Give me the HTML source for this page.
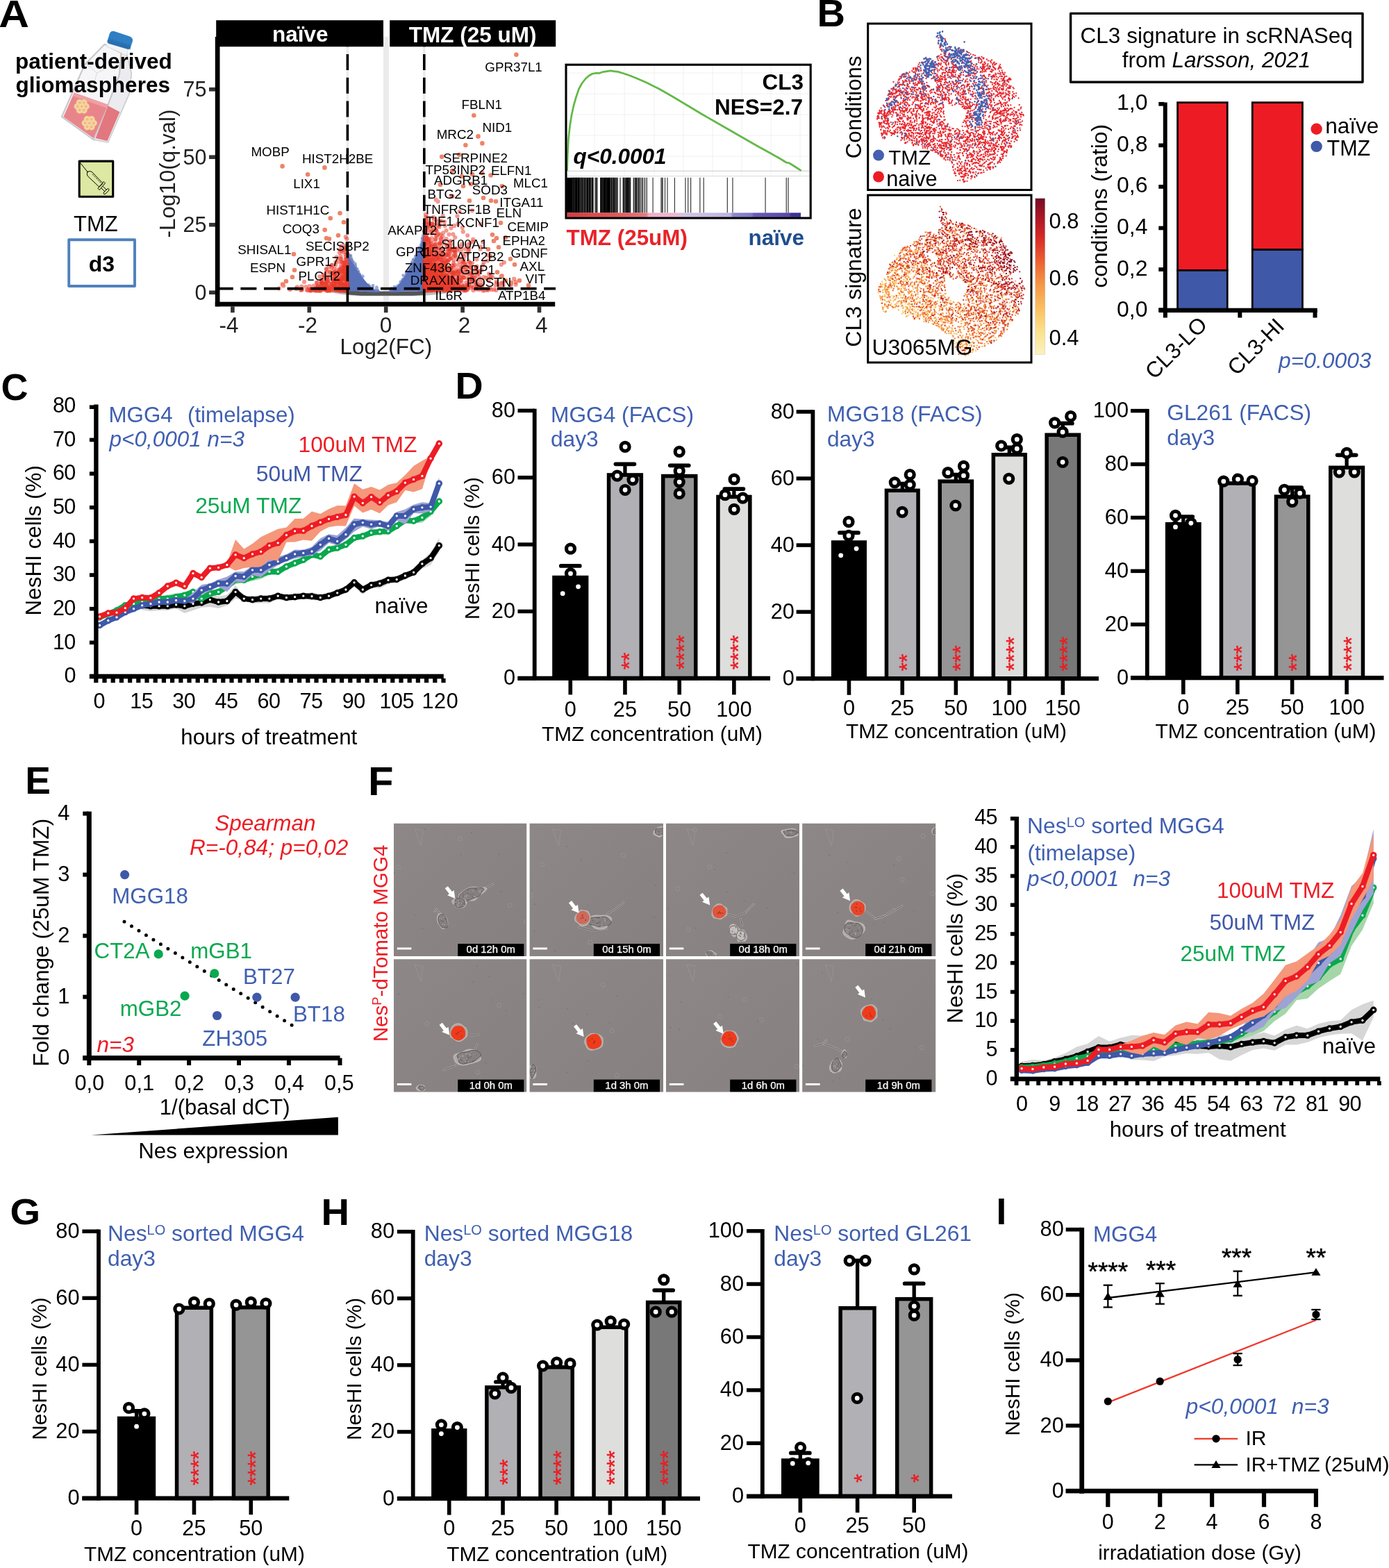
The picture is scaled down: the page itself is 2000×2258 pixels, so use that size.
<!DOCTYPE html>
<html lang="en"><head><meta charset="utf-8"><title>Figure</title>
<style>html,body{margin:0;padding:0;background:#fff;overflow:hidden}svg{display:block}text{font-family:"Liberation Sans", sans-serif;}</style>
</head><body>
<svg width="2000" height="2258" viewBox="0 0 2000 2258">
<rect width="2000" height="2258" fill="#fff"/>
<g id="pA">
<text x="-1.7" y="39" font-size="55" font-weight="bold" transform="scale(1.1 1)">A</text>
<polygon points="174.4,76.2 181.4,73.8 189.3,105.6 186.4,134.4 155.5,205.0 134.6,201.1 171.9,107.6" fill="#ececf0" stroke="#cdcdd1" stroke-width="1.7" stroke-linejoin="round"/>
<polygon points="150.6,63.8 174.4,76.2 171.9,107.6 155.5,150.8 134.6,201.1 88.9,168.2 121.7,93.6" fill="#f6f6f8" stroke="#c9c9cd" stroke-width="2.2" stroke-linejoin="round"/>
<polygon points="156.0,62.0 185.0,71.0 182.0,80.0 174.4,76.2 152.0,66.0" fill="#f3f3f5" stroke="#d0d0d4" stroke-width="0.6"/>
<polyline points="125.0,93.0 139.5,105.0 151.0,99.5" fill="none" stroke="#d2d2d6" stroke-width="0.8"/>
<polyline points="139.5,105.0 136.0,118.0" fill="none" stroke="#d2d2d6" stroke-width="0.8"/>
<polygon points="155.5,152.3 172.4,161.3 154.5,203.0 137.6,199.1" fill="#e2777f"/>
<polygon points="106.8,133.4 155.5,150.8 134.6,199.1 91.4,168.2" fill="#e8858b"/>
<polygon points="106.8,133.4 155.5,150.8 153.5,155.5 104.6,138.2" fill="#f0a0a4"/>
<circle cx="124.0" cy="153.3" r="4.6" fill="#f6d7a0" stroke="#f0be8c" stroke-width="0.6"/>
<circle cx="120.9" cy="158.8" r="4.6" fill="#f6d7a0" stroke="#f0be8c" stroke-width="0.6"/>
<circle cx="114.6" cy="158.8" r="4.6" fill="#f6d7a0" stroke="#f0be8c" stroke-width="0.6"/>
<circle cx="111.4" cy="153.3" r="4.6" fill="#f6d7a0" stroke="#f0be8c" stroke-width="0.6"/>
<circle cx="114.5" cy="147.8" r="4.6" fill="#f6d7a0" stroke="#f0be8c" stroke-width="0.6"/>
<circle cx="120.9" cy="147.8" r="4.6" fill="#f6d7a0" stroke="#f0be8c" stroke-width="0.6"/>
<circle cx="117.7" cy="153.3" r="4.6" fill="#f6d7a0" stroke="#f0be8c" stroke-width="0.6"/>
<circle cx="124.0" cy="153.3" r="1.7" fill="#f0b587"/>
<circle cx="120.9" cy="158.8" r="1.7" fill="#f0b587"/>
<circle cx="114.6" cy="158.8" r="1.7" fill="#f0b587"/>
<circle cx="111.4" cy="153.3" r="1.7" fill="#f0b587"/>
<circle cx="114.5" cy="147.8" r="1.7" fill="#f0b587"/>
<circle cx="120.9" cy="147.8" r="1.7" fill="#f0b587"/>
<circle cx="117.7" cy="153.3" r="1.7" fill="#f0b587"/>
<circle cx="135.0" cy="177.2" r="4.6" fill="#f6d7a0" stroke="#f0be8c" stroke-width="0.6"/>
<circle cx="131.8" cy="182.7" r="4.6" fill="#f6d7a0" stroke="#f0be8c" stroke-width="0.6"/>
<circle cx="125.5" cy="182.7" r="4.6" fill="#f6d7a0" stroke="#f0be8c" stroke-width="0.6"/>
<circle cx="122.4" cy="177.2" r="4.6" fill="#f6d7a0" stroke="#f0be8c" stroke-width="0.6"/>
<circle cx="125.5" cy="171.7" r="4.6" fill="#f6d7a0" stroke="#f0be8c" stroke-width="0.6"/>
<circle cx="131.8" cy="171.7" r="4.6" fill="#f6d7a0" stroke="#f0be8c" stroke-width="0.6"/>
<circle cx="128.7" cy="177.2" r="4.6" fill="#f6d7a0" stroke="#f0be8c" stroke-width="0.6"/>
<circle cx="135.0" cy="177.2" r="1.7" fill="#f0b587"/>
<circle cx="131.8" cy="182.7" r="1.7" fill="#f0b587"/>
<circle cx="125.5" cy="182.7" r="1.7" fill="#f0b587"/>
<circle cx="122.4" cy="177.2" r="1.7" fill="#f0b587"/>
<circle cx="125.5" cy="171.7" r="1.7" fill="#f0b587"/>
<circle cx="131.8" cy="171.7" r="1.7" fill="#f0b587"/>
<circle cx="128.7" cy="177.2" r="1.7" fill="#f0b587"/>
<path d="M157.2,50.5 Q158.5,44 164.5,45 L187,52.4 Q192.5,55 190.6,60.5 L187.6,69.3 Q186.3,71.6 183,70.6 L156.6,62.7 Q153.8,61.3 154.7,58.6 Z" fill="#2f7fc4"/>
<path d="M156.2,56.5 L188.6,66.5 L187.6,69.3 Q186.3,71.6 183,70.6 L156.6,62.7 Q153.8,61.3 154.7,58.6 Z" fill="#2668a8" opacity="0.55"/>
<line x1="158.50" y1="55.00" x2="161.10" y2="63.20" stroke="#2668a8" stroke-width="0.9"/>
<line x1="161.80" y1="56.02" x2="164.40" y2="64.22" stroke="#2668a8" stroke-width="0.9"/>
<line x1="165.10" y1="57.04" x2="167.70" y2="65.24" stroke="#2668a8" stroke-width="0.9"/>
<line x1="168.40" y1="58.06" x2="171.00" y2="66.26" stroke="#2668a8" stroke-width="0.9"/>
<line x1="171.70" y1="59.08" x2="174.30" y2="67.28" stroke="#2668a8" stroke-width="0.9"/>
<line x1="175.00" y1="60.10" x2="177.60" y2="68.30" stroke="#2668a8" stroke-width="0.9"/>
<line x1="178.30" y1="61.12" x2="180.90" y2="69.32" stroke="#2668a8" stroke-width="0.9"/>
<line x1="181.60" y1="62.14" x2="184.20" y2="70.34" stroke="#2668a8" stroke-width="0.9"/>
<line x1="184.90" y1="63.16" x2="187.50" y2="71.36" stroke="#2668a8" stroke-width="0.9"/>
<text x="22" y="98.6" font-size="31.5" font-weight="bold">patient-derived</text>
<text x="22.6" y="132.6" font-size="31.5" font-weight="bold">gliomaspheres</text>
<rect x="114.20" y="232.10" width="48.50" height="51.10" fill="#dde8a3" stroke="#000" stroke-width="3.1" stroke-linejoin="round"/>
<g fill="none" stroke="#000" stroke-width="1" stroke-linecap="round" stroke-linejoin="round">
<line x1="115.60" y1="234.60" x2="126.00" y2="247.40" stroke="#000" stroke-width="1"/>
<path d="M126,247.4 Q129.5,245.5 132.5,247.6 L148.2,264.2 L143,269.4 L126.3,253.6 Q124.2,250.6 126,247.4 Z" fill="none"/>
<path d="M149.5,261.8 L151.5,263.8 L143.2,273.6 L141.2,271.6 Z" fill="none"/>
<path d="M148.7,268.8 L153.5,273.6 M146.2,271.2 L151,276" fill="none"/>
<path d="M155.8,271.5 Q157.8,272.3 156.8,274.2 L151.8,279.3 Q150,280.3 149,278.6 Q149,277.2 150.4,275.8 Z" fill="none"/>
<line x1="133.00" y1="251.00" x2="134.50" y2="252.30" stroke="#000" stroke-width="0.7"/>
<line x1="135.60" y1="253.70" x2="137.10" y2="255.00" stroke="#000" stroke-width="0.7"/>
<line x1="138.20" y1="256.40" x2="139.70" y2="257.70" stroke="#000" stroke-width="0.7"/>
<line x1="140.80" y1="259.10" x2="142.30" y2="260.40" stroke="#000" stroke-width="0.7"/>
<line x1="143.40" y1="261.80" x2="144.90" y2="263.10" stroke="#000" stroke-width="0.7"/>
</g>
<text x="106.1" y="332.8" font-size="31">TMZ</text>
<rect x="99.20" y="345.20" width="94.80" height="66.80" fill="#fff" stroke="#4f81bd" stroke-width="3.9" stroke-linejoin="round"/>
<text x="146.3" y="390.7" font-size="32" text-anchor="middle" font-weight="bold">d3</text>
<rect x="552.00" y="53.00" width="8.00" height="383.00" fill="#ebebeb"/>
<rect x="498.60" y="67.00" width="3.60" height="369.00" fill="#ebebeb"/>
<rect x="609.00" y="67.00" width="3.60" height="369.00" fill="#ebebeb"/>
<path d="M470,417 Q500,419.5 520,421 L600,421 Q630,419 665,417 L650,421.5 Q620,425.5 600,426.2 L520,426.2 Q495,425.5 470,420 Z" fill="#bdbdbd"/>
<path d="M501,418 L520,419.4 L600,419.4 L611,418.2 L611,424.4 L595,425.8 L520,425.8 L501,424.2 Z" fill="#555"/>
<polygon points="501.5,419.5 500.5,367.0 502.2,369.8 503.8,372.6 505.5,375.3 507.1,378.0 508.8,380.6 510.4,383.2 512.1,385.8 513.7,388.2 515.4,390.6 517.1,393.0 518.7,395.3 520.4,397.5 522.0,399.7 523.7,401.8 525.3,403.8 527.0,405.8 528.7,407.7 530.3,409.5 532.0,411.2 533.6,412.8 535.3,414.3 536.9,415.8 538.6,417.1 540.2,418.3 541.9,419.3 543.6,420.1 545.2,420.7 548.0,419.5" fill="#5872b9"/>
<polygon points="610.5,419.5 610.9,321.4 609.2,338.5 607.6,347.8 605.9,353.7 604.3,358.2 602.6,362.1 601.0,365.6 599.3,369.0 597.7,372.3 596.0,375.4 594.3,378.6 592.7,381.6 591.0,384.5 589.4,387.4 587.7,390.2 586.1,393.0 584.4,395.6 582.7,398.2 581.1,400.7 579.4,403.0 577.8,405.3 576.1,407.5 574.5,409.6 572.8,411.6 571.2,413.4 569.5,415.1 567.8,416.7 566.2,418.1 564.5,419.3 562.9,420.3 561.2,420.8 560.0,419.5" fill="#5872b9"/>
<path d="M501.7 368.8h0m.3-2.1h0m.3 3.9h0m.4 1.1h0m.5 2.3h0m0-4.2h0m.1 5.4h0m.4-7.3h0m1.3 .2h0m.1 1.5h0m.4 11.1h0m.3-8.5h0m.3 0h0m.1 11h0m.6-7.7h0m.1 5.8h0m.1-1.9h0m.6 4.2h0m.3-4.6h0m.1 2.7h0m1.2 7.1h0m.5-3.7h0m1.7-1.8h0m.2 5.9h0m.2-6.7h0m.2 .9h0m0 2.4h0m.3 6.1h0m.7-.4h0m1.1 6.2h0m.1-8.6h0m.3-1.9h0m.1 5.8h0m.2 1.4h0m.3-4.1h0m.4-.2h0m.1 4.7h0m2 7.2h0m.2-7.3h0m.6 3.1h0m1.9 2.7h0m1.8 3h0m.5 2.8h0m.3-1.8h0m.2 8.2h0m.5-3.3h0m.9 8.7h0m1-8.1h0m.5-.7h0m1 3.6h0m1.7 1.9h0m.3-2.7h0m.6 2.7h0m.8-4.4h0m.1 5.9h0m0 1h0m.1-3.4h0m1.2 2.4h0m.6 2.6h0m.3-.9h0m0-2.3h0m.8 3.2h0m.1 0h0m3.1 0h0m.3 0h0m.1-7.8h0m1.5 7.8h0m.1 0h0m.5 0h0m.9 0h0m1.3 0h0m.8 0h0m.9 0h0m.2-.4h0m.1 .4h0m.2 0h0m.4 0h0m18.4 0h0m.9 0h0m.1-3.1h0m.3 3.1h0m.9 0h0m.8-2.5h0m.5 .9h0m1 1.6h0m.5 0h0m.2 0h0m.2-.3h0m.2 .3h0m0 0h0m2.1 0h0m.7-3.9h0m.3 1.7h0m.8-2.8h0m.4 2.2h0m1.1 2.8h0m1-3.4h0m.1-4.2h0m.1 3.5h0m.7-3.3h0m0-1.4h0m0 2.8h0m2.2 1h0m.2-4.1h0m.8-1h0m.1-2.1h0m.6-3.2h0m.3 2.8h0m.8-4h0m.3-5.7h0m.5 13.9h0m.8-7.3h0m.7 6.6h0m.6-8.9h0m.5-.9h0m.2-2.8h0m.3 .1h0m1.3-4.5h0m.3 6.5h0m.6-5h0m1.2-.5h0m.1 2.7h0m.1-6.7h0m.5 2h0m.4-5.3h0m1.6 1.2h0m.1 .4h0m2.6-9h0m.5 2.2h0m2-8.1h0m1.1 5.9h0m1.5-9.9h0m.4 4.9h0m1.1-1.4h0m.6-.6h0m.9-8h0m1.4 .2h0m.4 .7h0m.5-2.5h0m.1 1.6h0m0-8h0m.5 2h0m1.8 1.4h0m.2-3.2h0m1.4-2.8h0m.3-2.3h0m.4-8.7h0m.4 6.8h0m1.3-16.1h0m.9-7.5h0" fill="none" stroke="#5872b9" stroke-width="4.6" stroke-linecap="round" stroke-opacity="0.6"/>
<path d="M500.5 364.9h0m.2 2.8h0m.3 1.1h0m.3 0h0m1 7.4h0m.8-4.4h0m.1-3.2h0m.4 2.9h0m.2 3.9h0m.3-6.6h0m.4 5.3h0m.8 2.2h0m0 0h0m.6 2.3h0m.4-4.4h0m.1 2.9h0m.3 .7h0m0-2.4h0m.8 1h0m.8 5.9h0m.7 .2h0m0-5h0m.1 6.2h0m1.1 2.7h0m.2-.8h0m1 4.4h0m.1-5h0m0-5.2h0m.1 7.6h0m.8 .6h0m.3-1h0m.1 9.5h0m.3-.7h0m2.3-2h0m.2 .4h0m.6-2.4h0m.7 7.1h0m.1 1.4h0m.1-4.9h0m.5 3.7h0m.1 6.4h0m.5-8.9h0m.8 4h0m1.5-2h0m1.5-1h0m.3 17.5h0m.2-16.8h0m.3 13.4h0m1-5.3h0m.4 2.8h0m.9 2.6h0m.5 1.1h0m1.7 4.5h0m.3-6.2h0m1.1-.3h0m.2 7.7h0m1.4 .3h0m.6-3.7h0m1.4 3.5h0m.2-6.4h0m1.5 3.3h0m.4-.4h0m2.4-.7h0m.8 4.4h0m0 0h0m.8 0h0m1.6 0h0m.8 0h0m.7-1h0m.1 1h0m.2-3h0m.3 3h0m.2-5.3h0m.4 2.8h0m0-2.2h0m1.6 4.7h0m18.5-1.7h0m1.4-.2h0m.1-1.1h0m.1-.2h0m2 3.2h0m.3-1.9h0m.6 1.3h0m.6-5.2h0m.1 5.8h0m.4 0h0m.2-3.2h0m.4 3.2h0m.5 0h0m.2-1.8h0m.4 1.8h0m1-1h0m0-1h0m1.2-2.8h0m.3-2.2h0m.2 1.5h0m1 .1h0m.8 1.6h0m2-9.2h0m2.9 3.7h0m.5-4.7h0m.4-.5h0m.1 3.5h0m.3-5.9h0m1.7-1.3h0m0 8.4h0m.2-2h0m.5-8h0m.8 .5h0m1-5.9h0m.4 0h0m.5 5.3h0m.5-2.2h0m.1 5.2h0m0-9.4h0m1.3 1.4h0m1.1-1.6h0m.9-.7h0m.8-2.6h0m1.1-.8h0m.1-2h0m.1 .1h0m.3 2h0m1.5-11.3h0m1-2h0m.4 9.3h0m0-5.4h0m.9-2.4h0m.4 0h0m1.8-1.9h0m.8-2.4h0m.2-4.1h0m.4 .6h0m.5 2.6h0m.5-6h0m.1-5.7h0m.6 8.1h0m.6-1.4h0m.2-7.9h0m1.5 4.8h0m.2 .7h0m.3 2h0m2.1-13.8h0m.6 4h0m.7-7.8h0m.5-2.5h0m0-1.1h0m.8 2.4h0m.5-8.5h0m1.4-16.4h0" fill="none" stroke="#5872b9" stroke-width="4.6" stroke-linecap="round" stroke-opacity="0.6"/>
<path d="M447.5 418.4h0m2.8-1.1h0m2.4 .9h0m1.3 .3h0m.4-3.6h0m1.2 2.6h0m.8 .8h0m.4-11.1h0m1.1 10.8h0m2.1-.3h0m2.1-10.3h0m1.9 5.6h0m.2 3.8h0m1.4-1.8h0m.8 2h0m.9-8.3h0m2 5.9h0m.9-26.7h0m.2 24.2h0m3-28.2h0m.2 32.7h0m0-31.9h0m1.4 7.3h0m3.2-10.3h0m.6 26.5h0m1.6 9.4h0m.1-8.3h0m.5 3.2h0m.1 5.1h0m.6-13.7h0m.5-21h0m.9 26.9h0m.2-28.3h0m.8 13.4h0m.4-6h0m.3 29.1h0m1-8.6h0m1.1 1.5h0m.2-22.6h0m.6 27.8h0m.4-1.7h0m.1-10.3h0m.7 10.9h0m.2-27.2h0m.4 30.6h0m.2-9.5h0m.2 7.7h0m.8-47.4h0m.8 31.6h0m.1-39.4h0m.4 55.5h0m1.1-17.2h0m.3-9h0m.2 9.6h0m.8 18.3h0m.1-36.1h0m.1 27.7h0m1.7-21.3h0m.1 29.9h0m.1-6.3h0m0 4.1h0m.6-21.8h0m.1-38.1h0m.3 56.2h0m0-18.8h0m0 6.5h0m.1-34.1h0m.4 7h0m.3 39h0m0-.9h0m.1 1.7h0m.1-9.5h0m.2-46.3h0m.6 48.3h0m0 3.9h0m.3-42.7h0m.1 17.7h0m0 4.8h0m.2 13.8h0m0-12h0m.2 27.5h0m.1-.3h0m.1-.1h0m.2-.6h0m110.6-54.7h0m0 15.4h0m0-11.9h0m.1-34.8h0m0 73.5h0m.3-5.4h0m.1 14.3h0m0-16.3h0m0-31.1h0m.1 30.6h0m.3-24.1h0m.2-26.9h0m0 69.5h0m.1-14.7h0m.1-7h0m0 12.2h0m0-48.3h0m0 52.4h0m.2 7.8h0m0-5.1h0m.4-31.7h0m.1-12.2h0m.1-60.1h0m.1 64.4h0m.1-23.6h0m0 57.9h0m.1 7.3h0m.1-21h0m.1-85.4h0m0 96.9h0m.1 12.1h0m0-79.1h0m.1-14.6h0m.6-7.9h0m0 78h0m0-52.4h0m0 58.6h0m.1-15.1h0m0 .6h0m.1 28.7h0m.3-27.6h0m0-67.2h0m.1 47.2h0m0 22.2h0m.2-4.3h0m0-49.5h0m.2 74.1h0m.1-36.4h0m.1 42.2h0m.3-4.1h0m.1 4.7h0m0-33h0m0 28.3h0m.1-10.6h0m0-55.8h0m.1 47.7h0m0 22h0m0-6.9h0m.1-20.9h0m.1-40.2h0m.1 62.9h0m.1 8h0m.2-.9h0m.1-57.2h0m.1 42.2h0m0 10.3h0m.2 5.8h0m0-.2h0m.1-10.9h0m0 5.5h0m.1-.9h0m0-97h0m.2 95.7h0m.1 5.5h0m0-10.2h0m0 10.4h0m.1-54.3h0m.1 50.7h0m0-29.8h0m0-61.1h0m.2 64.3h0m.1-7.6h0m0 5.1h0m.1 .3h0m0-57.2h0m.1 39.3h0m0 46.5h0m0 4.7h0m.2 .9h0m0-2.6h0m.2-6.9h0m.1-7.6h0m.3-7.9h0m.2-15.9h0m0 36.9h0m0-48.8h0m.3 52.4h0m.3-15.3h0m.1-37h0m.1 47.9h0m0 5.2h0m.1-23.8h0m.3 7.7h0m.2-46.4h0m.4 27.6h0m.2 15.4h0m.1 7.1h0m.7 12.6h0m.2-13.7h0m.1-2.7h0m.3 13.2h0m.1-28.9h0m.1 8.6h0m.1-.9h0m.2-70.4h0m0 65.8h0m.1 24.6h0m0-26.5h0m0-16.8h0m.1 46.9h0m.1-20.7h0m0-22.7h0m.1-5.7h0m0 23.3h0m0 6.1h0m.1-14.2h0m.3 14.3h0m0 18.1h0m.2-27h0m.1-21.2h0m0 12.5h0m.1 35.9h0m0-31.3h0m0 5.6h0m.2 15h0m0-39.6h0m.1 31.8h0m.1 17.7h0m.1-49.6h0m.1 27.7h0m.7 .2h0m.2-39.5h0m.2 35.7h0m0-17.9h0m.3 .8h0m.3 36.3h0m.1 3.7h0m.1-7.2h0m.1-9.2h0m.1-10.3h0m.3 25.2h0m.1-123.2h0m.2 51.9h0m.3 73.2h0m.3-27.4h0m.1 13h0m.2-29.4h0m.2 11.8h0m0 23.4h0m.2-84.3h0m.3 91.2h0m.1 4.5h0m.1-17.4h0m0 2.5h0m.1-29.8h0m0 36.5h0m.1-70h0m.2 66.9h0m.3-28.9h0m.2-85.2h0m.2 99.3h0m0 18.1h0m.2-23.3h0m0 29.8h0m.1 1.1h0m.1-12.2h0m0-35.7h0m0 25.7h0m.1 3.8h0m.3 19.2h0m.2-15.2h0m.1-7.5h0m.1 22.7h0m.5-20.3h0m.1 1.3h0m0-78.6h0m.2 5.9h0m.3 87.2h0m.1-38.1h0m0 20.4h0m.2-23.4h0m1.1 8.3h0m0 12.7h0m.4 20.6h0m.1 .7h0m.1-67.9h0m0-1.3h0m.1 23.6h0m.8 28.4h0m.7-15.9h0m0 14.5h0m.3 22.1h0m.2-65.5h0m.2 27.7h0m.2 12h0m.1-41.5h0m.1 33.4h0m.1 12.6h0m.1-27.5h0m.3 36.6h0m.8 13.2h0m.9-7.3h0m0-23.9h0m.2 14.7h0m0-54.2h0m.1 57.4h0m.2-28.5h0m.8 41.4h0m0-35.5h0m.1 37.1h0m.9-36.4h0m.4-38h0m.6 50.3h0m.6-40.7h0m.2 55.4h0m0-14.8h0m.6-35.1h0m.7 7.3h0m.1-.7h0m.3 9.1h0m.4 27.3h0m.2 13.1h0m0 1.5h0m1.3-6.7h0m.5-25.7h0m.2 23.3h0m.2 .8h0m.2-37.3h0m.4 46.3h0m0-17h0m.2 5h0m0-77h0m.6 77.9h0m0 7h0m.2-3.3h0m.3 6.6h0m.2-6.7h0m.5-51.6h0m.5-75.3h0m.1 115h0m0-6.4h0m.6-54.3h0m.1 56.7h0m1 21.7h0m.1-41.1h0m.2 31.7h0m.1-39.2h0m.1 14.5h0m.3 26.6h0m.7-44.8h0m.7 5.1h0m0 1.8h0m2.7 41.2h0m1.1-10.7h0m.2 8.6h0m.2-18.5h0m.4 4.9h0m.6 18.9h0m.9-24.7h0m.5 9.1h0m.7-9h0m0 24h0m.4 1.8h0m1.8-64.4h0m2.6 23.3h0m.4 43.3h0m2.5-29.9h0m1.6 24h0m2.3-55.1h0m.9 53h0m1.6-25.1h0m.7 17.9h0m0-24.1h0m.3 35.5h0m1.6-19.2h0m.3-16.1h0m.3 23.3h0m8.5 9.9h0m.4-20.6h0m2.7 11.8h0m.3 12.3h0m1.5-26.9h0m2.9 10.2h0m5.6 17.7h0m5.3 .5h0m14.3-36.1h0m1 16.1h0m13 10.9h0m6.9 1.6h0" fill="none" stroke="#e93323" stroke-width="6.2" stroke-linecap="round" stroke-opacity="0.5"/>
<path d="M402 415.3h0m30.8 2.5h0m7.5-4.7h0m1.5 4.4h0m3.9-.3h0m6.8 .6h0m5-4.7h0m2.8-14.8h0m.9 16.6h0m1 3.4h0m1.4-1h0m.5-9.5h0m1 8.2h0m.8-6.8h0m.5 4.5h0m.9-15.2h0m.5 16.9h0m1.5 1.5h0m.4-11h0m.1-18.5h0m.2 30.1h0m.2-12.3h0m.7 .2h0m1.7-3h0m.7 11.7h0m.2 4.2h0m.8-20.4h0m.8 16.8h0m.4 4.1h0m1.5-10.1h0m.7-26.7h0m1.4 28.3h0m.5-16.3h0m.3 12.7h0m0 8.6h0m.6-14.4h0m.4-.2h0m.3 11h0m.1-19.7h0m.6 15.7h0m.1-9.8h0m1.5-20.6h0m0 32h0m.6-8.9h0m0 14.1h0m.4-23h0m.9 18.1h0m.2 4.9h0m.2-1.2h0m.1 3.6h0m3.1-27.7h0m.1 0h0m.4-29.6h0m.1 51.4h0m.6-20.2h0m.1 12.9h0m.1-.1h0m0 15h0m.3-.5h0m1-11h0m.1 9.3h0m.1-28.6h0m.2 14.8h0m.8 8.1h0m.5 8h0m.2-40.9h0m.8 24.1h0m.2 8.9h0m.1-25.7h0m1.8 6.3h0m.1 10.8h0m.7-8.8h0m.5-23.2h0m.6 44.2h0m.4-23.3h0m0-9.4h0m.5 19.2h0m.2-5.5h0m.2 11.6h0m0-41h0m.1 9.6h0m.2 36.5h0m.1-30.7h0m.4 30.7h0m110.4-21h0m.2 8.5h0m.1-18.1h0m.1-19h0m.2 4.2h0m0 48.3h0m.1-2.7h0m0-27.2h0m0-4.3h0m.2 33.4h0m0-16.3h0m.1 19.4h0m.1-13.4h0m.1-9.8h0m0-33.7h0m.1 35.5h0m0-10.9h0m.1 5.6h0m.1 7.5h0m0 20h0m0-6.4h0m.2 5.5h0m0-13.1h0m.1-25.2h0m.1 27.9h0m0-55h0m.1 18.2h0m.1 39.4h0m.1-64.9h0m0 69.6h0m0-7.8h0m.1-13.7h0m.1-4.6h0m0 20.5h0m.2-41.9h0m0 51.3h0m.1-8.3h0m.1-38.3h0m0 36.4h0m0-65.1h0m.1 65.9h0m0-44.2h0m.1 45.4h0m0-9.7h0m0 16.4h0m.1-34.6h0m0 31.7h0m0-8.7h0m.1-46.2h0m.1 49.7h0m.1-1.9h0m0-39.5h0m.1 45.3h0m.1 6.2h0m0-3.4h0m.1-3.9h0m0-4.5h0m.1-15.4h0m0 22.9h0m.1-42.6h0m.1 3h0m.2 21.8h0m0 21.3h0m0-1.9h0m.2-8.4h0m.1-23.7h0m.2-8.2h0m.1-6.8h0m.1 20.1h0m0-22.4h0m.1 .2h0m.2 42.9h0m.1-15.7h0m.4 13.2h0m0 1.6h0m.1-36.2h0m0 31.2h0m.1 12.4h0m.2-53.9h0m0-38.6h0m.1 54.5h0m.1 21.6h0m.1 5.3h0m0 5.6h0m.1-52h0m.1 54.5h0m.2 4.2h0m0-48.3h0m.4 36.1h0m0 8.7h0m.1-8.5h0m.2-40.2h0m.1 44.2h0m0-13.5h0m0-31.6h0m0 46.1h0m.4 7.1h0m.2-11.2h0m.2 10.5h0m0-12.2h0m0 12.1h0m.1-10.5h0m.1-29.6h0m.2 12.9h0m.2-8.1h0m.2-7.9h0m.1 18.5h0m0 8.7h0m0-50.3h0m0 49.9h0m.2-36.9h0m.1 1.3h0m0 4.6h0m.2 4.8h0m.1-29.7h0m0 68.2h0m0-8.4h0m.1-70h0m.3 81.4h0m0-32h0m.1-47.1h0m0 66.1h0m.1-31.4h0m0 21.1h0m.1 22.7h0m.1-71.6h0m0 67.9h0m0-65.5h0m.3 55.6h0m.3-19.1h0m.1 .3h0m.1-12.7h0m0 35.6h0m.2 .5h0m0-3.2h0m0 13.3h0m.2-.2h0m.3-3h0m.1 3.9h0m0-2.3h0m.1 1.6h0m0 .4h0m.1-61.9h0m0 29.9h0m0-39.3h0m0 69h0m.5-24.7h0m.1 6.6h0m0 20.8h0m.5-41.7h0m0 37.9h0m.1 2.1h0m0-.9h0m.1-15.3h0m0-11.9h0m.2 7.1h0m.1 21.6h0m.2-1.1h0m.1-11.2h0m.1 3.3h0m.2 5.5h0m.1-31.6h0m.2 35.2h0m0-5.1h0m.9 3.7h0m.3-83.2h0m.1 14.1h0m.1 60.1h0m.4 6.4h0m.2 3.6h0m.1-10.9h0m.5 10.7h0m0-46.8h0m.3 28.6h0m.1 13.2h0m0-43.9h0m.6 44h0m.1-4.4h0m.2-21.5h0m.3-13.9h0m.1 27.2h0m0 19.4h0m.2-3h0m.2-10.2h0m.6-47.2h0m.2 54.2h0m.2-4.8h0m.2-17h0m0-2.7h0m.1 .6h0m0-20h0m.4-1.3h0m.5-15.6h0m0 17.7h0m.6 14.9h0m0 27h0m.4-25.5h0m.1 8.1h0m.2 9.2h0m.1-37.5h0m.1 42.7h0m.1-68.1h0m.5 22.8h0m.1 13.2h0m.1 19.1h0m0 18.2h0m.2-22.7h0m.1 3.3h0m.3 20.3h0m0 2.1h0m.1-2.8h0m.3-14.5h0m.1 7h0m.5 5.2h0m.1-3.4h0m.1-38.9h0m.2 46.6h0m.5-5.7h0m.1-17.2h0m.8 22.2h0m.2-43h0m0 8.2h0m.7 31.7h0m0 6.2h0m.3-1h0m.6-27.3h0m0-17h0m.2 37.2h0m.1 2.2h0m.2-30.7h0m1 26h0m.1-27.8h0m.6 37.2h0m.4-19.2h0m.3-27.8h0m.6 47.7h0m.8-.6h0m.1-1.5h0m0-25.3h0m.4-13.7h0m.6 .8h0m.8-37.9h0m.8 34.7h0m0-13.7h0m.2 41.6h0m.9 5.8h0m.3 4.9h0m.7 6.4h0m.3-31.9h0m0 28h0m.7-6.9h0m1.2-23.8h0m.4 26h0m.3-1.5h0m1.5 1.1h0m.4 2.4h0m.1-16.9h0m.2-31.9h0m1.4-4.3h0m0 10.5h0m1.2 37h0m1-11.7h0m.9 23h0m.4-93.9h0m.3 71.7h0m.1-19.3h0m0 39.7h0m0-23.5h0m1.2 23h0m.8-53.4h0m0 50.9h0m.9-34.4h0m.2 25.3h0m.4-30.3h0m.9-12.9h0m.2 26.9h0m0 19.7h0m1.2 4.8h0m.3-33.6h0m6.5 39.8h0m1-2.4h0m.3-20.1h0m.4-10.4h0m5.6 15.8h0m2 14.1h0m.7-11.1h0m1.6-4.3h0m2.5-14.9h0m.4 26.2h0m7.2 4h0m1.1-31.7h0m.2 36.3h0m8.6-24.2h0m1.2 20.6h0m8.5-3.9h0m1.2-2.7h0m9.1-.4h0m.7 3.3h0m15.5-9.4h0" fill="none" stroke="#e93323" stroke-width="6.2" stroke-linecap="round" stroke-opacity="0.5"/>
<path d="M434.5 416.7h0m8.6 1.5h0m.2-1.3h0m8.4-5.3h0m1.4 3.3h0m3.3-3.2h0m1.5 2.3h0m.4 1.7h0m1.6-1.9h0m.9 .1h0m1 0h0m.7-5.1h0m1-2.4h0m.5 8.1h0m1.5-18.3h0m.9 19.8h0m2-2.3h0m.9-1.4h0m.5-4.2h0m.2 1.6h0m.6 3.7h0m0-2.5h0m.9-11.5h0m.5 19.4h0m1-14.1h0m.6 7.2h0m.4 6.1h0m1.5-5h0m.5-2.2h0m1.6 1.2h0m.5 4.7h0m1.7-4.2h0m.3 1.2h0m0-19.8h0m.7 20.6h0m1.4-1.5h0m.3-12.5h0m.5 2h0m.3 14.1h0m.2-10.7h0m.1 7.6h0m1.9-12.5h0m1 15h0m1.1-14.1h0m.1 2.7h0m1 14h0m.3-.2h0m.3-14h0m0-6.2h0m.4 9.5h0m.5-3.4h0m.2-18.1h0m.1-.9h0m.4 6.5h0m0 24.3h0m.8-2.8h0m.1-36.2h0m.1 18.9h0m.1-4.1h0m.5 8.6h0m.4 17.5h0m.9-1.6h0m.6-53.2h0m.4 53h0m.1-6.1h0m.1-23.7h0m.1 31h0m1-33.9h0m.1 15.2h0m.1-45.2h0m.7 24.7h0m.1-19.2h0m0 52.3h0m.1 7.1h0m.1-2.2h0m0 1.4h0m.1-16.8h0m.4-59.6h0m.2 52.7h0m.2 21.2h0m.6-6.7h0m1.2 7.1h0m.1 2.3h0m.4-8.1h0m110.5 1.1h0m0-34.8h0m0 15.1h0m0 15.2h0m0-13.2h0m.1-16.8h0m.1-16.1h0m.1 31.9h0m0-15h0m.2 15.1h0m.1 23.3h0m.1-8.5h0m.1 2.8h0m.1-42.7h0m0 35.9h0m0-48.8h0m0 50.2h0m.1 8.4h0m.1-2.4h0m0 3.2h0m.2-22.6h0m0-9.1h0m0 30.8h0m.1-7.2h0m.1-2.6h0m.1 13.5h0m.1-24.5h0m.5-11.8h0m.4-.3h0m0 19h0m.2 13.8h0m0-60.8h0m0 58.5h0m.1 .9h0m0-13.4h0m.1-30.5h0m.1-20.7h0m.1 65.6h0m0-90.2h0m.1 71.2h0m0 15.8h0m.2-11.8h0m.4 12.3h0m0-26.8h0m0 25.7h0m.1 2.6h0m.1 1h0m0-15.5h0m.1-.5h0m.1 16.9h0m.2-50.1h0m.1 51.1h0m.2-19.1h0m.1-12.3h0m0-4.5h0m.1 29.4h0m.1 10h0m0-19.1h0m0-6.1h0m0 8.3h0m.1-9.1h0m0 11h0m.1-9.7h0m.1 25.1h0m.1-52.8h0m0 .2h0m0 34.3h0m.1 6.2h0m.1-52.9h0m.1 55.6h0m.2-83.6h0m.2 77.2h0m0-9.1h0m0 5.3h0m.3 5.8h0m0-54.6h0m.1-4.7h0m0 35.1h0m.1-7.8h0m.1 45.8h0m.2-17h0m.2 9.5h0m.2-57.2h0m.1 58.4h0m.5-3h0m.3-14.8h0m0 12.7h0m0-82.8h0m.1 89.4h0m.3-37.9h0m.1 35.9h0m.1-14.8h0m0 17.4h0m.2-10.4h0m.1-39h0m0 45.6h0m0 5.7h0m.2-1h0m.1-15.5h0m.1 14.1h0m0-16.3h0m.5 14.6h0m.1-79.4h0m0 52.1h0m0-3.1h0m.2 31.4h0m.1-.7h0m0-11.8h0m.1 13.2h0m.1-16.8h0m0-33.6h0m.1 50.5h0m0-2.9h0m0-15.3h0m.2-8.6h0m0 13.8h0m0 5.5h0m.2-4.8h0m.1-78.9h0m.2 83.3h0m.2 7.7h0m0-39.9h0m.1 23.5h0m0 7.6h0m.3 4.5h0m.2-6.2h0m0 6h0m0-20.6h0m.2 29.9h0m.3-.9h0m.4-4.2h0m0-27.5h0m.4-25h0m.2-44.1h0m.1 64.2h0m.2 23.9h0m.4-22.1h0m.3 8.1h0m.2-20.7h0m.5 48.4h0m.1-8h0m0-58.5h0m.2 43.4h0m.3-78.5h0m0 75.5h0m.1-47.3h0m.2 65.1h0m0-55.9h0m.4 49.4h0m.1-71.3h0m0 35.7h0m.1 28.1h0m0 .7h0m.1 4.9h0m.1-22h0m0 39.1h0m0-19.2h0m.2 1.7h0m0-7.8h0m.3-23.6h0m.1 39.1h0m.1-67.6h0m0 74.3h0m.9-38.5h0m.2-16.2h0m.1 52.1h0m.2 2.9h0m.1-32.4h0m.2 5.4h0m.3 24.1h0m.7 2.5h0m.1 .9h0m.1 2.1h0m.2-23.3h0m0 17.2h0m.2-51.3h0m0 40h0m.1-73.7h0m.1 46.6h0m.9 14.3h0m.8-4.3h0m0 16.2h0m.4-55.3h0m0 36.2h0m.1-9.8h0m.1 18.1h0m0-19h0m.5 29.8h0m.3-81.4h0m.2 38.4h0m.1 27.2h0m0 11.8h0m.2 14.2h0m.2-35.1h0m0 16.9h0m.1 25.2h0m.1-7.3h0m.2-48.8h0m1 49h0m.2-8.8h0m.1 2.8h0m.1 1.2h0m.2-69.8h0m.9 68.5h0m.8-84.5h0m.1 90.3h0m0-8.1h0m.3-1.1h0m.1-1.2h0m0 12.9h0m.4-2.2h0m.7-3.1h0m.9-1.4h0m.2-73.4h0m.1 34.6h0m.1 31.1h0m.1-44.3h0m.5 8.9h0m.2 26.2h0m.1-.7h0m.1 10.6h0m.3 11.7h0m.6 5.1h0m.3 2h0m.4-7h0m.4-3.1h0m.2 6.3h0m.6-3.1h0m.5-51.5h0m.2-10.3h0m.3 67.1h0m0-13.3h0m0-48.3h0m.2 11.1h0m0 40.5h0m.3-6.3h0m.2 19h0m.7-2.2h0m.4-30.1h0m.4 19.9h0m.2 8.8h0m.5-14.2h0m0-7.6h0m.4 13.3h0m.2-46.4h0m2.2 36.8h0m.9 10.4h0m.2 7.3h0m0-17.7h0m.2 17.7h0m.1-54.3h0m.6-18h0m.1 63.8h0m.5-7.6h0m0 3.8h0m.7-10.9h0m.1 16h0m.5 7.9h0m2-33.5h0m.8 17.8h0m.4 7h0m1.5-.9h0m1.4-14.5h0m1 9h0m.4 16.8h0m1.5-4.1h0m.3 .6h0m.3-79.5h0m.4 84.4h0m.5-18.4h0m1.1-30.6h0m1.3-10.5h0m.3 23h0m1.7 18.8h0m.1-10.3h0m1-51.1h0m.4 25.4h0m.3 47.5h0m.4-49.9h0m2.3-12.3h0m.4 28.9h0m2.4 22.8h0m.3-11.8h0m1.7 28.5h0m4-32.3h0m.7 19.5h0m.3-31.9h0m3.1 43.5h0m.6-17.9h0m1.7-76.3h0m3.4 25.7h0m2.6 69.8h0m1.8-1.5h0m2.4-49.4h0m.1 8.3h0m1.8 28.3h0m2.8-5.6h0m2.6 .9h0m2 17.6h0" fill="none" stroke="#e93323" stroke-width="6.2" stroke-linecap="round" stroke-opacity="0.5"/>
<path d="M408.2 411.4h0m18.6 4.5h0m7.9 1.5h0m3.4-11.5h0m8.4 12.6h0m.5-1.5h0m.2 .2h0m.8-1h0m7.6 1.6h0m2.3-5.3h0m.5 6.2h0m4.2-14.5h0m.8 3.4h0m5.4 6.5h0m1.2 4.3h0m0-1.2h0m.3-10.5h0m.2 12h0m.7-2.5h0m.7 1.1h0m2.3-5.5h0m.3 4.8h0m.4-8.4h0m.5 1.5h0m1.3 3.4h0m.3-3.6h0m3.1 .4h0m.1-5h0m.1-11.5h0m0-5.2h0m1 20.3h0m.6-6.5h0m.9 9.5h0m.3-7.2h0m.4-8.4h0m1.1 6h0m.6 12.7h0m1.5-4.5h0m.1-5.6h0m.3 1.7h0m0 11.5h0m.2-41.7h0m.2 32.2h0m.6-15.5h0m.1-15.8h0m.6-12.9h0m.5 52.9h0m.1-42.3h0m.2 31.9h0m0-5.6h0m.1 15.5h0m1.1-16.5h0m.4 16.5h0m.2-34.9h0m.2-7.7h0m.2 33.8h0m.8 7.4h0m0-12.8h0m.2-1.7h0m.8 16.9h0m.3-15.9h0m.2-22.9h0m.1 23.4h0m.1 5.5h0m.1-10.8h0m.5-9.4h0m.2-27h0m.4 45.6h0m.2-17.3h0m.1 2.5h0m0 24.3h0m.1 .4h0m.2-30.2h0m.2 27.8h0m.1 4.1h0m.1-3.2h0m.2-5.1h0m.3 9.3h0m.4-6.8h0m1.1-32.1h0m.2-6.7h0m.7 25.8h0m1-14.1h0m110.5 28.2h0m.1-23.4h0m.1 26.8h0m.1-4.8h0m.1-15.3h0m0-61.6h0m.3 50.7h0m0 18.6h0m.1 .7h0m0-12.2h0m.3 22.3h0m.1-4.3h0m0-26.5h0m.1 11.6h0m0-41.6h0m0 30.3h0m.2 24.7h0m.1-20.7h0m0 19.9h0m0-49.5h0m.1 22.3h0m0 21.1h0m0-6.7h0m.1 22.9h0m.1-49.4h0m0 24.2h0m.1 22.9h0m.1-28.9h0m0 29.4h0m.1-12.6h0m0 13.3h0m0 .3h0m.1-8h0m0 4.2h0m0 1.3h0m.1-75.1h0m0 56.6h0m.1 16.7h0m.1-100.4h0m0 105.3h0m.2-6.9h0m.1-44.1h0m.2 20.8h0m0 11.6h0m.1-17.7h0m.1 1.2h0m.2 29.6h0m0-83.4h0m.2 84h0m0-35.7h0m0-31.9h0m.1 48.2h0m0 22h0m.1-29.7h0m.5-7.5h0m0-4.8h0m0 12.7h0m.1-7.8h0m.2 14.6h0m0 25h0m0-74.4h0m.2 14.7h0m0 43.3h0m0 5.9h0m.2-6.5h0m0-21.6h0m.1-3.5h0m.1 37.3h0m.1 3.2h0m.3-8.5h0m0-1.7h0m.3-27.8h0m0 37.1h0m0-5.6h0m.1-16.4h0m0-1.8h0m.1-36.9h0m.1 47.1h0m.1 3.9h0m0-7.3h0m.1 14.3h0m.1 2.9h0m.1-1.7h0m.1-17.1h0m.3 3.3h0m0 17.3h0m.1-35.9h0m0-9.1h0m.1 9.5h0m.2-6.9h0m.2 34.5h0m0 8.5h0m.1-41.8h0m.1 10.4h0m.1 17.6h0m0 5.3h0m.1-34h0m0 8.8h0m.2 16.8h0m.2 15.1h0m0-9.6h0m.1-2.4h0m0-44.9h0m.4-8.1h0m.1 43h0m.1 8.3h0m0-20.6h0m0 4.6h0m.3 29.6h0m.1-15.3h0m0 16.9h0m.3-4.2h0m.1-27.6h0m.3 24.1h0m0-59.9h0m0 10.3h0m0 44.1h0m.1-53.3h0m.3 54.5h0m0 2.9h0m0-27.9h0m.2-14.5h0m.1 25.6h0m.2-66.5h0m.1 89.5h0m.1 .2h0m.4-1.6h0m.2-78.1h0m.1 71.8h0m.1-5.4h0m.1-16.7h0m.2 8.9h0m.1 17.8h0m.2-55.6h0m.3 35.2h0m.4 20.8h0m0-27.6h0m.3 5.1h0m.1-6.7h0m0 29.4h0m.6-31.6h0m.2 19.4h0m.4 13.7h0m.2-.6h0m.1 .9h0m.5-21.5h0m0 25.2h0m.1-10.7h0m.1-22h0m0 32.7h0m.1-19.8h0m.1-23.9h0m.3-11.7h0m0-11.1h0m.1 61h0m.1-7.4h0m.1-12.9h0m.1 5.7h0m.1 17.1h0m0-5.7h0m0-4.7h0m.4 5.9h0m0-5.2h0m.5-72.2h0m.1 83.2h0m.2 1.5h0m.1-11.3h0m.4-15.8h0m.2-8.9h0m0-8.7h0m.1 36.3h0m0 4.5h0m.2-8.6h0m.3-23.2h0m.4 14.4h0m0 17h0m.8-77.1h0m.1 67.1h0m0-5.2h0m.2 18.9h0m.9-29.5h0m.1-36.4h0m.4 34.1h0m.4 29.8h0m.6-14.4h0m0 0h0m0 11.8h0m.1-2.9h0m.3-25.7h0m0 26.4h0m0-4.6h0m.3-6.3h0m0-15.4h0m1.2 7.4h0m.1 1.1h0m.2-3.4h0m.1-13.3h0m.4 35.2h0m.1-32.1h0m.2-7.6h0m.2 41.9h0m.1-16.6h0m0-9.2h0m.2 26.2h0m.3 3.5h0m.1-3.4h0m.2-4.7h0m.4 .7h0m0-5.6h0m.2 3.7h0m.3 4.2h0m.3-41.6h0m.6 13.6h0m0 32.5h0m.4-10.9h0m.2-27.6h0m0 27.8h0m.1 3.2h0m0 2h0m.2-33.1h0m0 18.9h0m.1 20.3h0m0-27.8h0m.4 18.9h0m.4 7.9h0m.7-2.6h0m.2-1.6h0m.2-35.2h0m.1-10.6h0m.3 .6h0m.9 33.1h0m.8 2.3h0m.6-35.1h0m.2 28.7h0m.7-35.6h0m.9 47.5h0m.4-15.3h0m.1-2.1h0m.3 9.2h0m0 13h0m.7 5.2h0m.4-45.1h0m0-90.8h0m.6 114.1h0m.2 4.4h0m0 5.5h0m1.7-16.7h0m.2 18.4h0m.1-4.3h0m.9-34.5h0m.3 16.1h0m.5-59.6h0m1 65h0m.1 20.7h0m.4 6h0m.3-53.6h0m2.4 24.6h0m.2-76.6h0m.8 105.6h0m1.4-3.6h0m.2-.6h0m.7-108.2h0m.5 50.8h0m.5 61.4h0m.7-21.5h0m.2 18.1h0m.6-9.5h0m1.4-11.2h0m0-12.8h0m1.1 19.9h0m.4-15.1h0m.8-2.4h0m.7 31.5h0m1.3 4.7h0m0-38.5h0m3 30h0m.4 1.3h0m.8 4.4h0m.3-4.4h0m1.4-10h0m.4 4.6h0m.3-11h0m.5 8.4h0m.7 1.9h0m1.6-8.4h0m1.5-48.6h0m2.7 51.2h0m1.9-13.2h0m.2 23.2h0m.8 5.8h0m1-20.9h0m2.2 15.2h0m2.3-50.7h0m.4-3h0m3.2 52.7h0m1.2-30.2h0m4.2 22.6h0m5.9-2.6h0m10.6 10.9h0" fill="none" stroke="#e93323" stroke-width="6.2" stroke-linecap="round" stroke-opacity="0.5"/>
<path d="M417.7 417.1h0m9.5-3h0m.8-.7h0m6.3-.8h0m11 1.7h0m.4-2.3h0m3.2 6.1h0m6.4 .4h0m.6-11.3h0m1.8 9.6h0m3.3 2h0m.1-.8h0m.2-4.9h0m1.3-2.8h0m.7-7.4h0m.4 6h0m1.4 .4h0m1.6-7.4h0m.1 10.7h0m.1-15.5h0m1.9 19.6h0m.8-23.8h0m.2 17h0m.4 3.3h0m.5-12.8h0m0 13.7h0m.2-9.3h0m.2 11.1h0m3.1-.6h0m.8-23.9h0m2.6-6.1h0m1.2 28.2h0m1.1-9.3h0m.3-11.7h0m.1 10.2h0m.1 1h0m.2-8.2h0m0 14h0m.1-8.5h0m.5 9.8h0m.7-9.8h0m1.9 17.2h0m.6-14.2h0m.2-2.7h0m0-31h0m.3 45.5h0m1.9 .9h0m.5-13.6h0m1-12.3h0m.2 23h0m.4-9.1h0m.2 3.2h0m.5 5.7h0m.9-41.2h0m.6-18h0m0 39.7h0m.5-6.8h0m1.4 8.9h0m.2 17.2h0m0-7.1h0m.2 11.4h0m1-18.2h0m0 13.2h0m0-.3h0m.1 0h0m.2-7h0m.4 8.2h0m.1-30.3h0m.2 9.2h0m.5 16.6h0m.1-15.1h0m0 24.7h0m.2-25.8h0m.3-5.3h0m.4-9.5h0m.1 30.3h0m.4-8.2h0m.1 17.9h0m.4-3.1h0m1.5-71h0m.3 68.3h0m.1-48.3h0m0 18h0m111.2 15h0m.1 2.6h0m.1-15.2h0m0-41.8h0m.1 49.1h0m.2 13.1h0m0 8.4h0m.1-38.3h0m0-.5h0m.1 36.2h0m0-22.2h0m.2 19.2h0m.2-48.9h0m.1 41.2h0m0-16.5h0m.3 33h0m0-24.6h0m.2 19.3h0m0-28h0m.4 4.4h0m.3 17.2h0m0 .4h0m0 10.7h0m.2-21.5h0m.1-24.8h0m0 3.1h0m0-12.1h0m0 36.9h0m.1-13.4h0m0-36.9h0m0-29.7h0m.2 25.9h0m0 70.3h0m.1-2.5h0m.2 4.1h0m.1 3h0m0-7.8h0m0-37.3h0m0 36h0m.2-33.3h0m0-5h0m.1 41.9h0m.2-65.3h0m0 69.4h0m.1-8.8h0m.1-88.2h0m.2 90.7h0m0-1.1h0m0-4h0m.4-45.3h0m.1 52.5h0m.1-63h0m0 59.1h0m.2-29h0m0 3.4h0m0 20.2h0m.1 1.9h0m.1-56.8h0m0 53.8h0m.1 13.2h0m0-13.3h0m0-71.8h0m.3 35.6h0m.3-17.7h0m.1 67.4h0m.1-2.5h0m.1-8h0m0 4.7h0m.1-15.1h0m0 22.5h0m0-4.2h0m.2-21.3h0m0-12.9h0m.1 36.6h0m.3-13h0m0 6.6h0m.1-13.7h0m0 6.5h0m0 5.7h0m.1-1.9h0m.4 7.7h0m0-16.5h0m.1 18.9h0m.1-12.3h0m.3 .3h0m0-8.2h0m0 20.3h0m0-11.8h0m.2-9.2h0m0-39.5h0m.1 54.5h0m.1 4.1h0m.2-33.4h0m0-22.9h0m0 56.6h0m.1-56.3h0m.2 41.6h0m.1-10h0m.1 9.9h0m0-9.6h0m0 19.3h0m0 1.3h0m0-22.3h0m.2-9.2h0m.1 25.2h0m.2 1.6h0m0 11h0m0-2.1h0m.1-46.8h0m0 8.5h0m0 36.1h0m0-46.2h0m.1 47.8h0m.2 4.4h0m.6-47.2h0m.1 39h0m.1-87.8h0m0 83.9h0m0 10.8h0m0-24.1h0m.2 3.9h0m.2 17h0m0-36.1h0m.1 9.3h0m.1 6.1h0m.3 7.9h0m.3 16.1h0m0-57.1h0m0 25.1h0m.3 5.1h0m.3 2.5h0m.1-79.9h0m0 83.5h0m.5-14.9h0m.1-51.2h0m.2 82h0m.1 4.3h0m.5-9.3h0m.1-22.4h0m0 3.9h0m.2 27.2h0m.1-12.6h0m.2-7.3h0m.1 11.5h0m.3-34.1h0m.1 37.6h0m.1-1.4h0m0 3.2h0m0-11.4h0m.2-41.4h0m.2 12.6h0m.3 25.4h0m.2-70.9h0m.1 30.9h0m.2 59.7h0m.3-25.3h0m.1 21.2h0m.1-11.2h0m0-.9h0m.1-75.8h0m0 71.4h0m0 11.2h0m.2-40.6h0m.5 29.1h0m.3-39.4h0m.3 60.7h0m.2-53.3h0m.2 38.3h0m.3-2.1h0m.1-15.1h0m.1-14.7h0m.1 43.6h0m.1-9h0m1-81.3h0m.2 79.9h0m.3 10h0m.3-14.1h0m.2 0h0m.3 15h0m.3-17h0m.1 6.2h0m.2-54h0m.8 54.5h0m.2 1.2h0m.4-.2h0m.3 5h0m.4-14.8h0m0 11.8h0m.4-14.3h0m0 3.5h0m.7 15.9h0m.1-7.4h0m0-40.3h0m.1 46.1h0m.2-18.4h0m.3-52.7h0m.3-29.7h0m0 95.5h0m.5-14.5h0m.6 26.5h0m0-6.7h0m.3-10.6h0m.7-10.3h0m.3 11.5h0m.2 10.2h0m.2-30.2h0m.3-57h0m0 71.2h0m.1 14.4h0m.7-1.6h0m.2-31.9h0m.1 28.9h0m.2 2.9h0m.1 3.3h0m0-9.3h0m.3 12.4h0m.2-17.4h0m0 14.9h0m.3 4.3h0m.5-4.1h0m.4-37.8h0m.3 9.9h0m0 12.9h0m.2 6.3h0m0 11.2h0m.1-.8h0m.8-3.9h0m.4 1.7h0m.2 4.5h0m.4-13.4h0m0 10.4h0m.2-7.8h0m2.1-48.3h0m.1-11h0m0 38.2h0m.5-33.8h0m.1 59.7h0m0-49.6h0m.1 30.8h0m.2 8.3h0m1.1 5.7h0m.4 1.5h0m.6-1.8h0m.2-5.7h0m0 14h0m.1-1.9h0m1-33.7h0m.7 35.7h0m.4-21.5h0m.2 9.8h0m.9 1h0m1-9.1h0m1.9-35.8h0m.2 34.7h0m1.2 15.8h0m1.3 7.3h0m.2-1.9h0m2.6-.9h0m.7-29.7h0m1.4-56.4h0m.2 88.2h0m.4-1.1h0m.4-49.5h0m.9 12.3h0m0 6.9h0m.2 7.1h0m.3 3.3h0m0 4.5h0m.5 11.8h0m.5-27.1h0m2 33.9h0m0-11.3h0m1.2 10.7h0m1.3-64.6h0m1.2 23.5h0m.6-16.9h0m2 25.9h0m1.1 17.7h0m.1-9.8h0m.2 8.1h0m.4 10.6h0m.5-11.3h0m.2-97.5h0m1.3 41.4h0m1.8 62.3h0m2.3-15.5h0m.3 25.1h0m.5-4.8h0m2.3-21.5h0m.6 3.4h0m3.2 17.5h0m10 6.9h0m12.2-.1h0m.4-12.4h0m4.7 7.3h0m2.6-5.5h0m3.8-29.4h0m9.6 32.7h0m7.2-4.4h0" fill="none" stroke="#e93323" stroke-width="6.2" stroke-linecap="round" stroke-opacity="0.5"/>
<path d="M406.6 239.4h0m.4 170.1h0m5-4.5h0m9-6h0m2-33h0m1 23h0m19.1-137.8h0m24.3-9.8h0m.3 89.6h0m2.3 12h0m4 1h0m1.8-29.8h0m11.2 24.8h0m2.5-32h0m5.5 13h0m139-54h0m2.2-40.2h0m14.8 20.2h0m10-23.3h0m4 31.3h0m2 14h0m3.4-59h0m5.6 80h0m2-24h0m2-14h0m2.3-84.8h0m6.2 30.2h0m5.5 52.6h0m.4-42.6h0m1.6 78.6h0m4 115h0m3-41h0m3 10h0m.6-116.5h0m.4 36.5h0m2 49h0m2 9h0m3-57h0m1 53h0m1 49h0m2-36h0m3-35h0m1 77h0m1-130h0m5 74h0m0 62h0m7-31h0m1 34h0m5-26h0m2.4-302.2h0m4.6 325.2h0m13 7h0" fill="none" stroke="#ee8468" stroke-width="6.6" stroke-linecap="round"/>
<line x1="500.40" y1="67.00" x2="500.40" y2="436.00" stroke="#000" stroke-width="3.6" stroke-dasharray="23 10.8" stroke-dashoffset="-11"/>
<line x1="610.80" y1="67.00" x2="610.80" y2="436.00" stroke="#000" stroke-width="3.6" stroke-dasharray="23 10.8" stroke-dashoffset="-11"/>
<line x1="316.00" y1="415.60" x2="800.00" y2="415.60" stroke="#000" stroke-width="3.7" stroke-dasharray="23 10.6" stroke-dashoffset="3.2"/>
<rect x="309.80" y="53.00" width="6.70" height="388.30" fill="#000"/>
<rect x="309.80" y="434.70" width="489.40" height="6.70" fill="#000"/>
<rect x="311.20" y="29.20" width="240.80" height="38.00" fill="#000"/>
<rect x="561.20" y="29.20" width="239.00" height="38.00" fill="#000"/>
<text x="432.2" y="60.4" font-size="31.5" text-anchor="middle" font-weight="bold" fill="#fff">naïve</text>
<text x="680.7" y="61.4" font-size="31.5" text-anchor="middle" font-weight="bold" fill="#fff">TMZ (25 uM)</text>
<rect x="301.00" y="418.40" width="9.00" height="5.60" fill="#333"/>
<text x="297.5" y="431.6" font-size="30.5" text-anchor="end" fill="#1f1f1f">0</text>
<rect x="301.00" y="320.90" width="9.00" height="5.60" fill="#333"/>
<text x="297.5" y="334.1" font-size="30.5" text-anchor="end" fill="#1f1f1f">25</text>
<rect x="301.00" y="223.40" width="9.00" height="5.60" fill="#333"/>
<text x="297.5" y="236.60000000000002" font-size="30.5" text-anchor="end" fill="#1f1f1f">50</text>
<rect x="301.00" y="125.90" width="9.00" height="5.60" fill="#333"/>
<text x="297.5" y="139.10000000000002" font-size="30.5" text-anchor="end" fill="#1f1f1f">75</text>
<rect x="332.10" y="441.30" width="5.60" height="8.90" fill="#333"/>
<text x="329.6" y="479.2" font-size="31.5" text-anchor="middle" fill="#1f1f1f">-4</text>
<rect x="442.50" y="441.30" width="5.60" height="8.90" fill="#333"/>
<text x="443.1" y="479.2" font-size="31.5" text-anchor="middle" fill="#1f1f1f">-2</text>
<rect x="552.90" y="441.30" width="5.60" height="8.90" fill="#333"/>
<text x="555.5" y="479.2" font-size="31.5" text-anchor="middle" fill="#1f1f1f">0</text>
<rect x="663.30" y="441.30" width="5.60" height="8.90" fill="#333"/>
<text x="668.4" y="479.2" font-size="31.5" text-anchor="middle" fill="#1f1f1f">2</text>
<rect x="773.70" y="441.30" width="5.60" height="8.90" fill="#333"/>
<text x="779.8" y="479.2" font-size="31.5" text-anchor="middle" fill="#1f1f1f">4</text>
<text x="555.8" y="510.4" font-size="31.4" text-anchor="middle" fill="#1f1f1f">Log2(FC)</text>
<text x="252" y="250" font-size="31.4" text-anchor="middle" fill="#1f1f1f" transform="rotate(-90 252 250)">-Log10(q.val)</text>
<g font-size="18.8">
<text x="361.4" y="225">MOBP</text>
<text x="435" y="234.8">HIST2H2BE</text>
<text x="422.2" y="270.8">LIX1</text>
<text x="383.5" y="308.7">HIST1H1C</text>
<text x="406.7" y="336.3">COQ3</text>
<text x="439.9" y="360.6">SECISBP2</text>
<text x="342.2" y="365.5">SHISAL1</text>
<text x="426.6" y="383.4">GPR17</text>
<text x="359.9" y="391.5">ESPN</text>
<text x="429.5" y="404.4">PLCH2</text>
<text x="698.3" y="102.8">GPR37L1</text>
<text x="664.6" y="157.4">FBLN1</text>
<text x="694.5" y="190.2">NID1</text>
<text x="628.7" y="200.2">MRC2</text>
<text x="638" y="234.3">SERPINE2</text>
<text x="612.5" y="250.5">TP53INP2</text>
<text x="706.9" y="252">ELFN1</text>
<text x="624.9" y="266">ADGRB1</text>
<text x="738.9" y="270.3">MLC1</text>
<text x="679.8" y="280">SOD3</text>
<text x="615.6" y="286.2">BTG2</text>
<text x="719.2" y="297.5">ITGA11</text>
<text x="609.7" y="308.4">TNFRSF1B</text>
<text x="714.6" y="313">ELN</text>
<text x="613.3" y="325.4">TIE1</text>
<text x="657.3" y="327">KCNF1</text>
<text x="730.5" y="332.7">CEMIP</text>
<text x="558.3" y="338.4">AKAP12</text>
<text x="723.4" y="352.8">EPHA2</text>
<text x="635.2" y="358.2">S100A1</text>
<text x="570" y="368.7">GPR153</text>
<text x="735.5" y="370.9">GDNF</text>
<text x="656.9" y="376.4">ATP2B2</text>
<text x="582.8" y="392.2">ZNF436</text>
<text x="748.6" y="389.9">AXL</text>
<text x="662.8" y="395">GBP1</text>
<text x="590.8" y="410">DRAXIN</text>
<text x="756.4" y="407.7">VIT</text>
<text x="671.7" y="413.1">POSTN</text>
<text x="626.4" y="431.7">IL6R</text>
<text x="716.9" y="432.4">ATP1B4</text>
</g>
<polyline points="727.5,418.6 727.5,415.4 736.0,415.4" fill="none" stroke="#000" stroke-width="0.9"/>
<rect x="815.00" y="93.20" width="352.20" height="220.80" fill="#fff"/>
<line x1="856.00" y1="95.00" x2="856.00" y2="254.00" stroke="#ececec" stroke-width="0.8"/>
<line x1="899.00" y1="95.00" x2="899.00" y2="254.00" stroke="#ececec" stroke-width="0.8"/>
<line x1="942.00" y1="95.00" x2="942.00" y2="254.00" stroke="#ececec" stroke-width="0.8"/>
<line x1="984.00" y1="95.00" x2="984.00" y2="254.00" stroke="#ececec" stroke-width="0.8"/>
<line x1="1026.00" y1="95.00" x2="1026.00" y2="254.00" stroke="#ececec" stroke-width="0.8"/>
<line x1="1068.00" y1="95.00" x2="1068.00" y2="254.00" stroke="#ececec" stroke-width="0.8"/>
<line x1="1110.00" y1="95.00" x2="1110.00" y2="254.00" stroke="#ececec" stroke-width="0.8"/>
<line x1="1152.00" y1="95.00" x2="1152.00" y2="254.00" stroke="#ececec" stroke-width="0.8"/>
<line x1="816.00" y1="105.00" x2="1166.00" y2="105.00" stroke="#ececec" stroke-width="0.8"/>
<line x1="816.00" y1="135.00" x2="1166.00" y2="135.00" stroke="#ececec" stroke-width="0.8"/>
<line x1="816.00" y1="165.00" x2="1166.00" y2="165.00" stroke="#ececec" stroke-width="0.8"/>
<line x1="816.00" y1="195.00" x2="1166.00" y2="195.00" stroke="#ececec" stroke-width="0.8"/>
<line x1="816.00" y1="225.00" x2="1166.00" y2="225.00" stroke="#ececec" stroke-width="0.8"/>
<line x1="816.00" y1="246.30" x2="1166.00" y2="246.30" stroke="#c8c8c8" stroke-width="1.1"/>
<line x1="816.00" y1="253.60" x2="1166.00" y2="253.60" stroke="#d8d8d8" stroke-width="1"/>
<rect x="815.00" y="255.80" width="9.50" height="50.60" fill="#000"/>
<line x1="824.09" y1="255.80" x2="824.09" y2="306.40" stroke="#000" stroke-width="1.1"/>
<line x1="825.09" y1="255.80" x2="825.09" y2="306.40" stroke="#000" stroke-width="1.1"/>
<line x1="825.86" y1="255.80" x2="825.86" y2="306.40" stroke="#000" stroke-width="1.1"/>
<line x1="826.48" y1="255.80" x2="826.48" y2="306.40" stroke="#000" stroke-width="1.1"/>
<line x1="827.12" y1="255.80" x2="827.12" y2="306.40" stroke="#000" stroke-width="1.1"/>
<line x1="828.07" y1="255.80" x2="828.07" y2="306.40" stroke="#000" stroke-width="1.1"/>
<line x1="828.61" y1="255.80" x2="828.61" y2="306.40" stroke="#000" stroke-width="1.1"/>
<line x1="829.48" y1="255.80" x2="829.48" y2="306.40" stroke="#000" stroke-width="1.1"/>
<line x1="829.94" y1="255.80" x2="829.94" y2="306.40" stroke="#000" stroke-width="1.1"/>
<line x1="830.51" y1="255.80" x2="830.51" y2="306.40" stroke="#000" stroke-width="1.1"/>
<line x1="830.99" y1="255.80" x2="830.99" y2="306.40" stroke="#000" stroke-width="1.1"/>
<line x1="831.93" y1="255.80" x2="831.93" y2="306.40" stroke="#000" stroke-width="1.1"/>
<line x1="832.46" y1="255.80" x2="832.46" y2="306.40" stroke="#000" stroke-width="1.1"/>
<line x1="833.05" y1="255.80" x2="833.05" y2="306.40" stroke="#000" stroke-width="1.1"/>
<line x1="833.54" y1="255.80" x2="833.54" y2="306.40" stroke="#000" stroke-width="1.1"/>
<line x1="834.14" y1="255.80" x2="834.14" y2="306.40" stroke="#000" stroke-width="1.1"/>
<line x1="835.03" y1="255.80" x2="835.03" y2="306.40" stroke="#000" stroke-width="1.1"/>
<line x1="835.92" y1="255.80" x2="835.92" y2="306.40" stroke="#000" stroke-width="1.1"/>
<line x1="836.91" y1="255.80" x2="836.91" y2="306.40" stroke="#000" stroke-width="1.1"/>
<line x1="837.93" y1="255.80" x2="837.93" y2="306.40" stroke="#000" stroke-width="1.1"/>
<line x1="838.01" y1="255.80" x2="838.01" y2="306.40" stroke="#000" stroke-width="1.1"/>
<line x1="839.35" y1="255.80" x2="839.35" y2="306.40" stroke="#000" stroke-width="1.1"/>
<line x1="840.02" y1="255.80" x2="840.02" y2="306.40" stroke="#000" stroke-width="1.1"/>
<line x1="841.36" y1="255.80" x2="841.36" y2="306.40" stroke="#000" stroke-width="1.1"/>
<line x1="842.31" y1="255.80" x2="842.31" y2="306.40" stroke="#000" stroke-width="1.1"/>
<line x1="843.06" y1="255.80" x2="843.06" y2="306.40" stroke="#000" stroke-width="1.1"/>
<line x1="844.26" y1="255.80" x2="844.26" y2="306.40" stroke="#000" stroke-width="1.1"/>
<line x1="845.55" y1="255.80" x2="845.55" y2="306.40" stroke="#000" stroke-width="1.1"/>
<line x1="846.46" y1="255.80" x2="846.46" y2="306.40" stroke="#000" stroke-width="1.1"/>
<line x1="847.13" y1="255.80" x2="847.13" y2="306.40" stroke="#000" stroke-width="1.1"/>
<line x1="848.43" y1="255.80" x2="848.43" y2="306.40" stroke="#000" stroke-width="1.1"/>
<line x1="849.63" y1="255.80" x2="849.63" y2="306.40" stroke="#000" stroke-width="1.1"/>
<line x1="850.71" y1="255.80" x2="850.71" y2="306.40" stroke="#000" stroke-width="1.1"/>
<line x1="852.09" y1="255.80" x2="852.09" y2="306.40" stroke="#000" stroke-width="1.1"/>
<line x1="852.72" y1="255.80" x2="852.72" y2="306.40" stroke="#000" stroke-width="1.1"/>
<line x1="853.37" y1="255.80" x2="853.37" y2="306.40" stroke="#000" stroke-width="1.1"/>
<line x1="854.07" y1="255.80" x2="854.07" y2="306.40" stroke="#000" stroke-width="1.1"/>
<line x1="857.04" y1="255.80" x2="857.04" y2="306.40" stroke="#000" stroke-width="1.1"/>
<line x1="858.56" y1="255.80" x2="858.56" y2="306.40" stroke="#000" stroke-width="1.1"/>
<line x1="859.99" y1="255.80" x2="859.99" y2="306.40" stroke="#000" stroke-width="1.1"/>
<line x1="864.70" y1="255.80" x2="864.70" y2="306.40" stroke="#000" stroke-width="1.1"/>
<line x1="865.28" y1="255.80" x2="865.28" y2="306.40" stroke="#000" stroke-width="1.1"/>
<line x1="865.88" y1="255.80" x2="865.88" y2="306.40" stroke="#000" stroke-width="1.1"/>
<line x1="866.75" y1="255.80" x2="866.75" y2="306.40" stroke="#000" stroke-width="1.1"/>
<line x1="867.66" y1="255.80" x2="867.66" y2="306.40" stroke="#000" stroke-width="1.1"/>
<line x1="868.76" y1="255.80" x2="868.76" y2="306.40" stroke="#000" stroke-width="1.1"/>
<line x1="869.47" y1="255.80" x2="869.47" y2="306.40" stroke="#000" stroke-width="1.1"/>
<line x1="870.57" y1="255.80" x2="870.57" y2="306.40" stroke="#000" stroke-width="1.1"/>
<line x1="871.33" y1="255.80" x2="871.33" y2="306.40" stroke="#000" stroke-width="1.1"/>
<line x1="872.06" y1="255.80" x2="872.06" y2="306.40" stroke="#000" stroke-width="1.1"/>
<line x1="872.70" y1="255.80" x2="872.70" y2="306.40" stroke="#000" stroke-width="1.1"/>
<line x1="873.33" y1="255.80" x2="873.33" y2="306.40" stroke="#000" stroke-width="1.1"/>
<line x1="874.44" y1="255.80" x2="874.44" y2="306.40" stroke="#000" stroke-width="1.1"/>
<line x1="875.55" y1="255.80" x2="875.55" y2="306.40" stroke="#000" stroke-width="1.1"/>
<line x1="876.49" y1="255.80" x2="876.49" y2="306.40" stroke="#000" stroke-width="1.1"/>
<line x1="877.08" y1="255.80" x2="877.08" y2="306.40" stroke="#000" stroke-width="1.1"/>
<line x1="877.46" y1="255.80" x2="877.46" y2="306.40" stroke="#000" stroke-width="1.1"/>
<line x1="878.18" y1="255.80" x2="878.18" y2="306.40" stroke="#000" stroke-width="1.1"/>
<line x1="879.06" y1="255.80" x2="879.06" y2="306.40" stroke="#000" stroke-width="1.1"/>
<line x1="880.25" y1="255.80" x2="880.25" y2="306.40" stroke="#000" stroke-width="1.1"/>
<line x1="880.90" y1="255.80" x2="880.90" y2="306.40" stroke="#000" stroke-width="1.1"/>
<line x1="881.92" y1="255.80" x2="881.92" y2="306.40" stroke="#000" stroke-width="1.1"/>
<line x1="883.07" y1="255.80" x2="883.07" y2="306.40" stroke="#000" stroke-width="1.1"/>
<line x1="883.69" y1="255.80" x2="883.69" y2="306.40" stroke="#000" stroke-width="1.1"/>
<line x1="884.65" y1="255.80" x2="884.65" y2="306.40" stroke="#000" stroke-width="1.1"/>
<line x1="885.88" y1="255.80" x2="885.88" y2="306.40" stroke="#000" stroke-width="1.1"/>
<line x1="886.94" y1="255.80" x2="886.94" y2="306.40" stroke="#000" stroke-width="1.1"/>
<line x1="887.90" y1="255.80" x2="887.90" y2="306.40" stroke="#000" stroke-width="1.1"/>
<line x1="889.21" y1="255.80" x2="889.21" y2="306.40" stroke="#000" stroke-width="1.1"/>
<line x1="897.18" y1="255.80" x2="897.18" y2="306.40" stroke="#000" stroke-width="1.1"/>
<line x1="898.01" y1="255.80" x2="898.01" y2="306.40" stroke="#000" stroke-width="1.1"/>
<line x1="898.88" y1="255.80" x2="898.88" y2="306.40" stroke="#000" stroke-width="1.1"/>
<line x1="900.17" y1="255.80" x2="900.17" y2="306.40" stroke="#000" stroke-width="1.1"/>
<line x1="901.39" y1="255.80" x2="901.39" y2="306.40" stroke="#000" stroke-width="1.1"/>
<line x1="902.66" y1="255.80" x2="902.66" y2="306.40" stroke="#000" stroke-width="1.1"/>
<line x1="903.65" y1="255.80" x2="903.65" y2="306.40" stroke="#000" stroke-width="1.1"/>
<line x1="904.33" y1="255.80" x2="904.33" y2="306.40" stroke="#000" stroke-width="1.1"/>
<line x1="905.03" y1="255.80" x2="905.03" y2="306.40" stroke="#000" stroke-width="1.1"/>
<line x1="905.89" y1="255.80" x2="905.89" y2="306.40" stroke="#000" stroke-width="1.1"/>
<line x1="906.99" y1="255.80" x2="906.99" y2="306.40" stroke="#000" stroke-width="1.1"/>
<line x1="907.56" y1="255.80" x2="907.56" y2="306.40" stroke="#000" stroke-width="1.1"/>
<line x1="912.27" y1="255.80" x2="912.27" y2="306.40" stroke="#000" stroke-width="1.1"/>
<line x1="914.11" y1="255.80" x2="914.11" y2="306.40" stroke="#000" stroke-width="1.1"/>
<line x1="915.63" y1="255.80" x2="915.63" y2="306.40" stroke="#000" stroke-width="1.1"/>
<line x1="916.53" y1="255.80" x2="916.53" y2="306.40" stroke="#000" stroke-width="1.1"/>
<line x1="918.39" y1="255.80" x2="918.39" y2="306.40" stroke="#000" stroke-width="1.1"/>
<line x1="919.79" y1="255.80" x2="919.79" y2="306.40" stroke="#000" stroke-width="1.1"/>
<line x1="921.49" y1="255.80" x2="921.49" y2="306.40" stroke="#000" stroke-width="1.1"/>
<line x1="921.55" y1="255.80" x2="921.55" y2="306.40" stroke="#000" stroke-width="1.1"/>
<line x1="923.91" y1="255.80" x2="923.91" y2="306.40" stroke="#000" stroke-width="1.1"/>
<line x1="925.77" y1="255.80" x2="925.77" y2="306.40" stroke="#000" stroke-width="1.1"/>
<line x1="928.50" y1="255.80" x2="928.50" y2="306.40" stroke="#000" stroke-width="1.1"/>
<line x1="931.23" y1="255.80" x2="931.23" y2="306.40" stroke="#000" stroke-width="1.1"/>
<line x1="893.01" y1="255.80" x2="893.01" y2="306.40" stroke="#000" stroke-width="1.1"/>
<line x1="940.11" y1="255.80" x2="940.11" y2="306.40" stroke="#333" stroke-width="1.15"/>
<line x1="951.95" y1="255.80" x2="951.95" y2="306.40" stroke="#333" stroke-width="1.15"/>
<line x1="953.11" y1="255.80" x2="953.11" y2="306.40" stroke="#333" stroke-width="1.15"/>
<line x1="954.27" y1="255.80" x2="954.27" y2="306.40" stroke="#333" stroke-width="1.15"/>
<line x1="957.51" y1="255.80" x2="957.51" y2="306.40" stroke="#333" stroke-width="1.15"/>
<line x1="961.00" y1="255.80" x2="961.00" y2="306.40" stroke="#333" stroke-width="1.15"/>
<line x1="971.44" y1="255.80" x2="971.44" y2="306.40" stroke="#333" stroke-width="1.15"/>
<line x1="986.98" y1="255.80" x2="986.98" y2="306.40" stroke="#333" stroke-width="1.15"/>
<line x1="990.70" y1="255.80" x2="990.70" y2="306.40" stroke="#333" stroke-width="1.15"/>
<line x1="994.64" y1="255.80" x2="994.64" y2="306.40" stroke="#333" stroke-width="1.15"/>
<line x1="1007.87" y1="255.80" x2="1007.87" y2="306.40" stroke="#333" stroke-width="1.15"/>
<line x1="1013.21" y1="255.80" x2="1013.21" y2="306.40" stroke="#333" stroke-width="1.15"/>
<line x1="1047.32" y1="255.80" x2="1047.32" y2="306.40" stroke="#333" stroke-width="1.15"/>
<line x1="1054.97" y1="255.80" x2="1054.97" y2="306.40" stroke="#333" stroke-width="1.15"/>
<line x1="1102.08" y1="255.80" x2="1102.08" y2="306.40" stroke="#333" stroke-width="1.15"/>
<line x1="1132.25" y1="255.80" x2="1132.25" y2="306.40" stroke="#333" stroke-width="1.15"/>
<line x1="1135.03" y1="255.80" x2="1135.03" y2="306.40" stroke="#333" stroke-width="1.15"/>
<defs><linearGradient id="gs" x1="0" x2="1" y1="0" y2="0"><stop offset="0" stop-color="#d93a3e"/><stop offset="0.2" stop-color="#e0565a"/><stop offset="0.34" stop-color="#e87a80"/><stop offset="0.35" stop-color="#eeb0c8"/><stop offset="0.48" stop-color="#ecb8d4"/><stop offset="0.49" stop-color="#d4c4e6"/><stop offset="0.7" stop-color="#bdb4e0"/><stop offset="0.71" stop-color="#8f86cc"/><stop offset="0.79" stop-color="#8078c6"/><stop offset="0.8" stop-color="#6a5cb8"/><stop offset="0.95" stop-color="#5a48ac"/><stop offset="0.96" stop-color="#3a3396"/><stop offset="1" stop-color="#3a3396"/></linearGradient></defs>
<rect x="816.40" y="306.40" width="336.60" height="6.40" fill="url(#gs)"/>
<polyline points="816.6,246.0 817.2,225.0 818.5,200.0 820.5,182.0 823.0,166.0 826.0,152.0 829.5,140.0 833.5,128.0 838.0,120.0 843.0,113.5 848.0,109.0 853.0,106.2 858.0,105.2 863.0,105.4 868.0,103.6 874.0,102.6 879.0,101.8 884.0,102.6 890.0,103.4 897.0,105.5 906.0,108.5 916.0,112.5 930.0,118.5 950.0,128.5 970.0,140.0 990.0,152.0 1010.0,164.0 1030.0,175.5 1050.0,187.0 1070.0,198.5 1090.0,210.0 1110.0,221.0 1125.0,229.5 1132.0,234.0 1136.0,234.6 1140.0,237.0 1147.0,241.5 1153.7,245.8" fill="none" stroke="#62b946" stroke-width="2.7" stroke-linejoin="round"/>
<rect x="815.00" y="93.20" width="352.20" height="220.80" fill="none" stroke="#000" stroke-width="3.1"/>
<text x="1157" y="128.9" font-size="31.5" text-anchor="end" font-weight="bold">CL3</text>
<text x="1156" y="165" font-size="31.5" text-anchor="end" font-weight="bold">NES=2.7</text>
<text x="825.5" y="236.4" font-size="31.5" font-weight="bold" font-style="italic">q&lt;0.0001</text>
<text x="815.5" y="352.6" font-size="31.4" font-weight="bold" fill="#e8232a">TMZ (25uM)</text>
<text x="1158" y="352.6" font-size="31.5" text-anchor="end" font-weight="bold" fill="#1f4e8f">naïve</text>
</g>
<g id="pB">
<text x="1176.5" y="38" font-size="56" font-weight="bold">B</text>
<rect x="1249.70" y="34.00" width="235.30" height="239.50" fill="#fff" stroke="#000" stroke-width="3"/>
<rect x="1249.70" y="281.00" width="235.30" height="241.00" fill="#fff" stroke="#000" stroke-width="3"/>
<path d="M1263 171.2h0m.1 .4h0m.4-3.6h0m.2 2.6h0m.2-3.9h0m0 2.6h0m.3-6.3h0m1.1 4.3h0m.2-3.1h0m.1 12.1h0m.2-6.3h0m.2-6.9h0m.1 14.8h0m.2-16.6h0m.1-2.4h0m0 20.5h0m.1 1.5h0m.2 1.9h0m.2-5.4h0m.3-14.4h0m0-2h0m.7 15.9h0m.2 9.9h0m.1-26.6h0m.2 26.5h0m0-7.6h0m.2-23.4h0m0 21.9h0m.1 9.2h0m.3-23.9h0m.1 29.1h0m.1-10.7h0m.1-10.5h0m.3-10.2h0m0 16.1h0m.1 7h0m0 9.7h0m.1 2.1h0m0-27.8h0m.1-8.7h0m.3 23.2h0m.1-17.6h0m0 6.7h0m.7 27.1h0m.3-5h0m.1-1.3h0m.5-40.5h0m.2 15h0m0 7.8h0m.2 7.3h0m0-5h0m.1 11.3h0m.1 2h0m.1-26.1h0m0 2.2h0m.5 25.2h0m0-32.3h0m0 2h0m.1 7.7h0m0 19.9h0m0-5.5h0m.1 16.3h0m.1-37.4h0m.2 13.2h0m.2-9.6h0m.1-2.2h0m.1 14.2h0m0-15.9h0m0 8.4h0m.2-15.6h0m.1 19.6h0m0-7.2h0m0-4.4h0m.2 9.6h0m0-1.9h0m0 28.1h0m.3-9.8h0m0 4.3h0m.2-24.6h0m.2 22.6h0m.2-45.9h0m.1 39.8h0m.2-17.8h0m.3-1.2h0m.1 12.8h0m.5-10.7h0m0 2.6h0m0 3.8h0m.2-10.5h0m0-11.7h0m.1 40.1h0m.1 1.8h0m.1-51h0m.1 6.1h0m0 28.5h0m.2-28h0m0-5h0m.1 18.4h0m.1 15.4h0m.1-4h0m0-8h0m.1 23.2h0m.1-5.8h0m.1-20h0m.1 12.4h0m0-3.1h0m.1 15.2h0m.1-37.5h0m0 33.6h0m0-13.7h0m.1-7.2h0m0-10h0m.2-16.2h0m.1 24.2h0m.1-.8h0m.2 13.4h0m0-30.4h0m.2 41.8h0m0-12.6h0m.2 6.3h0m.1-36.3h0m.1 37.5h0m.1-49.6h0m.1 34.7h0m.1 12.3h0m.1-18.3h0m0-17.2h0m.1 40.4h0m.1-21.8h0m.1-12.1h0m.1-12.8h0m0 53.6h0m.2-50.5h0m.2 19.9h0m0-24.5h0m0-2.5h0m0 50h0m.2-20.8h0m0 21.5h0m.2-19.5h0m.2-27.3h0m.2 23.4h0m.3 28.4h0m0-25.7h0m0-10.3h0m.6 39.4h0m.1-57.2h0m.1 30.6h0m0-24.4h0m0 11.6h0m.1 24.6h0m.1-25.3h0m.2-15.2h0m.1 3.1h0m0 11.7h0m.2-16.7h0m0-5.8h0m0 0h0m.2 27.6h0m0 39.5h0m.1-2.9h0m.1-31.2h0m0-27.8h0m.2 23.5h0m.3 11.6h0m0-22.5h0m0 45.7h0m.2-12.3h0m.4 4.4h0m0 9.5h0m.1-58.9h0m0 2.3h0m.1 21.9h0m.2 7.3h0m0 27.4h0m.1-33.7h0m.1-31h0m.1 2.3h0m.2 4.9h0m.1-8.6h0m.3 13.1h0m.1 20.6h0m.1 31.2h0m0-36.8h0m.1 7.4h0m0-5.1h0m0-39.4h0m.1 24.9h0m0-8.5h0m0 47.6h0m.1-38.8h0m.1 39h0m0-56.6h0m0 28.4h0m.1 3.3h0m.3 35.3h0m0-65.8h0m.1 61.5h0m0-60h0m.1 10.2h0m.2 49.8h0m.1-44.5h0m0-.5h0m.1 15.1h0m.2 34.9h0m0-2.7h0m0-9.7h0m.4-24h0m.3 18.5h0m0-40.2h0m.2-5.7h0m0 25.2h0m.1-3.1h0m0-5.8h0m.1 45.1h0m0-12.4h0m0-37h0m.2 48h0m.1-13.4h0m0-43.1h0m.1-3.9h0m.2 28.9h0m.1 28.5h0m0-65.2h0m0 41.1h0m.1 13.2h0m.1-46.5h0m0-5.2h0m0 21.5h0m.1 7.4h0m.3-24.3h0m.1 3.2h0m0 14.1h0m0-7.3h0m.1 1.4h0m.2 22.8h0m0-17.3h0m.1-14.4h0m0 2.7h0m.3 12h0m.1 21.5h0m.1-2.3h0m.1 2h0m.2 24.5h0m.1-59.6h0m0 52.6h0m.1-33.1h0m.1 27.9h0m0-41.2h0m.2 33.5h0m.1-13.3h0m.1 17.6h0m0 11.3h0m.2-61.7h0m0-7.1h0m0 29.7h0m.1-1.2h0m.1 43.3h0m.1-58.8h0m.1 33.2h0m.1-12.4h0m.2-20.9h0m.1 20.2h0m0-21.7h0m.1 7.7h0m0 45.4h0m0-9.9h0m0 10.4h0m0-35.1h0m.1 4.1h0m0 13.7h0m.1-50.6h0m.2 56.3h0m0-47.3h0m0 5.6h0m.3 0h0m.2 .5h0m.2 24.4h0m.1 19.7h0m.1-59.7h0m0 41.6h0m0-42.9h0m.1 5.1h0m.1 65.9h0m0-28.9h0m.1 2h0m0-44h0m.1 9.5h0m0-1.3h0m0 13.2h0m.1-4.5h0m0 1.7h0m.1 4.2h0m0 32.2h0m0-36.6h0m.1 46.5h0m0-8.6h0m.1-20h0m0 28.5h0m.1-50.8h0m.1 27.2h0m.1 32.6h0m0-12.3h0m0-24.9h0m0-39.8h0m0 58.6h0m.2-10.5h0m.1 32.8h0m0-25.3h0m0-3.5h0m.2 21.5h0m0-34.3h0m.2 10.5h0m0 23.1h0m0-33.3h0m.1 20.7h0m.2-40.5h0m0 55.7h0m0-16.1h0m.1 1.5h0m.1-23.7h0m0 22.9h0m.1-48.9h0m0 15.4h0m0-24.1h0m.1 26.8h0m0-9.7h0m.1 18.4h0m0 53.4h0m.2-41.7h0m.1-38.4h0m.1 68.2h0m.1-55.9h0m.1 45.2h0m0-67.8h0m0 67.3h0m.1 19.2h0m.2-64.4h0m0 22.2h0m.2 38.5h0m.2-85.1h0m.1 53.9h0m0-55.5h0m0 86.2h0m0-25h0m.1 2.2h0m0-38.8h0m.1-9.7h0m.1 60.6h0m0 16.9h0m0-7.8h0m0-35.5h0m.1 2.4h0m.2-.3h0m0 19.6h0m.1 4.2h0m.2 1.9h0m0-49.1h0m.1 47.7h0m0-66.8h0m0 82.1h0m.1-33.1h0m0-45.6h0m.1 55.5h0m0-27.1h0m0 4.7h0m.1 7.5h0m.1-15h0m0-12.3h0m.2-25.6h0m0 52.8h0m.1-14.1h0m.1 27.7h0m.2-56.4h0m0 28.3h0m0-28h0m.1 37.4h0m.1-36.2h0m0 23.2h0m0 40.8h0m.1-72h0m0 27.2h0m0 23h0m.1 6.6h0m.1-23h0m.1 40h0m0-4.8h0m0-42.1h0m.1 5.1h0m.1 18.7h0m0-30.3h0m0 14.4h0m.1-23.6h0m0-15.9h0m.1 38.6h0m0 14.9h0m0 5h0m.1 23.2h0m0-51.2h0m0 28.7h0m.2-3.8h0m0 37.3h0m.1-92.4h0m0 43h0m0 48.6h0m0-61.6h0m0 39.8h0m.1 25.1h0m.1-73h0m0 63.4h0m.1-12.6h0m.2-71.5h0m.1 69.7h0m.1-29.6h0m0 34h0m.1-42h0m0 15.2h0m0 51.1h0m0-83h0m.1 61.1h0m.1 1.4h0m0-67.9h0m.1 41.8h0m0-48.6h0m.1 34.2h0m0-29.6h0m.1 52.2h0m0 16.2h0m.1-68.2h0m0 23.2h0m0 41.7h0m.1 13.9h0m0-14.1h0m0-50.8h0m.1 52.5h0m.3 9.9h0m.1-34.8h0m0 47.9h0m.2-48.4h0m0 49.4h0m0-49h0m.1-23.9h0m.2 18.1h0m0-16.2h0m.1 17.5h0m0 41.7h0m0-67.5h0m.1 20.6h0m0-42.6h0m0 11.2h0m0 80.2h0m.1-15.2h0m0-21.5h0m0-29h0m.1 62.7h0m0-66.9h0m.3 61.9h0m0-52h0m.1 58.5h0m0 5.2h0m.1-41.4h0m.1 20.6h0m.1-46.5h0m0 26.6h0m.1-26.4h0m0-5.4h0m0 14.1h0m0-24.1h0m.2 53.1h0m0-47h0m.1 24.3h0m.2 9.1h0m.1 15.7h0m0-67.2h0m0 50h0m.1 15.1h0m.1 33.8h0m0-6.2h0m0-.7h0m.1-30.6h0m0-4.6h0m0 15.9h0m0-33.9h0m.3-7.9h0m.1 41.4h0m0-27.7h0m.1-17.6h0m0 54.2h0m0-51.9h0m0-10.3h0m.1 11.3h0m0 53.5h0m.1-77.8h0m0 10.6h0m.1 14h0m0 60h0m0-23.6h0m.1-36.1h0m.1 5.7h0m.1 45.5h0m0-6.4h0m0-74.5h0m.2 62.2h0m.2 29.6h0m.1-5.8h0m0-52.1h0m.1 12h0m.2-43.3h0m.1 15.9h0m0 44.8h0m0-9.3h0m.3-44.3h0m0 75.5h0m.1 10.3h0m0-31.7h0m0 23.6h0m0-81.8h0m.1 5.6h0m.1 60.4h0m0-26.9h0m.1-39.5h0m.1 47.7h0m0-7.5h0m0-48.1h0m0 75.7h0m.1 4.2h0m.1 4.2h0m0 11.8h0m0-64.9h0m.1 9h0m0-24h0m.1 37.8h0m0-46.4h0m.4 16.3h0m.1 56.3h0m0 11.8h0m.1-21.1h0m.1 14h0m.1-12.7h0m.3 12.5h0m.1-19.5h0m0-40h0m0 9.8h0m.2 31.6h0m.1 14.1h0m0-10.8h0m.2-56.6h0m.1 63.8h0m.1-49.3h0m0 24.9h0m0 5.1h0m.1 26.6h0m.1 13.3h0m.1 .7h0m0-23.2h0m.1 16.5h0m0-32.9h0m0 28.8h0m.1-12.5h0m0 12h0m0 3.9h0m0 2.3h0m.1-33.8h0m.1-37.7h0m.2 54.9h0m.1-49.2h0m.2 4.8h0m.1-33.9h0m.2 74.1h0m0-35.1h0m.1 9.4h0m0 55.7h0m0-90.7h0m.1 50.7h0m0 17.8h0m.1-55h0m0 75.6h0m.1-79h0m.2 65.6h0m0-26.8h0m.2 18.3h0m0 1.6h0m.1 17.7h0m.1-62.7h0m.2-26.4h0m.1 47.5h0m0-13.1h0m0 34.8h0m.1 26.3h0m.1-9.7h0m.1-14.4h0m0-80.7h0m0-5.5h0m0 50.3h0m.1 43.4h0m0 17.9h0m0-89.1h0m0-20.7h0m.1 96h0m0-25.4h0m0-12.6h0m.1-22.2h0m0 20.9h0m0-36.9h0m.1 88.8h0m0-26.4h0m0 11.2h0m.1-33.3h0m0 27.8h0m0-83.6h0m.1 104.5h0m.4-22.4h0m.1-71.4h0m0 44.9h0m0 21.1h0m.1-41h0m.1 46h0m0-65.2h0m.1 7.4h0m.1 2.3h0m0 .2h0m.1 45.2h0m0-11.1h0m0-52.4h0m.2 33.4h0m.1-19h0m0 57.9h0m.1 18.2h0m0-28.5h0m.1 25.3h0m.1 7.2h0m0-83.9h0m0-8h0m.1-11.4h0m.1 69.7h0m.1-58.9h0m0 16.8h0m.1-33.2h0m.1 45.4h0m.1-.9h0m.1 11.1h0m0 2.5h0m.1 41.5h0m.1-97h0m0 4.7h0m0 86.5h0m.1-10.5h0m.1-44.6h0m0-17.2h0m0 47.7h0m.1-41h0m.1 61.9h0m0-7.5h0m.1-69.2h0m.1 4.3h0m0-17.5h0m0 43.2h0m.1 27.5h0m.1-46.8h0m0 86h0m0-42.5h0m.1-25.8h0m.1 11.1h0m0 18.8h0m.1-6h0m.2-31.3h0m0 12h0m0 60.7h0m.1-76h0m0-26.6h0m0 62.9h0m.2-31h0m.1 51.6h0m0-72.1h0m0 26.5h0m.1-40.7h0m0 103h0m.1-2.7h0m0-70.6h0m0 55.5h0m.1-23.4h0m0 10.3h0m0 23.8h0m0-21.2h0m0-6.8h0m.1-11.4h0m0-55.7h0m.1 59.6h0m0-8.6h0m0 26.8h0m.1 13h0m0 10.3h0m.2-78.5h0m.1 81h0m0-60.1h0m.1-2.3h0m.3-33.8h0m0 13.2h0m.1 70.3h0m0-32.2h0m.1 33.1h0m0-53.9h0m0-9.1h0m.2-28.5h0m.1 8.6h0m0-2.6h0m.2 101.3h0m.1-112.5h0m0 34h0m0 13.1h0m.2 8.6h0m0-14.3h0m0 14.9h0m.1-33.6h0m.1 73.2h0m0-38.5h0m.1-33.2h0m0-2.2h0m.1 91.6h0m0-64h0m.2 11.3h0m0-18.1h0m0-45.7h0m.1 71.4h0m.1-11.4h0m0 33h0m.2-2.1h0m0 14.1h0m0-70.6h0m.1-26.4h0m0 104.8h0m0-25.4h0m.1-26.2h0m0 49.7h0m.1-6.4h0m0-4.2h0m.1-22.9h0m0-43h0m.2-7.2h0m.1 77.8h0m0-101.3h0m.1 96.9h0m0-78.1h0m0 54.3h0m0 .2h0m0-59.1h0m.2-3.8h0m0 48.7h0m0-28.2h0m.1-36.8h0m.1 112.8h0m.2-86.8h0m.1 18.3h0m0 61.9h0m.1-4.9h0m0-58.6h0m0-14.3h0m0 78.1h0m.1-42.3h0m0 11.1h0m.2-9.3h0m.1-38.3h0m0 33.4h0m.1 45.2h0m0-18.4h0m0-32.8h0m0-14h0m0-3.4h0m.1 60.7h0m.1-35.2h0m.1-25.1h0m.1 63.9h0m0 3.2h0m.1-38.7h0m0-7.7h0m.2-9.2h0m.1-8.1h0m0 13.6h0m0-43.4h0m.1-1.3h0m.1 53.8h0m0 46.4h0m0-66.3h0m.2 14.2h0m.1 9.3h0m.1-43.5h0m.1 26.8h0m0 51.3h0m.2-56.1h0m0-2h0m0 40.3h0m.1 9.2h0m0 3.7h0m0-9.4h0m.1 24.2h0m0-9.8h0m0-73.2h0m0 80.1h0m.2-24h0m0-37.6h0m.1-20.5h0m0 90.2h0m.1-26.8h0m0 21.1h0m0-95.6h0m.1 6.3h0m0 1.9h0m.1 89.9h0m0-50.7h0m0 6.6h0m0 18h0m0-52.7h0m.1 55.5h0m0 21.8h0m0-67.1h0m0 5.1h0m.1 34.2h0m0-26.8h0m.1 34.7h0m0-9.5h0m0-20.1h0m0 28.3h0m0-39.4h0m.1 34.9h0m0 19.4h0m.1-68.9h0m0 53.1h0m.1-41.3h0m0 26.8h0m0-6.2h0m0-48.3h0m.1 59.5h0m0 19.3h0m0-25h0m0 3.9h0m0-1.6h0m.1 13.6h0m0 18.9h0m0-42.3h0m0 52h0m0-90.8h0m.1 24.6h0m.1-22.8h0m.1 81.3h0m0-78.4h0m.1 4.2h0m0 48.9h0m.1 35.7h0m0-6.8h0m0-62.2h0m.2-16.8h0m0 4.9h0m.2 68.2h0m0-70.9h0m0-4.5h0m.1 10.6h0m0 41h0m0-3.8h0m.1-1.5h0m0-65.9h0m0 72.9h0m.1 16.2h0m.1-10.4h0m0-94.2h0m.2 36.7h0m0 29.9h0m0 18.8h0m.2-41.9h0m0 25.2h0m0-15.6h0m.1 57.7h0m.1-62.4h0m.1-35.9h0m.2 95.8h0m0-27.8h0m.1-46.7h0m0 78.6h0m.1-49.9h0m.1 35.6h0m0-48.4h0m.1-55.2h0m0 58.7h0m0 67.5h0m.4-48h0m.1 23.3h0m.1 6.9h0m0-11.2h0m0-52h0m.2-3.4h0m0 85h0m0-4.2h0m.1-44.7h0m0 28.4h0m0-53.3h0m.1-12.8h0m0 88.5h0m.1-88.6h0m0 83.4h0m.2-80.8h0m.1 55.1h0m0-28.8h0m.1 28.7h0m0 9.8h0m0 10.9h0m0-75.1h0m.1 20.7h0m.1 27.6h0m.1 23.2h0m0-89.8h0m0-20.8h0m0 88.4h0m0 16.9h0m.1-98h0m.1 74h0m0 12.3h0m0-40.6h0m.2 20.7h0m.1 28.3h0m0-46.4h0m0 48.1h0m.1-79.2h0m.1 52.4h0m0-57h0m0 39.6h0m0 36.5h0m.1 16.7h0m0-63.5h0m0-2.2h0m.1-8.7h0m0 69.2h0m0-8.2h0m.1-56.6h0m.1 7h0m0 59.3h0m.1 7.6h0m0 4.8h0m0-7.4h0m0-12.9h0m.1-28h0m.2 29.2h0m0-33.4h0m0-38.7h0m.1 30.6h0m.1 39.5h0m0-66.1h0m.1 57h0m0 18.9h0m0-33.4h0m0-4h0m.2-75.9h0m.1 24.3h0m.2 73.5h0m0 24.9h0m0 3.7h0m.1-48.6h0m0 34.5h0m.1 16.6h0m0-44.1h0m0 33h0m.2 5.4h0m0-85.5h0m.1 55.2h0m0-15.6h0m.1-22.5h0m0 44.7h0m.1-15.9h0m0 3.5h0m0 35.1h0m.1-82.9h0m0 63.5h0m0-33.3h0m.1-5.9h0m0 17.1h0m0-5.3h0m.1 8.6h0m.2-33.8h0m0 13.2h0m0 5.8h0m.1-46.7h0m.1 40.4h0m0 59h0m0-15h0m0 7.8h0m0-34.3h0m0-15.2h0m0-9h0m.1 65.6h0m0-61.5h0m0-21.6h0m.1 74.4h0m0-74.7h0m0 59.9h0m0-93.9h0m0 34.9h0m0 15.6h0m0 48.3h0m.1 18.2h0m.2-24.2h0m.1-11.6h0m0 40.1h0m.1-40.3h0m0-7.8h0m0-22.9h0m.1 20.4h0m.1-23.1h0m0 46.1h0m0-20.4h0m0 3.5h0m.1 32.8h0m.2 9.8h0m0-41.6h0m.1-20.9h0m0-2.4h0m0 38.1h0m.1-19.1h0m0 .4h0m.2-38.3h0m0-26.7h0m0 62.2h0m.1 4.8h0m.1 42.6h0m.1-21h0m0 7.2h0m.1-22.9h0m0 13.5h0m.1 6.4h0m0 14.4h0m.1-13.3h0m0 4.8h0m.1-66h0m0 47.7h0m0-38.1h0m.1 24.7h0m.1 26.6h0m0-8.9h0m0 12.6h0m.2-10.6h0m0 4.8h0m.1-29.3h0m.2 47.7h0m0-36.5h0m.2 18.4h0m.1 19.1h0m0-7.2h0m0-68.3h0m.1 15.1h0m.1 0h0m.1 21.5h0m0 3.9h0m.1-24.2h0m0-19.7h0m.1 85.5h0m.2-12.1h0m0-2.7h0m.1-71.8h0m0 71.4h0m.1 2.8h0m0-14.5h0m0-41.3h0m0 41.3h0m.1-19.3h0m.1-74.5h0m0 79.1h0m0 9.2h0m.1-41.7h0m0 0h0m0-1.5h0m0 71.5h0m.2-98.8h0m0 54h0m.2-62.9h0m0 84.9h0m0-60.5h0m.3 4.2h0m.1 47.4h0m.3-35.7h0m0 71.9h0m0-48.1h0m.1-78.9h0m.2 73.3h0m.1 41.6h0m0-38.7h0m.1 10.1h0m0 24.6h0m0-42.8h0m0-10.8h0m.2 70.2h0m.1-125.5h0m.2-.4h0m0 21.3h0m.1 73.6h0m0-43.3h0m0-36.7h0m0 64h0m.1 22.1h0m0-91.4h0m0-13.4h0m.1 42.1h0m.1 71h0m0 7.7h0m.1-12.6h0m0 20.4h0m0-66.8h0m.1 37.2h0m.1 16.7h0m.1-108.9h0m0 103.2h0m0-21.5h0m0 9.5h0m.2-8h0m0 10.4h0m.1-39.9h0m.1 26.8h0m0 40h0m.2-16.7h0m0 4.2h0m.1-2.7h0m.1-89h0m0 66.3h0m0-66.5h0m0 51.9h0m.1 40.4h0m0-16.4h0m.1-88.8h0m0 75.6h0m.1-69.5h0m0 104.4h0m.1-104.5h0m.1 85.8h0m0-21.3h0m0 7.4h0m0-20.9h0m0 56.3h0m.1-77.8h0m.1-32.4h0m.1-4.8h0m.1 116.5h0m0-19.8h0m.1-7.6h0m.2 22.3h0m0 9.5h0m0-46.7h0m0-76.6h0m.1 93h0m0 3.8h0m.1 26h0m0-122.1h0m.2 17.5h0m.1 53.1h0m0-75.5h0m0 10.7h0m.1 119.3h0m0-47.3h0m.1-12.3h0m0-25.8h0m0 13.3h0m.1-30h0m0 82.9h0m0-50.5h0m.1 38.3h0m.1-72h0m.1 39.5h0m0 9.7h0m0 47.7h0m.1-106.4h0m.1 36.7h0m0 66.9h0m.1-94.3h0m0-1.4h0m0 20.6h0m.2 10h0m.1 74h0m0-31.3h0m.2-34.9h0m.1-43.2h0m.1 48.7h0m0 57.4h0m.1-45.9h0m0-24.1h0m.2 8h0m.1 30.4h0m0-36.9h0m0 21.6h0m.1-43h0m.2-9.2h0m.1 13.6h0m0 42.9h0m.1-7.8h0m0-45.7h0m.1 55.9h0m0-44.5h0m0 88.7h0m.1-120.7h0m.1 8.4h0m0 20.7h0m0 74.3h0m.1-70.5h0m.2 47.1h0m.2 34.6h0m0-6.1h0m0-106.1h0m.1 111.8h0m0-50.5h0m0-26.7h0m.2 81.2h0m0-60.4h0m0-47.4h0m0-24.4h0m0 82.6h0m0-45h0m0 24.1h0m.1-34.9h0m.2 28.4h0m0-58.3h0m0 40.5h0m0-6.1h0m.1-35h0m0 22.3h0m.1 22.9h0m0 64.4h0m.1-97.6h0m.1 21.8h0m.1-23.1h0m0 130.1h0m0-24.4h0m0-102.2h0m.1-8.1h0m0 30.3h0m0 42.9h0m.1-105.7h0m0 155.1h0m.1-85.3h0m.1-61.3h0m0 131.1h0m.2 9.2h0m0-92.3h0m.1 25.7h0m.1 13.8h0m0-14.5h0m.2 20.6h0m.1-32.3h0m0 .4h0m.1 32.9h0m.1-77h0m0 91.3h0m0-80.8h0m0 34.4h0m.1-8.4h0m0 78.8h0m0-64.8h0m.1 47.4h0m.1-77.9h0m0 .3h0m0 62.2h0m0-38.4h0m0 85.7h0m.1-18.8h0m0-13.5h0m0-37.6h0m.1-25.5h0m0 14h0m.1-16h0m0 37.2h0m0 35.2h0m.1-101.9h0m.1 134.9h0m.1-93.2h0m0-32.7h0m0 79.8h0m0 36.6h0m.1-91.9h0m0 84.6h0m0 1.1h0m.1 9.9h0m0-144.2h0m.1 112.1h0m0-54.1h0m0 53.2h0m0 28.2h0m0-58.6h0m.1 26.8h0m.1 14.9h0m.1-35.3h0m0 65.2h0m.1 2.6h0m0-57.7h0m.1 37.8h0m0-14.7h0m.1-121.9h0m0 151.7h0m0-109.9h0m.1 70.4h0m0-64.9h0m.1 21.6h0m.1-16h0m0 70.5h0m0-58.2h0m.1-60.8h0m0 66.3h0m.1 21.6h0m0 8.5h0m0 55.8h0m0-112.8h0m0-47h0m.1 154.7h0m0-101.5h0m0 59.9h0m0-109.9h0m0 66.1h0m0 91.7h0m0-80.4h0m.1-45.5h0m0 22.4h0m0 74.5h0m.1-117.4h0m0 15.1h0m.1 61.9h0m0 37.5h0m0-107.3h0m.1-20.3h0m0 33.3h0m0 62.4h0m0 49h0m.1-118.9h0m.1 105.1h0m0 15.6h0m0-94.4h0m0 43.2h0m.1 61.8h0m0-5h0m0-135.3h0m.1 111.6h0m0 15.5h0m0-12.5h0m.1-83h0m0 100.3h0m0-34h0m0-82.3h0m0 70.7h0m.1-81.1h0m.1 135.9h0m0-100.9h0m.1 13.2h0m0 65.7h0m0-44.1h0m.1-57.5h0m0 117.5h0m0-161.2h0m0 119.3h0m.1 5h0m0 2.3h0m0 12.6h0m.1 8.8h0m.1-47h0m0-47.1h0m0 13.4h0m.2-52.4h0m0 130.4h0m0 4.8h0m.1-57.2h0m0-18.1h0m0-16h0m0 24.2h0m0 86.8h0m0-40h0m.1-43.9h0m0-59.9h0m0 131.2h0m0-73.8h0m0-26.3h0m.1-25.1h0m0 18.5h0m0 78.6h0m.1-125.8h0m0 83.9h0m0-36h0m0 68h0m0-92h0m.1 61h0m0-39.3h0m0 74.9h0m.1-54.9h0m.2 4h0m.1-32.8h0m0 18.3h0m.1 26.8h0m0 73.4h0m.1 9h0m0 .9h0m.1-34.5h0m0 23.9h0m.1-22.4h0m.1-40.9h0m0 26h0m0 33.3h0m.1-83.9h0m0 .9h0m.1-26.2h0m0 54.3h0m0 51.3h0m0-105.5h0m.1-16.3h0m0 47.9h0m0 29.7h0m.2-77.3h0m0 26.2h0m0 41h0m.2 54.1h0m.1-51.9h0m0-68.7h0m0 100.3h0m.1-43.8h0m0-37.5h0m.1 55.7h0m0 26.7h0m.1-64.7h0m0 42h0m.1-21.1h0m0 71.5h0m0 4.3h0m.1-84.9h0m.1 39.2h0m0-83.5h0m0-14.8h0m0 111.5h0m0-8h0m0 30.2h0m.1-23.8h0m.1 44.3h0m0-18.2h0m.1 16.5h0m0-59.1h0m0-91.3h0m.1 151.4h0m0-18.5h0m0-19.5h0m0-47.3h0m.1-62.8h0m0 136.6h0m0-83.6h0m0-53.5h0m0 10.4h0m.2 29.1h0m.1 24.9h0m.1 69.8h0m.1-32.5h0m.1 24.1h0m0-91h0m0 27.5h0m.1-5.6h0m.1-21.2h0m0-3.2h0m0 28.4h0m0-84.4h0m.1 49.4h0m.1 67.1h0m0-61.8h0m.1-32.3h0m0 64h0m0 64.2h0m0-119.4h0m.1 21.4h0m0 111.9h0m.1-94.1h0m0-5.1h0m0 72.7h0m.1-136h0m0 46.7h0m.1-3.7h0m0 122.6h0m0-147.4h0m0 22.3h0m.1 102.6h0m.1-73.7h0m0 10.6h0m0-20.1h0m.1 67.6h0m0 40.5h0m0-37.2h0m0-5.6h0m.1-47.7h0m0-20.1h0m0 115h0m.1-18.8h0m.1-120.1h0m0 104.7h0m0 9.2h0m0-123.9h0m0 99.9h0m.1-41.1h0m.1 66.4h0m0-116.3h0m0 118.6h0m0-82.3h0m0 98.4h0m.1-43.1h0m0 29h0m0-118h0m.1-17.8h0m.1 38.8h0m0 4.1h0m0 68.1h0m.1-44.5h0m0-28h0m0 94.4h0m0 15.5h0m0-152.2h0m.2 64.7h0m0-47.9h0m0-6h0m.1 61.3h0m.1-40.6h0m.1 .1h0m0 0h0m0-14.6h0m0 35.4h0m0-30h0m.1 115.3h0m0-3.7h0m.2 9.4h0m.1 7.6h0m.1-17.3h0m0-108.2h0m.1 31.6h0m0-9.2h0m0 92.4h0m.3-130.1h0m.1 116.2h0m.2-72.4h0m0 54.8h0m.1 46.7h0m0-118.9h0m.1 17.6h0m.1 74.4h0m0-70.3h0m.1 83.2h0m.1-124.8h0m0 16.9h0m0-21h0m.1 122.4h0m0 23.5h0m.1-33.4h0m0-56.2h0m.1-31.8h0m0 10.8h0m0 59.1h0m0-70.8h0m.2 85.9h0m.1 26.3h0m.1-97.1h0m0-11.3h0m0 92.2h0m0-17.2h0m.2 14.9h0m0-5.9h0m.1 6.3h0m.1-109.9h0m0 1.1h0m.1 52.3h0m0-41.6h0m0 40.2h0m.1-42.7h0m.1-22.1h0m0 66.8h0m0-61.6h0m0 6.5h0m.1 131.1h0m0-80.4h0m.1-12h0m0-28.8h0m0 106.2h0m0-76.2h0m.2 4.3h0m0 59.7h0m.1-57.3h0m.1-14.8h0m0 3.4h0m.1 61.6h0m0-38.5h0m0-72.1h0m0 69.7h0m.1-67.1h0m0-12.3h0m0 129.6h0m0-74.3h0m0 93.6h0m0-6.9h0m.1-17.1h0m.1-92.1h0m.1 43.1h0m0 43.4h0m0-56.2h0m0-26.1h0m.1 14h0m.1-21h0m0 2.8h0m.1 83.4h0m0-73.4h0m.1 117.1h0m.2-98.5h0m0 79.7h0m0-19.9h0m0 41.3h0m0 1.1h0m.2-37.9h0m.1-123.9h0m0 35.2h0m0 99.8h0m.1 10.6h0m0-66.2h0m.1 79.4h0m0-15.7h0m0-2h0m.3-4.6h0m.1-85.2h0m0 84.1h0m.3-1.2h0m.1 12.7h0m0-28.4h0m.1 8.5h0m0 13.4h0m.1 13h0m.1 .9h0m0-102.5h0m0 104.5h0m.1-112.5h0m.1 95.9h0m0-123.1h0m.1 49.8h0m.1 57.5h0m.1-57.7h0m.1 67.8h0m0-98.3h0m.1 1.7h0m0 21.3h0m0 20.6h0m.1 66.1h0m0-88.2h0m0-2.8h0m0 109.4h0m0-123.4h0m.1 102.1h0m0 7.5h0m.1-11.3h0m.1-61.7h0m.1 52.5h0m.1-107h0m0 106.4h0m.1-90h0m.1-6.3h0m0 5.9h0m.1 93.4h0m.1-72.6h0m0 98.7h0m0 7.8h0m.1-117.5h0m0 110.2h0m0 6.2h0m0-130.3h0m.1 48.2h0m.1-22h0m0 14.8h0m0 40.7h0m.4-66.4h0m0-22.5h0m.1 14.4h0m.2 129.2h0m.1 1.2h0m0-46.2h0m.1-98.4h0m0 6.6h0m0-2.1h0m.1-11.2h0m.1 3.6h0m0 6.2h0m0 8.5h0m0-15.7h0m.2 35h0m.1-22.6h0m0-6.7h0m.1 87.3h0m.1 25.1h0m0 34.4h0m0-126.5h0m.1-14h0m0-21.4h0m.3 41.9h0m0-30.5h0m.1 143h0m.2-133.8h0m.1 7h0m0 120h0m0-144.9h0m.1 38.5h0m0 98.8h0m.3-113h0m.1-12.8h0m0 4.1h0m.1 148.6h0m.1-45.3h0m.1 43.2h0m.1-153.7h0m0 26.9h0m0-27.1h0m.2 28h0m0 104.4h0m.1-14.2h0m0-61.3h0m0 38.1h0m0-59.4h0m.1 60.7h0m0 3h0m.3-63.1h0m0-32.9h0m.1 95.8h0m0-98.2h0m.1 9.8h0m.1 139h0m0-43.3h0m0 8.6h0m.3-101.1h0m0 142h0m0-39.9h0m.1-73h0m.1-15.5h0m0-24.9h0m0-3.6h0m.1 138.3h0m0-115h0m0 136.8h0m0-142.2h0m0 6.2h0m.1 71.2h0m0-106.6h0m.1 50.6h0m0 16.5h0m0-55.2h0m.4 31.4h0m0-22.7h0m.1 103.5h0m0-63.2h0m0-46.6h0m.2 24h0m0 72.7h0m0-104.4h0m.2 30.9h0m.1 12.6h0m.2 67.1h0m.1-101.2h0m.1 27.3h0m.2 95.7h0m0-34.9h0m.2 49.8h0m0-38h0m0 3.8h0m.1-66.9h0m0-11.3h0m.1 105.4h0m0-36.9h0m0 5h0m0 10.3h0m.1 6.9h0m0 32.1h0m.2-102.6h0m0-31.2h0m0-36.9h0m0 165.8h0m.2-4.6h0m.1 23.8h0m.1-161h0m0-.9h0m.1 1.3h0m0 146.7h0m.2-101.9h0m0 49.6h0m.1-112.5h0m0 144.6h0m0-31h0m.1 49.3h0m0-101.5h0m.1 98.8h0m0-34.1h0m.1-70.8h0m0-3.7h0m.1-19.3h0m0 83h0m.1-62.3h0m0-25.5h0m0 77.7h0m0-66h0m.2-1h0m0 27.5h0m0 77.1h0m0-30.1h0m0-62h0m.1-17h0m0 105.8h0m.1-149.2h0m.2 39h0m0 96.3h0m.2 42.8h0m.1-46.9h0m0-128.8h0m.1 175.1h0m0-57.3h0m0-42.4h0m0 83.4h0m.1-8h0m0-25.6h0m0 2.4h0m.2 25.8h0m0-83.5h0m0 44.5h0m.1-62h0m0 119.5h0m0 5.2h0m.2-12.2h0m.1-129.1h0m0 80h0m0-70.5h0m.1-8.9h0m.2-1.5h0m0-11.5h0m.1 91.2h0m0 4.1h0m.1 51h0m0 15.9h0m.1-54.1h0m0 39.7h0m0-1.8h0m.1-23.7h0m0 9.4h0m0-30.6h0m0 17.3h0m.1-109.7h0m0 31.2h0m0 75h0m.1-82.8h0m0-56h0m.1 71.5h0m0-6h0m0-4.8h0m.1 16h0m.1-5.4h0m.1 90.1h0m0-18.8h0m0-116.8h0m.1-25h0m.1 41.5h0m.1 133.2h0m.2-107.5h0m0 55.2h0m0 11.3h0m.1 28.5h0m0 17.6h0m.1-5.1h0m0-6.2h0m.1-35.4h0m0-99.8h0m0 140.8h0m.1-123.9h0m.1 120.6h0m.2-173.6h0m0 75.7h0m.2 62.3h0m0-10.6h0m.2-71.4h0m.1-31h0m0 54h0m0-78.3h0m.1 139.7h0m0-.4h0m0 43.3h0m.1-58h0m0 36.4h0m0-97.4h0m.2 114.2h0m.1-10.7h0m0-28.1h0m.1-17.2h0m.1 47.9h0m0-105.4h0m0-9.1h0m0-52.5h0m.1 14.2h0m0 64.7h0m0-52.7h0m.1 146h0m.1-103.7h0m0 38.5h0m0-48.9h0m0 76.9h0m.1-11h0m0 21.2h0m.1-72.4h0m.2 5.5h0m0 100.7h0m0-114h0m0-.1h0m0-.4h0m.1 81.9h0m.2 37.6h0m.1-169.5h0m0 45.8h0m.1 52.7h0m.1-35h0m.1 61.2h0m.1 10h0m0-93h0m0 128h0m0-109.2h0m.1-27.5h0m0 53.7h0m.1-72.3h0m0-20.9h0m0 57.8h0m0-26.9h0m.2 145.5h0m0-151.4h0m0 89.9h0m.1-68.4h0m0 74h0m0 55h0m.1 3.3h0m0-66.2h0m0 44h0m0 14.8h0m0-131.9h0m.1 69h0m0 59.8h0m0-115.4h0m0 60.9h0m0-60.5h0m.1 60.4h0m0-122.5h0m.1 65.1h0m0 68.1h0m.1 48.2h0m0-9.8h0m.1-27.5h0m0-62.3h0m.1-3.4h0m0 55.2h0m.2 7.3h0m0-82.3h0m0 1.6h0m.1-7.7h0m0 46.8h0m.2-30.8h0m0 67.9h0m0 40.8h0m0 10.4h0m.1-22.6h0m0-142.8h0m.1 140h0m.1 5.6h0m.1-87.2h0m0 55.3h0m0 34.9h0m.1 8.6h0m0-127.5h0m0-2h0m.2 32.4h0m0 37.3h0m0 47.9h0m.1-37.8h0m0 13.2h0m.1-98.9h0m0 142.8h0m.1-26.7h0m0-52.1h0m0 20.7h0m.1-72.3h0m0 44.3h0m0-27.7h0m.1-14.9h0m0-29.7h0m.1 143.6h0m0 3.3h0m.1-56h0m0 21.4h0m0-72.5h0m.2 72.1h0m0-16.9h0m0 33.2h0m0-95.2h0m.1-56.7h0m0 69.4h0m0 102h0m.1-6.4h0m0-41.8h0m0 4.1h0m0-128.1h0m.1 37.6h0m0 137.2h0m0-112.8h0m0 30.7h0m0-17.4h0m.1 50.2h0m0-86.1h0m0 27.1h0m0-1.9h0m.2 101h0m0 8.9h0m0-106.5h0m0 10.5h0m.1-6.9h0m0 28h0m0 29.1h0m.1 39.7h0m.3-79.3h0m0 47.1h0m.1-24.7h0m0-12.6h0m.1 44.1h0m0-46.6h0m.1 27.2h0m.1 33.6h0m0-139.1h0m0 72.2h0m.1 1.8h0m0 36.4h0m0 20.7h0m.1-118.2h0m0 58.7h0m.1 32.3h0m0 15.4h0m.1-35.3h0m0-106.1h0m0 80.4h0m.1-29.6h0m0-14.9h0m.1 46h0m0 81.9h0m.1-19.7h0m0-62.5h0m0 94.2h0m0-12.8h0m.1 23.7h0m0-98h0m0-39.9h0m0-9.1h0m0 111h0m0 11.4h0m.1-92.3h0m0 44.1h0m0-38.8h0m0 61.2h0m.1-10h0m0 34.5h0m0-53.1h0m.1-97.1h0m0 157.7h0m0-15h0m0-30.4h0m0 1.8h0m.2 18.1h0m0 6.3h0m0-40.7h0m0 7h0m0-38.4h0m.1 84.5h0m.1-54.5h0m0 61.9h0m0-121.8h0m.1 76.2h0m0-14.6h0m.1-20.1h0m0-44.8h0m0 38h0m0 42.5h0m0-31.4h0m.1 57.3h0m0-35.1h0m0 67h0m.1-51.9h0m0-13.4h0m.1-21.5h0m0 32.3h0m0 2.4h0m0-41.6h0m.1 38.9h0m0-27.9h0m0-44.7h0m0-.2h0m.1-5.2h0m0-15.6h0m.1 145h0m0-93.3h0m0 1.6h0m.1-38.9h0m0 130h0m0-148h0m.1 40.4h0m0 8.2h0m.1 32h0m0 46.2h0m0-88.2h0m0 12.3h0m0-50.2h0m0 80.1h0m.2 41.6h0m.1-95.9h0m0-21.4h0m.1 137.9h0m.1-31.2h0m0-82.3h0m.2 64.8h0m.1-91.5h0m0-23.3h0m0 114.2h0m0-6h0m.1-116h0m.2 12.7h0m0 92.7h0m.1-32h0m0 73.6h0m0-113.8h0m.1 61.5h0m0 43.1h0m0-92.5h0m0 33.1h0m0 78.3h0m0-9.5h0m.1-11.3h0m0-55.9h0m.1-75.8h0m.1 20.9h0m.1 144h0m0-40.6h0m0-48.5h0m0 81.1h0m.1-143.4h0m0 72.4h0m.1 81.1h0m0-51h0m0-1.8h0m.1 15.1h0m0-84.3h0m.1-9.6h0m0 123.5h0m0-18.6h0m0-90.1h0m0 66.1h0m.1-16.4h0m0-3.7h0m0-21.1h0m.1 5.4h0m0-12.7h0m.1 .2h0m0 19.7h0m0-14.3h0m0-2.1h0m.1-3.8h0m0 53.5h0m.1 7.7h0m0-100.1h0m0 60.7h0m.2-38.3h0m.1 61.7h0m.1 56.3h0m.1-1.8h0m0-90.9h0m0 34.9h0m.1-27.5h0m0-61.1h0m0 5.4h0m0 94h0m.1-34.3h0m0 27.1h0m0-96.3h0m0 124.1h0m0-144.8h0m.1 6.3h0m0 142.2h0m0-127.3h0m0 43.8h0m.2 21h0m0-68.5h0m0 125.8h0m0-131.7h0m.1 132.4h0m0-68.8h0m.1-17h0m.1 66.7h0m0-114.8h0m0 123.6h0m0-52.3h0m0 94.8h0m0-10.9h0m0-10.7h0m.1-63.3h0m0 88.1h0m0-121.7h0m0 18h0m.1 29.8h0m0 3.6h0m.1-20.6h0m.1-64.9h0m.2 22.7h0m.1 107h0m.1-139.5h0m.1 138.5h0m0-6.6h0m.1-51.7h0m0 52.9h0m.1-21.9h0m.1 38.8h0m.1 11.2h0m0-62.1h0m.1-43h0m0 83.2h0m.1-117.7h0m0 141.6h0m0-46h0m0-72.1h0m.1 45.3h0m0-13.4h0m.1 31.3h0m0 22.6h0m0-70.5h0m0-.4h0m0 81h0m.1-133.7h0m0 39.7h0m0-13.9h0m0 111.5h0m.1-36.4h0m0-98.9h0m.1 70.7h0m0 54.1h0m.1-25.1h0m.1 2.2h0m.1 9.8h0m0-80.7h0m0 116.4h0m.2-89.2h0m0-53.7h0m0 138.5h0m.1-36.8h0m0-98h0m0 77.8h0m.1-20.8h0m0-30.5h0m0-15.2h0m.1 108.4h0m0-5.6h0m.1-10.5h0m.1-62.6h0m0 78.1h0m0 20.2h0m.1-169.6h0m0 139.9h0m0-26.3h0m0-53.7h0m.2 54.3h0m.1-1.2h0m.1-57.5h0m0 89.9h0m.1-61.6h0m0-34.4h0m.1 107.2h0m0-.6h0m.1-130.4h0m0 114.2h0m.1 29.6h0m0-31.4h0m.1-123.8h0m.1 20h0m0 82.1h0m.1 1.8h0m.3 45.8h0m0-13.7h0m0-131.9h0m.2 60.4h0m.1 5.8h0m.1 37.5h0m0 20.5h0m.1-102.3h0m.1 135.2h0m0-103.7h0m0 13.5h0m.1 38.9h0m.1 15.6h0m0 15.8h0m.1-127.4h0m0 148.6h0m0-157.8h0m.1 73h0m0 36.4h0m.1-123.3h0m.1 155.2h0m0-129.5h0m0 52.4h0m0-82.1h0m0 127.7h0m.1-9.9h0m0-91.8h0m0 91.6h0m.1-55.3h0m.1 42.2h0m0-11.5h0m0 23.5h0m.1-3.1h0m.1-59.2h0m0 51.6h0m.1-83.6h0m0 74.8h0m0 31.3h0m.1 42.6h0m0-45.1h0m0-110.7h0m.1 135.5h0m0 4.6h0m0-79.3h0m.4-34.3h0m0 32.6h0m.1-70.6h0m.1 164.2h0m.1-39.8h0m0 25.9h0m0-132.5h0m.1 38.5h0m0-34.1h0m.1-13h0m0 26.1h0m.2 33.7h0m0 .6h0m.1 38h0m0 35.1h0m0 14.4h0m0-67.5h0m.2-22.9h0m.1 .3h0m0 38.4h0m.1-37.8h0m0 61.2h0m.2-11.6h0m0 40.1h0m.1-22.4h0m.1 16h0m.1-38.1h0m.1-99.7h0m0 2.6h0m0 89.2h0m.3-91.9h0m.1 131.8h0m0-4.9h0m.1 4.4h0m0-85.7h0m0 78.5h0m.1 23h0m0-33.3h0m.1-63.9h0m0 4.8h0m.1-16.9h0m.1 69.8h0m0-20.8h0m.1 11.9h0m.1 6h0m.1 49h0m.1-19.4h0m.1-27.7h0m0 31.7h0m0-151.8h0m.1 141.6h0m0 6.3h0m.1-22.4h0m.1-29.1h0m.1-33.2h0m0 74.7h0m.1-33h0m0 4.8h0m.2-48.1h0m0-55h0m0 159.6h0m.1-51.4h0m.1-4.7h0m0 36.9h0m0-29.5h0m.1-75.8h0m0 82.2h0m.1-.2h0m0-119.9h0m.1 125.9h0m0-18.6h0m0 41.3h0m0-136.1h0m.1-14.9h0m0 73.7h0m.2-45h0m0 131h0m.2-6h0m0-39h0m0-15.7h0m0 35.3h0m.1-136.1h0m0 52.7h0m.1 80.3h0m0 16.7h0m.1-24.6h0m.1 21.2h0m0-21.3h0m0 21.3h0m0-24.1h0m.1-25.7h0m0-95.3h0m0 117h0m.1-27.4h0m.2 12.9h0m.1-15.3h0m0-43.1h0m.1 104.8h0m0 11.6h0m.1-19.7h0m0-18.1h0m.1-12.4h0m0 24.2h0m.1-60.5h0m.2 41.5h0m0 4.6h0m0 35.3h0m.2-148.5h0m0 13.6h0m.2 56.3h0m0 38h0m0 18.8h0m.1-20.2h0m.1-112.3h0m0 164.2h0m0-11.2h0m.1-135h0m0 108.9h0m0 17.7h0m.1-46.1h0m0 44.7h0m0-16h0m.1-85.2h0m.1 102.9h0m.1-16.7h0m0 31.3h0m0-21.5h0m.3-132.9h0m.1 104.7h0m0-36.3h0m.1-59.7h0m.1-12.2h0m0 119.1h0m.1-6h0m.1-65.8h0m0-6.8h0m0 71.3h0m.1 40.9h0m0-157.4h0m.1 70.8h0m0 86.6h0m.1-40h0m0 23.6h0m0 25.9h0m.1-43.2h0m0-73.4h0m0-6.8h0m.1-26.4h0m0 140h0m.1-42.6h0m0-107.7h0m.2 111.4h0m0-15.3h0m0-74.3h0m0 40.7h0m.2 25.3h0m0-72.3h0m.1 23.7h0m.1 80.9h0m0-91.8h0m0-20.8h0m0 6h0m.1 127.3h0m.1-47.5h0m0 54.9h0m.1-38.9h0m.1-100.1h0m0-4.4h0m.1 6.8h0m0 .2h0m0 115.4h0m0-25.5h0m.1-97.9h0m0 64.4h0m0 74h0m.2-147.5h0m.1 108.2h0m0-82.7h0m0-16.5h0m.1 133.6h0m.1-25.9h0m0 .9h0m0-61.8h0m.1-54.6h0m0 112.7h0m.1 7.7h0m.1-90.2h0m.1-20.1h0m0 .5h0m0 40.7h0m0-6.9h0m.1 116.4h0m0-161.2h0m0 12.6h0m0 91.7h0m.1-3.1h0m0-17.6h0m0 57.6h0m.1-54.9h0m.1 51.8h0m.1 13.1h0m0-151.6h0m0 164.4h0m.1-8.4h0m0-117.9h0m0 75.3h0m.1-4.1h0m.1-94.4h0m0 94.4h0m0-59.5h0m0 60.9h0m.1 10.7h0m0-101.9h0m0 123.2h0m0-105.6h0m0-12.3h0m0-9.7h0m0 107.4h0m.2-17.4h0m0-53.4h0m0-25.2h0m.1-20.6h0m.1 24.1h0m0 77.9h0m0 34.5h0m.1-35.5h0m0-97.9h0m0 141.6h0m0-137.6h0m.1 114.7h0m0-31.9h0m0-69.4h0m0 51h0m.1-9h0m.1 60.5h0m0-23.5h0m0 40.5h0m0-14.2h0m.1-36.7h0m0-32.3h0m0-26.6h0m.2-30.2h0m0 119.6h0m0-108.4h0m0 81.5h0m0-60.1h0m.1 111.9h0m.1-57h0m0 15.1h0m.1 13h0m.1 14.3h0m0-57.1h0m0 50h0m0-116.8h0m0 110.7h0m0-3.4h0m.1-18.5h0m0 17.1h0m.1 1.3h0m0-36.5h0m0 47.2h0m0-112.7h0m.1 100.3h0m0-25.3h0m0-74.3h0m.2-9.9h0m.1 20h0m.1 109.5h0m.1-92.2h0m0 74.2h0m0 4.3h0m.1 16.1h0m0 .8h0m.2-121.2h0m0 73.5h0m0-53.1h0m.1 118.7h0m0-44.7h0m0 20.8h0m.1-102.3h0m0 56.5h0m.1-59.7h0m0 85h0m.1 34.6h0m.1-114.1h0m.1 62.4h0m.1-3.1h0m0 54.6h0m.1-18.1h0m.3-8.9h0m0-59.3h0m0 4.2h0m0-15.3h0m.1-34.9h0m.1-14.4h0m0 69.3h0m.1-7.4h0m0 70.6h0m0-123.4h0m0 4.2h0m.1 26.5h0m0 59.2h0m.1-34.6h0m.1 94.9h0m.1-95.9h0m.1 25.9h0m.1 40.2h0m0-65.4h0m.1-16h0m.3-39.2h0m0 135.2h0m.1-7.2h0m0-36.1h0m.1 20.3h0m.1 11.4h0m0 19.1h0m0-43.8h0m0 26.4h0m.1 20.6h0m0-37h0m0-23h0m0-25.4h0m.1-32.1h0m0 114.6h0m0-145.2h0m.1 41.6h0m0 91.7h0m.2-128.7h0m0 37.3h0m0 18.3h0m.1-64.9h0m.2 40.2h0m.1 113.6h0m0-142.2h0m.1 116.8h0m0-10.3h0m.4-18.8h0m0 23.3h0m0-53.9h0m.1-26.9h0m0-19.7h0m0 126.8h0m0-47.5h0m.1-20.2h0m0 20.8h0m0-82.2h0m0 130.1h0m0 4.4h0m.1-23.5h0m0-81.3h0m.1 54h0m.1 39.4h0m.1-55.6h0m0-42.6h0m.1 7.2h0m0 84.7h0m.1-15.1h0m0 31.4h0m0-53.9h0m.1-44.4h0m0-13.9h0m0 46.8h0m.1 31.3h0m0-39.4h0m0 68.8h0m0-137.1h0m0 34.4h0m0-38.1h0m.1 55.4h0m0-51h0m0 115.6h0m.1-116.1h0m0 43.9h0m.2 93h0m.1-13.8h0m.1 21.8h0m.1-.1h0m0-41.2h0m0-19.3h0m0-75.8h0m0 84.8h0m.1 5h0m0 45.4h0m0 .8h0m0-98.2h0m.1 38.8h0m.1-5.7h0m0-35.1h0m.1-55.3h0m0 146.9h0m0-72.5h0m.1 23.1h0m0-3h0m.1-86.7h0m0 148.2h0m.1-87h0m0 34.1h0m.1 18.5h0m0 26.1h0m0-25h0m0-16.4h0m.1 46.6h0m0-41.8h0m0-47.5h0m0 47.7h0m0-96.4h0m0 83h0m.1 42.4h0m0-110.2h0m0 30.2h0m.1-59.7h0m.1 134.7h0m0-44.8h0m.1-39.6h0m0 22.1h0m.1 73.2h0m0-31.7h0m0-67.7h0m.1-6.9h0m0 90h0m0-42.7h0m.1-71.7h0m.1 50.5h0m.1-9.4h0m0-26.1h0m0-27.9h0m0 116.3h0m.1 8.7h0m0-77.2h0m.1 67.1h0m0 1.8h0m0-60.5h0m.1 60.4h0m0-5.7h0m0-47.6h0m.1-12.7h0m.1 81.3h0m.2-122.4h0m.1 92.1h0m0-78.3h0m.1-10h0m0-17.3h0m0 142.6h0m0-92.5h0m.1 15h0m0 61.4h0m0-76.7h0m.1 64.1h0m0-69.4h0m.1-30.6h0m.1 37.1h0m.1-25.9h0m0-9h0m.2 89.4h0m0-32.5h0m0 55.7h0m.2-93.3h0m0 111.8h0m0-114.3h0m0 49.7h0m0 2.5h0m.1-13.4h0m.2-48.9h0m0-16.1h0m.1 100.8h0m.1-37.7h0m.1 11h0m.1 73.2h0m0-148.7h0m0 130.9h0m.1-12.5h0m0-114.8h0m.1 146.8h0m0-32.3h0m.1-2.5h0m0-16.5h0m0-94.4h0m0 125.4h0m.1-94.9h0m0-16.3h0m0 73.3h0m.1 43h0m.1 3.3h0m0 10.8h0m0-10.7h0m0-87h0m.1 82.9h0m0-56h0m0 46.9h0m.1-107.7h0m0-8.3h0m0 112h0m0-55.2h0m0 58.9h0m0-26.8h0m.1-34.7h0m.1-29.8h0m0 92.3h0m0-83h0m0 74.5h0m0-80.9h0m0 74.8h0m.1-112.8h0m0 51.8h0m.1-45.3h0m0 103.6h0m0-20h0m.1-35.9h0m.1-8.8h0m0 23.2h0m0 17.6h0m0-12.3h0m.1-40.5h0m0-15.9h0m.2 57.5h0m.1-51.1h0m.1-16.4h0m0 60.4h0m0 50.2h0m0-88.6h0m0 97.1h0m.1-35h0m0 54.2h0m.1-24.3h0m0 10h0m0-.3h0m.1-132h0m0 20.3h0m.1 37.9h0m0 71.3h0m.1-2.4h0m0-64.6h0m0 5.7h0m0-37.7h0m.1-26.6h0m0 134.6h0m.1 1.3h0m0-118.6h0m.1 51.7h0m.1-33.8h0m.2 80.9h0m0-26.6h0m0 10.5h0m0 20.2h0m0-121.6h0m.2 27h0m0 75.2h0m0-22.7h0m0 55h0m0-127.9h0m0 122h0m.1 5.8h0m0-100.3h0m.1 31.7h0m0-38.1h0m.1 79.2h0m0-22.5h0m0-83.9h0m0 122.3h0m.1-56.9h0m0-58h0m.1 39.3h0m0-17.1h0m0-23.3h0m0 6.7h0m.1 53.1h0m.1-32.5h0m0-18.4h0m0 91h0m.2-28.8h0m0 37.4h0m.1-42.1h0m.1-34.4h0m0 19.9h0m0 26h0m.1-59.3h0m0 19.8h0m0 77.2h0m.1-52.7h0m0 44.1h0m.1-98.8h0m.2 102.9h0m.1-79.3h0m0-16.7h0m.1 97h0m.1-119.3h0m0 18.7h0m.1 67.3h0m.1-17.9h0m.2-31.7h0m0 64.4h0m.2-22.3h0m.1-.6h0m0 5.1h0m0 7.7h0m.1-50.9h0m0 59.9h0m0 18.4h0m0-4.6h0m.1-67.8h0m0 37.5h0m0 16.6h0m0-41.9h0m.1 55.3h0m0-41h0m.1 59.6h0m0-20.8h0m0-88h0m.1 6.3h0m0 42h0m.1 16.4h0m0-18.3h0m.1-35.5h0m.1 10.9h0m0 42.6h0m0-59.9h0m.1 36.8h0m0-22.9h0m.2 102.1h0m0-84.9h0m.2-44.7h0m0 69.8h0m0-16.6h0m0 40.5h0m.1 34.4h0m0-22.4h0m0 22.1h0m.1-15.3h0m.3-48.8h0m0-48.2h0m0-21.7h0m.1 12.5h0m0 27h0m.1 60.8h0m0-12.3h0m0-51.9h0m.1-36.1h0m0-.7h0m.1 24.6h0m.1 5.1h0m0 20.6h0m.1 14.4h0m0 51.6h0m.1-94.3h0m.1 37.4h0m0-60.4h0m.1 30.3h0m0-30.6h0m0 110.8h0m0-10.2h0m0-18.7h0m.2-49.5h0m0 103.2h0m0-53.1h0m.2 18.2h0m0 35h0m.1-71.1h0m.2 37.8h0m0-11.1h0m0-82.4h0m0 38.6h0m0-16.4h0m.1 6.2h0m0 21h0m0 32h0m0-92.5h0m0 2.5h0m.1 4.7h0m0 99.8h0m.1-6h0m.1-23.6h0m0 58.3h0m0-98.1h0m.3-15.7h0m0 5.1h0m0-12.3h0m.1 54.1h0m0 3.8h0m.1 62.3h0m.1-57.7h0m0-46.3h0m0-30.5h0m.1 131.7h0m0-92.7h0m.1 40h0m0 52.3h0m.1-65.7h0m0-68.4h0m0 55.9h0m.1 85.1h0m0-86.8h0m0 1.4h0m.1-10.8h0m0 60.3h0m0-100.5h0m.1 131.6h0m.1-16.5h0m.1-1.5h0m0-106h0m0 57h0m.1 9h0m0 22.7h0m.1-55.3h0m.1 21.2h0m0 16.4h0m0-12.9h0m0 25.6h0m.1-81.3h0m.1 40.3h0m.1 25.8h0m.1-38.7h0m0-1.4h0m.1 4.5h0m0-39.8h0m0 54.2h0m0 26.2h0m.1-28.6h0m0 16.6h0m.1-2.2h0m0-50.8h0m0 115.4h0m.2-6.8h0m0-98.4h0m.1-13.6h0m0 17.8h0m0 71.1h0m0-22.4h0m0-48.5h0m0 102.7h0m.1-40.2h0m0 25.5h0m0-62.6h0m.1 7.2h0m0-32.1h0m0 84.2h0m0-5.3h0m.1-22.1h0m0 26h0m0-25h0m.1 27.3h0m0-24.6h0m.1 5.1h0m0-12.3h0m0 9.6h0m.1-51.1h0m.1 53.5h0m0-2.3h0m0-63.6h0m.1-11.4h0m0-15.3h0m0 113.4h0m0-79.3h0m.2-5.8h0m0 62.7h0m.1 24.1h0m0 0h0m0-106.4h0m.1 94.8h0m0-100.8h0m0 46.5h0m.1 74.8h0m.1-96.7h0m.1-.3h0m.1 34.9h0m.1 40.3h0m0-28.8h0m0 20.3h0m0-71h0m0 98.2h0m.1-11h0m.1-68.7h0m0 48.1h0m0-86h0m.1 55.1h0m0-37.3h0m0 100.6h0m0-108.2h0m0 88.2h0m0-37.7h0m.1-44.9h0m0 107.6h0m0-12.4h0m.1-91.4h0m0 59.1h0m0-17.1h0m0-50.6h0m.1 43.4h0m0-52.5h0m.1 68.6h0m.1-42.1h0m0 1.7h0m0-21.5h0m.2 21.7h0m0 79.4h0m.1 10.8h0m0-95.9h0m0 59.9h0m.1-4.5h0m0-57.8h0m.1-19.8h0m0 87.3h0m0-21.3h0m0 47.8h0m0-106.4h0m0 9.9h0m.2 28.6h0m0 59.2h0m.1-14.2h0m.1-49.5h0m0-32.2h0m0 23.7h0m0 77.7h0m0-19.8h0m0 14.1h0m0-49.2h0m.1-43.6h0m.1 82.3h0m.1-88.5h0m.1 54.1h0m0 20.5h0m0 25.5h0m.1 6.3h0m0-107.8h0m0 86.3h0m.1-38h0m0 32.6h0m0-26.5h0m0-58.4h0m.1 51.1h0m0 47.8h0m.2-43.8h0m.1 35.3h0m0-75.7h0m.2 16.4h0m0 34.8h0m0 7.7h0m0 22.1h0m.2-12.4h0m0-35h0m0-37.7h0m.1-13.4h0m0 11.3h0m0 41h0m0 17.5h0m.1-64.3h0m.1 92.1h0m0-20.3h0m0 35.7h0m.1-10h0m.1-57h0m.1-6.7h0m.1 3.9h0m0 23.3h0m0-31.7h0m0-19.2h0m.1 90.5h0m.1-.4h0m.1-76.4h0m0 67.6h0m0-1.8h0m.1-41h0m.1-1.2h0m.1-5.4h0m0 48.5h0m.1-28.8h0m0 29.5h0m0 7.5h0m.1-23.5h0m0-4.6h0m0-12.3h0m.1-31.5h0m.1-6.6h0m.1-6.4h0m.1 100.5h0m0-23.8h0m0 3.8h0m0-55.7h0m.1 70.2h0m0-48.5h0m.1 24.2h0m0-21.3h0m.1-11.6h0m.1-2.3h0m.3-49.6h0m0 25.6h0m0-7.1h0m.2 91.5h0m.1-98.8h0m.1-4.5h0m0 49.4h0m0 52h0m.2-2h0m.1 .6h0m0-60.7h0m.1-8.9h0m0-31.5h0m.1 6.4h0m0 83.6h0m.2-36.7h0m.1-52.3h0m0 79.7h0m0-32.5h0m.2-3.8h0m.1 20.9h0m.1-45h0m.1-9.4h0m.1 73.3h0m.1-84.6h0m0 36h0m.3-19.9h0m0 79.4h0m.1-45.6h0m0 6.2h0m.1 24h0m.2-42.8h0m.1-34.6h0m0 23h0m0-8h0m0 3.2h0m0 50.2h0m0-68h0m.1 84h0m0-43.1h0m0-16.8h0m.1 16.1h0m.1 53.7h0m0-94h0m0 39.4h0m.1-43h0m0 59.8h0m.1-10h0m.1-36.9h0m.1-14.4h0m0 86.3h0m.1-57.6h0m.1 49h0m.1-75.7h0m0 11h0m0 19h0m.1-7.1h0m0-14.6h0m0 82.9h0m.4 3.5h0m.2-77.5h0m.2 2.4h0m0 37.6h0m.1-59.5h0m0 30.4h0m.3 34.3h0m.1-20.4h0m.1-31.8h0m0 81.7h0m0-40.6h0m.1-39.4h0m.1 47.2h0m.1 10.9h0m0-60.6h0m.1-9.9h0m0-.6h0m.1 96.7h0m.2-46.2h0m0 8h0m.1-21.1h0m.1-36.6h0m.1 97.6h0m0-56.1h0m.1-32.1h0m.2 85.9h0m.1-6.5h0m.1-20.7h0m0-5h0m.2 33.1h0m.1-.1h0m0 .3h0m.2-18.2h0m.1-28h0m.3 34.2h0m.2-37.3h0m0 31.8h0m.2-36.9h0m.3 8h0m0 29h0m0 3h0m.1-59.7h0m.1 24.6h0m.2-21.5h0m.1 50.3h0m.1 7.9h0m.1-65.9h0m.2 51.2h0m0-8.9h0m0-48.9h0m.1 45h0m0 19.1h0m.1-4.9h0m0 2.8h0m.1-49h0m0 49.5h0m.3 2h0m.3-31h0m0 4.6h0m.1 32.5h0m0-25.7h0m.1-3.5h0m.2-32h0m0-7.6h0m0 57.8h0m.3-3.7h0m0-46.6h0m.1 50.2h0m.1 6.3h0m.2-15.8h0m.1 28.3h0m0-64.3h0m0 15h0m.3 10.6h0m.3 15.8h0m.2-9.6h0m.1 18.2h0m0 10.8h0m.1-5.1h0m0-13.6h0m.1-4.1h0m.1-4h0m0-12.9h0m.3 38.2h0m0-7.7h0m.2 9.2h0m.3-37.8h0m0 8.3h0m.1-33.2h0m.4-3.6h0m.1 63.4h0m0-18.7h0m.3-5.3h0m.2-11.5h0m0-1.1h0m.1 4.2h0m.1 5h0m.1 22.1h0m.1 4.5h0m.1 5.1h0m.3-23.9h0m.2 19.4h0m0-13.2h0m.4 10.6h0m.2-6.8h0m0 8.5h0m.1-29.8h0m.4 2.2h0m.2-10.6h0m0 14.5h0m.1 3.6h0m.1 20.8h0m.2-22.2h0m.2-33.8h0m.5 35.5h0m.1-18.4h0m.4-7.4h0m.3 12.3h0m.2 16.5h0m.3 4.8h0m.2-12.7h0m.4 15.5h0m.1-21.9h0m.2 13.6h0m.2-3.1h0m.1-19.5h0m.1 7.9h0m.3 3.9h0m.2 0h0m0-13.8h0m.7 10.5h0m.3 15.1h0m0-18.1h0m.8 12.4h0m1.1-9.4h0m.6 1.4h0" fill="none" stroke="#e8262c" stroke-width="2.3" stroke-linecap="round"/>
<path d="M1269.6 168.7h0m3.4-15.9h0m.4 44.4h0m1.1-39.1h0m2.2-16h0m.2 1.6h0m.2 5h0m1.5 22h0m.1-17.2h0m.5-12.2h0m.6-6.1h0m.4 21.9h0m.1-3.1h0m.5-3h0m.4-19.8h0m.5 18h0m1.4-1.7h0m.9 3h0m.1 1.6h0m.1 3.1h0m1.6 21.6h0m.1-29.5h0m.2-.5h0m.8-19h0m.8 22.3h0m.3-1.8h0m.1-4.8h0m.3-3.7h0m.1 5.1h0m.8-21.4h0m.7 23.2h0m.7-24.7h0m.3 23h0m1.1 21.5h0m.2 29.8h0m.8-75.8h0m1.6 4.2h0m1.8 29.7h0m.1-21.9h0m1.1 9h0m.1-31.4h0m.9 22.7h0m.2 58.8h0m.2-58.6h0m1-26.3h0m.1 20.3h0m.4-5.6h0m1.1-11.5h0m1 86h0m.1-45.1h0m.6-17.3h0m.3 9.5h0m.2 50.2h0m.4-49.9h0m.2-33.5h0m.1-3.3h0m.7-1.7h0m.2 35.3h0m.3-27h0m0 22h0m.7-14.2h0m.3 6.6h0m1.9-12.6h0m2.1-4.2h0m0 1.4h0m.5-.2h0m1.4 23.5h0m0-21.6h0m.8 12.3h0m.2-10.2h0m.9 1.1h0m.1 15.7h0m.9-6.9h0m.7-15.9h0m1.1 4.7h0m.6-5.9h0m.3 42h0m.1-43.7h0m1.6 30.3h0m.2-25.7h0m0 94.3h0m.7-107.5h0m.1 41.2h0m.7-31.3h0m1.3-5.9h0m.3 84.8h0m.1-73.8h0m1.7 0h0m.4-19.2h0m.1-.1h0m.1 4h0m.2 33.7h0m.7-14.6h0m.4-2.4h0m0-5.4h0m.1-19.2h0m0 30.9h0m.6-31.3h0m.6 36.2h0m.4-34.6h0m.5 25.9h0m0-5.5h0m.1 24.3h0m.1-12.1h0m0 3.2h0m.1-33.8h0m.6 11.8h0m.1-4.5h0m.2-16h0m.3 44.9h0m.3 74.2h0m0-83.2h0m.2-19h0m.1-5.6h0m.3 112.3h0m0-100h0m.1-7.5h0m0-11.2h0m.2 45.6h0m0-37.5h0m.1 4.9h0m.1 .2h0m.1-8.3h0m.1 30.1h0m.2 24.9h0m.3-54.9h0m.2-5.9h0m0 7.9h0m0 30.6h0m.1-29.5h0m.1 6.4h0m.1-4.3h0m0-16.7h0m0 1.4h0m0 .1h0m.2 17.3h0m0-9.9h0m.2 7.5h0m.1 6.3h0m.3-10.7h0m.4-.5h0m.2 16.5h0m0-23.9h0m.2-1.3h0m0 18.4h0m.1-5.3h0m0 7.4h0m.1-15.1h0m.1 2.5h0m.6 1.5h0m.1 9.9h0m0-.5h0m.2-14.1h0m.2-1.9h0m.1 20.1h0m.3-8h0m.1-15.8h0m.1 25.6h0m.2-22.3h0m.1 15.1h0m0-4.3h0m0 8.9h0m.1 16h0m.3-18.5h0m.1 37h0m0-41.8h0m0-13.5h0m.1 12.7h0m0-5.1h0m.1-7.3h0m.1 7.3h0m.1 6.1h0m.1 2.5h0m.4-2.1h0m0-16.7h0m.1 13.2h0m0-1.6h0m.5-4.6h0m.2 16.2h0m.1-.3h0m.5-12.9h0m0-9.6h0m.3 8.9h0m.3 8.2h0m.3 5.9h0m0-5.4h0m.1-13h0m.1 4.8h0m.3-2.6h0m.1 5.2h0m.3-1.7h0m.2-5.6h0m.1-1.7h0m0 12.8h0m.5-12.5h0m.6 7.8h0m.2 117.2h0m0-120.4h0m.2 3.8h0m.3-.2h0m.1-5h0m.2 37.1h0m.1 10.4h0m.2-26.8h0m0-16.8h0m.1-3.3h0m0 .6h0m.1 17.2h0m.8-9.2h0m.4-3.8h0m0-7.1h0m.1 16.1h0m.3 38.2h0m0-29.2h0m.7-17.6h0m0-7.8h0m.9 55.5h0m.2-52.6h0m.6 20.7h0m0-60.2h0m0 40.3h0m.5-11.1h0m.8-34.3h0m.2 3.6h0m.3 78.1h0m.4 90.7h0m.1-92.4h0m0-66.1h0m.2 119.8h0m.3-9.2h0m0-113.3h0m.2-.7h0m.8-10.6h0m.6 2.8h0m.3-4.1h0m.3 19.4h0m0 57.5h0m.1-69.2h0m.2-.5h0m.2-3h0m.2 13.3h0m.3 .5h0m.1-12.3h0m0 .6h0m0 5.2h0m.1 4.6h0m.2 86.6h0m.4-93.6h0m.1 1.4h0m.2-3.5h0m.2 5.7h0m.3 5.8h0m0 8.5h0m.1-20h0m.1 6.5h0m.1 81.1h0m.5-82.3h0m0-13.3h0m.2 92.1h0m0 9.7h0m0-91h0m.8 10.5h0m0-11.3h0m1 30.2h0m0-13.6h0m.5-9.3h0m.2 1.5h0m.1 .1h0m.2-2.7h0m.2 47.2h0m.1-34.8h0m.8-8.9h0m0 16h0m0-6h0m.1-11.3h0m.1 14.2h0m.3-18.3h0m.3 9.2h0m.2 4.2h0m.1 .1h0m0-3.8h0m.1 17.9h0m0-26.5h0m.1 10.2h0m.6 27.6h0m.9-25.9h0m0-9.3h0m.1 118.8h0m.2-58h0m.1-38.4h0m0 46.7h0m.3-60.2h0m.2 9.8h0m.1-13.5h0m.1 157.9h0m.2-154.2h0m.1-.8h0m0-.3h0m.6 141.5h0m.9-130.9h0m.2 35.8h0m.2-39.4h0m0-.7h0m.3 23.6h0m.2-18.7h0m.1 29.1h0m.1-44h0m0 3.6h0m.7 9.2h0m.7 123.4h0m.1-136.1h0m.4 29.7h0m0-19.1h0m.1 5.9h0m0 4.9h0m.4-16.9h0m.4 10.4h0m.1-9.7h0m.4 16.1h0m.3-9.4h0m0 9.5h0m0-16.4h0m0 157.6h0m.4-143.2h0m.1-14.2h0m.1 57.6h0m.4-53h0m.1 5.3h0m.2 38.2h0m.3 10.8h0m.3-21.4h0m0-20.8h0m.2-7h0m0-3.8h0m.4 15.5h0m.3-16.6h0m0 120h0m0-117.7h0m.2-5.9h0m.1-.8h0m.3 8.9h0m.1 5.5h0m.2-19.6h0m0 20h0m.1-11.9h0m.1-6h0m.2 7.5h0m.2-3.3h0m.1 11.4h0m.2-12.5h0m.4 13.8h0m0 28.9h0m.1-28.4h0m0 7.5h0m.3-15h0m.2 68.7h0m0-76.2h0m.1-1.1h0m0 6.3h0m.2-5.1h0m.1 3.4h0m.3 51.9h0m.1 12.7h0m0 2.3h0m.3-52.7h0m.1-13.6h0m0 3h0m.2 38h0m0-34.2h0m.2-3.9h0m.2 8.8h0m0-9.8h0m.1-.2h0m.1 12.1h0m.1 35.1h0m0-28.6h0m.3-16.5h0m.1-10.7h0m.1 3.9h0m.2 122h0m.2-97.6h0m.1 2.5h0m.2-10h0m.2 54.4h0m.2-28.6h0m.1-40.9h0m.1 5.6h0m0 11.1h0m.1-22.9h0m.1 10.9h0m.2-6.2h0m.1 2.6h0m.1 7.9h0m0 11.3h0m.5 .2h0m.1 5.2h0m.1 10.4h0m0-34.5h0m.1 4.6h0m.2 18.4h0m0-13.1h0m.1 111.7h0m0-124.4h0m0 13.9h0m.2-12.1h0m.1-4.1h0m0 47.3h0m.6-42.3h0m0 6.4h0m.4 14.8h0m.1-22.5h0m0 28.8h0m0-27.9h0m.2 2.1h0m.1 16.4h0m.1-8.2h0m0-10.9h0m.3 10.9h0m.2 36.3h0m0-32.1h0m.3 7.1h0m0-7.6h0m0-15.5h0m.1 15.7h0m0-6.1h0m.1-11h0m.1 42.6h0m0-32.6h0m.3-2.1h0m.8-9.8h0m.1 9.1h0m0-9.2h0m.3 14.5h0m.3-3.6h0m.2-10.4h0m.1 7.2h0m.1-.2h0m0 16.3h0m.2-4.6h0m.1 40.9h0m0-51.1h0m.1 .6h0m.3-20.8h0m.2 22.3h0m0 19h0m.3-6.3h0m.4-7.3h0m0-1.2h0m.1 10.3h0m0-14h0m.4 9.5h0m0-13.1h0m.3 5.7h0m0 146.2h0m.2-139h0m.2 1.9h0m0-10.7h0m0 26h0m.1 25.3h0m.2-31.4h0m.1-12.1h0m.3-13.6h0m.4 11.7h0m0-.4h0m0-9.6h0m0 9.3h0m.7 4.7h0m0-9.7h0m.2 132.9h0m.1-129.2h0m.2-12.6h0m.1 29.6h0m0-14.2h0m0 4.4h0m.3-.8h0m.1-8.6h0m.1 12.8h0m.2 110.6h0m0-129.8h0m.3 17.1h0m0-7.7h0m.1 7.4h0m.1-5.6h0m.1 11.2h0m.3 5.8h0m.2-12.7h0m.1 10.8h0m.1-17.3h0m.2 18.5h0m0-10.7h0m.1 10.9h0m.5 20.9h0m0-25h0m.1-5.8h0m0-12.2h0m0 79.1h0m.1-74.4h0m.3 85.8h0m0-91.2h0m0 62.7h0m.3-49.4h0m.4-13.4h0m.3-.3h0m.2 28.6h0m.1 24h0m0-34.2h0m.2 3.7h0m.1 11.1h0m.1 61.6h0m0-84h0m.5-2.7h0m.2 77.6h0m0 10.4h0m.2-74.6h0m.3-23.3h0m.2 17.9h0m0 81.3h0m0-89.4h0m.6 90h0m.3-85.7h0m.2 78.9h0m1-5.5h0m.1-63.8h0m.1-5.6h0m.4 22.7h0m0-11.2h0m.1 5.7h0m0 46.2h0m.2-62.1h0m.2 64.7h0m0-66.2h0m.3 16.7h0m.2-16.6h0m0 1h0m.1 27h0m0 34.5h0m0-37.6h0m.3 21.6h0m.1 63.2h0m0-47.8h0m.1-60h0m.1 63.8h0m.2-4.3h0m0 21.7h0m.1-45.1h0m.1 24.4h0m.1 26.5h0m.2-5.7h0m.4-70.1h0m0 50.7h0m0-41.3h0m0 32.7h0m.1 15.1h0m.1 .5h0m0-57.7h0m0 58h0m.1-87.2h0m0 87h0m.2-5.2h0m.4 13h0m.2-5.9h0m.1 28.4h0m0-37h0m0-71.7h0m0 160.9h0m.1-142.5h0m0 19.3h0m0 70.6h0m.1-25.3h0m.3-14.6h0m0 4.3h0m0-22.4h0m.1 5.6h0m.1-24.9h0m.1 42.2h0m0-61.8h0m.1 70.5h0m0 6.1h0m.1-11.2h0m.3-35.1h0m0 36.7h0m.1-37.7h0m.1 42h0m.2-17.1h0m.3 8.9h0m.2-45.4h0m0 47.5h0m.1-31.7h0m0 8.1h0m.1 25.1h0m0 7.6h0m.1-53.9h0m0-9.8h0m.1 58.4h0m0-47.3h0m0-40.6h0m.2 36.4h0m0 7.9h0m.2-1.6h0m0-1.7h0m.1-8.1h0m.1 38h0m0-17.2h0m.1 25.5h0m0 5.9h0m.1-19.9h0m0 4h0m.1 6.3h0m.1 9h0m0-43.8h0m0 11.2h0m.1 30.7h0m.1-9h0m.1 2.3h0m0-24.7h0m0-1.7h0m0 46.2h0m0-44.8h0m.1 18.8h0m0-27.7h0m.1 49.8h0m0-59.3h0m0 32.6h0m0 9.5h0m.3 13.4h0m0-8.1h0m0 1.2h0m0-32.4h0m.1 7.6h0m0-5.6h0m.2-13.6h0m.1 34.5h0m.5-37.7h0m0 45.7h0m.2-26h0m.1-1.2h0m0 18.7h0m.1-17.9h0m0 17.5h0m0 13.9h0m0-72.6h0m.1 16.2h0m0 38.9h0m0 11.8h0m.2-26.9h0m.1-28.1h0m0 63h0m0-18.1h0m.1-18h0m.3 11.2h0m.1-6.5h0m0 5.9h0m.1 5.4h0m0 6.8h0m.1-20.9h0m0 9.7h0m.1 32.4h0m0-30.8h0m.1 25h0m.3 2.8h0m.3-35.3h0m.1-22.9h0m0 41h0m.1-8.2h0m0-3.8h0m.1-12.4h0m.2 12.4h0m0 13.6h0m.1-48.4h0m.1 11h0m.2 24.1h0m0-28.5h0m.2 34.3h0m.1-6.9h0m0 20.2h0m.1-18.1h0m.2-13.6h0m.3-2.7h0m0 29.2h0m0-14h0m.1-18.7h0m0 36.3h0m.3-37.7h0m.3 3.1h0m.1 81h0m.1-80.1h0m0 16.1h0m.3-26.5h0m0 11.4h0m.3 11.9h0m.1-20.8h0m0-9.4h0m.1 3.7h0m0 35.5h0m.7-14h0m.2 5.2h0m.5 8.6h0m.1-4h0m.1-5.5h0m0 5.8h0m.4 7.6h0m0-6.5h0m.3 10h0m.6-17.8h0m.2-5.5h0m.3-12.5h0m.1 29.8h0m0-25.6h0m0 18.6h0m.1-2.4h0m.5 5.5h0m.9-12h0m.4-25.4h0m.1 40.8h0m.2-12.1h0m1.2 40h0m1.3-44h0m.2-41.4h0m1.5 13.7h0m1.4 91.7h0m1.1-.7h0m.2-46h0m0 44h0m3.5 40.5h0m4.7-44.5h0m8.2-77.5h0m3.6 88.5h0m3.4-8.2h0m4.2-56h0m3.9 45.6h0m1.8-11.4h0m.6-1.4h0" fill="none" stroke="#4560b0" stroke-width="2.6" stroke-linecap="round"/>
<path d="M1268.2 432.8h0m1.2-5.9h0m2.4-12.3h0m1 28.8h0m1.8-2.1h0m.3 5.9h0m.4-31.6h0m.5 8.5h0m.5 14.4h0m2.6-39h0m2.7 33.1h0m3.3-48.8h0m.2 61.3h0m3.2-12.9h0m1.2 8.4h0m.1-47.1h0m3.7-11.7h0m1.2 32.7h0m2.3-32.2h0m.3 46.2h0m.3-3.3h0m2.9-6.4h0m1 29.6h0m.4-65.4h0m1.4 28.6h0m.3 26.3h0m1.8-7.5h0m.2 12.8h0m2.5-36.3h0m3.3 26.9h0m5-36.5h0m.7 46h0m1.5-8.7h0m6.4-30.8h0m6.2 19h0m6.4-.3h0m6.8 28h0m3.4-10.4h0m6.9 28.4h0m3.6-5.4h0m1.9-7.1h0m13.1 24.2h0m2.9 17.5h0m8.3-49.1h0m2 13.4h0m2 2.2h0m8.7 8.7h0m.5 22.1h0m.2 2.1h0m6.5-4.3h0m.4-21.4h0m5.1 9.4h0m2.2-1.9h0m23.6-52.1h0m13.7 33.6h0" fill="none" stroke="#faedb0" stroke-width="2.3" stroke-linecap="round"/>
<path d="M1264.5 421.2h0m.7-.6h0m1.6-3.3h0m1-6h0m1.9-1.1h0m1.4 .4h0m0 8.1h0m.1 15h0m.5-1.5h0m1.2 9.9h0m2.2-16.9h0m.3-11.8h0m.9 29.4h0m2.4-15.3h0m2.2 1.6h0m.2 1.2h0m2-21.1h0m2.4-8.7h0m3.6 37.8h0m.4 5h0m2.8-30.6h0m.5 4.5h0m1.1 19.9h0m1.1-4.3h0m2-12.8h0m2.6 28h0m.4-3.7h0m.4-2.7h0m.9-8.5h0m.6-22.9h0m1.8-23.7h0m.9 47.7h0m1.3 21.9h0m2.1-100.7h0m1.4 82.1h0m.5 5.1h0m1.5-48.7h0m4.1 20.5h0m4 33.1h0m.2-16.3h0m.1-14.1h0m.6 40.9h0m5.8-16.3h0m2.7 16.2h0m.7-30.4h0m.2-17.1h0m1.9-27h0m2 74.5h0m1.6-11.8h0m4-28.5h0m1.8 4.5h0m.8 44.1h0m3.3-.2h0m2.4-29.7h0m5.1-4.8h0m4-20.9h0m7.2 47.5h0m3.2-6.4h0m7.2-16.4h0m4.1-42.9h0m2.3 103.8h0m3.1-2.7h0m1.4-.6h0m7.1 .8h0m3.2 9.1h0m1-54.3h0m17.1 50.6h0m.1-19.6h0m5.6-40.4h0m0 26.3h0m.9-12.6h0m5.2 34.6h0m7.7-20.4h0" fill="none" stroke="#fbe394" stroke-width="2.3" stroke-linecap="round"/>
<path d="M1264.6 421.6h0m2.4-7.4h0m4.8 7.1h0m1.8 3.1h0m1.1 8.7h0m.8-5.5h0m.5-7.4h0m2.3-18.2h0m.7 10.9h0m.7 25.3h0m.1-37.5h0m0 19.9h0m.9 2.2h0m.6-7.4h0m1.9-16.2h0m.2 2.4h0m.9 24.6h0m2.5 16.9h0m.5-57.5h0m.1-8.6h0m.3 13.1h0m.2 51.8h0m0-36.8h0m.1-37.1h0m1.2 25.8h0m.1 14.6h0m.6-1.5h0m1.3 1.1h0m.1-36.7h0m.1 54.3h0m2.5 .2h0m.2-27.8h0m.9 .2h0m.4 23.5h0m.7-16.8h0m1.1-27.2h0m1.7 20.8h0m0 53.4h0m1.7-9.7h0m.3-13.8h0m1.5-23.3h0m.2-44.2h0m.5 20.4h0m1.4 74.8h0m.4-90.6h0m.3 79h0m.1-12.4h0m1 12.2h0m.1 1.9h0m.1-15.2h0m1.6-10.5h0m.1 33.8h0m0-6.9h0m2.1-27.5h0m.4 24.1h0m1.9-5.6h0m.3-18.1h0m1 24.4h0m.1-31.5h0m.6-27.2h0m.5 30.2h0m1.6 29.7h0m.2-13.8h0m.7-67.2h0m0 44.9h0m0 21.1h0m.9 21.9h0m.4-29.6h0m.3-29.9h0m.4-42.8h0m3.7 107.5h0m.1-78.5h0m.9 34.5h0m.3 19.5h0m.2 3.7h0m.1 5.7h0m.1-22.9h0m1.3-15.4h0m.5 34.2h0m2.1-71.1h0m.3 42.9h0m.5 20.5h0m.3 29.3h0m.8-74.3h0m.1-6.6h0m1.3 68.7h0m1.2 8.8h0m.1-16.3h0m1.1-8.5h0m.2-19.9h0m.7 35.3h0m.1-7.9h0m.3 1.2h0m3.4 18.3h0m.7-14.7h0m2.3-5.2h0m2.6 2.9h0m1.5-6h0m.4 24.5h0m.7-3.6h0m8.5-47.8h0m.1 59.2h0m.6-6.7h0m.3 2.2h0m1.3-106.9h0m2.4 101.4h0m.5 8.3h0m1-44.3h0m.8 53.5h0m1.9-20.9h0m1.5-97.5h0m1.9 101.6h0m.7 17.9h0m.2 3.7h0m.2-37.9h0m1.4 30.4h0m3.6 21.5h0m4.2-52.3h0m1.3 14.3h0m1.3 .7h0m1.4-5.8h0m.5 37.3h0m2.4 6.2h0m2.1-105.3h0m.8 119.3h0m.6 2.6h0m1.2-22.6h0m.8-121h0m.4 128h0m.6 6.7h0m1.3-25.6h0m.6 22.6h0m.2-39.5h0m2.8-29.1h0m2.7-45.2h0m1.3 105.6h0m.2-10.7h0m2.5 17.3h0m.6-19.2h0m.6 25.2h0m.3 1.3h0m.5-113.4h0m5.9 76.5h0m.7-83.3h0m.8 28.9h0m.8 63.8h0m.3-15h0m0 9.8h0m2.6-66.1h0m9.3 83.6h0m.8 3.3h0m.2-1.2h0m1.8-27.1h0m2.9 11.5h0m.3-36.9h0m2.4-18.4h0m5.3 7.7h0m3.5 49.6h0m3.3-8.1h0m1.6-17.6h0m1.5-2.5h0m.7 18.3h0m4-19.7h0m4.9-2.6h0" fill="none" stroke="#fbd37a" stroke-width="2.3" stroke-linecap="round"/>
<path d="M1268 430.9h0m.4-3.5h0m.3-16.4h0m1.4-5.3h0m.4 7.2h0m.1 29.1h0m.2-21.2h0m.6-11.8h0m1.1 39.4h0m1.5-8.4h0m1.7-35.5h0m.8 13.7h0m1-2.5h0m.9-22h0m.8 22.6h0m.3-2.6h0m.3 20.6h0m.7-40.7h0m1.6-4.6h0m.2 42.9h0m.2 .7h0m.2-51.4h0m.7 56.4h0m1.3-37.1h0m.2-22.5h0m.2 27.6h0m.6-.4h0m.1 36.3h0m.2-12.3h0m.4 4.4h0m.1-47.1h0m.4 22.9h0m.1-31h0m1 29h0m.1-23h0m.3-6.6h0m0 29.5h0m1.1-9h0m.7 27.1h0m.3-23.8h0m.1-10.1h0m.2 48h0m.2-60.4h0m.5-5.2h0m0 21.5h0m.5-13.7h0m0 14.1h0m.1-5.9h0m.1-17.9h0m.5 23.7h0m1 25.8h0m1.2-41.8h0m1.3 44.9h0m.3-18.9h0m.4 13h0m.1 9.9h0m.7 12.8h0m.2-7.3h0m0-34.3h0m.1 4.6h0m.5 17h0m1-59.9h0m.8 51.6h0m.3 20h0m0 16.9h0m1.7-54.3h0m0-28h0m.6 20.1h0m.8-31.3h0m.2 85.3h0m.3 4.1h0m.1-45.1h0m.2-11h0m.4-6.3h0m.7 58.5h0m.2-48.7h0m.7 16.2h0m.4 28.7h0m.2-29.7h0m.2-23.4h0m.9 63h0m.1-53.9h0m.6 45h0m1.8 12.9h0m.2-50.8h0m.4 36.7h0m0-53.1h0m1-24.2h0m1.1 50.8h0m.2 39.9h0m.6-87.6h0m1.1 11.8h0m.5 76.4h0m.3-89.1h0m.1 47.5h0m.2 38.3h0m1.3-58.8h0m.3-9.5h0m1.4 23.1h0m2.1 46.4h0m0-15.1h0m.1 10.7h0m.1-39.4h0m.4-33.1h0m.2 18.6h0m1.5 11.3h0m.8 44.7h0m.1 7.8h0m0-25.4h0m.3-53h0m.3 70.6h0m.1-87.1h0m.2 44.9h0m1.1 22.9h0m0-46.8h0m.5 25.4h0m.5-2.3h0m0 46.4h0m.8-22.5h0m.7 26.2h0m0-50.7h0m0 24.6h0m0-52.7h0m.3 56.1h0m.4-16.1h0m.2-21.7h0m.2 58.5h0m.1-25.3h0m.5-50.2h0m.1 8.4h0m.9 2.7h0m1.1 24.3h0m.4-36.4h0m1.4-41.6h0m.4 51h0m.4 74.4h0m.6-11.3h0m.7 4.5h0m.3-40.5h0m.5 6.7h0m.4 37.9h0m3 1.3h0m.6-34h0m.1-43.9h0m1.2-1.9h0m.4 51.6h0m1.4-10.3h0m.1 43.2h0m.2-12.8h0m0 7.7h0m.7-69.2h0m1.7 77.6h0m.2-.5h0m.3-51.5h0m.2-30.9h0m1.2 11.3h0m1.5-13.4h0m.4 75.6h0m1.1 14.6h0m.6-49.5h0m.8-55.1h0m.2 93.3h0m.8 2.2h0m1.2-101.9h0m.9 85.9h0m.3 26.5h0m.4-19.3h0m.3-2.7h0m.4-26.1h0m1 1.4h0m1.8 33.3h0m1.3 10.7h0m.3 3.1h0m.3-40.4h0m.1 47.2h0m.2-138.9h0m.6 132.1h0m.7-125h0m1 83.6h0m.5-98.2h0m.5 142.5h0m.9-13.8h0m.2-82.1h0m.9 55.9h0m.3-3.1h0m.5-71.9h0m.1 92.5h0m1 11.9h0m.4-12.2h0m.7 29.1h0m.4-34.3h0m2.1-121.1h0m1.1 153.1h0m.9-156.5h0m.4 116.1h0m.6 53.4h0m.3 6.2h0m.3-18.6h0m0 21.8h0m2.5-12h0m.2-4.6h0m.6-10.3h0m.4-29.3h0m.3 27.5h0m.5-79.3h0m.4 54.4h0m1-10.6h0m.3 9.9h0m0 17.3h0m1.4 32.6h0m1-36.9h0m.3 38.5h0m.1-38.8h0m.6-12.3h0m0 21.2h0m1.7-24.6h0m0 44h0m.1-42.8h0m.7-62.4h0m1.2 126.6h0m.8-10.7h0m.3-132.8h0m0 27.1h0m0-1.9h0m.1-33h0m.2 97.1h0m1.4-50.8h0m.2 104.8h0m0-36h0m.9-68.9h0m.7-33.7h0m.1 30.6h0m.3 73.8h0m.1-117.3h0m.1 137.9h0m.4-55.3h0m.5 21.8h0m.5-47.7h0m2.2 91.3h0m1.8-57.4h0m1.9 18.8h0m1.3-56.5h0m.6 3.2h0m0 73.7h0m0-31.5h0m1.5 26.2h0m.8-83.3h0m.1 50h0m.6-12.1h0m.5 39.4h0m1-3.2h0m.3-110.4h0m1.5 118.1h0m.3-31.5h0m.4-29.8h0m.8-66.7h0m.2 113.1h0m.2 20.5h0m1.6 10.8h0m.5-48.7h0m.5 29.4h0m1-29.4h0m.2 4.9h0m.4 20.4h0m.1-13.8h0m.3 28.2h0m.3-13.3h0m.4-.3h0m.1 8.2h0m.3-4.7h0m.8-28.1h0m3.5-15.2h0m.1 20.3h0m.2 33.7h0m1.5-50.8h0m3.3 17.2h0m.2 .4h0m2.9 23.2h0m0-87h0m.4 59.9h0m1 33h0m.3-17.1h0m.1-67h0m.1 76h0m.2-65.6h0m.3-70.4h0m.5 84.4h0m0 38.4h0m2.4-5.1h0m6.9-27.9h0m1.2-7.2h0m.7 .4h0m7.2 35.5h0m.5-24.4h0m3.8 23.8h0" fill="none" stroke="#fabf61" stroke-width="2.3" stroke-linecap="round"/>
<path d="M1265 418h0m2.1 8.3h0m.5 1.6h0m.3 1.5h0m2.2-1.8h0m1.2-9.9h0m2.1-16.1h0m.2 15h0m.2 15.1h0m0-5h0m.3-12.8h0m0 2.2h0m.4-13.3h0m.1 6.2h0m.1 9.7h0m.2-6.7h0m.9 4.9h0m0-4.4h0m.2-4.4h0m1 26.6h0m1.1-16.9h0m0 6.4h0m1 4.1h0m.5-5.3h0m.6-19.5h0m.1 7.1h0m.2 13.4h0m.5-31.2h0m.8 5.9h0m.5 2.3h0m.6-15.2h0m1.1 55.2h0m.2-26.6h0m1.1-3.4h0m.2-4.3h0m1.1 1.7h0m.8-11.1h0m.7 34.7h0m.6 10.6h0m.1-4.3h0m.1-49.8h0m.6 42.4h0m.5-36h0m.4-15.4h0m0 25.2h0m.2 23.8h0m.2-55h0m.5 63h0m.6-58h0m1 36.4h0m.1 2h0m.5 12.3h0m0-41.2h0m.3 58.3h0m.3-78h0m.2 71.8h0m.3-69.6h0m.2 10.7h0m.2 52.1h0m.1-17.3h0m.3-36h0m1.1 54.6h0m.6-34.6h0m.3-39.5h0m.3 52.1h0m.4-12.5h0m.3-19.8h0m.3-17.3h0m.5 8.8h0m0 19.7h0m.2-7.4h0m.1 45.2h0m.8 14.5h0m.1-61.6h0m.3 26.9h0m.5 25.4h0m0-49.1h0m.2 29.9h0m0-45.6h0m.1 33.1h0m.6-31.4h0m.5 16.7h0m.3 46.6h0m.1-41.8h0m.3 16.8h0m1.2-4.7h0m.2 30.6h0m1 19.5h0m.7-57.7h0m.6 47.3h0m.4-53.2h0m.3 6.3h0m.3 24.8h0m0-17.2h0m.3-27.9h0m0 50.6h0m.4-.4h0m0-27.7h0m.2-14.3h0m.2 .3h0m.1 .3h0m.2 44.8h0m.2-12.3h0m.2 29.6h0m.8-6.6h0m.3-13.6h0m.2-18.7h0m0-7.5h0m.9 43.7h0m.1-21.1h0m.9 9.8h0m2-33.9h0m.1 33.5h0m.1 20.6h0m.5-20.3h0m.2-45h0m.7 70.4h0m.2-74h0m.7 50.6h0m.3-.4h0m.3-73.6h0m.9 18.8h0m.8 5.5h0m.1-29.6h0m.2 4.3h0m.3 54.2h0m.2-14.7h0m0 18.8h0m.4-4.3h0m.3 20.6h0m.1 16.7h0m.2-28.3h0m0-6.8h0m.3 23.7h0m.3 12.8h0m.5-12.7h0m0-32.2h0m1-40.9h0m1.1 85.3h0m.1-90.1h0m.5 56h0m.4 33.8h0m.4-70.1h0m0-14.3h0m0 78.1h0m.5-.2h0m.7-56.7h0m1.1 44.2h0m.1 15.6h0m.5-85h0m.1-25h0m.1 91.6h0m0 21.8h0m.1-27.8h0m0-26.8h0m.1 5.1h0m1 59.4h0m.2-80.9h0m.3 44.4h0m.2 17.9h0m.5-51.5h0m.7 9.4h0m.1 35.6h0m0 15.8h0m.1-60.7h0m1.8 56.1h0m0-22.2h0m.3-72.9h0m.3-2.2h0m0-9.9h0m.2 109.3h0m.1-13.4h0m.2-49.6h0m.1 64.3h0m.1-40.9h0m.2-4.2h0m.3 22.3h0m0-18.5h0m.3-62.3h0m.2 84.2h0m0 28.6h0m.1-48.6h0m.4 15.1h0m.2 29.3h0m.1-19.4h0m.1-22.1h0m0-75.5h0m.7 34.1h0m.1 82.1h0m.3-35.8h0m.3 12.5h0m1.2 8h0m.3-25.8h0m.4-57.9h0m.5 94.6h0m.8-1.4h0m.1-11.7h0m.2-5.5h0m.1-41.7h0m.7-9.1h0m.4 35.5h0m.7 48.6h0m.4-111h0m.2 23.4h0m.2 19.7h0m.3 48.2h0m1.6-101.7h0m.1 96.7h0m.7-80.9h0m.4 88.4h0m.3-44.7h0m0 57.4h0m.2-2.8h0m.4 8.9h0m.5-73.3h0m.3 38.4h0m.5-64.5h0m.3 82.8h0m.5 11.2h0m1.1-15.9h0m0-102.2h0m.4 99h0m.7-69.4h0m.2 47.2h0m.1 24h0m.1-17.4h0m.1-15.4h0m.1 15h0m.5-5.8h0m.6 48.5h0m.6-30.5h0m.2 33.2h0m.1-90.5h0m.1-34.2h0m.3-.3h0m.3 118.8h0m.1-23.7h0m.5 23.4h0m0-41.9h0m.5 30.8h0m.1-57.2h0m0 36.9h0m.1-103.8h0m.4 42.9h0m.5 99.6h0m.1-34.5h0m.2 19.9h0m.9-105.4h0m.1 55.7h0m0 26.7h0m.6 42.2h0m.5-109.8h0m1.4-55.4h0m.7 142.9h0m0 2.3h0m.1-27h0m1.1 32.8h0m.9-89.4h0m.3 74.6h0m.7-6.5h0m.1 26.3h0m.1-33.4h0m.2 9h0m.6 26.4h0m0-80.4h0m.6 7.6h0m.1 67.1h0m.1-24h0m.7-91h0m.1 107.2h0m.5 19.5h0m.7-24.6h0m.3 19.2h0m.1 2.9h0m.7-77h0m.1 66.1h0m.9 12.6h0m.1 .5h0m0 6.2h0m.2-89.3h0m.7 95.4h0m.1-45h0m.2-105.1h0m.1 18.3h0m.5 102.4h0m.8-127.9h0m1.3 110.6h0m.6 7.1h0m.8-68.1h0m1.4-7.3h0m.4 72.6h0m.2-.9h0m1.1-1.5h0m1.5 54.2h0m.4-122.7h0m.3-16.6h0m.5 133.9h0m0 15.9h0m.1-14.4h0m.1-133.8h0m0 108.3h0m0 9.4h0m.1-91.8h0m0 75h0m.3-62.1h0m.2 84.7h0m0-18.8h0m.5-19.4h0m.3 10.7h0m.1-82.9h0m.5 74.4h0m.3-48.4h0m.2 82.7h0m.7 13.9h0m.6-25.8h0m.7 2.8h0m.2-83.4h0m.1-54.7h0m.1 173.3h0m.3-67.9h0m.1 5.2h0m.2 58.9h0m0-9.8h0m.2-38h0m.3-34.3h0m.2 88.3h0m.4-51.7h0m0 34.9h0m.1 8.6h0m0-127.5h0m.2 115.6h0m.2-154.8h0m.1 147.4h0m.1-59.4h0m.5 39.6h0m.2-12.4h0m1-12.5h0m.6 10.5h0m.4-44.4h0m.1-32.8h0m0 113.3h0m.2-1.3h0m0-53.1h0m.3 35.1h0m.7-47.5h0m.3-9.9h0m0 1.6h0m.3 69.9h0m.5-97.3h0m.8 98.9h0m0-9.5h0m.8-107.6h0m0 123.5h0m0-42.6h0m.1-16.4h0m0-3.7h0m.2-24.9h0m.6 97.7h0m.2-141h0m.4-2.5h0m.3 148.5h0m0-10.9h0m.2-56.2h0m1.3 67.9h0m.2-54.9h0m.6 12.7h0m.3-25.7h0m.4 61.5h0m.7-13h0m0-.6h0m.2-18h0m.2-103.8h0m.8 87.8h0m.6 6.3h0m.2-45.2h0m.2-.9h0m.3 24.6h0m0 2.9h0m.3 41.9h0m0 4.6h0m.6 12.6h0m.6-21.5h0m1.3-57.2h0m1.1-86h0m.1 147.9h0m.4-38.2h0m.2 56.5h0m.3-42.3h0m.9 8.7h0m.4-42.9h0m1.3 25.9h0m.1-1.4h0m.3-25.6h0m1.4 27.6h0m.1 6.3h0m.1 33.4h0m.6-111.1h0m.1 80.9h0m0-91.8h0m.2 119.9h0m.8-10.9h0m1.2-32.9h0m.8-31.9h0m1.6 60h0m.1-18h0m0 4.3h0m.9-26.7h0m.8 37.3h0m.1-33.5h0m.1-34.6h0m1.1 69.8h0m.2 17.7h0m.7 3.9h0m.1-25.4h0m.4-59.7h0m.6 18.6h0m.8 60.9h0m1.1-25.2h0m.7 7.2h0m.1-114.4h0m.5 103.7h0m.2 15.3h0m1.1-30.4h0m.2-72.6h0m0 49.7h0m.9 73.1h0m.4-1.1h0m.1-23.9h0m2.3-7.5h0m0-26.6h0m.3 43.5h0m.2-27.5h0m.2 40.7h0m3.2-4.5h0m.2-129.6h0m0 69.8h0m.1 58.3h0m.1-15.6h0m2.2-21.9h0m.9 30.7h0m.3-29h0m1.6 1.1h0m0-22.4h0m10.4 35.5h0m.4-99.1h0m.2 77.7h0m.3 7.3h0m2.3 14.3h0m.7-1.4h0m2.9-20.6h0m.4 6.1h0m1.1-41.6h0m1.5 36.6h0m2 5.5h0" fill="none" stroke="#f7aa52" stroke-width="2.3" stroke-linecap="round"/>
<path d="M1265.4 419.3h0m2.5-10.4h0m1.7 27.9h0m.3-7.7h0m1.2-2.4h0m.1 16.7h0m.1 2.1h0m3.4-6.9h0m.1 10.8h0m.7-37.7h0m0 8.4h0m.5 2h0m0 26.2h0m2.1-27.9h0m.4 23.5h0m.2-44.9h0m.2-4.5h0m.3 29.8h0m.2 9.4h0m.5-30.3h0m.2 17.3h0m.1-9.3h0m.5-20.1h0m.6-6.1h0m.2 7h0m.2 14.9h0m.2-21.2h0m.4 23h0m0-24.5h0m1.9 5.6h0m0 11.6h0m.2-.7h0m.2-15.2h0m1.2 10.1h0m.6 47.3h0m1.4-32.4h0m.2 1.8h0m.2-19.3h0m1.7-3.4h0m.6 6h0m.4-12.8h0m.6 13.7h0m.1 6.1h0m.4-14.3h0m.3 6.9h0m.1-14.4h0m1 20.3h0m.2 15.2h0m.6-19.7h0m.8 26.1h0m.1-20.6h0m2.3 35.2h0m.2-28.9h0m.1 7.5h0m.4-5.8h0m0 23.1h0m.1-12.6h0m.4-23.1h0m.1-26h0m.1 8.4h0m.7 48.7h0m.3-23h0m.6 15.2h0m.5-12.2h0m.6 16.4h0m.1-14.9h0m.5 13.5h0m.2-56.4h0m.2 1.5h0m0 64h0m.1-21.8h0m.1 6.6h0m.2 12.2h0m.3-57.8h0m.1 22.7h0m0 19.9h0m.1 .7h0m.2-3.8h0m0 37.3h0m.1-49.4h0m0 26.8h0m.5-68.6h0m.2 40.1h0m0 34h0m.3-64.1h0m.4 21.2h0m0 41.7h0m.1-37.6h0m0-13.4h0m.5 27.6h0m.2-.5h0m.3-5.4h0m.3-20.8h0m.1 62.7h0m.4-53.1h0m.6 30.4h0m.4-49.6h0m.6 15.4h0m.2 50.3h0m.2-64.6h0m.1 74h0m0-23.6h0m.8-31.9h0m.9-22.7h0m.3 61.8h0m1.1 9h0m.1-76.5h0m.4 56.8h0m.3 4.7h0m.3 7.2h0m.1-49.3h0m0 24.9h0m.4 39h0m0-32.9h0m.1 34.5h0m.4-16.6h0m.7-64.9h0m.5 75.7h0m.7-58.5h0m.3 51.6h0m0-86.2h0m.1 93.7h0m0-91.9h0m.2 56.7h0m.2 3.4h0m.8-50.1h0m.2 20.7h0m.1 45.2h0m.2-30.1h0m.3 53.9h0m.1 7.2h0m.2-92.2h0m.1-.3h0m.5-5.6h0m.4 17.4h0m.1 54.4h0m.3-11.7h0m.2-29.1h0m.4-7.4h0m.5-32.7h0m.2 72.1h0m.1 34.2h0m.1-45.9h0m0 18.2h0m.1 23.3h0m1.5-58.9h0m.2 8.6h0m.8 1.4h0m.8-32.8h0m.2-4.7h0m.2-8.4h0m0 20.5h0m.5 7.5h0m0 61.9h0m.6-68.5h0m.4 64.3h0m.3-60.6h0m.1 .1h0m0 13.6h0m0-43.4h0m.2 32.6h0m.2 14.2h0m.3 43.9h0m.8 9.4h0m.5-28.4h0m0-31.2h0m.1 54.3h0m.3-27.1h0m.1 12h0m.2-60.4h0m.7 79h0m.2-29.1h0m0-65.9h0m.6-4.7h0m.8 38.9h0m.2-38h0m.7-3.9h0m.1 64.6h0m.5-12.8h0m.3 26.5h0m.1 17.9h0m.1-66.7h0m.4 63.4h0m0 1.7h0m.2-26.8h0m0-17.4h0m0 36.5h0m.3-53.3h0m.2 73.9h0m.5-82.4h0m.8 91.5h0m.2-5.7h0m.2-23.7h0m.6-30.3h0m.1-46.7h0m.1 84.4h0m0 7.8h0m0-34.3h0m.1 41.4h0m0-83.1h0m.1 74.4h0m0-74.7h0m.8 75.6h0m.1-56.9h0m.2 1.8h0m.3-45.6h0m.1 67h0m.5 31.7h0m.1-18.3h0m0-38.1h0m.2 51.3h0m0-8.9h0m0 12.6h0m.2-10.6h0m.5 5.1h0m.3-41.3h0m.5 52.2h0m.2-53.4h0m.2-52.5h0m1.6-7.2h0m0 77.5h0m.1 10.1h0m.3-84.3h0m.2 20.9h0m.1 73.6h0m.1-98.7h0m.4 99h0m.2-92.2h0m0 91.2h0m.3-37.5h0m.3 54.3h0m.1-2.7h0m.1-22.7h0m0-66.5h0m0 51.9h0m.1 40.4h0m.2-99.1h0m0 104.4h0m.2-18.7h0m.4 23h0m.9 6.9h0m.2-102.1h0m.2-19.7h0m0 18.4h0m.2-9.5h0m.5 81.2h0m.3-78.1h0m.1 48.7h0m.1 11.5h0m.3-1h0m.2-55.4h0m.2 16.8h0m.2 89.5h0m.5-40.7h0m.5-22.2h0m0-10.1h0m.4-43.1h0m.1 87.3h0m.3 29.6h0m.6-16.8h0m.7-112.2h0m.3 33.6h0m.4-41.2h0m.5 96.1h0m.2 11.3h0m.2 32.5h0m.5-91.3h0m.3 92.6h0m.1-103.5h0m0 74.5h0m.2-2.9h0m.1 17.1h0m.3 12.4h0m.1-13.2h0m.1-29.2h0m.3 21.2h0m.4-44.3h0m.5 28.1h0m.2-80.2h0m.6 118.7h0m.1-9.7h0m.1-22.4h0m.6-39.5h0m.4-10h0m.3 72.6h0m.2-41.4h0m0 13.2h0m.3 41h0m.1 1h0m0-38h0m0-47.3h0m1.2-64.6h0m.2 115.6h0m.3 7.1h0m.2-15.6h0m0 3.3h0m.2 22.8h0m.3-142.7h0m0 156.2h0m.1-14.1h0m.1-135.8h0m.2 12.1h0m.6 121.8h0m1.1-28.9h0m.4 32.7h0m.1-124.8h0m.1 141.8h0m.2-110.6h0m0 59.1h0m0-96.3h0m.6 119.2h0m.4-100.2h0m.3 28.3h0m0-28.8h0m.6 96.2h0m.1-115h0m.8 147.9h0m1.8-21h0m.2-15.8h0m.5 18.6h0m.4-120h0m0 106.4h0m.4 36.9h0m.3-49.7h0m.8 55.9h0m.8-120.1h0m1.5 83.6h0m.9-116.5h0m.8 33.3h0m0-24.9h0m.2 91.7h0m.3-72.2h0m.3 89.7h0m.4-86.6h0m0-41.3h0m.3 121h0m.1-101.2h0m.3 45.4h0m0 42.7h0m.5 60.2h0m1.5-50.2h0m.2-76h0m.4 87.4h0m.3-4.1h0m.1-11h0m.1 33h0m.2 2.6h0m.1 23.7h0m.3-61.3h0m0-70.5h0m.1-8.9h0m.9 28.6h0m.3-63.1h0m.3 173.1h0m.3-12.5h0m0 17.6h0m.1-5.1h0m.5-144.7h0m1.1 89.7h0m.1 47.9h0m0-114.5h0m.1-38.3h0m0 12h0m.6 38.3h0m.3 119.5h0m.9-151h0m0 89.9h0m.2-75.4h0m.1 13.8h0m1 115.1h0m.3-9.4h0m.5-24.9h0m.2-34.9h0m.1-51.6h0m.5 100.2h0m.2 13.1h0m0-37.7h0m.4-49.6h0m.7 17.9h0m.3 32.1h0m.1-38.8h0m.2 12.4h0m0-106.1h0m.2 163.8h0m.1-19.7h0m.4 24.2h0m.2-52.9h0m.1 46.1h0m.1-114.4h0m.2 41.5h0m.4 38.7h0m.4-56.8h0m.1 40.2h0m1.2-35.5h0m.6-60h0m.2 120.1h0m.3-48.8h0m.1-7.1h0m.7 93.8h0m.2-24.6h0m.1-120.8h0m.2-6.5h0m.3 107.4h0m0 8.8h0m0 20.9h0m.1-96.9h0m.5-11.4h0m0 55.4h0m.1 51.6h0m.3-59.3h0m.3 18.9h0m.3-8.7h0m.1 40.5h0m.6 25.8h0m.3-41.2h0m.1-41h0m.1 62.7h0m.6-37h0m.1-57.5h0m.6 28.8h0m.9-63.5h0m.1 50.9h0m.1 52.4h0m.2-96h0m.3 2.6h0m0-29.7h0m.1 26h0m.4 28.2h0m.1 74.1h0m.1 42.6h0m.1-95h0m.5 14.7h0m.7 70.1h0m0-67.5h0m.3 27.8h0m.1 11.4h0m.2 28.5h0m.2-6.4h0m0-73.8h0m.6 67.7h0m0-4.9h0m.1-2.8h0m1.2-42.7h0m0 1.5h0m.9 14.7h0m0 41.3h0m0-65.6h0m.2-9.6h0m.1-34.8h0m0 118.7h0m.2-45h0m.1-63.5h0m.5 30.2h0m.9 33.5h0m0 39.9h0m.6-154.3h0m.2 127.2h0m0-58.6h0m.7 41.2h0m.1-15.2h0m.1 26.1h0m.2-71.8h0m0-6.8h0m.1 49.5h0m.1-23.9h0m.4-1.5h0m.3 9.8h0m.1-48.4h0m.4 69.4h0m.1-28.5h0m.2 62.4h0m0-25.5h0m.4 1.2h0m.2-52.4h0m.1 58.1h0m.4 48.1h0m.3-23.1h0m.5-16h0m.4-14.6h0m.4 21h0m1-11.5h0m.8-40.6h0m.2 12h0m.2 59.9h0m.4-18.3h0m.3-64h0m.6 94.7h0m.1-95.9h0m.2 .7h0m.4 80h0m.1-7.2h0m.3-42.1h0m.9 25.3h0m.4 4.5h0m.1-21.2h0m.7 20.1h0m.2-110.4h0m.8 46.5h0m.2 33.1h0m.2 7.1h0m0-3h0m.2 8.6h0m.1 44.6h0m.1-36.6h0m.1 29.2h0m.1-139.7h0m.1 134.7h0m.9-69.4h0m.5 38.3h0m.2-40.5h0m.8 20h0m.8 38.6h0m.2-2.8h0m0-16.5h0m.4 35.4h0m.1-9.4h0m.4-36.3h0m1.4 48.9h0m.4-15.7h0m1.8-3.7h0m1.2-72.6h0m.1 67.5h0m1-5.6h0m1.1-35.9h0m.2-5.3h0m.1 50.1h0m.8-20.5h0m0-92.5h0m1.3 53.2h0m.2 80.6h0m.8-55.5h0m.2 5h0m.7 34.3h0m.5-18.9h0m.3-1.6h0m.8 18.9h0m.1-68.7h0m.9 46.6h0m.4 23h0m.6 .9h0m.6-15.1h0m.2-16.8h0m.5 .9h0m.1 25.7h0m.9-55.5h0m.1 56.7h0m.1-28.1h0m1.5 37.2h0m.7-49.2h0m5.6 9h0m.3 33.3h0m1.3-17.4h0m.6 4.6h0m.5-13.3h0m1.9 19.1h0m.7-16.5h0m1.8-11.4h0m.7-10.9h0m.9 32.2h0m.7-30.7h0m2.7 13h0" fill="none" stroke="#f49244" stroke-width="2.3" stroke-linecap="round"/>
<path d="M1265.7 413h0m3 0h0m1.5 23.8h0m3.7 1.2h0m.7-27h0m2.1 29.8h0m.2-45.9h0m.3 22h0m.4 11.6h0m.7-14.8h0m.1 28.4h0m.2-49.2h0m0 5.8h0m1 27.4h0m1.1 9.3h0m.8-26h0m.3-5.4h0m.1 35.5h0m.6-28.4h0m.2 2h0m.7-1.2h0m.7-28.1h0m.5 13.7h0m.1-8.7h0m.2-10.8h0m.3 64.2h0m1.3-58h0m.3 31.5h0m.5 11.1h0m.8-33.9h0m.2 11.1h0m.5-25.7h0m.4 15h0m1.4 47.6h0m.7-28.5h0m1.9 29h0m.1-7h0m1.6-33h0m.3-36h0m1.1-.5h0m0 41.6h0m0-42.9h0m.3 .1h0m.1 21.4h0m.1-4.5h0m.6 38.5h0m1 16.9h0m0-16.1h0m.2 .7h0m.1-33.5h0m.1 2.7h0m.5 50.2h0m.5-56.4h0m.8 23.1h0m.4 25.9h0m.3-66.3h0m.2 31.8h0m.1-41.4h0m.1 38.6h0m.8-3.2h0m.6 3.6h0m.1-35.8h0m.5 88.2h0m.1 3.3h0m.2-22.2h0m1-11.5h0m1.1-61.2h0m.2 46.1h0m0-25.8h0m.1-22h0m.4 0h0m.1 31.4h0m.4-23.1h0m.1 4.3h0m.2 6.1h0m.7 43.3h0m.5-34.4h0m.5 9.6h0m.7 10.5h0m.2-43.3h0m0 5.7h0m.1 45.7h0m.4-48.4h0m.6 87.6h0m.6-72.2h0m.1 56.3h0m.3-8h0m.4-47h0m.1-17h0m.9 90.2h0m.1-10.8h0m.1-12.5h0m0 12h0m.2-65.3h0m.1 9.9h0m.5-33.3h0m.2 74.1h0m1.3 5.9h0m.1 26.3h0m.2-60h0m.1-27.8h0m.1 49.9h0m.4 38.2h0m.7-88h0m.1 7.4h0m.2 36.6h0m1-66.8h0m.2 44.5h0m.3-37.2h0m.2 14.2h0m0 31.3h0m.9 12.9h0m.2 41.4h0m.3-70.7h0m.5-33.9h0m0 11.2h0m.7-13.2h0m.2 9.4h0m0 13.2h0m.5-11.7h0m.1-1h0m.4 28.6h0m0 14.9h0m.6 4.6h0m0-63.8h0m1.2 100.6h0m1.2-41.7h0m0-38.1h0m.1 32.1h0m.2 8.1h0m.1-25.1h0m.2 20.7h0m1.2-14.5h0m0 40.3h0m.1 12.9h0m.1 14.8h0m.2-26.9h0m1-9.2h0m.1 5h0m0 19.3h0m.1 9.8h0m.3-76.4h0m.4 3h0m.8 29.2h0m.8 45.8h0m.3-117.9h0m0 126.2h0m.2-114.6h0m.3 112.3h0m0-22.4h0m.1-56.3h0m.2 81.6h0m.1-73.8h0m.2-12.9h0m.3 57.7h0m0-28.8h0m.1 28.7h0m0 20.7h0m.5-32.9h0m0-28.3h0m.2-41.8h0m.3 8.7h0m1 80.4h0m.3-84.6h0m.2-13h0m.1 116.8h0m.1-10.4h0m.3-74.6h0m.2-27.8h0m.2 29.4h0m.1 36.1h0m.5-12.5h0m.1-47.5h0m.1 87.8h0m.1-78h0m.2 72h0m.1 28.5h0m.4-105.6h0m.3 41.2h0m0 35.7h0m.1-19.1h0m.6-62h0m0 70.3h0m0 13.5h0m.1-87.3h0m.6 92.4h0m.1-29.3h0m.1-53.4h0m.4 102.1h0m0-75.5h0m.1 15.1h0m0-54.6h0m.2 76.1h0m.5-41.1h0m.2 40.4h0m.2 42.1h0m1.1 4.5h0m.5-58.9h0m0-10.8h0m.7-46.1h0m.8 76.6h0m0 10.4h0m.4 10.2h0m.4-25h0m.3-5.1h0m1.6 19.8h0m.5-73.6h0m0 20.6h0m.2 10h0m.8 8.7h0m.7 21.8h0m.2-47.4h0m.5-26.7h0m.3 115.8h0m0-49.6h0m.3-45.2h0m0-6.1h0m.1 13.5h0m0-48.5h0m.3 33.8h0m.2 13h0m.2-3.4h0m.4 12.4h0m.9-36.1h0m0 .3h0m.3 84.5h0m.3 23.5h0m.1-91.9h0m0 84.6h0m.2 6.2h0m.6 10.8h0m.1-104.4h0m.2 5.6h0m.3-2.9h0m.4 44h0m.1-69.9h0m.9 104h0m.2-71.9h0m.4 16.1h0m.2 3.8h0m.1 1h0m0 35.6h0m.5 34.8h0m.6-59.6h0m.1-70.5h0m.2 .3h0m.3 69.4h0m.5-20.2h0m.1 44.4h0m.1 6.4h0m.1 26.1h0m.1-133.9h0m.6 137h0m.1-32.5h0m.1 24.1h0m0-96.7h0m0 5.7h0m.2 .7h0m.1-9.8h0m.4 21h0m.2-25.4h0m0-24.8h0m0 22.3h0m0-23.4h0m.2 42.8h0m.4 78.3h0m0 9.2h0m.2-78.7h0m.3-12.7h0m0-40.8h0m0 44.9h0m.1-4.4h0m0-42.3h0m.4 31.5h0m.1 .1h0m0 20.8h0m.1 81.6h0m.3 17h0m.2-10.7h0m.4-13.9h0m.3 29.1h0m.2-97.2h0m.4 10.6h0m.5 63.3h0m.7-57.8h0m0-61.6h0m.7 103.3h0m.4-69.9h0m0 12.7h0m.6 58.1h0m.3-117.3h0m.2 141h0m0-2h0m1.2-97.3h0m.4 22.4h0m.2-46.2h0m.2 130h0m.5-111.1h0m.4 9.4h0m0-13.9h0m.6-7.2h0m.5 .2h0m0 6.6h0m.2-9.7h0m0 6.2h0m.6 4.8h0m0-21.4h0m.3 41.9h0m.1 112.5h0m.1-127h0m0-20.8h0m.8 160.3h0m.3-156h0m.2 28h0m.2-39.7h0m.4 110.8h0m0-116.8h0m.5 133.7h0m.4-128.3h0m.3 5.5h0m.1 8h0m.1 29.8h0m.3-36.7h0m.1 60.6h0m.8 71.8h0m.4 7.9h0m0-36.9h0m.1 22.2h0m.2-101.7h0m.3-23.7h0m.3 8.6h0m.1 97h0m.2 50.4h0m.1-2.7h0m.1-104.9h0m.1-23h0m.1-4.8h0m0 11.7h0m.2 26.5h0m.1 73.8h0m.2-130.4h0m.4 25.8h0m.1 33.2h0m0 83.4h0m.4 13.1h0m.1-172.1h0m1.2 60.4h0m.2 10.6h0m.6 63.2h0m.7-60.8h0m.3-52.3h0m.6 28.1h0m.1 116.3h0m.5-106.3h0m0-49.5h0m.4 69.7h0m0-13.3h0m.4-50.5h0m.1 98.5h0m.3-107.2h0m.9-1.5h0m.5 53.5h0m.5 103.6h0m.2-81.6h0m.4 49.1h0m.5 45.6h0m.1-56h0m0 21.4h0m0-72.5h0m.3 89.1h0m.2-60.7h0m.3 81.8h0m.2-6.1h0m.3-79.3h0m0 47.1h0m.1-37.3h0m.1 44.1h0m.2 14.2h0m.3-19.8h0m.4 21.6h0m.2-49.1h0m.1 28.8h0m0-16.4h0m.4-95.8h0m.1 76.5h0m.3 43.2h0m0 31.9h0m.1-65.3h0m.3-67.5h0m.2-27.3h0m0 156.1h0m.2-67.2h0m.6-90.5h0m.2 12.5h0m0 90.9h0m.5-43.6h0m.3-51.7h0m.1-5.8h0m0 107.6h0m0 32.6h0m.6-89.1h0m.1 19.9h0m.2 41h0m.5-52.4h0m0 34.9h0m.1-88.6h0m.1-24.8h0m.1 65h0m.2 78.3h0m.1-68.1h0m.4 30.3h0m.7 40.2h0m.2-20.7h0m.2-103.3h0m.2 37.2h0m.2 14.9h0m0 81h0m.2-51.2h0m0-80.5h0m.2 99.7h0m.1-104.9h0m0 107.1h0m.7 9.9h0m.7-113h0m.5 95.4h0m.4-29.4h0m0-68.6h0m0 2.4h0m.3 63.8h0m.7 46h0m.4-26.6h0m.2-20.7h0m.3 20.8h0m.6-70.1h0m.6 39.7h0m.1 38.6h0m.3 62h0m.4-34.7h0m.4-53h0m.2-68.9h0m.3 113.8h0m0-39.7h0m.2-36.3h0m.1 49h0m1 4.6h0m.2-43.3h0m.2 48.5h0m0 7.4h0m.3-101.2h0m.5 138.8h0m.1-77.5h0m.2 15.9h0m0-26.7h0m.1 79.1h0m0-21.3h0m0-2.8h0m.2-40.2h0m.3-36.7h0m0-6.1h0m.1 122.5h0m.1-19.7h0m.1-6.3h0m.1-60.5h0m.4-67.1h0m.1 65.1h0m.1-17.9h0m0 22.7h0m.7 83.8h0m1.4-48.1h0m.4-19.9h0m.7-76h0m.5 61.1h0m.4-34.1h0m.2 61h0m.1-3.1h0m.1-14.9h0m.2 64.9h0m.3-40.9h0m.3-5.6h0m.4 22.6h0m.5-29.1h0m.1-37.8h0m.1 32.6h0m0 15.1h0m.2-29.8h0m0 50h0m0-9.5h0m.2-36.6h0m0-65.5h0m.1 48.3h0m.2-57.5h0m.3 37.3h0m0 21.6h0m.4 91.7h0m0-44.7h0m.2 .3h0m.8 7.4h0m.1-105.3h0m.9 33.7h0m.6 59.7h0m.1 10h0m.1-80.5h0m.1 102.7h0m1.3-118.2h0m.2 83.7h0m.6 44.7h0m.2-93h0m.5 59.7h0m0-19.3h0m.1 14h0m.1-13.2h0m.2-96.1h0m0 146.9h0m.4-25.3h0m.2-61.3h0m.2 30.2h0m.2 55.7h0m0-31.7h0m.7-1h0m.6-64.8h0m.2-5.6h0m.3 71h0m1.1-.7h0m.2-46h0m.1 66.6h0m.1-37.9h0m.2 46.3h0m.2-120.8h0m0 48.5h0m.2 51.4h0m.4-50.3h0m.3 6.4h0m.2 43.1h0m.2 3.4h0m0 10h0m.3-101.8h0m.8 74.2h0m0 32.3h0m0-5.9h0m.4-62.7h0m.3-50.2h0m0 91h0m.6-37h0m0 44.1h0m.5 5.1h0m.1-119.3h0m.7 90.7h0m.4 41.1h0m.2-62.4h0m.8 72.3h0m.4-64.1h0m0-69.9h0m.5 49.6h0m.8 84.1h0m.3-33.3h0m.1-44.1h0m.8 74.4h0m.1-57.7h0m.3-11.2h0m0-68.4h0m0 55.9h0m1-1h0m.2-14.3h0m.2 16.5h0m.3 72.2h0m0-98.4h0m.2 92.4h0m.2-4.7h0m.1-22.3h0m.7 27.3h0m0 0h0m1 11.6h0m.1-61.8h0m.6 58.9h0m.6-27.3h0m.4-10.3h0m.1 10.3h0m.1-38h0m.1 46.6h0m.5-67.8h0m.9 9.3h0m.1 62.9h0m.2-9.2h0m.9 22.9h0m.2-51.1h0m.7 46.5h0m1-23.7h0m.6 3.5h0m.1-84.6h0m.9 27.2h0m2.2 35.1h0m2.8 16.2h0m1.5-22.8h0m0 19.1h0m.9-19.2h0m.3 14.7h0m1.7 4.4h0m.1 5.7h0m0-13.6h0m.2-8.1h0m.5 26.8h0m1.2-26.9h0m.2 1.1h0m.3 17.6h0m.2 9.6h0" fill="none" stroke="#ee7439" stroke-width="2.3" stroke-linecap="round"/>
<path d="M1265.4 416.7h0m2.1-3.6h0m2.4 23.6h0m10-23.3h0m1.5 14.3h0m.3-16.9h0m4.1 7.5h0m3.4-18.2h0m1-14.9h0m.7 40.9h0m1.5-42.4h0m1.4 24.5h0m.3-32.8h0m.3 5.9h0m.6 6.1h0m.7-7.4h0m.2 .5h0m.7 27.2h0m.1-34.5h0m.2 8.9h0m.5 18.2h0m.7-17.8h0m1 27.7h0m.2-50.1h0m.9-.9h0m.1-1.6h0m.2 14.9h0m.1 10.5h0m1.3-25.6h0m.9 37.3h0m.4-38.5h0m.7 22.2h0m.9 31.1h0m0-48.6h0m.1 34.2h0m1.1-35.3h0m.2 25.3h0m.2-19.1h0m.2 10.3h0m.4 73.6h0m.2-20.8h0m.1-19.9h0m.1-26.4h0m.9 29.4h0m.5-37.8h0m.2-13h0m.4-4.8h0m1.3 63.8h0m.3-58.6h0m.5 45.9h0m0-46.4h0m1.2 27.4h0m.5-21.7h0m.3 71.1h0m.2-9.2h0m1.2-37.8h0m.1 65.1h0m.2-77.2h0m0-13.1h0m.5 66.8h0m.4-65.7h0m.4-13.4h0m.2 54.3h0m.3 29.9h0m0-83.6h0m1.4 22.5h0m.1 47.6h0m.2-59.4h0m.7 41.1h0m.2 35.7h0m.6-93.6h0m0 43.2h0m.2-19.3h0m.5 22.3h0m.4-30.5h0m0 26.5h0m.3 21.1h0m1.2 30.8h0m0-53.9h0m0-9.1h0m.2-28.5h0m.4-5.2h0m.6 113.6h0m.5-106.7h0m.1 24.6h0m.3 70.1h0m.4-100.8h0m1 69.4h0m.8 29.9h0m.9-37.4h0m.1-41h0m0-2.5h0m.1 26.8h0m.2-4.8h0m.2 56.2h0m0-71.8h0m.4 60h0m.3-45h0m0 5.1h0m.2 42.1h0m.3-43.5h0m0-27.7h0m.1 56.1h0m.1-9.8h0m0-38.8h0m.4 8.9h0m.1 77.8h0m0-62.2h0m.8 40h0m0-94.2h0m.2 36.7h0m.3 74.1h0m.2-98.3h0m.2 68h0m0-40.8h0m1 63.2h0m0-11.2h0m.4-57h0m.3 2.5h0m.2 .6h0m.1 20.7h0m.2-59.8h0m.1 .1h0m.4 55.5h0m.4-38.4h0m.7-11.2h0m.4-8.7h0m0-.5h0m.1 24.3h0m.4 60.5h0m.5-1.2h0m.1-14.1h0m.1-5.9h0m.5 1.6h0m.1-4.9h0m.6 25.1h0m0-46.8h0m.2 42.6h0m.3-66.7h0m.4 25.5h0m0-22h0m.2 104.9h0m.3-2.4h0m.5-114.3h0m1.4 112.5h0m.4-29.5h0m.1-32.5h0m.2 25.2h0m.2-62.9h0m0 84.9h0m.7-44.6h0m.3 18.2h0m.7-71.7h0m.5 104.4h0m.2 7.5h0m.5-28.4h0m0 40h0m.2-122.6h0m0 .6h0m.1 17.2h0m.1 .6h0m.2-13.1h0m1.2-3.4h0m.1 50.1h0m.2-55h0m.1 82.7h0m.1-12.3h0m1.2-7h0m.2 62.9h0m.4-68.5h0m.6-16.2h0m.8 82.2h0m0-50.5h0m.3-50.9h0m.2-29.9h0m.3 11.4h0m.3-5.9h0m0 73.2h0m.9-3.6h0m.1-32.3h0m.1 33.3h0m.4-110h0m.1 144h0m.1-76.6h0m.7 65.5h0m.1-4.5h0m.2-20.4h0m.1-101.6h0m.1 149.5h0m.1-94.8h0m.4-37.4h0m.2 105.5h0m0-109.9h0m.4-1.7h0m.2 52.1h0m.6 39.7h0m.4-47.3h0m.1-44.9h0m.2 65.8h0m0-16h0m0 24.2h0m0 86.8h0m.1-84.7h0m.1-34.6h0m1.1 44.1h0m.1-24.6h0m.1 80.3h0m0-105.5h0m.1 31.6h0m0 29.7h0m.8-39.9h0m.2-50.1h0m.1 17.6h0m.3 78.6h0m.2-35h0m0-53.5h0m.3 64.4h0m.5-3.7h0m0-84.4h0m.2 54.7h0m.1 95.9h0m0-119.4h0m.4-22.1h0m.2 62.3h0m.2 8.1h0m.5-42.5h0m.1-19.9h0m.1 113.1h0m.3-98h0m1.2-6.6h0m1.5-9.3h0m.5 31.3h0m.4 103.2h0m.6-127.3h0m.3 24.7h0m.2-7h0m0 2.8h0m.4 28.6h0m.8 76.9h0m.1-1.1h0m.4-16.9h0m.1 21.9h0m.8-131.2h0m.1 5.9h0m.1 25.3h0m.3-37.3h0m0 73.9h0m.4-63.5h0m.2 45.8h0m1.2 2.1h0m1.5-19.9h0m0-24.9h0m.1 38.5h0m0 98.8h0m.6-143h0m.2 14.1h0m0 26.9h0m.2 105.3h0m.1-14.2h0m0-23.2h0m.4-58.8h0m.6-22.3h0m0-33.4h0m.2 18.5h0m.1 17.9h0m.2-17.3h0m.3-5.9h0m.4 32.3h0m.8 8.1h0m.3 107.5h0m.1-112.4h0m.4 20.2h0m.3 116.9h0m.1-161h0m.3 45.2h0m.6-9.9h0m0 52.2h0m.2-54.5h0m.9-51.1h0m.2 63h0m0 44.5h0m.7-91h0m.1 95.3h0m.1-96.9h0m.1 109.7h0m.7-106.2h0m.2 16.5h0m.3 25.7h0m.3-33.9h0m.4-31.2h0m.2 2.1h0m.7 12.4h0m.3 7.1h0m0 38.5h0m0-61.6h0m0 0h0m.1 78.9h0m.1-80.3h0m.1 69.9h0m0-27.3h0m0 93.8h0m1-57h0m.2-21.8h0m.1 45h0m.1-72.3h0m0-20.9h0m.3 175.5h0m.1-4.1h0m.1-3.1h0m0-115.4h0m.3-56.8h0m.1 139.2h0m.2-86.6h0m.1-50.5h0m0 133.9h0m.3-4.5h0m.1-114.2h0m.9 106.5h0m.6-67.3h0m.1-56.7h0m.2 61.2h0m.1 63.5h0m.3-25.9h0m.2-86.2h0m.5 110.2h0m.2-31.5h0m.1-61.1h0m.7 40.1h0m.2 78.2h0m0-30.4h0m0 1.8h0m.2 24.4h0m0-40.7h0m0-31.4h0m.3 46.3h0m0-14.6h0m.1 15.6h0m0-104.4h0m.3 107.7h0m0 2.4h0m.6-61.3h0m0 12.3h0m0-50.2h0m.8-16.9h0m.2 18.5h0m.3 14.7h0m.1 34.7h0m.1-75.8h0m.4 114.2h0m.1-69.2h0m.5 76h0m.1-92.4h0m0 60.7h0m.6-5.6h0m0 38.3h0m.1-7.2h0m.1-58.8h0m.2 27.8h0m.1 58h0m.3-68.3h0m.3-52.1h0m.2 67.7h0m.3 61h0m.1-5.4h0m.3 28.1h0m.5-128.1h0m.2 46.9h0m0 54.1h0m.4-51.1h0m.3-39h0m.1 87.6h0m.2 5h0m.1-9.5h0m.3-49.6h0m.1 55.1h0m1.2-66.7h0m.1-41.3h0m.5 118.1h0m.5-36.9h0m.2-24.6h0m0 23.5h0m.1-3.1h0m.2-16.4h0m.1 28.8h0m.5-35.7h0m0-15.9h0m.2-70.5h0m.1 124.3h0m0-106.6h0m.5 77.1h0m.4-27.3h0m0-40.5h0m.1 64.6h0m.3-32.7h0m.1 5.6h0m.1-48.9h0m.1 4.4h0m.1 76.6h0m.4-46.3h0m.1 17.3h0m.2 52.9h0m.1-8.9h0m.2 55h0m.2-15.4h0m.2-26.3h0m.3-123.8h0m.2 4.9h0m.1 108.2h0m.1 32.2h0m.1-105.3h0m.1-37.9h0m.4 49.8h0m.1 30.7h0m.1-9h0m.1 22.1h0m.2-21.1h0m0 48.4h0m.2-28.6h0m.5 53.6h0m.2-38.6h0m.8-42.3h0m.3 31.6h0m.4-36.7h0m.7 51.6h0m.1 40.9h0m.3-98h0m.2-52.6h0m1.2 142.2h0m.3-138.5h0m.6 2.8h0m.5 153h0m.1-51h0m.2-4.1h0m0-59.5h0m.1-25h0m.5 82.1h0m.1-11.1h0m.3-.8h0m0-32.3h0m0-26.6h0m.2 89.4h0m0-108.4h0m.1 133.3h0m.3-138.5h0m0 110.7h0m.3-30.5h0m.3-64.2h0m.5 11.9h0m.1 94.8h0m.1-102.3h0m.1-3.2h0m.4 119.4h0m.4-86.3h0m0-11.1h0m.2 10.3h0m.1-50.5h0m0 4.2h0m.5 76h0m.8 43.2h0m0 19.1h0m.2-144.9h0m.3 61.8h0m1-24.7h0m0 107.1h0m.1 5.4h0m.1-23.5h0m.6-90.1h0m.2 22.1h0m.7 93h0m.3-81.1h0m.5 23.5h0m1.1 19.6h0m0-58.7h0m.2-5.6h0m.7 59.3h0m.7 33.3h0m.5-77.4h0m.3-60.9h0m.1 114.5h0m.1-113.4h0m.5 116.7h0m.1-57.8h0m.1-29.8h0m1.2-15.6h0m.2 106.8h0m0-58.9h0m.1-64.3h0m.8 32.7h0m.4 13.1h0m.6-8.4h0m.1 6.4h0m0 77.2h0m1.4-39.8h0m.1 30.5h0m.1-30.3h0m0 16.6h0m0-41.9h0m.2 53.1h0m0-88h0m.7 35.6h0m.3 61h0m.4-90.2h0m.2 78.6h0m0-12.3h0m.2-64.1h0m.4 71.9h0m0-97.5h0m.3 135.3h0m.2-34.9h0m.1-36.1h0m.2 26.7h0m0-43.8h0m.1-10.2h0m.3 96.2h0m.4-66.9h0m0 3.8h0m.3 59.5h0m.3 6.5h0m.3-21.3h0m.2-41.5h0m0 22.7h0m.2-17.7h0m.4-41.2h0m.1 3.1h0m.5 92.9h0m.1-40.2h0m.1 16.9h0m.1-21.1h0m.2 7.8h0m0-2.7h0m.1-51.1h0m1.4 82.6h0m0-20h0m.1 12.6h0m.1-91.4h0m0 59.1h0m.5 31h0m.3-20h0m0-21.3h0m0-58.6h0m.3 83.5h0m.3 3.5h0m.1-88.5h0m.2 106.4h0m0-107.8h0m1.2 106.2h0m.7-17.9h0m.1-41h0m.8-10h0m.1 21.7h0m1.1 35.7h0m.2 10.4h0m.1-69.6h0m.7 33.8h0m.8-9.6h0m.1 24h0m.7-20.9h0m.6-29.3h0m.9-10.4h0m.6 72.3h0m.7-34.5h0m2.1-15.7h0m1.4 31.1h0m1.8-12h0m.9-4.2h0m.1 29h0m.6-1.5h0m1.1-20.1h0m.5-16.8h0m0-1.1h0m4.9 10.8h0m.7 7.2h0m.4-14.7h0m.3 3.9h0m.9-3.3h0m2.8 1.4h0" fill="none" stroke="#e75630" stroke-width="2.3" stroke-linecap="round"/>
<path d="M1267.3 420h0m3.4 11.3h0m8.6 8.2h0m.8-52.3h0m1.1-6.5h0m1.1 1.2h0m4.8-1.2h0m.5 16.1h0m3.9-17.7h0m1 15.9h0m2.1 7.1h0m.8-27.7h0m.8 .3h0m.2-6h0m.3 3.2h0m.6 33h0m2.9-22.1h0m3.2 3.9h0m.9 40.7h0m.7 6.5h0m.1-68.2h0m2.2 16.9h0m3-7.5h0m.8-21.2h0m.3 16h0m5.4-.2h0m.1 88.8h0m.2-82.7h0m1.6-2.9h0m.1-19.4h0m1.2 84.5h0m.2-72.4h0m.8 13.4h0m0-26.6h0m.5 34.9h0m0-8h0m.3 22.1h0m.7-11.8h0m.6-32.9h0m.7 84.7h0m.6-5.8h0m2.1-29.2h0m.1-38.3h0m.5-24h0m.5 6.7h0m.9 14h0m0-5.4h0m.1-19.2h0m.2 48h0m.2-31.6h0m.8 19.4h0m.9-8.7h0m.2 6.7h0m0 1h0m.2 53.3h0m.6-19.7h0m.6-34.9h0m.2-3.1h0m1.1 92.5h0m.5-21.2h0m.2-97.3h0m.1 14.8h0m1.2-14.3h0m.3 23.7h0m.1 30.6h0m.2-38.3h0m0 54.2h0m1.1-25.1h0m.6-4.6h0m0 13.2h0m.4 34.9h0m0-43.4h0m0-55.3h0m.5 78h0m.2-25.6h0m0 25.7h0m.2-75.9h0m.2 .3h0m.1 7.3h0m.2 66.1h0m.4-76.3h0m.2 108h0m2.1-84.6h0m0-5.4h0m.2 38h0m.2-27.3h0m1-23.7h0m1 53.2h0m1.9-39.4h0m.1 71.9h0m.5 9.5h0m.1-95h0m.1 80.1h0m.7-22.9h0m.1 2.4h0m.3 15.5h0m1-72.5h0m.5 33.1h0m.2-9.2h0m.1 56.5h0m.1-7.8h0m.3-57.9h0m.8 2h0m0 13.2h0m.5 3.9h0m.4-8.8h0m.1 92.3h0m.6-73.6h0m.5-10.5h0m.4 15h0m.2 9.7h0m.3-25h0m.1 77.5h0m.2-76.3h0m.8-75.9h0m.2 87.1h0m.1 30.1h0m.3-74.3h0m.1 61.9h0m.3 40.8h0m.1-114.1h0m.2 86.3h0m.2-46.1h0m.1 13.2h0m.1-35.9h0m.5-28.8h0m.4 12.3h0m.4 45.7h0m.1-14.5h0m.1 26.8h0m.5-14.3h0m.1-26.2h0m.6-15.2h0m0 100.3h0m.3-21.6h0m.1-21.1h0m.1-57.4h0m.6-5.4h0m.7 56.2h0m.7-31.7h0m.1-23.6h0m.6 .4h0m0 99.9h0m.1-41.1h0m.1-49.9h0m.4 51.3h0m.1-70.7h0m.1 11.2h0m.1 61.3h0m.2-49.7h0m.5 3.1h0m.1 22.4h0m.5-46.6h0m.3 52.9h0m0-1.4h0m.4 82.2h0m.1-9.9h0m.1-88h0m1.5 26.4h0m.2-12.4h0m.1-45.6h0m0 69.7h0m.1-24.1h0m.2-22.5h0m.2 18.2h0m.2-8.2h0m.6-41h0m0 35.2h0m.1 110.4h0m1-18.6h0m.4-110.4h0m.5 20.8h0m0 21.3h0m.1-1.5h0m0-2.8h0m.8 77.5h0m.3-49.3h0m.1-22h0m.9-28.7h0m.4 26.4h0m.1-22.6h0m.2 13.6h0m1.2-8.4h0m.8 19.5h0m.6-24.9h0m.1 104.3h0m.4-72h0m.4 11.8h0m.4-46.5h0m1.5 32.2h0m.3-16.7h0m.1-42.5h0m.6 50.4h0m.2-44.1h0m.1 61.4h0m.2-9.8h0m.4 61.1h0m.1-79h0m.1-43.4h0m.2 39h0m.2 139.1h0m1.2-140.8h0m.6 20.6h0m0-56h0m.2 .6h0m.3 .2h0m0 44.8h0m1.1-47.6h0m.5 25h0m.1 158.3h0m.1-58h0m.8-14.9h0m.2-34.2h0m1 2.2h0m.8-75.8h0m.1 133.2h0m1.5-50.9h0m.5-53.9h0m.5 45.7h0m.5-13.3h0m0 11.1h0m.1 3.6h0m.1-46.1h0m.4-25.7h0m.3 18.3h0m.1-16.6h0m.4 30.4h0m.4 33.9h0m.6 99.1h0m.2-125.1h0m.1 71.3h0m.2-26.7h0m.1 46.3h0m0-35.3h0m0-44.9h0m.3-40.2h0m.3 13h0m.2 29.3h0m.2 85.3h0m.2-110.7h0m.4 1.4h0m.1 2.4h0m.2 102.7h0m.3-127.2h0m0 71.3h0m.4-72h0m.7 47.2h0m.1 61.7h0m.4-80.7h0m0-13.5h0m.1-14.4h0m0 14.9h0m.2-9.6h0m.3 69.8h0m.4-67.7h0m.4 13.4h0m0-13.3h0m.7 21.6h0m.3 123h0m.7-77.1h0m0 84.8h0m.6-51.5h0m0-53.7h0m.2 54.3h0m.3-64.8h0m.4-17h0m.2 85.7h0m.8-77.9h0m.1 45h0m.7 33.6h0m1-42.8h0m.1-33.4h0m.4 18.3h0m.1-47.1h0m0 26.1h0m.2 34.3h0m.3-2.9h0m0 22.3h0m.1 16.4h0m.3 11.8h0m.3-4.4h0m.7 47.3h0m.1-97.2h0m.3 11.4h0m.4 45.3h0m.4-79.1h0m0 96.9h0m.3-99.8h0m.2 6.3h0m.2 79.3h0m0-51.1h0m.1 57.1h0m.1-128.3h0m.2 28.7h0m.3 22.8h0m1.8 33.4h0m0-72.6h0m.3 6.2h0m0 108.9h0m0-75.1h0m.1-28.1h0m.1 18.3h0m.1 102.9h0m.3-89.6h0m.1 18.1h0m.4 41.3h0m.3 39.6h0m.1-16.4h0m.1-97.5h0m.4 59.4h0m.1-37.4h0m.1-43.2h0m.1 19.4h0m.1-21.4h0m.1 45.5h0m.2 50.3h0m.2-97.7h0m.6 100.7h0m.3-86.2h0m.3 53h0m.4-45.9h0m.2-23.2h0m.1 4.6h0m0 17.6h0m0-22h0m.2 36.6h0m0-25.2h0m.3-13.5h0m.1 13.4h0m.5 12.1h0m.4 97.3h0m.1-35.1h0m.1 29.1h0m.7 10h0m0 .8h0m.7-106h0m.1 24.4h0m.1 34.9h0m.5-48.7h0m.1-43.4h0m.1 61.9h0m.4 3.2h0m.6-56.2h0m.3 44.2h0m.5-41.8h0m.2 45.1h0m.1-14.2h0m.7-18.1h0m.4 120.8h0m.1-98.2h0m.1 7.2h0m0 84.7h0m.1-37.6h0m.1-11.5h0m.1 31.3h0m0-39.4h0m0-33.9h0m.7 59.1h0m.3-49h0m0-46.6h0m.4 60.3h0m.1 37.3h0m.1 46.6h0m0-89.3h0m0 47.7h0m.4-38.3h0m.2 14.2h0m.2-21.2h0m.1-9.4h0m0-26.1h0m0-27.9h0m.7 9.5h0m.1 13.8h0m.1-10h0m.4 33.7h0m.1-34.9h0m.2 56.9h0m0 55.7h0m.5-122h0m.3 74.1h0m.1 73.2h0m0-17.8h0m.7-52.4h0m.3 47.6h0m0-89.4h0m.4 7.4h0m0 40.8h0m0-12.3h0m.1-56.4h0m.4-10h0m0 60.4h0m0-38.4h0m.4 27.9h0m.3-37h0m.6 8.3h0m.5-13.5h0m.1 53.1h0m.3 11.3h0m.1-4.7h0m.7-34.6h0m.6-2.6h0m.3 41.5h0m.6 9.8h0m.2-42.9h0m0 42.6h0m.1-46h0m1 5.8h0m.1-3.4h0m.1-36.8h0m.3 116.3h0m1.7-105.1h0m1.1 101.1h0m0-106h0m0 57h0m.3 26.7h0m.7-24.4h0m.6 21.1h0m.1 28.3h0m.4 1h0m.2-85.1h0m.1-19.6h0m.5 53.2h0m.1 31.8h0m0 27.2h0m.4-101.8h0m.4 14.3h0m.3-5.5h0m.1 55.4h0m0-57.8h0m1.1 65.6h0m.3-29.8h0m.1-40.4h0m.2 51.2h0m.2 17.4h0m0-35h0m.1-39.8h0m0 58.5h0m1.4-6h0m.4 32.2h0m.3-38.9h0m1 54.2h0m.3-94.1h0m0 83.6h0m.3-41.8h0m.4-27.9h0m.3 15.3h0m.9 8h0m.1-.7h0m.9 47.8h0m.4 3.5h0m.4-37.5h0m.9 12.8h0m.2 25.6h0m1-27.8h0m.3 28h0m.3-45.9h0m.3 34.2h0m1.1-59h0m.1 50.3h0m.7-2.1h0m.8-21.1h0m1.6 14h0m1.4-10.1h0m.6 26.6h0m2.1-1.1h0m.5-27.6h0m.2 3.9h0m.1 3.6h0m.3-1.4h0m.7 1.7h0m.8-13.5h0m2.3 5h0m0-13.8h0" fill="none" stroke="#db3829" stroke-width="2.3" stroke-linecap="round"/>
<path d="M1285.6 402.1h0m2.7-26.5h0m.4 1.2h0m8.2 9.7h0m4.8-9.5h0m.3 19.1h0m2.5-23h0m1.5 10.1h0m1.4-5.8h0m3.2-11.1h0m3.8 14.9h0m7.8 12.7h0m1.7-24.2h0m.1 25.4h0m1.4 24.5h0m3.2-49.9h0m1.1 8.3h0m3.7 7.2h0m.1-32.6h0m1.8 24.3h0m2.1-22.2h0m.7 36.9h0m.6-42.5h0m.1 41h0m.7 23.6h0m.5 23.6h0m.4-55.9h0m1.4 19h0m.5 53.4h0m1.8 .7h0m.6-108.4h0m.7 .4h0m.1 79.4h0m1.3-21.5h0m.1-21.5h0m.1-32.4h0m.4-3.6h0m.1-3.6h0m.3 21.6h0m.2-15.1h0m.9 15.7h0m1.8-16.8h0m.7 37h0m.5 4.2h0m1.1-28.8h0m.7-30.4h0m1.1-12.2h0m.4 54.8h0m.1 42.5h0m.2-98.8h0m.2 68.9h0m.4 8.5h0m.2-66h0m.8 8.9h0m1 25.7h0m.5-54.3h0m.2 37.3h0m0 51.2h0m1-36.3h0m.7 107.9h0m.7-128.7h0m.8 21.9h0m.3 30.4h0m.1-33.8h0m.1 12.7h0m.1-63.3h0m.3 80h0m.2-22.6h0m1 20.7h0m.3-33.1h0m.6 25.5h0m.7-20.5h0m.4-3h0m.7 6.4h0m.1-39.9h0m.4 73.7h0m.2-54.5h0m.4 103.9h0m1.4-112.2h0m.9-2.1h0m1.2 17h0m.4 110.4h0m.5-106.1h0m0 5.9h0m.1-34.7h0m.7 16.2h0m.2 21.6h0m.6-18.3h0m.3 5.7h0m.9 5.5h0m.6-6.4h0m0 4.1h0m.2 96.4h0m.3-124.4h0m.2 77.5h0m.5-56h0m.8 21.4h0m0 .8h0m1.2 14.7h0m.8 69.6h0m.2-124.6h0m.7 21.6h0m.1 1.3h0m1.7-25.4h0m.2 18h0m1.4 14.1h0m1.6-8.1h0m.3 111.5h0m.2-82h0m.1-55.3h0m1.4 181.7h0m.9-131.5h0m.1-8.6h0m.3 89.6h0m.4-64.2h0m.6-12.6h0m.7-2.6h0m.2 69.7h0m.4-46.6h0m.5 50.4h0m.2-119.5h0m.1 37.6h0m.2-21.3h0m1.1-4.8h0m.3 64.9h0m.1-29.6h0m.3 37.9h0m0-49h0m.3-26.2h0m.2-12.6h0m.4 92h0m.2 37.3h0m.2-125.3h0m1.4-3.1h0m1 120.2h0m.2-21h0m0 45.3h0m0-73.8h0m.1 8.6h0m.2-7.1h0m.9 19.7h0m.1 58.6h0m.8-60h0m1.1-18.6h0m.1 61.1h0m.3-70.2h0m.7-33.2h0m.1 3.7h0m.1 11.3h0m.3 29.7h0m.1-71.3h0m.7 25.6h0m.2-11.4h0m1.1 31.5h0m.4 46.2h0m.1-69.2h0m.4 36.1h0m.3-35.6h0m.1-7.1h0m.4 17.8h0m1.2-20.6h0m1.2 49.9h0m1.3 4.1h0m.9 11.9h0m.4 25.3h0m.2-56.7h0m.4 46.7h0m.1-32.4h0m.1 45.3h0m.3 20.2h0m1.9-48.1h0m.1-59.7h0m.4-16.9h0m.3 50.3h0m.8-36h0m.1 23h0m.3-21.3h0m0-4.4h0m.4-10.1h0m.1 25.5h0m1.1-25.1h0m.7 5.9h0m.8 0h0m.3 115.6h0m2.5-50.4h0m.2-29.5h0m1.6-12.1h0m.1 39.2h0m.1-64.9h0m1 81.2h0m.3 13.2h0m.6 33h0m1.5-112.2h0m.1 15.2h0m.4 16.7h0m.1-6.9h0m.3-17.5h0m.9 118.8h0m.1-92.8h0m.4-24.7h0m.7-2.3h0m.1 84.7h0m.3-102.2h0m.2 107.5h0m.2-72.3h0m.6 7.9h0m.3 9.8h0m.2-20.8h0m.6 97.8h0m.9-28.1h0m.4-73.7h0m.2-19.8h0m.7 50.8h0m.3-43.7h0m.6 70.6h0m.7-46.2h0m0 59.9h0m.2-27.5h0m.2-42.9h0m0 42h0m.4-7h0m1-44.1h0m.8-14.5h0m0 100.6h0m.9 4.2h0m1-27.6h0m.8-36.2h0m.1 24.7h0m.1-55.7h0m.4-9.3h0m0 54.2h0m.1 14.2h0m.1-53h0m.5 47.2h0m.5 30.9h0m.1-90.3h0m0 34.1h0m.4 69.4h0m.1 20.5h0m.4-21.8h0m.2-98.9h0m.1 60.7h0m.3-6.3h0m1.1-10.6h0m0-32.2h0m0 101.4h0m.4-50.6h0m.2-1.1h0m.9-61.2h0m0 52.3h0m.2 45.3h0m.7-68.3h0m.4 37.9h0m.1 13.5h0m.4 19.1h0m.4-45h0m.3-31.1h0m.7 27.5h0m.7 4h0m.9 5.1h0m.7-7.5h0m.1-43h0m.1 49.8h0m.5-49.3h0m.1 22.9h0m1.7-13.5h0m.4 40h0m.1-13.1h0m.1-36.6h0m.1 41.5h0m.4 47.3h0m.6-10.6h0m.6-31.1h0m.5 2.9h0m.2-3.1h0m.7 13.1h0m.9-10.8h0m.9 27.7h0m2.3-28.8h0m4-21.5h0m.6 17.1h0m4.8 16h0m1.1-9.4h0" fill="none" stroke="#c72326" stroke-width="2.3" stroke-linecap="round"/>
<path d="M1278.2 392.1h0m7.1-8.9h0m20.6 23.9h0m2.9-22.4h0m15.1-17.2h0m.3 20.8h0m.5-37.7h0m1.3 15.8h0m4.7-4.6h0m.8 63.5h0m2.3-50.7h0m1.2-11.5h0m.2-13.6h0m3.1-9.7h0m.4 18.2h0m.2 52.5h0m4-68.7h0m2.2 4.9h0m1.9 4h0m5.4-9h0m.8 58.9h0m1-21.5h0m.4-36.5h0m.3 56.7h0m1-85.4h0m.3 .5h0m.1-12.3h0m.1 10.4h0m0 23.1h0m.2 63.5h0m.4-35.4h0m.5 66.5h0m0 2.3h0m.7-94.6h0m.1-28.7h0m.5 78.3h0m2.3-74.8h0m3.3 25.7h0m2.4 34.3h0m.1-51.5h0m.3 21.7h0m.1 50.9h0m.2-64.8h0m.5 58.3h0m.1-11.4h0m.2-58.7h0m.3 75.9h0m1 5.3h0m.5-28.1h0m1.3 82.7h0m0-98.3h0m3.3 27h0m2.3-61.6h0m2.5 70.5h0m2.3-40.1h0m1.4-16.1h0m.7-7.4h0m1.3-.1h0m1.2 59h0m1.6-.6h0m.9-5.8h0m.7 23.1h0m.5-9.9h0m1.7-57.4h0m.2 68.1h0m1.2 15h0m.1-79.5h0m.7 4.7h0m.3-8.9h0m1.3 19.5h0m.1-8.4h0m1.1 0h0m.6 31.8h0m.2-34h0m.6 3.6h0m.1 50.4h0m.6-64.1h0m.7 94.8h0m0-84h0m.2 74.9h0m2.2-37.2h0m1.2-26.6h0m.1 57.3h0m1.7 55.9h0m.3-134.7h0m.4 100.5h0m3.4-51.5h0m.4 68.3h0m.4-79.9h0m.8 4.4h0m.9 9.6h0m1.4 68.6h0m1.4-113.9h0m1 8.9h0m.2 36h0m.1 16.2h0m1.1-16.1h0m.4 30.1h0m.4-29.3h0m0-6.9h0m1.4-36.2h0m.2 59.4h0m.3-12.8h0m1.6 37.3h0m.8-39.4h0m1.2 77.8h0m.8-60.1h0m.2-21.1h0m.2 .3h0m1.2 2.9h0m1.4 106.6h0m0-136.3h0m.6-11.7h0m0 148.2h0m.7-105.1h0m1.5 74.2h0m2.6-70.7h0m.1-45.3h0m.6 17.4h0m.2 67.7h0m.8-53.3h0m.6 29.2h0m.3-35.7h0m0-23.3h0m.4 108.5h0m1.4-14.9h0m.2-22.3h0m.8-44.6h0m.1-6.4h0m1.5 9.2h0m.2-7.7h0m.4 9.1h0m0 50.1h0m.6-82.2h0m.3 35.1h0m.7 1.8h0m.3 12.4h0m2.9-43h0m.7 86.6h0m.1-30.9h0m0-37.3h0m.2-6.8h0m.8 8.7h0m.2 28.6h0m.2 59h0m.1-92.8h0m.6 39.5h0m1.4-19.1h0m.7 61.9h0m.7-6.7h0m3.1-42.3h0m.1-34.6h0m0 18.2h0m.1 66.2h0m.5-74.8h0m.5-4.1h0m.9-10.6h0m0 30.4h0m.4 13.9h0m.2-30.1h0m.1 47.2h0m2.7-32.1h0m2 17.3h0m.8 26h0m.4-45.5h0m1.1 38h0m3.4 17.1h0m.2-6.8h0m.9 9.2h0m2.2-12.7h0m.6 2.8h0m.5-11.4h0m1.7 4.1h0m0-18.1h0" fill="none" stroke="#ab1626" stroke-width="2.3" stroke-linecap="round"/>
<path d="M1315 376.1h0m10.7-35.7h0m3.4 22.5h0m5.4-17h0m.7 41.9h0m10.5-9.2h0m3.1 14.3h0m2.8-58.2h0m1-30.1h0m.2 8.5h0m1 68.1h0m.5-18.1h0m1.1 75.8h0m.2-9.7h0m.4-115.4h0m1 33.9h0m.4-41.8h0m.4 17.5h0m.3 68.4h0m.7-85.6h0m.8 10.5h0m1.1 8.1h0m1.1 67.2h0m1.1-64h0m3 54.5h0m1.3-40.7h0m1.6-14.3h0m2 43.3h0m.3 14.6h0m2.1-16.7h0m1.6-24.4h0m2 2.8h0m1.6-1.3h0m5.8 49.3h0m.4-73.2h0m.6 11.4h0m4.2 12.1h0m.1 60.6h0m.8-54.3h0m.3-6.3h0m.7 36.9h0m3.3-37.5h0m.4-9.4h0m.3 43.4h0m.1-21h0m1.2-24.1h0m.3 4.9h0m.2 82h0m.3-69.6h0m.5 29.3h0m1.8-42.3h0m1.3 3.5h0m.3 77.2h0m.1-16.6h0m.1-53.1h0m2.5 2.1h0m.7-.4h0m.4-2.9h0m1.6-14.3h0m.3 22.2h0m1.4-9.1h0m1.6 40.5h0m1.6-54.5h0m.4 1.2h0m1.9 51.7h0m.8-49h0m1 23.9h0m1-18h0m.6-7.9h0m.3 10.1h0m.1-10.5h0m0 12.6h0m.8 108.4h0m.3-51.8h0m.1-39.6h0m1.4-12.2h0m.8 1.6h0m3.6-4h0m.5 87.7h0m.9-44.7h0m.1-47.2h0m.1 4.4h0m.1-.5h0m.3 123.1h0m2.1-83.7h0m.8-51.8h0m.3 13.9h0m.6 21.5h0m.1 36.3h0m1-47.5h0m.4-9.5h0m.3-10.7h0m.1 110.1h0m1-110.9h0m1 9.1h0m.3-6.1h0m.4 33.6h0m.5-8.7h0m.5-3.5h0m.2-3.6h0m.2 49.4h0m1.8-1h0m.8-59.4h0m.6 28.6h0m.7-21.7h0m0 22.2h0m.2-26.1h0m.2 70.2h0m.3-55.5h0m0 5.1h0m.3 3.9h0m0-30.5h0m.5 42h0m0-40.2h0m.6 62.2h0m1-49.5h0m0 17.8h0m0 .2h0m.1 25.4h0m.1-24.9h0m.5-.6h0m.1-11.4h0m.4 33.9h0m.2-21.9h0m.1-.3h0m.2-4.3h0m.3-9.2h0m.3-8.3h0m.2 26.5h0m0-19.8h0m.2 21.7h0m.3-27.9h0m.4 32.9h0m0 22.8h0m.6-55.2h0m.3 10.2h0m.5 .4h0m.2-7.9h0m.3 40.5h0m.1-6.7h0m.1 27.2h0m0-50.9h0m.5 37.3h0m.4-20.6h0m.1-6.6h0m.1-6.4h0m.8-14.1h0m0 25.6h0m.3-14.4h0m.1-4.5h0m0 49.4h0m.4-50.5h0m.4 1h0m.5 9.9h0m.5 4.8h0m.5 9.6h0m0-8h0m0-14.6h0m.3-.1h0m.5 23.6h0m.2-15.7h0m.7 6.2h0m.8-7h0m0 41.1h0m.4-51.8h0m0-.6h0m.7 10.2h0m2.1 12.9h0m.6-4.6h0m.2 51.2h0m0-57.8h0m.3 13h0m1-3.6h0m0-7.6h0m.3 54.1h0m0-46.6h0m.8 30.3h0m.9-4.5h0m.9-23h0m.4-3.6h0m.8 36h0m.6 7.8h0m.2 6.2h0m1.3-25.9h0m1.6-7.4h0m1.5 14.5h0m.5-9h0" fill="none" stroke="#860f26" stroke-width="2.3" stroke-linecap="round"/>
<text x="1239.8" y="154.3" font-size="31.3" text-anchor="middle" transform="rotate(-90 1239.8 154.3)">Conditions</text>
<text x="1239.8" y="399.6" font-size="32.2" text-anchor="middle" transform="rotate(-90 1239.8 399.6)">CL3 signature</text>
<circle cx="1265.0" cy="223.6" r="8" fill="#4560b0"/>
<text x="1279.2" y="236.8" font-size="29.6">TMZ</text>
<circle cx="1265.0" cy="254.5" r="8" fill="#ed1c24"/>
<text x="1276.2" y="267.7" font-size="30.7">naive</text>
<text x="1255.5" y="511.4" font-size="31.8">U3065MG</text>
<defs><linearGradient id="cb" x1="0" x2="0" y1="0" y2="1"><stop offset="0.00" stop-color="rgb(115, 12, 38)"/><stop offset="0.12" stop-color="rgb(170, 22, 38)"/><stop offset="0.25" stop-color="rgb(214, 42, 38)"/><stop offset="0.40" stop-color="rgb(235, 95, 50)"/><stop offset="0.55" stop-color="rgb(245, 150, 70)"/><stop offset="0.70" stop-color="rgb(250, 190, 95)"/><stop offset="0.85" stop-color="rgb(252, 225, 140)"/><stop offset="1.00" stop-color="rgb(250, 242, 190)"/></linearGradient></defs>
<rect x="1490.70" y="285.70" width="14.10" height="224.70" fill="url(#cb)" stroke="#bbb" stroke-width="0.4"/>
<text x="1510.5" y="328.8" font-size="31">0.8</text>
<text x="1510.5" y="410.7" font-size="31">0.6</text>
<text x="1510.5" y="496.7" font-size="31">0.4</text>
<rect x="1541.60" y="19.40" width="420.40" height="98.90" fill="#fff" stroke="#000" stroke-width="3.4" stroke-linejoin="round"/>
<text x="1751.7" y="61.8" font-size="31.5" text-anchor="middle">CL3 signature in scRNASeq</text>
<text x="1751.4" y="97.4" font-size="31.5" text-anchor="middle">from <tspan font-style="italic">Larsson, 2021</tspan></text>
<rect x="1695.55" y="147.60" width="71.70" height="241.72" fill="#ed1c24" stroke="#000" stroke-width="2.7"/>
<rect x="1695.55" y="389.32" width="71.70" height="57.18" fill="#3f58a8" stroke="#000" stroke-width="2.7"/>
<rect x="1803.25" y="147.60" width="72.20" height="211.94" fill="#ed1c24" stroke="#000" stroke-width="2.7"/>
<rect x="1803.25" y="359.54" width="72.20" height="86.96" fill="#3f58a8" stroke="#000" stroke-width="2.7"/>
<rect x="1674.80" y="147.50" width="5.90" height="302.00" fill="#000"/>
<rect x="1668.50" y="443.70" width="228.20" height="6.40" fill="#000"/>
<rect x="1668.30" y="146.90" width="8.00" height="5.70" fill="#000"/>
<text x="1652.5" y="158.29999999999998" font-size="32" text-anchor="end">1,0</text>
<rect x="1668.30" y="206.46" width="8.00" height="5.70" fill="#000"/>
<text x="1652.5" y="217.85999999999999" font-size="32" text-anchor="end">0,8</text>
<rect x="1668.30" y="266.02" width="8.00" height="5.70" fill="#000"/>
<text x="1652.5" y="277.42" font-size="32" text-anchor="end">0,6</text>
<rect x="1668.30" y="325.58" width="8.00" height="5.70" fill="#000"/>
<text x="1652.5" y="336.98" font-size="32" text-anchor="end">0,4</text>
<rect x="1668.30" y="385.14" width="8.00" height="5.70" fill="#000"/>
<text x="1652.5" y="396.54" font-size="32" text-anchor="end">0,2</text>
<rect x="1668.30" y="443.40" width="8.00" height="5.70" fill="#000"/>
<text x="1652.5" y="456.1" font-size="32" text-anchor="end">0,0</text>
<rect x="1674.90" y="446.00" width="6.00" height="11.50" fill="#000"/>
<rect x="1782.30" y="446.00" width="6.00" height="11.50" fill="#000"/>
<rect x="1890.50" y="446.00" width="6.00" height="11.50" fill="#000"/>
<text x="1594" y="296.7" font-size="31.9" text-anchor="middle" transform="rotate(-90 1594 296.7)">conditions (ratio)</text>
<text x="1740" y="469.5" font-size="31.5" text-anchor="end" transform="rotate(-45 1740 469.5)">CL3-LO</text>
<text x="1851" y="471.5" font-size="31.5" text-anchor="end" transform="rotate(-45 1851 471.5)">CL3-HI</text>
<circle cx="1895.6" cy="185.7" r="8.2" fill="#ed1c24"/>
<text x="1908.2" y="192.2" font-size="31.5">naïve</text>
<circle cx="1895.6" cy="210.9" r="8.2" fill="#3f58a8"/>
<text x="1910.5" y="223.8" font-size="30.5">TMZ</text>
<text x="1841" y="529.9" font-size="31.8" font-style="italic" fill="#3f5fb0">p=0.0003</text>
</g>
<g id="pC">
<text x="1.5" y="575.6" font-size="54" font-weight="bold">C</text>
<polygon points="204.7,865.5 216.9,865.7 229.1,864.3 241.3,867.7 253.6,864.4 265.8,862.3 278.0,859.8 290.2,859.4 302.4,855.0 314.6,859.1 326.9,856.8 339.1,843.2 351.3,858.3 363.5,858.1 375.7,857.1 387.9,857.1 400.2,854.2 412.4,856.4 424.6,854.1 436.8,855.0 449.0,852.9 461.3,855.9 473.5,853.8 485.7,849.9 497.9,844.3 510.1,833.8 522.3,843.5 534.6,837.7 546.8,834.7 559.0,829.7 571.2,829.3 583.4,823.6 595.6,820.4 607.9,806.5 620.1,795.4 632.3,774.8 632.3,794.4 620.1,813.5 607.9,819.1 595.6,826.9 583.4,834.7 571.2,838.5 559.0,841.2 546.8,847.2 534.6,846.6 522.3,856.1 510.1,845.0 497.9,854.7 485.7,858.0 473.5,862.3 461.3,864.8 449.0,864.3 436.8,860.9 424.6,863.9 412.4,866.0 400.2,863.0 387.9,868.4 375.7,868.3 363.5,869.0 351.3,864.8 339.1,862.1 326.9,871.9 314.6,876.0 302.4,874.0 290.2,874.7 278.0,878.9 265.8,883.1 253.6,876.3 241.3,879.0 229.1,879.1 216.9,880.3 204.7,878.4" fill="#d4d4d4"/>
<polyline points="204.7,871.8 216.9,872.8 229.1,872.8 241.3,872.8 253.6,870.9 265.8,872.8 278.0,869.4 290.2,867.9 302.4,863.6 314.6,867.0 326.9,865.5 339.1,852.4 351.3,862.1 363.5,863.6 375.7,862.1 387.9,862.1 400.2,858.2 412.4,860.6 424.6,859.7 436.8,858.2 449.0,858.7 461.3,860.6 473.5,858.2 485.7,853.8 497.9,849.0 510.1,838.8 522.3,849.0 534.6,842.6 546.8,840.2 559.0,835.3 571.2,834.4 583.4,829.0 595.6,824.2 607.9,812.0 620.1,803.7 632.3,785.7" fill="none" stroke="#000" stroke-width="8.0" stroke-linejoin="round" stroke-linecap="round"/>
<path d="M204.7 871.8h0m12.2 1h0m12.2 0h0m12.2 0h0m12.3-1.9h0m12.2 1.9h0m12.2-3.4h0m12.2-1.5h0m12.2-4.3h0m12.2 3.4h0m12.3-1.5h0m12.2-13.1h0m12.2 9.7h0m12.2 1.5h0m12.2-1.5h0m12.2 0h0m12.3-3.9h0m12.2 2.4h0m12.2-.9h0m12.2-1.5h0m12.2 .5h0m12.3 1.9h0m12.2-2.4h0m12.2-4.4h0m12.2-4.8h0m12.2-10.2h0m12.2 10.2h0m12.3-6.4h0m12.2-2.4h0m12.2-4.9h0m12.2-.9h0m12.2-5.4h0m12.2-4.8h0m12.3-12.2h0m12.2-8.3h0m12.2-18h0" fill="none" stroke="#000" stroke-width="9.5" stroke-linecap="round"/>
<path d="M204.7 871.8h0m12.2 1h0m12.2 0h0m12.2 0h0m12.3-1.9h0m12.2 1.9h0m12.2-3.4h0m12.2-1.5h0m12.2-4.3h0m12.2 3.4h0m12.3-1.5h0m12.2-13.1h0m12.2 9.7h0m12.2 1.5h0m12.2-1.5h0m12.2 0h0m12.3-3.9h0m12.2 2.4h0m12.2-.9h0m12.2-1.5h0m12.2 .5h0m12.3 1.9h0m12.2-2.4h0m12.2-4.4h0m12.2-4.8h0m12.2-10.2h0m12.2 10.2h0m12.3-6.4h0m12.2-2.4h0m12.2-4.9h0m12.2-.9h0m12.2-5.4h0m12.2-4.8h0m12.3-12.2h0m12.2-8.3h0m12.2-18h0" fill="none" stroke="#fff" stroke-width="3.3" stroke-linecap="round"/>
<polygon points="143.6,887.7 155.8,882.6 168.0,878.1 180.3,869.9 192.5,867.7 204.7,865.5 216.9,863.4 229.1,858.6 241.3,856.7 253.6,854.4 265.8,853.4 278.0,847.3 290.2,856.6 302.4,850.1 314.6,848.0 326.9,840.8 339.1,828.7 351.3,830.8 363.5,824.9 375.7,821.5 387.9,818.8 400.2,818.5 412.4,812.5 424.6,805.7 436.8,803.2 449.0,795.2 461.3,797.0 473.5,785.7 485.7,785.0 497.9,779.5 510.1,770.6 522.3,768.3 534.6,761.6 546.8,762.7 559.0,759.6 571.2,753.9 583.4,745.8 595.6,747.2 607.9,739.8 620.1,731.5 632.3,719.1 632.3,724.5 620.1,743.1 607.9,752.5 595.6,753.5 583.4,752.5 571.2,760.7 559.0,770.4 546.8,768.3 534.6,771.5 522.3,776.1 510.1,779.1 497.9,788.4 485.7,792.5 473.5,796.4 461.3,805.2 449.0,802.6 436.8,809.4 424.6,814.9 412.4,818.8 400.2,827.7 387.9,827.4 375.7,833.8 363.5,836.4 351.3,839.3 339.1,841.3 326.9,848.3 314.6,855.9 302.4,860.0 290.2,866.3 278.0,858.5 265.8,861.3 253.6,864.0 241.3,868.5 229.1,866.5 216.9,865.4 204.7,868.3 192.5,870.8 180.3,874.1 168.0,880.1 155.8,885.1 143.6,889.8" fill="#9fd6a8"/>
<polyline points="143.6,888.9 155.8,884.0 168.0,879.1 180.3,871.8 192.5,869.4 204.7,867.0 216.9,864.5 229.1,862.1 241.3,862.1 253.6,859.7 265.8,857.2 278.0,852.4 290.2,862.1 302.4,854.8 314.6,852.4 326.9,845.1 339.1,834.4 351.3,835.3 363.5,830.5 375.7,827.1 387.9,823.2 400.2,823.2 412.4,815.9 424.6,811.0 436.8,806.2 449.0,798.9 461.3,801.3 473.5,791.6 485.7,789.1 497.9,784.3 510.1,774.5 522.3,772.1 534.6,767.2 546.8,765.8 559.0,764.8 571.2,757.5 583.4,749.2 595.6,750.2 607.9,745.3 620.1,736.6 632.3,722.0" fill="none" stroke="#0aa84f" stroke-width="8.0" stroke-linejoin="round" stroke-linecap="round"/>
<path d="M143.6 888.9h0m12.2-4.9h0m12.2-4.9h0m12.3-7.3h0m12.2-2.4h0m12.2-2.4h0m12.2-2.5h0m12.2-2.4h0m12.2 0h0m12.3-2.4h0m12.2-2.5h0m12.2-4.8h0m12.2 9.7h0m12.2-7.3h0m12.2-2.4h0m12.3-7.3h0m12.2-10.7h0m12.2 .9h0m12.2-4.8h0m12.2-3.4h0m12.2-3.9h0m12.3 0h0m12.2-7.3h0m12.2-4.9h0m12.2-4.8h0m12.2-7.3h0m12.3 2.4h0m12.2-9.7h0m12.2-2.5h0m12.2-4.8h0m12.2-9.8h0m12.2-2.4h0m12.3-4.9h0m12.2-1.4h0m12.2-1h0m12.2-7.3h0m12.2-8.3h0m12.2 1h0m12.3-4.9h0m12.2-8.7h0m12.2-14.6h0" fill="none" stroke="#0aa84f" stroke-width="9.5" stroke-linecap="round"/>
<path d="M143.6 888.9h0m12.2-4.9h0m12.2-4.9h0m12.3-7.3h0m12.2-2.4h0m12.2-2.4h0m12.2-2.5h0m12.2-2.4h0m12.2 0h0m12.3-2.4h0m12.2-2.5h0m12.2-4.8h0m12.2 9.7h0m12.2-7.3h0m12.2-2.4h0m12.3-7.3h0m12.2-10.7h0m12.2 .9h0m12.2-4.8h0m12.2-3.4h0m12.2-3.9h0m12.3 0h0m12.2-7.3h0m12.2-4.9h0m12.2-4.8h0m12.2-7.3h0m12.3 2.4h0m12.2-9.7h0m12.2-2.5h0m12.2-4.8h0m12.2-9.8h0m12.2-2.4h0m12.3-4.9h0m12.2-1.4h0m12.2-1h0m12.2-7.3h0m12.2-8.3h0m12.2 1h0m12.3-4.9h0m12.2-8.7h0m12.2-14.6h0" fill="none" stroke="#fff" stroke-width="3.3" stroke-linecap="round"/>
<polygon points="143.6,898.4 155.8,891.4 168.0,886.6 180.3,880.3 192.5,874.2 204.7,869.3 216.9,867.5 229.1,865.0 241.3,865.7 253.6,862.9 265.8,863.2 278.0,853.3 290.2,842.0 302.4,840.3 314.6,834.4 326.9,830.5 339.1,823.3 351.3,823.0 363.5,815.0 375.7,812.5 387.9,804.1 400.2,802.0 412.4,798.2 424.6,791.6 436.8,791.7 449.0,787.5 461.3,775.3 473.5,769.2 485.7,771.1 497.9,759.9 510.1,746.5 522.3,747.8 534.6,748.5 546.8,749.3 559.0,751.8 571.2,737.2 583.4,733.4 595.6,726.7 607.9,723.3 620.1,724.5 632.3,687.4 632.3,706.9 620.1,735.9 607.9,739.4 595.6,739.1 583.4,754.9 571.2,749.5 559.0,764.7 546.8,757.6 534.6,762.0 522.3,758.3 510.1,765.4 497.9,776.6 485.7,785.5 473.5,781.8 461.3,793.1 449.0,799.7 436.8,801.7 424.6,804.6 412.4,807.8 400.2,813.9 387.9,821.6 375.7,831.3 363.5,828.1 351.3,838.8 339.1,837.5 326.9,852.2 314.6,845.0 302.4,850.9 290.2,856.1 278.0,869.0 265.8,867.3 253.6,866.6 241.3,868.0 229.1,869.1 216.9,871.0 204.7,873.7 192.5,879.5 180.3,882.8 168.0,891.7 155.8,896.7 143.6,903.0" fill="#9da3d4"/>
<polyline points="143.6,900.5 155.8,893.7 168.0,888.9 180.3,881.6 192.5,876.7 204.7,871.8 216.9,869.4 229.1,867.0 241.3,867.0 253.6,864.5 265.8,865.5 278.0,862.1 290.2,849.9 302.4,845.1 314.6,840.2 326.9,840.2 339.1,829.5 351.3,830.5 363.5,820.8 375.7,820.8 387.9,813.5 400.2,808.6 412.4,803.7 424.6,797.9 436.8,796.4 449.0,794.0 461.3,784.3 473.5,775.5 485.7,779.4 497.9,769.7 510.1,755.1 522.3,752.6 534.6,755.1 546.8,754.1 559.0,757.5 571.2,742.9 583.4,742.9 595.6,733.2 607.9,730.8 620.1,729.8 632.3,696.2" fill="none" stroke="#3f58a8" stroke-width="8.0" stroke-linejoin="round" stroke-linecap="round"/>
<path d="M143.6 900.5h0m12.2-6.8h0m12.2-4.8h0m12.3-7.3h0m12.2-4.9h0m12.2-4.9h0m12.2-2.4h0m12.2-2.4h0m12.2 0h0m12.3-2.5h0m12.2 1h0m12.2-3.4h0m12.2-12.2h0m12.2-4.8h0m12.2-4.9h0m12.3 0h0m12.2-10.7h0m12.2 1h0m12.2-9.7h0m12.2 0h0m12.2-7.3h0m12.3-4.9h0m12.2-4.9h0m12.2-5.8h0m12.2-1.5h0m12.2-2.4h0m12.3-9.7h0m12.2-8.8h0m12.2 3.9h0m12.2-9.7h0m12.2-14.6h0m12.2-2.5h0m12.3 2.5h0m12.2-1h0m12.2 3.4h0m12.2-14.6h0m12.2 0h0m12.2-9.7h0m12.3-2.4h0m12.2-1h0m12.2-33.6h0" fill="none" stroke="#3f58a8" stroke-width="9.5" stroke-linecap="round"/>
<path d="M143.6 900.5h0m12.2-6.8h0m12.2-4.8h0m12.3-7.3h0m12.2-4.9h0m12.2-4.9h0m12.2-2.4h0m12.2-2.4h0m12.2 0h0m12.3-2.5h0m12.2 1h0m12.2-3.4h0m12.2-12.2h0m12.2-4.8h0m12.2-4.9h0m12.3 0h0m12.2-10.7h0m12.2 1h0m12.2-9.7h0m12.2 0h0m12.2-7.3h0m12.3-4.9h0m12.2-4.9h0m12.2-5.8h0m12.2-1.5h0m12.2-2.4h0m12.3-9.7h0m12.2-8.8h0m12.2 3.9h0m12.2-9.7h0m12.2-14.6h0m12.2-2.5h0m12.3 2.5h0m12.2-1h0m12.2 3.4h0m12.2-14.6h0m12.2 0h0m12.2-9.7h0m12.3-2.4h0m12.2-1h0m12.2-33.6h0" fill="none" stroke="#fff" stroke-width="3.3" stroke-linecap="round"/>
<polygon points="143.6,885.0 155.8,880.6 168.0,880.5 180.3,873.3 192.5,859.9 204.7,858.6 216.9,858.3 229.1,851.3 241.3,842.2 253.6,836.3 265.8,841.2 278.0,822.6 290.2,829.7 302.4,815.4 314.6,815.6 326.9,810.8 339.1,777.1 351.3,790.6 363.5,783.0 375.7,773.2 387.9,767.5 400.2,761.8 412.4,759.6 424.6,747.1 436.8,746.7 449.0,736.6 461.3,740.1 473.5,732.9 485.7,728.0 497.9,728.3 510.1,696.3 522.3,704.7 534.6,701.1 546.8,705.5 559.0,698.1 571.2,695.2 583.4,683.9 595.6,671.0 607.9,663.4 620.1,657.0 632.3,636.1 632.3,642.2 620.1,664.2 607.9,704.2 595.6,708.6 583.4,706.1 571.2,723.3 559.0,727.4 546.8,739.3 534.6,733.8 522.3,738.5 510.1,728.5 497.9,757.5 485.7,757.2 473.5,759.0 461.3,765.4 449.0,778.8 436.8,777.6 424.6,780.4 412.4,780.8 400.2,807.6 387.9,806.1 375.7,816.0 363.5,816.7 351.3,818.0 339.1,821.8 326.9,815.8 314.6,818.8 302.4,821.2 290.2,833.5 278.0,828.3 265.8,847.4 253.6,841.8 241.3,846.1 229.1,856.6 216.9,863.8 204.7,863.1 192.5,864.7 180.3,878.5 168.0,883.8 155.8,885.1 143.6,891.4" fill="#f5977a"/>
<polyline points="143.6,887.9 155.8,883.0 168.0,882.1 180.3,875.7 192.5,862.1 204.7,860.6 216.9,861.1 229.1,853.8 241.3,844.1 253.6,839.2 265.8,844.1 278.0,825.6 290.2,831.5 302.4,818.3 314.6,817.3 326.9,813.5 339.1,798.9 351.3,803.7 363.5,797.9 375.7,794.5 387.9,785.7 400.2,781.8 412.4,770.6 424.6,764.8 436.8,764.3 449.0,757.5 461.3,752.2 473.5,747.3 485.7,744.4 497.9,741.5 510.1,715.2 522.3,724.4 534.6,715.7 546.8,723.5 559.0,713.2 571.2,707.4 583.4,695.2 595.6,690.4 607.9,685.5 620.1,660.2 632.3,638.8" fill="none" stroke="#ed1c24" stroke-width="8.0" stroke-linejoin="round" stroke-linecap="round"/>
<path d="M143.6 887.9h0m12.2-4.9h0m12.2-.9h0m12.3-6.4h0m12.2-13.6h0m12.2-1.5h0m12.2 .5h0m12.2-7.3h0m12.2-9.7h0m12.3-4.9h0m12.2 4.9h0m12.2-18.5h0m12.2 5.9h0m12.2-13.2h0m12.2-1h0m12.3-3.8h0m12.2-14.6h0m12.2 4.8h0m12.2-5.8h0m12.2-3.4h0m12.2-8.8h0m12.3-3.9h0m12.2-11.2h0m12.2-5.8h0m12.2-.5h0m12.2-6.8h0m12.3-5.3h0m12.2-4.9h0m12.2-2.9h0m12.2-2.9h0m12.2-26.3h0m12.2 9.2h0m12.3-8.7h0m12.2 7.8h0m12.2-10.3h0m12.2-5.8h0m12.2-12.2h0m12.2-4.8h0m12.3-4.9h0m12.2-25.3h0m12.2-21.4h0" fill="none" stroke="#ed1c24" stroke-width="9.5" stroke-linecap="round"/>
<path d="M143.6 887.9h0m12.2-4.9h0m12.2-.9h0m12.3-6.4h0m12.2-13.6h0m12.2-1.5h0m12.2 .5h0m12.2-7.3h0m12.2-9.7h0m12.3-4.9h0m12.2 4.9h0m12.2-18.5h0m12.2 5.9h0m12.2-13.2h0m12.2-1h0m12.3-3.8h0m12.2-14.6h0m12.2 4.8h0m12.2-5.8h0m12.2-3.4h0m12.2-8.8h0m12.3-3.9h0m12.2-11.2h0m12.2-5.8h0m12.2-.5h0m12.2-6.8h0m12.3-5.3h0m12.2-4.9h0m12.2-2.9h0m12.2-2.9h0m12.2-26.3h0m12.2 9.2h0m12.3-8.7h0m12.2 7.8h0m12.2-10.3h0m12.2-5.8h0m12.2-12.2h0m12.2-4.8h0m12.3-4.9h0m12.2-25.3h0m12.2-21.4h0" fill="none" stroke="#fff" stroke-width="3.3" stroke-linecap="round"/>
<rect x="135.20" y="582.50" width="6.40" height="395.00" fill="#000"/>
<rect x="128.90" y="970.70" width="509.90" height="6.70" fill="#000"/>
<rect x="128.90" y="971.20" width="8.00" height="5.60" fill="#000"/>
<text x="108.8" y="983.3" font-size="30.6" text-anchor="end" letter-spacing="-0.6">0</text>
<rect x="128.90" y="922.55" width="8.00" height="5.60" fill="#000"/>
<text x="108.8" y="934.6" font-size="30.6" text-anchor="end" letter-spacing="-0.6">10</text>
<rect x="128.90" y="873.90" width="8.00" height="5.60" fill="#000"/>
<text x="108.8" y="886.0" font-size="30.6" text-anchor="end" letter-spacing="-0.6">20</text>
<rect x="128.90" y="825.25" width="8.00" height="5.60" fill="#000"/>
<text x="108.8" y="837.3" font-size="30.6" text-anchor="end" letter-spacing="-0.6">30</text>
<rect x="128.90" y="776.60" width="8.00" height="5.60" fill="#000"/>
<text x="108.8" y="788.7" font-size="30.6" text-anchor="end" letter-spacing="-0.6">40</text>
<rect x="128.90" y="727.95" width="8.00" height="5.60" fill="#000"/>
<text x="108.8" y="740.0" font-size="30.6" text-anchor="end" letter-spacing="-0.6">50</text>
<rect x="128.90" y="679.30" width="8.00" height="5.60" fill="#000"/>
<text x="108.8" y="691.4" font-size="30.6" text-anchor="end" letter-spacing="-0.6">60</text>
<rect x="128.90" y="630.65" width="8.00" height="5.60" fill="#000"/>
<text x="108.8" y="642.8" font-size="30.6" text-anchor="end" letter-spacing="-0.6">70</text>
<rect x="128.90" y="583.40" width="8.00" height="5.60" fill="#000"/>
<text x="108.8" y="594.1" font-size="30.6" text-anchor="end" letter-spacing="-0.6">80</text>
<rect x="135.20" y="977.00" width="6.20" height="6.20" fill="#000"/>
<rect x="147.40" y="977.00" width="6.20" height="6.20" fill="#000"/>
<rect x="159.60" y="977.00" width="6.20" height="6.20" fill="#000"/>
<rect x="171.80" y="977.00" width="6.20" height="6.20" fill="#000"/>
<rect x="184.00" y="977.00" width="6.20" height="6.20" fill="#000"/>
<rect x="196.20" y="977.00" width="6.20" height="6.20" fill="#000"/>
<rect x="208.40" y="977.00" width="6.20" height="6.20" fill="#000"/>
<rect x="220.60" y="977.00" width="6.20" height="6.20" fill="#000"/>
<rect x="232.80" y="977.00" width="6.20" height="6.20" fill="#000"/>
<rect x="245.00" y="977.00" width="6.20" height="6.20" fill="#000"/>
<rect x="257.20" y="977.00" width="6.20" height="6.20" fill="#000"/>
<rect x="269.40" y="977.00" width="6.20" height="6.20" fill="#000"/>
<rect x="281.60" y="977.00" width="6.20" height="6.20" fill="#000"/>
<rect x="293.80" y="977.00" width="6.20" height="6.20" fill="#000"/>
<rect x="306.00" y="977.00" width="6.20" height="6.20" fill="#000"/>
<rect x="318.20" y="977.00" width="6.20" height="6.20" fill="#000"/>
<rect x="330.40" y="977.00" width="6.20" height="6.20" fill="#000"/>
<rect x="342.60" y="977.00" width="6.20" height="6.20" fill="#000"/>
<rect x="354.80" y="977.00" width="6.20" height="6.20" fill="#000"/>
<rect x="367.00" y="977.00" width="6.20" height="6.20" fill="#000"/>
<rect x="379.20" y="977.00" width="6.20" height="6.20" fill="#000"/>
<rect x="391.40" y="977.00" width="6.20" height="6.20" fill="#000"/>
<rect x="403.60" y="977.00" width="6.20" height="6.20" fill="#000"/>
<rect x="415.80" y="977.00" width="6.20" height="6.20" fill="#000"/>
<rect x="428.00" y="977.00" width="6.20" height="6.20" fill="#000"/>
<rect x="440.20" y="977.00" width="6.20" height="6.20" fill="#000"/>
<rect x="452.40" y="977.00" width="6.20" height="6.20" fill="#000"/>
<rect x="464.60" y="977.00" width="6.20" height="6.20" fill="#000"/>
<rect x="476.80" y="977.00" width="6.20" height="6.20" fill="#000"/>
<rect x="489.00" y="977.00" width="6.20" height="6.20" fill="#000"/>
<rect x="501.20" y="977.00" width="6.20" height="6.20" fill="#000"/>
<rect x="513.40" y="977.00" width="6.20" height="6.20" fill="#000"/>
<rect x="525.60" y="977.00" width="6.20" height="6.20" fill="#000"/>
<rect x="537.80" y="977.00" width="6.20" height="6.20" fill="#000"/>
<rect x="550.00" y="977.00" width="6.20" height="6.20" fill="#000"/>
<rect x="562.20" y="977.00" width="6.20" height="6.20" fill="#000"/>
<rect x="574.40" y="977.00" width="6.20" height="6.20" fill="#000"/>
<rect x="586.60" y="977.00" width="6.20" height="6.20" fill="#000"/>
<rect x="598.80" y="977.00" width="6.20" height="6.20" fill="#000"/>
<rect x="611.00" y="977.00" width="6.20" height="6.20" fill="#000"/>
<rect x="623.20" y="977.00" width="6.20" height="6.20" fill="#000"/>
<rect x="635.40" y="977.00" width="6.20" height="6.20" fill="#000"/>
<text x="142.7" y="1019.8" font-size="30.6" text-anchor="middle" letter-spacing="-0.5">0</text>
<text x="203.7875" y="1019.8" font-size="30.6" text-anchor="middle" letter-spacing="-0.5">15</text>
<text x="264.875" y="1019.8" font-size="30.6" text-anchor="middle" letter-spacing="-0.5">30</text>
<text x="325.9625" y="1019.8" font-size="30.6" text-anchor="middle" letter-spacing="-0.5">45</text>
<text x="387.05" y="1019.8" font-size="30.6" text-anchor="middle" letter-spacing="-0.5">60</text>
<text x="448.13750000000005" y="1019.8" font-size="30.6" text-anchor="middle" letter-spacing="-0.5">75</text>
<text x="509.225" y="1019.8" font-size="30.6" text-anchor="middle" letter-spacing="-0.5">90</text>
<text x="571.3125" y="1019.8" font-size="30.6" text-anchor="middle" letter-spacing="-0.5">105</text>
<text x="633.9" y="1019.8" font-size="30.6" text-anchor="middle" letter-spacing="0.6">120</text>
<text x="58.7" y="778.3" font-size="31.4" text-anchor="middle" transform="rotate(-90 58.7 778.3)">NesHI cells (%)</text>
<text x="387.3" y="1071.5" font-size="31.3" text-anchor="middle">hours of treatment</text>
<text x="156.5" y="607.6" font-size="31.3" fill="#3f5fb0">MGG4</text>
<text x="424.8" y="607.6" font-size="31.3" text-anchor="end" fill="#3f5fb0">(timelapse)</text>
<text x="157.5" y="643.4" font-size="31.5" font-style="italic" fill="#3f5fb0">p&lt;0,0001 n=3</text>
<text x="429.5" y="650.5" font-size="31.8" fill="#ed1c24">100uM TMZ</text>
<text x="368.8" y="692.9" font-size="31.8" fill="#3f58a8">50uM TMZ</text>
<text x="281.2" y="739" font-size="31.8" fill="#0aa84f">25uM TMZ</text>
<text x="539.5" y="882.6" font-size="31.5">naïve</text>
</g>
<g id="pD">
<text x="655.5" y="573.8" font-size="53" font-weight="bold" transform="translate(655.5 0) scale(1.05 1) translate(-655.5 0)">D</text>
<rect x="795.20" y="828.80" width="52.20" height="148.00" fill="#000"/>
<rect x="876.55" y="683.95" width="46.80" height="292.85" fill="#b1b0b5" stroke="#000" stroke-width="5.5"/>
<rect x="954.75" y="685.55" width="47.00" height="291.25" fill="#959595" stroke="#000" stroke-width="5.5"/>
<rect x="1033.95" y="715.45" width="45.90" height="261.35" fill="#dededc" stroke="#000" stroke-width="5.5"/>
<line x1="821.30" y1="814.90" x2="821.30" y2="831.80" stroke="#000" stroke-width="5.3"/>
<line x1="807.80" y1="814.90" x2="834.80" y2="814.90" stroke="#000" stroke-width="5.7" stroke-linecap="round"/>
<line x1="899.95" y1="668.30" x2="899.95" y2="684.20" stroke="#000" stroke-width="5.3"/>
<line x1="886.45" y1="668.30" x2="913.45" y2="668.30" stroke="#000" stroke-width="5.7" stroke-linecap="round"/>
<line x1="978.25" y1="670.30" x2="978.25" y2="685.80" stroke="#000" stroke-width="5.3"/>
<line x1="964.75" y1="670.30" x2="991.75" y2="670.30" stroke="#000" stroke-width="5.7" stroke-linecap="round"/>
<line x1="1056.90" y1="704.10" x2="1056.90" y2="715.70" stroke="#000" stroke-width="5.3"/>
<line x1="1043.40" y1="704.10" x2="1070.40" y2="704.10" stroke="#000" stroke-width="5.7" stroke-linecap="round"/>
<circle cx="821.5" cy="790.2" r="6.0" fill="#fff" stroke="#000" stroke-width="5.2"/>
<circle cx="821.5" cy="825.9" r="6.0" fill="#fff" stroke="#000" stroke-width="5.2"/>
<circle cx="832.6" cy="844.8" r="6.0" fill="#fff" stroke="#000" stroke-width="5.2"/>
<circle cx="810.2" cy="854.7" r="6.0" fill="#fff" stroke="#000" stroke-width="5.2"/>
<circle cx="900.1" cy="643.4" r="6.0" fill="#fff" stroke="#000" stroke-width="5.2"/>
<circle cx="888.7" cy="685.2" r="6.0" fill="#fff" stroke="#000" stroke-width="5.2"/>
<circle cx="911.0" cy="690.8" r="6.0" fill="#fff" stroke="#000" stroke-width="5.2"/>
<circle cx="900.1" cy="705.5" r="6.0" fill="#fff" stroke="#000" stroke-width="5.2"/>
<circle cx="978.2" cy="650.4" r="6.0" fill="#fff" stroke="#000" stroke-width="5.2"/>
<circle cx="978.2" cy="678.2" r="6.0" fill="#fff" stroke="#000" stroke-width="5.2"/>
<circle cx="978.2" cy="694.1" r="6.0" fill="#fff" stroke="#000" stroke-width="5.2"/>
<circle cx="978.2" cy="710.7" r="6.0" fill="#fff" stroke="#000" stroke-width="5.2"/>
<circle cx="1057.1" cy="690.2" r="6.0" fill="#fff" stroke="#000" stroke-width="5.2"/>
<circle cx="1044.0" cy="712.7" r="6.0" fill="#fff" stroke="#000" stroke-width="5.2"/>
<circle cx="1069.5" cy="717.2" r="6.0" fill="#fff" stroke="#000" stroke-width="5.2"/>
<circle cx="1057.1" cy="733.4" r="6.0" fill="#fff" stroke="#000" stroke-width="5.2"/>
<text x="917.4" y="964.3" font-size="31.9" fill="#ed1c24" transform="rotate(-90 917.4 964.3)" stroke="#ed1c24" stroke-width="0.45">**</text>
<text x="995.7" y="964.3" font-size="31.9" fill="#ed1c24" transform="rotate(-90 995.7 964.3)" stroke="#ed1c24" stroke-width="0.45">****</text>
<text x="1074.3" y="964.3" font-size="31.9" fill="#ed1c24" transform="rotate(-90 1074.3 964.3)" stroke="#ed1c24" stroke-width="0.45">****</text>
<rect x="766.80" y="588.66" width="5.80" height="391.14" fill="#000"/>
<rect x="745.50" y="973.70" width="363.50" height="6.20" fill="#000"/>
<rect x="745.50" y="974.05" width="24.20" height="5.50" fill="#000"/>
<text x="742.1" y="986.3" font-size="30.8" text-anchor="end">0</text>
<rect x="745.50" y="877.69" width="24.20" height="5.50" fill="#000"/>
<text x="742.1" y="889.9" font-size="30.8" text-anchor="end">20</text>
<rect x="745.50" y="781.33" width="24.20" height="5.50" fill="#000"/>
<text x="742.1" y="793.6" font-size="30.8" text-anchor="end">40</text>
<rect x="745.50" y="684.97" width="24.20" height="5.50" fill="#000"/>
<text x="742.1" y="697.2" font-size="30.8" text-anchor="end">60</text>
<rect x="745.50" y="588.61" width="24.20" height="5.50" fill="#000"/>
<text x="742.1" y="600.9" font-size="30.8" text-anchor="end">80</text>
<rect x="818.50" y="976.80" width="5.60" height="23.60" fill="#000"/>
<text x="821.3" y="1031.7" font-size="30.8" text-anchor="middle">0</text>
<rect x="897.15" y="976.80" width="5.60" height="23.60" fill="#000"/>
<text x="900.0" y="1031.7" font-size="30.8" text-anchor="middle">25</text>
<rect x="975.45" y="976.80" width="5.60" height="23.60" fill="#000"/>
<text x="978.2" y="1031.7" font-size="30.8" text-anchor="middle">50</text>
<rect x="1054.10" y="976.80" width="5.60" height="23.60" fill="#000"/>
<text x="1056.9" y="1031.7" font-size="30.8" text-anchor="middle">100</text>
<text x="939" y="1066.5" font-size="29.8" text-anchor="middle">TMZ concentration (uM)</text>
<text x="690" y="789.6" font-size="29.8" text-anchor="middle" transform="rotate(-90 690 789.6)">NesHI cells (%)</text>
<text x="793" y="607.6" font-size="31.7" fill="#3f5fb0">MGG4 (FACS)</text>
<text x="793" y="643.2" font-size="31.7" fill="#3f5fb0">day3</text>
<rect x="1196.90" y="778.20" width="51.10" height="199.00" fill="#000"/>
<rect x="1276.45" y="706.35" width="45.60" height="270.85" fill="#b1b0b5" stroke="#000" stroke-width="5.5"/>
<rect x="1353.25" y="693.15" width="46.20" height="284.05" fill="#959595" stroke="#000" stroke-width="5.5"/>
<rect x="1430.35" y="654.75" width="45.90" height="322.45" fill="#dededc" stroke="#000" stroke-width="5.5"/>
<rect x="1507.15" y="626.25" width="46.40" height="350.95" fill="#777877" stroke="#000" stroke-width="5.5"/>
<line x1="1222.45" y1="767.20" x2="1222.45" y2="781.20" stroke="#000" stroke-width="5.3"/>
<line x1="1208.95" y1="767.20" x2="1235.95" y2="767.20" stroke="#000" stroke-width="5.7" stroke-linecap="round"/>
<line x1="1299.25" y1="696.70" x2="1299.25" y2="706.60" stroke="#000" stroke-width="5.3"/>
<line x1="1285.75" y1="696.70" x2="1312.75" y2="696.70" stroke="#000" stroke-width="5.7" stroke-linecap="round"/>
<line x1="1376.35" y1="683.50" x2="1376.35" y2="693.40" stroke="#000" stroke-width="5.3"/>
<line x1="1362.85" y1="683.50" x2="1389.85" y2="683.50" stroke="#000" stroke-width="5.7" stroke-linecap="round"/>
<line x1="1453.30" y1="644.30" x2="1453.30" y2="655.00" stroke="#000" stroke-width="5.3"/>
<line x1="1439.80" y1="644.30" x2="1466.80" y2="644.30" stroke="#000" stroke-width="5.7" stroke-linecap="round"/>
<line x1="1530.35" y1="609.70" x2="1530.35" y2="626.50" stroke="#000" stroke-width="5.3"/>
<line x1="1516.85" y1="609.70" x2="1543.85" y2="609.70" stroke="#000" stroke-width="5.7" stroke-linecap="round"/>
<circle cx="1222.0" cy="751.4" r="6.0" fill="#fff" stroke="#000" stroke-width="5.2"/>
<circle cx="1222.0" cy="771.3" r="6.0" fill="#fff" stroke="#000" stroke-width="5.2"/>
<circle cx="1233.1" cy="790.1" r="6.0" fill="#fff" stroke="#000" stroke-width="5.2"/>
<circle cx="1210.7" cy="799.8" r="6.0" fill="#fff" stroke="#000" stroke-width="5.2"/>
<circle cx="1288.3" cy="694.8" r="6.0" fill="#fff" stroke="#000" stroke-width="5.2"/>
<circle cx="1310.2" cy="683.5" r="6.0" fill="#fff" stroke="#000" stroke-width="5.2"/>
<circle cx="1310.2" cy="698.1" r="6.0" fill="#fff" stroke="#000" stroke-width="5.2"/>
<circle cx="1299.1" cy="737.3" r="6.0" fill="#fff" stroke="#000" stroke-width="5.2"/>
<circle cx="1364.9" cy="680.7" r="6.0" fill="#fff" stroke="#000" stroke-width="5.2"/>
<circle cx="1387.5" cy="671.3" r="6.0" fill="#fff" stroke="#000" stroke-width="5.2"/>
<circle cx="1387.5" cy="684.9" r="6.0" fill="#fff" stroke="#000" stroke-width="5.2"/>
<circle cx="1375.9" cy="728.0" r="6.0" fill="#fff" stroke="#000" stroke-width="5.2"/>
<circle cx="1441.7" cy="642.0" r="6.0" fill="#fff" stroke="#000" stroke-width="5.2"/>
<circle cx="1464.3" cy="632.7" r="6.0" fill="#fff" stroke="#000" stroke-width="5.2"/>
<circle cx="1464.3" cy="646.2" r="6.0" fill="#fff" stroke="#000" stroke-width="5.2"/>
<circle cx="1452.7" cy="689.3" r="6.0" fill="#fff" stroke="#000" stroke-width="5.2"/>
<circle cx="1518.7" cy="608.9" r="6.0" fill="#fff" stroke="#000" stroke-width="5.2"/>
<circle cx="1541.7" cy="599.5" r="6.0" fill="#fff" stroke="#000" stroke-width="5.2"/>
<circle cx="1530.1" cy="622.2" r="6.0" fill="#fff" stroke="#000" stroke-width="5.2"/>
<circle cx="1530.1" cy="665.5" r="6.0" fill="#fff" stroke="#000" stroke-width="5.2"/>
<text x="1316.7" y="966.5" font-size="31.9" fill="#ed1c24" transform="rotate(-90 1316.7 966.5)" stroke="#ed1c24" stroke-width="0.45">**</text>
<text x="1393.8" y="966.5" font-size="31.9" fill="#ed1c24" transform="rotate(-90 1393.8 966.5)" stroke="#ed1c24" stroke-width="0.45">***</text>
<text x="1470.7" y="966.5" font-size="31.9" fill="#ed1c24" transform="rotate(-90 1470.7 966.5)" stroke="#ed1c24" stroke-width="0.45">****</text>
<text x="1547.8" y="966.5" font-size="31.9" fill="#ed1c24" transform="rotate(-90 1547.8 966.5)" stroke="#ed1c24" stroke-width="0.45">****</text>
<rect x="1167.50" y="590.26" width="5.80" height="389.94" fill="#000"/>
<rect x="1146.60" y="974.10" width="435.40" height="6.20" fill="#000"/>
<rect x="1146.60" y="974.45" width="23.80" height="5.50" fill="#000"/>
<text x="1143.8999999999999" y="986.7" font-size="30.8" text-anchor="end">0</text>
<rect x="1146.60" y="878.39" width="23.80" height="5.50" fill="#000"/>
<text x="1143.8999999999999" y="890.6" font-size="30.8" text-anchor="end">20</text>
<rect x="1146.60" y="782.33" width="23.80" height="5.50" fill="#000"/>
<text x="1143.8999999999999" y="794.6" font-size="30.8" text-anchor="end">40</text>
<rect x="1146.60" y="686.27" width="23.80" height="5.50" fill="#000"/>
<text x="1143.8999999999999" y="698.5" font-size="30.8" text-anchor="end">60</text>
<rect x="1146.60" y="590.21" width="23.80" height="5.50" fill="#000"/>
<text x="1143.8999999999999" y="602.5" font-size="30.8" text-anchor="end">80</text>
<rect x="1219.65" y="977.20" width="5.60" height="23.60" fill="#000"/>
<text x="1222.5" y="1029.5" font-size="30.8" text-anchor="middle">0</text>
<rect x="1296.45" y="977.20" width="5.60" height="23.60" fill="#000"/>
<text x="1299.2" y="1029.5" font-size="30.8" text-anchor="middle">25</text>
<rect x="1373.55" y="977.20" width="5.60" height="23.60" fill="#000"/>
<text x="1376.3" y="1029.5" font-size="30.8" text-anchor="middle">50</text>
<rect x="1450.50" y="977.20" width="5.60" height="23.60" fill="#000"/>
<text x="1453.3" y="1029.5" font-size="30.8" text-anchor="middle">100</text>
<rect x="1527.55" y="977.20" width="5.60" height="23.60" fill="#000"/>
<text x="1530.3" y="1029.5" font-size="30.8" text-anchor="middle">150</text>
<text x="1377" y="1062.9" font-size="29.8" text-anchor="middle">TMZ concentration (uM)</text>
<text x="1191" y="607" font-size="31.7" fill="#3f5fb0">MGG18 (FACS)</text>
<text x="1191" y="643.3" font-size="31.7" fill="#3f5fb0">day3</text>
<rect x="1677.90" y="752.00" width="51.80" height="224.20" fill="#000"/>
<rect x="1758.45" y="695.95" width="46.80" height="280.25" fill="#b1b0b5" stroke="#000" stroke-width="5.5"/>
<rect x="1837.45" y="715.15" width="46.30" height="261.05" fill="#959595" stroke="#000" stroke-width="5.5"/>
<rect x="1915.75" y="673.35" width="46.70" height="302.85" fill="#dededc" stroke="#000" stroke-width="5.5"/>
<line x1="1703.80" y1="744.00" x2="1703.80" y2="755.00" stroke="#000" stroke-width="5.3"/>
<line x1="1690.30" y1="744.00" x2="1717.30" y2="744.00" stroke="#000" stroke-width="5.7" stroke-linecap="round"/>
<line x1="1860.60" y1="702.20" x2="1860.60" y2="715.40" stroke="#000" stroke-width="5.3"/>
<line x1="1847.10" y1="702.20" x2="1874.10" y2="702.20" stroke="#000" stroke-width="5.7" stroke-linecap="round"/>
<line x1="1939.10" y1="655.30" x2="1939.10" y2="673.60" stroke="#000" stroke-width="5.3"/>
<line x1="1925.60" y1="655.30" x2="1952.60" y2="655.30" stroke="#000" stroke-width="5.7" stroke-linecap="round"/>
<circle cx="1692.5" cy="742.3" r="6.0" fill="#fff" stroke="#000" stroke-width="5.2"/>
<circle cx="1714.9" cy="753.3" r="6.0" fill="#fff" stroke="#000" stroke-width="5.2"/>
<circle cx="1692.5" cy="758.9" r="6.0" fill="#fff" stroke="#000" stroke-width="5.2"/>
<circle cx="1761.8" cy="693.2" r="6.0" fill="#fff" stroke="#000" stroke-width="5.2"/>
<circle cx="1782.4" cy="690.1" r="6.0" fill="#fff" stroke="#000" stroke-width="5.2"/>
<circle cx="1803.1" cy="692.5" r="6.0" fill="#fff" stroke="#000" stroke-width="5.2"/>
<circle cx="1849.3" cy="705.4" r="6.0" fill="#fff" stroke="#000" stroke-width="5.2"/>
<circle cx="1871.7" cy="710.2" r="6.0" fill="#fff" stroke="#000" stroke-width="5.2"/>
<circle cx="1860.7" cy="722.4" r="6.0" fill="#fff" stroke="#000" stroke-width="5.2"/>
<circle cx="1939.2" cy="652.4" r="6.0" fill="#fff" stroke="#000" stroke-width="5.2"/>
<circle cx="1928.3" cy="679.8" r="6.0" fill="#fff" stroke="#000" stroke-width="5.2"/>
<circle cx="1950.2" cy="679.8" r="6.0" fill="#fff" stroke="#000" stroke-width="5.2"/>
<text x="1799.3" y="966.5" font-size="31.9" fill="#ed1c24" transform="rotate(-90 1799.3 966.5)" stroke="#ed1c24" stroke-width="0.45">***</text>
<text x="1878.0" y="966.5" font-size="31.9" fill="#ed1c24" transform="rotate(-90 1878.0 966.5)" stroke="#ed1c24" stroke-width="0.45">**</text>
<text x="1956.5" y="966.5" font-size="31.9" fill="#ed1c24" transform="rotate(-90 1956.5 966.5)" stroke="#ed1c24" stroke-width="0.45">****</text>
<rect x="1648.90" y="588.90" width="5.80" height="390.30" fill="#000"/>
<rect x="1628.00" y="973.10" width="364.50" height="6.20" fill="#000"/>
<rect x="1628.00" y="973.45" width="23.80" height="5.50" fill="#000"/>
<text x="1625.1" y="985.7" font-size="30.8" text-anchor="end">0</text>
<rect x="1628.00" y="896.53" width="23.80" height="5.50" fill="#000"/>
<text x="1625.1" y="908.8" font-size="30.8" text-anchor="end">20</text>
<rect x="1628.00" y="819.61" width="23.80" height="5.50" fill="#000"/>
<text x="1625.1" y="831.9" font-size="30.8" text-anchor="end">40</text>
<rect x="1628.00" y="742.69" width="23.80" height="5.50" fill="#000"/>
<text x="1625.1" y="754.9" font-size="30.8" text-anchor="end">60</text>
<rect x="1628.00" y="665.77" width="23.80" height="5.50" fill="#000"/>
<text x="1625.1" y="678.0" font-size="30.8" text-anchor="end">80</text>
<rect x="1628.00" y="588.85" width="23.80" height="5.50" fill="#000"/>
<text x="1625.1" y="601.1" font-size="30.8" text-anchor="end">100</text>
<rect x="1701.00" y="976.20" width="5.60" height="23.60" fill="#000"/>
<text x="1703.8" y="1029" font-size="30.8" text-anchor="middle">0</text>
<rect x="1779.05" y="976.20" width="5.60" height="23.60" fill="#000"/>
<text x="1781.8" y="1029" font-size="30.8" text-anchor="middle">25</text>
<rect x="1857.80" y="976.20" width="5.60" height="23.60" fill="#000"/>
<text x="1860.6" y="1029" font-size="30.8" text-anchor="middle">50</text>
<rect x="1936.30" y="976.20" width="5.60" height="23.60" fill="#000"/>
<text x="1939.1" y="1029" font-size="30.8" text-anchor="middle">100</text>
<text x="1822.5" y="1062.9" font-size="29.8" text-anchor="middle">TMZ concentration (uM)</text>
<text x="1680.3" y="605" font-size="31.7" fill="#3f5fb0">GL261 (FACS)</text>
<text x="1680.3" y="641" font-size="31.7" fill="#3f5fb0">day3</text>
</g>
<g id="pE">
<text x="36.3" y="1143.3" font-size="55" font-weight="bold">E</text>
<line x1="179.00" y1="1327.30" x2="420.60" y2="1476.50" stroke="#000" stroke-width="5" stroke-dasharray="0 12.32" stroke-linecap="round"/>
<circle cx="179.6" cy="1259.6" r="6.6" fill="#3f58a8"/>
<circle cx="369.9" cy="1436.2" r="6.6" fill="#3f58a8"/>
<circle cx="425.1" cy="1436.2" r="6.6" fill="#3f58a8"/>
<circle cx="312.6" cy="1462.5" r="6.6" fill="#3f58a8"/>
<circle cx="228.2" cy="1373.9" r="6.6" fill="#0aa84f"/>
<circle cx="308.8" cy="1401.9" r="6.6" fill="#0aa84f"/>
<circle cx="266.1" cy="1434.1" r="6.6" fill="#0aa84f"/>
<text x="161.3" y="1300.5" font-size="31.3" fill="#3f5fb0">MGG18</text>
<text x="350" y="1417.1" font-size="31.3" fill="#3f5fb0">BT27</text>
<text x="422" y="1471.4" font-size="31.3" fill="#3f5fb0">BT18</text>
<text x="291.3" y="1506.3" font-size="31.3" fill="#3f5fb0">ZH305</text>
<text x="135.6" y="1380.4" font-size="31.3" fill="#0aa84f">CT2A</text>
<text x="274.3" y="1380.4" font-size="31.3" fill="#0aa84f">mGB1</text>
<text x="172.8" y="1462.5" font-size="31.3" fill="#0aa84f">mGB2</text>
<rect x="124.80" y="1168.60" width="7.00" height="358.60" fill="#000"/>
<rect x="119.30" y="1520.10" width="370.20" height="7.00" fill="#000"/>
<rect x="119.30" y="1520.60" width="8.00" height="6.00" fill="#000"/>
<text x="100.5" y="1532.8" font-size="30.8" text-anchor="end">0</text>
<rect x="119.30" y="1432.60" width="8.00" height="6.00" fill="#000"/>
<text x="100.5" y="1444.8" font-size="30.8" text-anchor="end">1</text>
<rect x="119.30" y="1344.60" width="8.00" height="6.00" fill="#000"/>
<text x="100.5" y="1356.8" font-size="30.8" text-anchor="end">2</text>
<rect x="119.30" y="1256.60" width="8.00" height="6.00" fill="#000"/>
<text x="100.5" y="1268.8" font-size="30.8" text-anchor="end">3</text>
<rect x="119.30" y="1168.60" width="8.00" height="6.00" fill="#000"/>
<text x="100.5" y="1180.8" font-size="30.8" text-anchor="end">4</text>
<rect x="125.30" y="1523.60" width="6.00" height="10.50" fill="#000"/>
<text x="128.8" y="1569.9" font-size="30.8" text-anchor="middle">0,0</text>
<rect x="197.20" y="1523.60" width="6.00" height="10.50" fill="#000"/>
<text x="200.7" y="1569.9" font-size="30.8" text-anchor="middle">0,1</text>
<rect x="269.10" y="1523.60" width="6.00" height="10.50" fill="#000"/>
<text x="272.6" y="1569.9" font-size="30.8" text-anchor="middle">0,2</text>
<rect x="341.00" y="1523.60" width="6.00" height="10.50" fill="#000"/>
<text x="344.5" y="1569.9" font-size="30.8" text-anchor="middle">0,3</text>
<rect x="412.90" y="1523.60" width="6.00" height="10.50" fill="#000"/>
<text x="416.4" y="1569.9" font-size="30.8" text-anchor="middle">0,4</text>
<rect x="486.50" y="1523.60" width="6.00" height="10.50" fill="#000"/>
<text x="488.3" y="1569.9" font-size="30.8" text-anchor="middle">0,5</text>
<text x="323.7" y="1605" font-size="31" text-anchor="middle">1/(basal dCT)</text>
<polygon points="131.3,1634.4 486.9,1608.7 486.9,1634.6" fill="#000"/>
<text x="307" y="1668.3" font-size="31.3" text-anchor="middle">Nes expression</text>
<text x="70.1" y="1357.2" font-size="31.7" text-anchor="middle" transform="rotate(-90 70.1 1357.2)">Fold change (25uM TMZ)</text>
<text x="381.9" y="1196.1" font-size="31.5" text-anchor="middle" font-style="italic" fill="#ed1c24">Spearman</text>
<text x="387.1" y="1231.3" font-size="31.6" text-anchor="middle" font-style="italic" fill="#ed1c24">R=-0,84; p=0,02</text>
<text x="139.5" y="1514.7" font-size="31.5" font-style="italic" fill="#ed1c24">n=3</text>
</g>
<g id="pF">
<text x="530" y="1145" font-size="56.5" font-weight="bold" transform="translate(530 0) scale(1.06 1) translate(-530 0)">F</text>
<text x="558" y="1358.5" font-size="29.6" text-anchor="middle" fill="#ed1c24" transform="rotate(-90 558 1358.5)">Nes<tspan font-size="18.5" dy="-9">P</tspan><tspan dy="9">-dTomato MGG4</tspan></text>
<defs><linearGradient id="tg" x1="0" y1="0" x2="1" y2="1"><stop offset="0" stop-color="#8d8887"/><stop offset="1" stop-color="#868180"/></linearGradient><filter id="sf" x="-5%" y="-5%" width="110%" height="110%"><feGaussianBlur stdDeviation="0.55"/></filter><clipPath id="tc00"><rect x="567" y="1185.8" width="191.2" height="191.2"/></clipPath><clipPath id="tc01"><rect x="762.6" y="1185.8" width="192.4" height="191.2"/></clipPath><clipPath id="tc02"><rect x="959" y="1185.8" width="192.0" height="191.2"/></clipPath><clipPath id="tc03"><rect x="1155.2" y="1185.8" width="192.0" height="191.2"/></clipPath><clipPath id="tc10"><rect x="567" y="1381.3" width="191.2" height="191.2"/></clipPath><clipPath id="tc11"><rect x="762.6" y="1381.3" width="192.4" height="191.2"/></clipPath><clipPath id="tc12"><rect x="959" y="1381.3" width="192.0" height="191.2"/></clipPath><clipPath id="tc13"><rect x="1155.2" y="1381.3" width="192.0" height="191.2"/></clipPath></defs>
<rect x="567.00" y="1185.80" width="191.20" height="191.20" fill="url(#tg)"/>
<g clip-path="url(#tc00)">
<g filter="url(#sf)">
<path d="M567.6 1256.7h0m30.9 61h0m9.8 19.7h0m3.2-143.5h0m52.1 37h0m15.3-31.9h0m9.5 78.4h0m30.4-47.2h0m2.7 53.6h0" fill="none" stroke="#6f6b6a" stroke-width="2.0" stroke-linecap="round" stroke-opacity="0.6"/>
<circle cx="757.7" cy="1327.0" r="3" fill="none" stroke="#9a9593" stroke-width="0.8"/>
<circle cx="734.3" cy="1303.6" r="3" fill="none" stroke="#9a9593" stroke-width="0.8"/>
<circle cx="573.5" cy="1248.7" r="3" fill="none" stroke="#9a9593" stroke-width="0.8"/>
<circle cx="662.1" cy="1207.9" r="3" fill="none" stroke="#9a9593" stroke-width="0.8"/>
<polygon points="597.0,1193.8 609.0,1195.8 606.0,1217.8" fill="none" stroke="#98938f" stroke-width="0.9"/>
<polyline points="693.4,1280.5 702.9,1276.7 710.1,1272.9" fill="none" stroke="#c4c0be" stroke-width="2.4" stroke-linecap="round" stroke-linejoin="round" opacity="0.7"/>
<polyline points="693.4,1280.5 702.9,1276.7 710.1,1272.9" fill="none" stroke="#5c5857" stroke-width="1.0" stroke-linecap="round" stroke-linejoin="round"/>
<polyline points="634.0,1316.2 628.3,1309.1 625.5,1312.4" fill="none" stroke="#c4c0be" stroke-width="2.4" stroke-linecap="round" stroke-linejoin="round" opacity="0.7"/>
<polyline points="634.0,1316.2 628.3,1309.1 625.5,1312.4" fill="none" stroke="#5c5857" stroke-width="1.0" stroke-linecap="round" stroke-linejoin="round"/>
<path d="M696.3,1278.6Q702.7,1278.2 699.2,1281.8Q695.7,1285.4 692.4,1287.8Q689.0,1290.2 686.0,1293.7Q683.0,1297.2 678.5,1296.4Q674.0,1295.5 667.5,1297.6Q661.1,1299.6 661.0,1296.5Q660.9,1293.4 660.8,1290.8Q660.8,1288.2 664.4,1285.5Q668.0,1282.8 672.0,1280.3Q675.9,1277.9 680.3,1277.7Q684.6,1277.5 687.3,1278.3Q690.0,1279.0 696.3,1278.6Z" fill="#bdb8b6" stroke="#cdc9c7" stroke-width="2.0" opacity="0.7" stroke-linejoin="round"/>
<path d="M694.9,1278.9Q698.2,1279.8 695.4,1282.7Q692.5,1285.6 691.8,1288.2Q691.1,1290.8 686.3,1292.0Q681.5,1293.1 676.8,1295.8Q672.1,1298.4 668.1,1297.8Q664.1,1297.3 662.5,1295.3Q661.0,1293.4 661.4,1290.8Q661.8,1288.2 665.1,1285.6Q668.3,1283.0 672.2,1280.7Q676.1,1278.4 679.9,1278.7Q683.8,1279.1 687.7,1278.5Q691.6,1278.0 694.9,1278.9Z" fill="#868180" stroke="#57534f" stroke-width="0.9" stroke-linejoin="round"/>
<path d="M666.6 1292h0m.2-4.2h0m.2 2.3h0m5-3.2h0m1.3 7.9h0m.7-13.6h0m.2 5.1h0m3.5 1.8h0m2.4 2.4h0m1.4-2.9h0m.2 5.3h0m2.4-12.6h0m.9 1.1h0m.3-.5h0m.6-.6h0m2.9-1.5h0" fill="none" stroke="#66625f" stroke-width="1.8" stroke-linecap="round" stroke-opacity="0.8"/>
<path d="M668.8 1290.8h0m.3 3.8h0m2.2-3.6h0m.4-2.4h0m.6 1.1h0m.1 3.9h0m8.7-10.6h0m1.9 8.2h0m1.4 .4h0m4.6-12.9h0m1.2 4.9h0m.7-.8h0m.6 2.3h0m.2-.2h0m1.1-3.6h0" fill="none" stroke="#a9a5a3" stroke-width="1.8" stroke-linecap="round" stroke-opacity="0.8"/>
<path d="M671.4,1300.7Q670.7,1302.6 669.7,1304.0Q668.8,1305.4 667.1,1306.3Q665.4,1307.1 663.4,1306.9Q661.4,1306.8 658.8,1306.7Q656.2,1306.6 655.5,1304.7Q654.8,1302.7 652.5,1300.6Q650.2,1298.5 652.0,1296.6Q653.8,1294.7 656.7,1294.7Q659.6,1294.7 661.9,1293.8Q664.2,1292.9 666.3,1294.3Q668.4,1295.7 670.3,1297.3Q672.2,1298.8 671.4,1300.7Z" fill="#bdb8b6" stroke="#cdc9c7" stroke-width="2.0" opacity="0.7" stroke-linejoin="round"/>
<path d="M669.5,1301.1Q670.1,1302.5 669.2,1303.8Q668.3,1305.0 666.8,1305.8Q665.3,1306.6 663.3,1306.9Q661.3,1307.2 658.8,1306.8Q656.4,1306.4 655.2,1304.6Q654.0,1302.8 654.9,1301.2Q655.7,1299.6 655.3,1297.6Q654.8,1295.6 656.8,1294.3Q658.7,1293.1 661.4,1293.3Q664.1,1293.4 666.5,1294.4Q668.9,1295.4 668.9,1297.5Q668.8,1299.6 669.5,1301.1Z" fill="#868180" stroke="#57534f" stroke-width="0.9" stroke-linejoin="round"/>
<path d="M656.5 1301.3h0m5.3-3.7h0m2.8 8.4h0m.5-4.6h0m2.1 0h0" fill="none" stroke="#66625f" stroke-width="1.8" stroke-linecap="round" stroke-opacity="0.8"/>
<path d="M656 1299.4h0m2.8 3h0m.4 2.7h0m.8-7.9h0m.2 7.5h0m.4-3.8h0m.3-.8h0m4 .7h0m3.4 3.8h0" fill="none" stroke="#a9a5a3" stroke-width="1.8" stroke-linecap="round" stroke-opacity="0.8"/>
<path d="M642.8,1322.9Q643.9,1325.6 644.2,1328.5Q644.5,1331.4 643.7,1333.3Q642.8,1335.2 641.5,1335.6Q640.1,1336.1 638.7,1337.0Q637.3,1337.9 635.8,1335.7Q634.4,1333.5 632.5,1331.2Q630.6,1328.9 630.1,1325.3Q629.5,1321.7 630.3,1319.1Q631.2,1316.4 633.0,1315.9Q634.9,1315.4 636.6,1316.5Q638.3,1317.6 640.0,1318.9Q641.6,1320.2 642.8,1322.9Z" fill="#bdb8b6" stroke="#cdc9c7" stroke-width="2.0" opacity="0.7" stroke-linejoin="round"/>
<path d="M642.5,1323.0Q643.3,1325.7 643.8,1328.4Q644.3,1331.2 644.1,1334.1Q644.0,1337.0 641.9,1336.0Q639.9,1335.1 638.6,1335.8Q637.3,1336.4 635.8,1334.9Q634.3,1333.3 633.0,1331.0Q631.7,1328.7 631.1,1325.6Q630.6,1322.6 631.3,1320.3Q632.1,1318.0 633.6,1317.2Q635.1,1316.4 636.8,1316.4Q638.5,1316.5 640.0,1318.4Q641.6,1320.3 642.5,1323.0Z" fill="#868180" stroke="#57534f" stroke-width="0.9" stroke-linejoin="round"/>
<path d="M635.1 1324.9h0m1.2 1.7h0m1.7 6h0m.2-5.6h0m2 8.7h0m.9-12.3h0m.6 9.2h0" fill="none" stroke="#66625f" stroke-width="1.8" stroke-linecap="round" stroke-opacity="0.8"/>
<path d="M633.2 1322.6h0m2.5 .6h0m2.1 8.3h0m1.1-10.9h0m1 11.3h0m3-.2h0" fill="none" stroke="#a9a5a3" stroke-width="1.8" stroke-linecap="round" stroke-opacity="0.8"/>
</g>
<g transform="translate(655.4 1293.9) rotate(52)"><path d="M0,0 L-10.5,-6 L-10.5,-2.6 L-20.5,-2.6 L-20.5,2.6 L-10.5,2.6 L-10.5,6 Z" fill="#fff"/></g>
<rect x="571.80" y="1364.50" width="20.60" height="2.90" fill="#fff"/>
<rect x="659.20" y="1359.10" width="95.20" height="17.90" fill="#000"/>
<text x="706.8" y="1372.4" font-size="14.9" text-anchor="middle" fill="#fff" stroke="#fff" stroke-width="0.25">0d 12h 0m</text>
</g>
<rect x="762.60" y="1185.80" width="192.40" height="191.20" fill="url(#tg)"/>
<g clip-path="url(#tc01)">
<g filter="url(#sf)">
<path d="M766.3 1281.6h0m2.9 59.2h0m1-38.8h0m28.7 67.5h0m17.7-150.4h0m20 18.8h0m10.1 65.9h0m95.7 16.7h0m1.2-45.4h0" fill="none" stroke="#6f6b6a" stroke-width="2.0" stroke-linecap="round" stroke-opacity="0.6"/>
<circle cx="897.4" cy="1231.7" r="3" fill="none" stroke="#9a9593" stroke-width="0.8"/>
<circle cx="764.1" cy="1289.9" r="3" fill="none" stroke="#9a9593" stroke-width="0.8"/>
<circle cx="780.8" cy="1244.9" r="3" fill="none" stroke="#9a9593" stroke-width="0.8"/>
<circle cx="850.0" cy="1356.8" r="3" fill="none" stroke="#9a9593" stroke-width="0.8"/>
<polygon points="795.6,1193.8 807.6,1195.8 804.6,1217.8" fill="none" stroke="#98938f" stroke-width="0.9"/>
<polyline points="874.0,1316.2 885.8,1309.1 897.7,1299.6" fill="none" stroke="#c4c0be" stroke-width="2.4" stroke-linecap="round" stroke-linejoin="round" opacity="0.7"/>
<polyline points="874.0,1316.2 885.8,1309.1 897.7,1299.6" fill="none" stroke="#5c5857" stroke-width="1.0" stroke-linecap="round" stroke-linejoin="round"/>
<polyline points="833.6,1335.2 852.6,1339.9 874.0,1337.6" fill="none" stroke="#c4c0be" stroke-width="2.4" stroke-linecap="round" stroke-linejoin="round" opacity="0.7"/>
<polyline points="833.6,1335.2 852.6,1339.9 874.0,1337.6" fill="none" stroke="#5c5857" stroke-width="1.0" stroke-linecap="round" stroke-linejoin="round"/>
<path d="M879.9,1325.1Q878.9,1327.9 876.8,1329.7Q874.6,1331.5 873.6,1334.3Q872.5,1337.2 867.5,1337.7Q862.5,1338.3 858.2,1336.7Q853.9,1335.0 852.9,1332.6Q851.8,1330.1 850.4,1328.3Q848.9,1326.4 849.1,1324.2Q849.3,1321.9 852.0,1320.1Q854.7,1318.2 859.1,1318.6Q863.4,1319.1 868.5,1318.5Q873.5,1318.0 877.2,1320.2Q881.0,1322.3 879.9,1325.1Z" fill="#bdb8b6" stroke="#cdc9c7" stroke-width="2.0" opacity="0.7" stroke-linejoin="round"/>
<path d="M878.8,1325.8Q880.9,1328.0 879.4,1330.3Q878.0,1332.6 873.2,1332.6Q868.4,1332.6 865.5,1334.0Q862.6,1335.4 859.8,1333.8Q857.0,1332.3 852.3,1331.7Q847.5,1331.1 847.0,1328.7Q846.5,1326.3 847.7,1324.1Q848.9,1321.9 853.0,1321.4Q857.1,1321.0 860.2,1320.9Q863.4,1320.9 867.6,1320.2Q871.9,1319.5 874.3,1321.6Q876.7,1323.6 878.8,1325.8Z" fill="#868180" stroke="#57534f" stroke-width="0.9" stroke-linejoin="round"/>
<path d="M853.2 1325.5h0m1.1 3.7h0m4.6-7.5h0m.5 8.4h0m.5-1.2h0m.7-.4h0m.1-4.3h0m.3-2h0m2.6 6.3h0m.1-7.1h0m1.6 6.3h0m8.4-2.5h0" fill="none" stroke="#66625f" stroke-width="1.8" stroke-linecap="round" stroke-opacity="0.8"/>
<path d="M853.9 1329.9h0m2.9-6.5h0m0 7.9h0m2.7-4.7h0m.3 5.7h0m.8-8.3h0m4.5-2.8h0m.9 6.9h0m.1 6h0m.8-2.1h0m3.2-9.7h0m.8 2.2h0m0 2.2h0m.8-1.4h0m.9 6.5h0" fill="none" stroke="#a9a5a3" stroke-width="1.8" stroke-linecap="round" stroke-opacity="0.8"/>
<path d="M958.9,1195.5Q959.3,1197.4 957.8,1198.8Q956.2,1200.2 954.8,1201.0Q953.3,1201.9 951.7,1203.8Q950.0,1205.6 947.8,1204.4Q945.7,1203.2 943.3,1202.3Q940.9,1201.5 941.2,1199.4Q941.4,1197.4 942.8,1196.1Q944.1,1194.8 945.2,1193.6Q946.3,1192.5 948.2,1191.8Q950.0,1191.0 952.3,1191.1Q954.6,1191.2 956.6,1192.4Q958.5,1193.6 958.9,1195.5Z" fill="#bdb8b6" stroke="#cdc9c7" stroke-width="2.0" opacity="0.7" stroke-linejoin="round"/>
<path d="M957.5,1195.9Q958.3,1197.4 957.6,1198.9Q956.8,1200.4 955.0,1201.0Q953.2,1201.6 951.6,1202.2Q950.0,1202.8 948.3,1202.4Q946.5,1201.9 945.1,1201.1Q943.7,1200.2 943.6,1198.8Q943.5,1197.4 943.5,1196.0Q943.5,1194.6 944.9,1193.6Q946.4,1192.7 948.2,1192.9Q950.0,1193.1 952.1,1192.4Q954.3,1191.8 955.4,1193.1Q956.6,1194.5 957.5,1195.9Z" fill="#868180" stroke="#57534f" stroke-width="0.9" stroke-linejoin="round"/>
<path d="M944.3 1195.1h0m4.2 2.4h0m3.6-3.2h0m1.8 3h0" fill="none" stroke="#66625f" stroke-width="1.8" stroke-linecap="round" stroke-opacity="0.8"/>
<path d="M946.1 1199.9h0m1.8-6.8h0m2.9 8.5h0m1-8.2h0m3.4 4.1h0" fill="none" stroke="#a9a5a3" stroke-width="1.8" stroke-linecap="round" stroke-opacity="0.8"/>
<path d="M849.4,1319.1Q850.1,1321.4 849.4,1323.7Q848.7,1325.9 847.7,1328.4Q846.8,1330.8 844.4,1332.0Q842.0,1333.2 839.2,1333.4Q836.5,1333.6 834.7,1331.5Q832.9,1329.4 830.6,1328.1Q828.2,1326.7 827.6,1324.1Q826.9,1321.4 828.6,1319.3Q830.4,1317.1 831.6,1315.1Q832.7,1313.1 834.7,1311.6Q836.7,1310.1 839.1,1310.9Q841.5,1311.6 844.2,1311.7Q846.9,1311.9 847.8,1314.4Q848.7,1316.9 849.4,1319.1Z" fill="#b9a7a2" stroke="#cfc8c5" stroke-width="1.2" opacity="0.8"/>
<path d="M848.5,1319.1Q849.6,1321.4 848.6,1323.8Q847.6,1326.2 845.8,1327.9Q844.0,1329.6 841.6,1330.2Q839.3,1330.8 836.8,1330.4Q834.3,1330.0 832.3,1328.3Q830.3,1326.6 830.1,1324.0Q829.9,1321.4 830.1,1318.8Q830.3,1316.2 832.4,1314.6Q834.5,1313.1 836.9,1312.1Q839.3,1311.1 841.7,1312.1Q844.1,1313.0 845.8,1314.9Q847.4,1316.7 848.5,1319.1Z" fill="#d4604e" opacity="0.85"/>
<path d="M836.5 1322.4h0m2-3.3h0m.2-1.2h0m.5 3.4h0m.3 .4h0m3.6 3.4h0" fill="none" stroke="#a8261a" stroke-width="2.0" stroke-linecap="round" stroke-opacity="0.7"/>
</g>
<g transform="translate(833.6 1314.8) rotate(52)"><path d="M0,0 L-10.5,-6 L-10.5,-2.6 L-20.5,-2.6 L-20.5,2.6 L-10.5,2.6 L-10.5,6 Z" fill="#fff"/></g>
<rect x="767.40" y="1364.50" width="20.60" height="2.90" fill="#fff"/>
<rect x="854.80" y="1359.10" width="95.20" height="17.90" fill="#000"/>
<text x="902.4" y="1372.4" font-size="14.9" text-anchor="middle" fill="#fff" stroke="#fff" stroke-width="0.25">0d 15h 0m</text>
</g>
<rect x="959.00" y="1185.80" width="192.00" height="191.20" fill="url(#tg)"/>
<g clip-path="url(#tc02)">
<g filter="url(#sf)">
<path d="M962.8 1308.8h0m39.1 27.9h0m27.3-84.7h0m17.1-23.9h0m.4 55.9h0m25 13.3h0m9.5 10.1h0m22.8 0h0m39.7-50.1h0" fill="none" stroke="#6f6b6a" stroke-width="2.0" stroke-linecap="round" stroke-opacity="0.6"/>
<circle cx="975.7" cy="1279.5" r="3" fill="none" stroke="#9a9593" stroke-width="0.8"/>
<circle cx="990.7" cy="1338.6" r="3" fill="none" stroke="#9a9593" stroke-width="0.8"/>
<circle cx="1021.8" cy="1248.6" r="3" fill="none" stroke="#9a9593" stroke-width="0.8"/>
<circle cx="1000.4" cy="1195.0" r="3" fill="none" stroke="#9a9593" stroke-width="0.8"/>
<polygon points="989.0,1193.8 1001.0,1195.8 998.0,1217.8" fill="none" stroke="#98938f" stroke-width="0.9"/>
<polyline points="1045.5,1316.2 1059.3,1319.5 1073.5,1313.8 1085.4,1301.9" fill="none" stroke="#c4c0be" stroke-width="2.4" stroke-linecap="round" stroke-linejoin="round" opacity="0.7"/>
<polyline points="1045.5,1316.2 1059.3,1319.5 1073.5,1313.8 1085.4,1301.9" fill="none" stroke="#5c5857" stroke-width="1.0" stroke-linecap="round" stroke-linejoin="round"/>
<polyline points="1066.4,1323.3 1068.8,1332.8" fill="none" stroke="#c4c0be" stroke-width="2.4" stroke-linecap="round" stroke-linejoin="round" opacity="0.7"/>
<polyline points="1066.4,1323.3 1068.8,1332.8" fill="none" stroke="#5c5857" stroke-width="1.0" stroke-linecap="round" stroke-linejoin="round"/>
<path d="M1030.6,1374.7Q1029.8,1375.9 1029.1,1376.7Q1028.4,1377.6 1027.6,1378.6Q1026.7,1379.7 1024.6,1380.0Q1022.5,1380.2 1021.2,1378.8Q1019.8,1377.4 1019.0,1376.4Q1018.2,1375.4 1017.1,1374.3Q1016.0,1373.1 1017.5,1372.4Q1018.9,1371.8 1019.9,1370.9Q1020.9,1370.1 1022.8,1369.7Q1024.7,1369.3 1026.1,1370.6Q1027.4,1371.9 1029.4,1372.7Q1031.3,1373.5 1030.6,1374.7Z" fill="#bdb8b6" stroke="#cdc9c7" stroke-width="2.0" opacity="0.7" stroke-linejoin="round"/>
<path d="M1029.6,1374.9Q1030.2,1375.9 1028.9,1376.5Q1027.7,1377.1 1026.8,1377.6Q1025.8,1378.1 1024.3,1378.4Q1022.8,1378.7 1021.7,1377.8Q1020.5,1376.8 1019.5,1376.1Q1018.6,1375.3 1017.8,1374.3Q1017.0,1373.3 1017.3,1372.2Q1017.7,1371.1 1019.4,1370.8Q1021.1,1370.5 1022.8,1370.5Q1024.5,1370.4 1025.5,1371.5Q1026.6,1372.6 1027.8,1373.2Q1029.0,1373.9 1029.6,1374.9Z" fill="#868180" stroke="#57534f" stroke-width="0.9" stroke-linejoin="round"/>
<path d="M1020.8 1377.2h0m.7-3.3h0m2.5 .1h0m1.2 4.1h0" fill="none" stroke="#66625f" stroke-width="1.8" stroke-linecap="round" stroke-opacity="0.8"/>
<path d="M1027.8 1373.5h0m.8 1.4h0" fill="none" stroke="#a9a5a3" stroke-width="1.8" stroke-linecap="round" stroke-opacity="0.8"/>
<path d="M1064.4,1338.1Q1065.7,1339.9 1065.1,1342.1Q1064.5,1344.3 1062.6,1345.4Q1060.7,1346.5 1058.8,1347.9Q1056.9,1349.4 1055.4,1347.3Q1053.9,1345.2 1052.3,1344.3Q1050.7,1343.5 1050.7,1341.7Q1050.7,1339.9 1050.6,1338.1Q1050.6,1336.3 1051.4,1334.0Q1052.2,1331.8 1054.5,1331.3Q1056.9,1330.7 1058.5,1332.5Q1060.1,1334.3 1061.6,1335.3Q1063.1,1336.3 1064.4,1338.1Z" fill="#e4e0de" stroke="#cdc9c7" stroke-width="2.0" opacity="0.7" stroke-linejoin="round"/>
<path d="M1062.5,1338.4Q1062.5,1339.9 1062.9,1341.8Q1063.4,1343.6 1061.8,1344.6Q1060.3,1345.6 1058.6,1345.7Q1056.9,1345.8 1055.3,1345.6Q1053.6,1345.4 1051.7,1344.7Q1049.8,1344.0 1050.0,1341.9Q1050.2,1339.9 1050.3,1338.1Q1050.3,1336.2 1051.8,1335.0Q1053.2,1333.7 1055.0,1333.5Q1056.9,1333.2 1058.7,1333.6Q1060.5,1333.9 1061.5,1335.3Q1062.5,1336.8 1062.5,1338.4Z" fill="#c4c0be" stroke="#57534f" stroke-width="0.9" stroke-linejoin="round"/>
<path d="M1054.5 1341.2h0m3.7 4.2h0m.1-1.4h0m1.1-8.4h0" fill="none" stroke="#66625f" stroke-width="1.8" stroke-linecap="round" stroke-opacity="0.8"/>
<path d="M1051.9 1341.5h0m2.3 3.5h0m.4-2.8h0m.8-4.8h0m.2 4.8h0m4.3 1.7h0" fill="none" stroke="#a9a5a3" stroke-width="1.8" stroke-linecap="round" stroke-opacity="0.8"/>
<path d="M1074.0,1345.3Q1075.2,1347.1 1075.1,1349.6Q1075.1,1352.2 1073.4,1353.9Q1071.7,1355.5 1069.5,1354.8Q1067.3,1354.0 1065.1,1355.0Q1062.8,1356.0 1062.3,1353.4Q1061.8,1350.7 1061.2,1348.9Q1060.7,1347.1 1060.1,1344.5Q1059.5,1342.0 1062.0,1341.7Q1064.4,1341.4 1065.9,1340.4Q1067.3,1339.5 1069.3,1339.5Q1071.2,1339.6 1071.9,1341.6Q1072.7,1343.5 1074.0,1345.3Z" fill="#e4e0de" stroke="#cdc9c7" stroke-width="2.0" opacity="0.7" stroke-linejoin="round"/>
<path d="M1072.7,1345.4Q1072.8,1347.1 1073.1,1349.0Q1073.4,1351.0 1072.0,1352.1Q1070.6,1353.3 1069.0,1354.0Q1067.3,1354.7 1065.6,1354.2Q1063.8,1353.8 1062.4,1352.4Q1061.1,1351.1 1060.5,1349.1Q1060.0,1347.1 1060.6,1345.1Q1061.2,1343.1 1062.4,1341.5Q1063.5,1339.8 1065.4,1340.0Q1067.3,1340.3 1069.0,1340.4Q1070.7,1340.6 1071.7,1342.1Q1072.7,1343.7 1072.7,1345.4Z" fill="#c4c0be" stroke="#57534f" stroke-width="0.9" stroke-linejoin="round"/>
<path d="M1064.4 1346.9h0m1.5 1.6h0m0-4.3h0m.6-.9h0m.6 1.7h0m4.3 3.5h0m.2-2.4h0" fill="none" stroke="#66625f" stroke-width="1.8" stroke-linecap="round" stroke-opacity="0.8"/>
<path d="M1065.9 1341.8h0m4.5 7.5h0" fill="none" stroke="#a9a5a3" stroke-width="1.8" stroke-linecap="round" stroke-opacity="0.8"/>
<path d="M1147.7,1198.5Q1148.3,1199.8 1148.7,1201.3Q1149.1,1202.8 1146.2,1203.5Q1143.2,1204.2 1140.4,1205.2Q1137.7,1206.1 1134.0,1205.9Q1130.3,1205.7 1129.7,1203.9Q1129.2,1202.0 1127.8,1200.9Q1126.4,1199.8 1125.4,1198.0Q1124.4,1196.2 1128.2,1195.7Q1132.0,1195.2 1134.8,1194.5Q1137.7,1193.7 1141.3,1193.8Q1144.9,1194.0 1146.0,1195.6Q1147.0,1197.3 1147.7,1198.5Z" fill="#bdb8b6" stroke="#cdc9c7" stroke-width="2.0" opacity="0.7" stroke-linejoin="round"/>
<path d="M1149.1,1198.4Q1149.8,1199.8 1147.2,1200.7Q1144.6,1201.6 1143.6,1202.6Q1142.6,1203.6 1140.1,1203.7Q1137.7,1203.8 1135.2,1203.7Q1132.8,1203.6 1131.3,1202.7Q1129.8,1201.8 1129.7,1200.8Q1129.6,1199.8 1128.3,1198.4Q1127.1,1197.0 1130.1,1196.7Q1133.2,1196.3 1135.4,1195.6Q1137.7,1194.8 1140.4,1195.2Q1143.1,1195.5 1145.8,1196.2Q1148.5,1197.0 1149.1,1198.4Z" fill="#868180" stroke="#57534f" stroke-width="0.9" stroke-linejoin="round"/>
<path d="M1134.8 1196.2h0m.7 5.7h0m.5-.1h0m1.5-5.7h0m4.3 .9h0m2.4-.3h0m2.1 2.2h0" fill="none" stroke="#66625f" stroke-width="1.8" stroke-linecap="round" stroke-opacity="0.8"/>
<path d="M1130.8 1197h0m.3 5.1h0m6.8-3.7h0m2.1 .7h0" fill="none" stroke="#a9a5a3" stroke-width="1.8" stroke-linecap="round" stroke-opacity="0.8"/>
<path d="M1046.7,1310.1Q1046.6,1312.9 1046.7,1315.6Q1046.7,1318.3 1044.3,1319.5Q1041.8,1320.8 1039.9,1322.3Q1038.0,1323.9 1035.7,1323.2Q1033.3,1322.6 1030.6,1322.5Q1028.0,1322.3 1026.4,1320.2Q1024.8,1318.0 1025.3,1315.4Q1025.8,1312.9 1025.9,1310.6Q1026.0,1308.3 1027.6,1306.6Q1029.2,1305.0 1031.1,1303.3Q1032.9,1301.5 1035.5,1301.6Q1038.1,1301.6 1039.9,1303.4Q1041.6,1305.2 1044.2,1306.3Q1046.9,1307.4 1046.7,1310.1Z" fill="#b9a7a2" stroke="#cfc8c5" stroke-width="1.2" opacity="0.8"/>
<path d="M1045.0,1310.5Q1046.4,1312.9 1045.2,1315.3Q1044.1,1317.8 1042.3,1319.7Q1040.6,1321.6 1038.0,1322.1Q1035.5,1322.6 1033.0,1322.1Q1030.4,1321.7 1028.7,1319.7Q1027.0,1317.7 1026.4,1315.3Q1025.7,1312.9 1026.0,1310.2Q1026.4,1307.6 1028.6,1306.2Q1030.8,1304.8 1033.2,1304.0Q1035.5,1303.3 1038.1,1303.5Q1040.8,1303.8 1042.2,1306.0Q1043.7,1308.1 1045.0,1310.5Z" fill="#e0553a"/>
<path d="M1033.6 1315.4h0m1.3-1.1h0m1.1-1.3h0m.8 1.9h0m1.1 .1h0m2.6 .1h0" fill="none" stroke="#a8261a" stroke-width="2.0" stroke-linecap="round" stroke-opacity="0.7"/>
</g>
<g transform="translate(1022.2 1303.4) rotate(52)"><path d="M0,0 L-10.5,-6 L-10.5,-2.6 L-20.5,-2.6 L-20.5,2.6 L-10.5,2.6 L-10.5,6 Z" fill="#fff"/></g>
<rect x="963.80" y="1364.50" width="20.60" height="2.90" fill="#fff"/>
<rect x="1051.20" y="1359.10" width="95.20" height="17.90" fill="#000"/>
<text x="1098.8" y="1372.4" font-size="14.9" text-anchor="middle" fill="#fff" stroke="#fff" stroke-width="0.25">0d 18h 0m</text>
</g>
<rect x="1155.20" y="1185.80" width="192.00" height="191.20" fill="url(#tg)"/>
<g clip-path="url(#tc03)">
<g filter="url(#sf)">
<path d="M1194 1231.7h0m11.9 82.5h0m14.9-72.7h0m25.3 91.8h0m11.7-3.6h0m15.7-1.4h0m3.2 34.9h0m10.2-117.1h0m29 65.5h0" fill="none" stroke="#6f6b6a" stroke-width="2.0" stroke-linecap="round" stroke-opacity="0.6"/>
<circle cx="1342.8" cy="1286.8" r="3" fill="none" stroke="#9a9593" stroke-width="0.8"/>
<circle cx="1329.0" cy="1203.9" r="3" fill="none" stroke="#9a9593" stroke-width="0.8"/>
<circle cx="1294.1" cy="1236.5" r="3" fill="none" stroke="#9a9593" stroke-width="0.8"/>
<circle cx="1299.3" cy="1266.8" r="3" fill="none" stroke="#9a9593" stroke-width="0.8"/>
<polygon points="1188.2,1193.8 1200.2,1195.8 1197.2,1217.8" fill="none" stroke="#98938f" stroke-width="0.9"/>
<polyline points="1246.0,1311.4 1261.2,1323.3 1280.2,1316.2 1299.2,1304.3" fill="none" stroke="#c4c0be" stroke-width="2.4" stroke-linecap="round" stroke-linejoin="round" opacity="0.7"/>
<polyline points="1246.0,1311.4 1261.2,1323.3 1280.2,1316.2 1299.2,1304.3" fill="none" stroke="#5c5857" stroke-width="1.0" stroke-linecap="round" stroke-linejoin="round"/>
<polyline points="1261.2,1322.4 1273.1,1319.5 1287.3,1309.1" fill="none" stroke="#c4c0be" stroke-width="2.4" stroke-linecap="round" stroke-linejoin="round" opacity="0.7"/>
<polyline points="1261.2,1322.4 1273.1,1319.5 1287.3,1309.1" fill="none" stroke="#5c5857" stroke-width="1.0" stroke-linecap="round" stroke-linejoin="round"/>
<path d="M1245.2,1336.7Q1245.3,1340.2 1242.8,1342.6Q1240.3,1345.0 1237.6,1346.7Q1234.9,1348.4 1231.2,1350.9Q1227.4,1353.3 1223.2,1351.2Q1219.1,1349.1 1216.2,1346.4Q1213.3,1343.6 1214.8,1340.4Q1216.3,1337.2 1216.7,1334.5Q1217.1,1331.8 1218.6,1328.0Q1220.1,1324.1 1225.0,1326.2Q1229.9,1328.3 1234.1,1328.4Q1238.2,1328.5 1241.6,1330.9Q1245.0,1333.2 1245.2,1336.7Z" fill="#bdb8b6" stroke="#cdc9c7" stroke-width="2.0" opacity="0.7" stroke-linejoin="round"/>
<path d="M1241.9,1337.3Q1242.8,1339.9 1241.7,1342.5Q1240.7,1345.1 1238.5,1347.7Q1236.3,1350.4 1232.0,1350.4Q1227.7,1350.3 1224.9,1348.0Q1222.1,1345.7 1219.5,1344.0Q1216.8,1342.3 1216.2,1339.8Q1215.6,1337.2 1216.0,1334.4Q1216.4,1331.6 1219.4,1329.8Q1222.3,1328.0 1226.1,1328.7Q1229.8,1329.4 1233.6,1329.4Q1237.4,1329.5 1239.2,1332.1Q1240.9,1334.7 1241.9,1337.3Z" fill="#868180" stroke="#57534f" stroke-width="0.9" stroke-linejoin="round"/>
<path d="M1220.3 1341.6h0m1.8-3.7h0m.7 6.4h0m.2-7.1h0m.8 .5h0m.3 5.5h0m.5-13.3h0m1.8 8.8h0m.1 2.3h0m3.1 5.7h0m1.1-13.7h0m1.7-1.7h0m2.9 8.3h0m.1 1.6h0m4.6-4.5h0" fill="none" stroke="#66625f" stroke-width="1.8" stroke-linecap="round" stroke-opacity="0.8"/>
<path d="M1217.7 1338.4h0m1.3 2.8h0m.6-3.2h0m.3 4.3h0m.7-.1h0m.3-8.9h0m.4 10.8h0m.1-4.4h0m1.2-1h0m1.7-6.3h0m1.1 6.1h0m5.2-8.5h0m.5 13.7h0m.3 2.3h0m.4-.6h0m.3-1.4h0m5.8-7.7h0m.7 7.8h0" fill="none" stroke="#a9a5a3" stroke-width="1.8" stroke-linecap="round" stroke-opacity="0.8"/>
<path d="M1349.9,1196.3Q1350.1,1197.4 1350.0,1198.6Q1349.9,1199.7 1349.5,1201.1Q1349.1,1202.6 1347.9,1201.8Q1346.7,1201.1 1345.9,1201.0Q1345.1,1201.0 1344.1,1200.5Q1343.1,1200.0 1342.6,1198.7Q1342.1,1197.4 1342.3,1195.9Q1342.6,1194.4 1343.7,1193.9Q1344.9,1193.4 1345.8,1192.6Q1346.7,1191.9 1347.9,1192.0Q1349.1,1192.2 1349.4,1193.7Q1349.7,1195.3 1349.9,1196.3Z" fill="#bdb8b6" stroke="#cdc9c7" stroke-width="2.0" opacity="0.7" stroke-linejoin="round"/>
<path d="M1349.5,1196.4Q1349.5,1197.4 1349.4,1198.3Q1349.2,1199.2 1348.9,1200.3Q1348.6,1201.3 1347.7,1201.0Q1346.7,1200.7 1345.9,1200.8Q1345.0,1200.9 1344.2,1200.4Q1343.3,1199.8 1343.6,1198.6Q1343.9,1197.4 1343.8,1196.3Q1343.7,1195.3 1344.4,1194.6Q1345.1,1193.9 1345.9,1193.2Q1346.7,1192.5 1347.5,1193.2Q1348.4,1193.9 1349.0,1194.7Q1349.5,1195.4 1349.5,1196.4Z" fill="#868180" stroke="#57534f" stroke-width="0.9" stroke-linejoin="round"/>
<path d="M1348.7 1196.8h0m.1-1.2h0" fill="none" stroke="#66625f" stroke-width="1.8" stroke-linecap="round" stroke-opacity="0.8"/>
<path d="M1347.3 1195.3h0" fill="none" stroke="#a9a5a3" stroke-width="1.8" stroke-linecap="round" stroke-opacity="0.8"/>
<path d="M1245.9,1305.0Q1245.9,1307.6 1245.4,1310.0Q1245.0,1312.4 1243.4,1314.2Q1241.8,1316.0 1239.6,1317.0Q1237.4,1318.0 1234.9,1318.9Q1232.3,1319.8 1230.5,1317.7Q1228.7,1315.6 1226.5,1314.2Q1224.2,1312.9 1223.6,1310.2Q1223.0,1307.6 1223.4,1304.9Q1223.8,1302.2 1225.7,1300.3Q1227.6,1298.3 1229.9,1296.6Q1232.1,1294.9 1234.8,1295.9Q1237.5,1296.9 1239.5,1298.2Q1241.5,1299.5 1243.7,1301.0Q1245.9,1302.4 1245.9,1305.0Z" fill="#b9a7a2" stroke="#cfc8c5" stroke-width="1.2" opacity="0.8"/>
<path d="M1244.7,1304.9Q1245.0,1307.6 1245.0,1310.5Q1245.0,1313.4 1242.9,1315.4Q1240.7,1317.4 1237.9,1318.0Q1235.1,1318.5 1232.3,1317.9Q1229.5,1317.3 1228.0,1314.9Q1226.5,1312.6 1225.6,1310.1Q1224.6,1307.6 1225.4,1305.1Q1226.2,1302.5 1228.1,1300.7Q1230.0,1298.9 1232.5,1298.1Q1235.1,1297.4 1237.7,1298.0Q1240.3,1298.6 1242.3,1300.4Q1244.4,1302.2 1244.7,1304.9Z" fill="#e8452c"/>
<path d="M1231.6 1306.4h0m1.7 5.3h0m.3-4.9h0m0-4.7h0m4.8 6.1h0m.9 3.8h0" fill="none" stroke="#a8261a" stroke-width="2.0" stroke-linecap="round" stroke-opacity="0.7"/>
</g>
<g transform="translate(1224.1 1297.2) rotate(52)"><path d="M0,0 L-10.5,-6 L-10.5,-2.6 L-20.5,-2.6 L-20.5,2.6 L-10.5,2.6 L-10.5,6 Z" fill="#fff"/></g>
<rect x="1160.00" y="1364.50" width="20.60" height="2.90" fill="#fff"/>
<rect x="1246.20" y="1359.10" width="95.20" height="17.90" fill="#000"/>
<text x="1293.8" y="1372.4" font-size="14.9" text-anchor="middle" fill="#fff" stroke="#fff" stroke-width="0.25">0d 21h 0m</text>
</g>
<rect x="567.00" y="1381.30" width="191.20" height="191.20" fill="url(#tg)"/>
<g clip-path="url(#tc10)">
<g filter="url(#sf)">
<path d="M574 1431.7h0m93 100.7h0m14.2-118.8h0m6-22.7h0m12.5 139.9h0m4.8-124.3h0m4.8 33.4h0m19.9 15.7h0m24.9-24.8h0" fill="none" stroke="#6f6b6a" stroke-width="2.0" stroke-linecap="round" stroke-opacity="0.6"/>
<circle cx="718.8" cy="1447.6" r="3" fill="none" stroke="#9a9593" stroke-width="0.8"/>
<circle cx="657.7" cy="1531.2" r="3" fill="none" stroke="#9a9593" stroke-width="0.8"/>
<circle cx="615.0" cy="1474.2" r="3" fill="none" stroke="#9a9593" stroke-width="0.8"/>
<circle cx="688.1" cy="1544.1" r="3" fill="none" stroke="#9a9593" stroke-width="0.8"/>
<polygon points="597.0,1389.3 609.0,1391.3 606.0,1413.3" fill="none" stroke="#98938f" stroke-width="0.9"/>
<polyline points="671.1,1489.6 681.5,1490.6 688.7,1489.6" fill="none" stroke="#c4c0be" stroke-width="2.4" stroke-linecap="round" stroke-linejoin="round" opacity="0.7"/>
<polyline points="671.1,1489.6 681.5,1490.6 688.7,1489.6" fill="none" stroke="#5c5857" stroke-width="1.0" stroke-linecap="round" stroke-linejoin="round"/>
<polyline points="638.8,1540.9 655.4,1534.7" fill="none" stroke="#c4c0be" stroke-width="2.4" stroke-linecap="round" stroke-linejoin="round" opacity="0.7"/>
<polyline points="638.8,1540.9 655.4,1534.7" fill="none" stroke="#5c5857" stroke-width="1.0" stroke-linecap="round" stroke-linejoin="round"/>
<polyline points="683.9,1511.0 687.2,1503.9" fill="none" stroke="#c4c0be" stroke-width="2.4" stroke-linecap="round" stroke-linejoin="round" opacity="0.7"/>
<polyline points="683.9,1511.0 687.2,1503.9" fill="none" stroke="#5c5857" stroke-width="1.0" stroke-linecap="round" stroke-linejoin="round"/>
<path d="M689.1,1518.1Q690.5,1520.4 691.8,1523.4Q693.1,1526.3 688.3,1528.1Q683.6,1529.9 679.7,1530.9Q675.8,1532.0 671.2,1532.9Q666.6,1533.9 662.2,1532.8Q657.7,1531.6 655.9,1528.8Q654.1,1525.9 653.6,1522.4Q653.0,1518.9 659.3,1517.5Q665.6,1516.1 669.1,1513.7Q672.7,1511.4 677.5,1511.6Q682.2,1511.8 685.0,1513.8Q687.8,1515.9 689.1,1518.1Z" fill="#bdb8b6" stroke="#cdc9c7" stroke-width="2.0" opacity="0.7" stroke-linejoin="round"/>
<path d="M692.0,1517.4Q694.0,1519.9 690.2,1522.5Q686.5,1525.0 684.6,1527.0Q682.6,1529.0 679.1,1529.6Q675.5,1530.2 671.3,1531.6Q667.1,1533.0 663.6,1531.6Q660.1,1530.3 660.3,1527.6Q660.5,1525.0 658.5,1522.3Q656.6,1519.7 660.5,1517.6Q664.5,1515.4 668.8,1515.1Q673.2,1514.8 678.0,1513.1Q682.8,1511.4 686.4,1513.1Q690.0,1514.8 692.0,1517.4Z" fill="#868180" stroke="#57534f" stroke-width="0.9" stroke-linejoin="round"/>
<path d="M660.7 1522.2h0m2.5 3.7h0m1.2 1.2h0m4.3-11.2h0m.6 14.1h0m1.1 .9h0m2.1-2.6h0m.2-2h0m.7-5.6h0m.8 3.3h0m.1-1.2h0m1.8 .3h0m.5-7h0m1.7 5.9h0m2.4 6.4h0m.1-11h0m.9 10.3h0m2.7-1.4h0" fill="none" stroke="#66625f" stroke-width="1.8" stroke-linecap="round" stroke-opacity="0.8"/>
<path d="M660.4 1524.3h0m.5 1.6h0m.6-2.3h0m.9-2.3h0m3-1.1h0m.7 1.3h0m1.1-1.1h0m1 5.4h0m1.4 3.2h0m.2-.9h0m.5-10.3h0m1.5-.5h0m.1 7.6h0m2.4 4.2h0m1.5-11.6h0m.7 1.7h0m1.2-3.9h0m3.8 2.7h0" fill="none" stroke="#a9a5a3" stroke-width="1.8" stroke-linecap="round" stroke-opacity="0.8"/>
<path d="M610.9,1565.7Q611.0,1566.6 611.5,1567.6Q611.9,1568.7 610.9,1569.6Q610.0,1570.6 608.2,1570.2Q606.5,1569.7 604.8,1570.1Q603.2,1570.4 601.9,1569.6Q600.6,1568.8 599.9,1567.7Q599.2,1566.6 600.3,1565.6Q601.4,1564.6 602.4,1563.8Q603.4,1563.0 604.9,1563.1Q606.5,1563.1 608.1,1562.9Q609.8,1562.8 610.3,1563.8Q610.9,1564.9 610.9,1565.7Z" fill="#bdb8b6" stroke="#cdc9c7" stroke-width="2.0" opacity="0.7" stroke-linejoin="round"/>
<path d="M611.1,1565.8Q611.7,1566.6 611.3,1567.4Q611.0,1568.3 610.3,1569.1Q609.5,1570.0 608.0,1570.1Q606.5,1570.2 605.5,1569.5Q604.5,1568.8 603.7,1568.3Q602.9,1567.9 602.4,1567.2Q601.9,1566.6 602.2,1565.8Q602.4,1565.1 603.1,1564.3Q603.8,1563.5 605.1,1563.6Q606.5,1563.8 607.7,1563.7Q609.0,1563.7 609.8,1564.4Q610.6,1565.0 611.1,1565.8Z" fill="#868180" stroke="#57534f" stroke-width="0.9" stroke-linejoin="round"/>
<path d="M604.6 1565.1h0m.7 3.6h0" fill="none" stroke="#66625f" stroke-width="1.8" stroke-linecap="round" stroke-opacity="0.8"/>
<path d="M608 1566.4h0" fill="none" stroke="#a9a5a3" stroke-width="1.8" stroke-linecap="round" stroke-opacity="0.8"/>
<path d="M672.6,1484.3Q672.9,1487.2 672.5,1490.1Q672.1,1493.0 669.8,1494.7Q667.5,1496.4 665.3,1498.1Q663.0,1499.9 660.2,1499.6Q657.4,1499.3 655.4,1497.5Q653.4,1495.7 650.7,1494.4Q648.0,1493.1 648.3,1490.2Q648.6,1487.2 648.9,1484.6Q649.2,1481.9 650.6,1479.5Q652.0,1477.0 654.6,1475.5Q657.2,1474.0 660.2,1474.1Q663.2,1474.1 665.3,1476.1Q667.5,1478.0 669.9,1479.7Q672.3,1481.4 672.6,1484.3Z" fill="#b9a7a2" stroke="#cfc8c5" stroke-width="1.2" opacity="0.8"/>
<path d="M669.7,1484.7Q670.3,1487.2 670.0,1490.0Q669.7,1492.7 667.6,1494.7Q665.6,1496.6 662.9,1497.8Q660.2,1499.0 657.3,1498.0Q654.5,1497.1 652.4,1495.0Q650.4,1492.9 649.5,1490.0Q648.6,1487.2 649.8,1484.6Q651.0,1481.9 652.9,1479.9Q654.8,1477.9 657.5,1477.5Q660.2,1477.2 662.8,1477.6Q665.5,1478.0 667.3,1480.1Q669.1,1482.1 669.7,1484.7Z" fill="#ee3b1f"/>
<path d="M656.7 1488.4h0m1.6 1h0m1.1-1.9h0m.7-1.1h0m3.4-1.2h0m.6 7.1h0" fill="none" stroke="#a8261a" stroke-width="2.0" stroke-linecap="round" stroke-opacity="0.7"/>
</g>
<g transform="translate(647.3 1490.6) rotate(52)"><path d="M0,0 L-10.5,-6 L-10.5,-2.6 L-20.5,-2.6 L-20.5,2.6 L-10.5,2.6 L-10.5,6 Z" fill="#fff"/></g>
<rect x="571.80" y="1560.00" width="20.60" height="2.90" fill="#fff"/>
<rect x="659.20" y="1554.60" width="95.20" height="17.90" fill="#000"/>
<text x="706.8" y="1567.9" font-size="14.9" text-anchor="middle" fill="#fff" stroke="#fff" stroke-width="0.25">1d 0h 0m</text>
</g>
<rect x="762.60" y="1381.30" width="192.40" height="191.20" fill="url(#tg)"/>
<g clip-path="url(#tc11)">
<g filter="url(#sf)">
<path d="M774.6 1440.1h0m1.8 10.9h0m39.4 93.6h0m1.7-92h0m7.5 21.3h0m20.4-13.2h0m.9 67.2h0m31.3-54.9h0m10.8-38.8h0" fill="none" stroke="#6f6b6a" stroke-width="2.0" stroke-linecap="round" stroke-opacity="0.6"/>
<circle cx="868.5" cy="1418.5" r="3" fill="none" stroke="#9a9593" stroke-width="0.8"/>
<circle cx="881.3" cy="1484.4" r="3" fill="none" stroke="#9a9593" stroke-width="0.8"/>
<circle cx="888.4" cy="1548.6" r="3" fill="none" stroke="#9a9593" stroke-width="0.8"/>
<circle cx="915.6" cy="1570.3" r="3" fill="none" stroke="#9a9593" stroke-width="0.8"/>
<polygon points="795.6,1389.3 807.6,1391.3 804.6,1413.3" fill="none" stroke="#98938f" stroke-width="0.9"/>
<path d="M771.6,1540.1Q771.1,1543.2 771.3,1546.8Q771.5,1550.4 769.9,1551.5Q768.4,1552.6 767.2,1552.9Q766.0,1553.3 764.9,1552.7Q763.8,1552.2 762.6,1550.7Q761.3,1549.3 761.2,1545.8Q761.1,1542.2 762.0,1539.0Q762.9,1535.7 764.4,1534.8Q765.8,1533.9 766.9,1533.9Q768.0,1533.9 768.9,1534.4Q769.9,1534.8 771.0,1535.9Q772.2,1537.0 771.6,1540.1Z" fill="#bdb8b6" stroke="#cdc9c7" stroke-width="2.0" opacity="0.7" stroke-linejoin="round"/>
<path d="M771.7,1540.4Q771.5,1543.3 770.5,1545.0Q769.4,1546.8 768.7,1548.0Q768.0,1549.2 766.9,1551.9Q765.9,1554.7 765.2,1552.5Q764.4,1550.2 764.2,1548.2Q764.0,1546.2 763.5,1544.3Q763.1,1542.4 763.9,1540.6Q764.6,1538.7 765.2,1535.9Q765.7,1533.0 766.9,1533.1Q768.0,1533.1 769.1,1533.7Q770.1,1534.3 771.0,1535.9Q771.9,1537.5 771.7,1540.4Z" fill="#868180" stroke="#57534f" stroke-width="0.9" stroke-linejoin="round"/>
<path d="M765.6 1539.1h0m.1 4.7h0m4.4 .7h0m0-5.8h0m.4 .2h0" fill="none" stroke="#66625f" stroke-width="1.8" stroke-linecap="round" stroke-opacity="0.8"/>
<path d="M764.7 1541.8h0m.4-4.9h0m2.9 8.8h0m1.3-3.9h0" fill="none" stroke="#a9a5a3" stroke-width="1.8" stroke-linecap="round" stroke-opacity="0.8"/>
<path d="M868.0,1496.9Q868.0,1500.1 867.8,1503.1Q867.6,1506.2 865.3,1508.1Q862.9,1510.0 860.2,1510.4Q857.4,1510.9 854.8,1511.8Q852.1,1512.7 849.1,1511.9Q846.2,1511.0 845.0,1508.2Q843.7,1505.5 842.4,1502.8Q841.0,1500.1 842.3,1497.3Q843.6,1494.6 845.5,1492.5Q847.3,1490.5 849.8,1489.3Q852.2,1488.1 854.9,1488.3Q857.6,1488.6 860.3,1489.3Q862.9,1490.1 865.4,1491.9Q868.0,1493.8 868.0,1496.9Z" fill="#b9a7a2" stroke="#cfc8c5" stroke-width="1.2" opacity="0.8"/>
<path d="M865.5,1497.3Q866.6,1500.1 866.0,1503.1Q865.4,1506.1 862.8,1507.7Q860.3,1509.3 857.6,1510.2Q855.0,1511.2 852.1,1510.6Q849.2,1510.1 847.2,1507.9Q845.3,1505.6 845.0,1502.8Q844.7,1500.1 844.5,1497.0Q844.4,1493.9 847.0,1492.4Q849.7,1490.9 852.3,1489.6Q855.0,1488.3 858.1,1488.8Q861.2,1489.2 862.8,1491.9Q864.4,1494.6 865.5,1497.3Z" fill="#ee3b1f"/>
<path d="M848.5 1498.3h0m4-2.5h0m2.2 6.5h0m.5-2.2h0m.8 1.3h0m.5-2.5h0" fill="none" stroke="#a8261a" stroke-width="2.0" stroke-linecap="round" stroke-opacity="0.7"/>
</g>
<g transform="translate(840.7 1492.9) rotate(52)"><path d="M0,0 L-10.5,-6 L-10.5,-2.6 L-20.5,-2.6 L-20.5,2.6 L-10.5,2.6 L-10.5,6 Z" fill="#fff"/></g>
<rect x="767.40" y="1560.00" width="20.60" height="2.90" fill="#fff"/>
<rect x="854.80" y="1554.60" width="95.20" height="17.90" fill="#000"/>
<text x="902.4" y="1567.9" font-size="14.9" text-anchor="middle" fill="#fff" stroke="#fff" stroke-width="0.25">1d 3h 0m</text>
</g>
<rect x="959.00" y="1381.30" width="192.00" height="191.20" fill="url(#tg)"/>
<g clip-path="url(#tc12)">
<g filter="url(#sf)">
<path d="M964.3 1405.6h0m1.5 74.2h0m12.6 2.3h0m1.7-38.8h0m21.4-49.3h0m47.2 41.7h0m43.7 34.9h0m12.3 86.3h0m42.9-169.3h0" fill="none" stroke="#6f6b6a" stroke-width="2.0" stroke-linecap="round" stroke-opacity="0.6"/>
<circle cx="1096.6" cy="1468.5" r="3" fill="none" stroke="#9a9593" stroke-width="0.8"/>
<circle cx="1071.8" cy="1439.6" r="3" fill="none" stroke="#9a9593" stroke-width="0.8"/>
<circle cx="1147.3" cy="1535.7" r="3" fill="none" stroke="#9a9593" stroke-width="0.8"/>
<circle cx="1036.7" cy="1463.8" r="3" fill="none" stroke="#9a9593" stroke-width="0.8"/>
<polygon points="989.0,1389.3 1001.0,1391.3 998.0,1413.3" fill="none" stroke="#98938f" stroke-width="0.9"/>
<path d="M1062.5,1493.1Q1064.0,1495.8 1062.1,1498.3Q1060.2,1500.8 1059.4,1503.8Q1058.6,1506.8 1055.6,1507.7Q1052.7,1508.6 1049.8,1508.6Q1046.9,1508.5 1044.3,1507.2Q1041.7,1505.9 1039.8,1503.7Q1038.0,1501.5 1038.2,1498.6Q1038.5,1495.8 1038.8,1493.2Q1039.1,1490.6 1040.6,1488.4Q1042.1,1486.2 1044.6,1485.3Q1047.1,1484.3 1049.7,1484.5Q1052.3,1484.8 1055.2,1485.0Q1058.2,1485.2 1059.6,1487.8Q1061.0,1490.4 1062.5,1493.1Z" fill="#b9a7a2" stroke="#cfc8c5" stroke-width="1.2" opacity="0.8"/>
<path d="M1060.4,1493.1Q1061.7,1495.8 1060.6,1498.6Q1059.4,1501.4 1057.7,1503.9Q1056.0,1506.5 1052.9,1506.6Q1049.8,1506.6 1046.9,1506.1Q1044.1,1505.7 1042.0,1503.5Q1040.0,1501.4 1038.9,1498.6Q1037.7,1495.8 1039.2,1493.1Q1040.6,1490.5 1042.3,1488.2Q1044.0,1485.8 1046.9,1485.1Q1049.8,1484.5 1052.7,1485.1Q1055.6,1485.7 1057.4,1488.0Q1059.1,1490.4 1060.4,1493.1Z" fill="#ee3b1f"/>
<path d="M1043.3 1494h0m6.5 1.8h0m.1-5.4h0m2.8 7h0m.1-2.3h0m2.3 4.7h0" fill="none" stroke="#a8261a" stroke-width="2.0" stroke-linecap="round" stroke-opacity="0.7"/>
</g>
<g transform="translate(1041.7 1488.7) rotate(52)"><path d="M0,0 L-10.5,-6 L-10.5,-2.6 L-20.5,-2.6 L-20.5,2.6 L-10.5,2.6 L-10.5,6 Z" fill="#fff"/></g>
<rect x="963.80" y="1560.00" width="20.60" height="2.90" fill="#fff"/>
<rect x="1051.20" y="1554.60" width="95.20" height="17.90" fill="#000"/>
<text x="1098.8" y="1567.9" font-size="14.9" text-anchor="middle" fill="#fff" stroke="#fff" stroke-width="0.25">1d 6h 0m</text>
</g>
<rect x="1155.20" y="1381.30" width="192.00" height="191.20" fill="url(#tg)"/>
<g clip-path="url(#tc13)">
<g filter="url(#sf)">
<path d="M1156.4 1534.6h0m21-38h0m6.3-96.2h0m13 144.7h0m2.5 12.1h0m10.1-4h0m46-114.9h0m16.5 30.7h0m9.9 13h0" fill="none" stroke="#6f6b6a" stroke-width="2.0" stroke-linecap="round" stroke-opacity="0.6"/>
<circle cx="1319.9" cy="1565.0" r="3" fill="none" stroke="#9a9593" stroke-width="0.8"/>
<circle cx="1268.4" cy="1558.1" r="3" fill="none" stroke="#9a9593" stroke-width="0.8"/>
<circle cx="1327.0" cy="1508.7" r="3" fill="none" stroke="#9a9593" stroke-width="0.8"/>
<circle cx="1220.2" cy="1496.7" r="3" fill="none" stroke="#9a9593" stroke-width="0.8"/>
<polygon points="1188.2,1389.3 1200.2,1391.3 1197.2,1413.3" fill="none" stroke="#98938f" stroke-width="0.9"/>
<polyline points="1173.3,1506.2 1185.2,1502.9 1199.4,1507.7 1211.3,1513.4" fill="none" stroke="#c4c0be" stroke-width="2.4" stroke-linecap="round" stroke-linejoin="round" opacity="0.7"/>
<polyline points="1173.3,1506.2 1185.2,1502.9 1199.4,1507.7 1211.3,1513.4" fill="none" stroke="#5c5857" stroke-width="1.0" stroke-linecap="round" stroke-linejoin="round"/>
<polyline points="1185.2,1502.9 1189.9,1498.2" fill="none" stroke="#c4c0be" stroke-width="2.4" stroke-linecap="round" stroke-linejoin="round" opacity="0.7"/>
<polyline points="1185.2,1502.9 1189.9,1498.2" fill="none" stroke="#5c5857" stroke-width="1.0" stroke-linecap="round" stroke-linejoin="round"/>
<path d="M1211.7,1533.2Q1211.6,1535.6 1211.2,1538.7Q1210.7,1541.8 1208.2,1542.6Q1205.6,1543.5 1203.0,1544.4Q1200.5,1545.4 1198.2,1543.8Q1195.9,1542.3 1195.1,1539.4Q1194.3,1536.5 1195.9,1533.9Q1197.4,1531.2 1198.3,1529.0Q1199.2,1526.8 1201.1,1526.3Q1203.1,1525.7 1205.0,1525.0Q1207.0,1524.3 1208.3,1525.8Q1209.6,1527.3 1210.7,1529.1Q1211.8,1530.8 1211.7,1533.2Z" fill="#bdb8b6" stroke="#cdc9c7" stroke-width="2.0" opacity="0.7" stroke-linejoin="round"/>
<path d="M1211.1,1533.6Q1212.2,1535.8 1210.2,1537.0Q1208.1,1538.2 1206.9,1540.8Q1205.7,1543.4 1203.4,1543.4Q1201.0,1543.5 1199.3,1541.9Q1197.6,1540.3 1197.7,1537.8Q1197.8,1535.3 1197.8,1533.3Q1197.9,1531.4 1198.7,1529.4Q1199.5,1527.4 1201.2,1525.9Q1202.8,1524.5 1205.1,1523.8Q1207.3,1523.1 1207.9,1525.9Q1208.6,1528.6 1209.3,1530.1Q1210.0,1531.5 1211.1,1533.6Z" fill="#868180" stroke="#57534f" stroke-width="0.9" stroke-linejoin="round"/>
<path d="M1197.7 1533.5h0m.3 2.3h0m6.4 5.1h0m2-5.8h0m.4-2.9h0m2.9-2.2h0" fill="none" stroke="#66625f" stroke-width="1.8" stroke-linecap="round" stroke-opacity="0.8"/>
<path d="M1199.8 1534.8h0m1.3-7h0m.7 7.5h0m.7-.3h0m.3 2.4h0m.1-.2h0m2-4.8h0m1 6.5h0" fill="none" stroke="#a9a5a3" stroke-width="1.8" stroke-linecap="round" stroke-opacity="0.8"/>
<path d="M1219.5,1516.8Q1219.8,1518.1 1219.1,1519.2Q1218.5,1520.2 1218.3,1521.7Q1218.0,1523.2 1217.0,1522.9Q1216.1,1522.5 1215.3,1522.2Q1214.6,1521.9 1214.1,1521.1Q1213.6,1520.3 1212.5,1519.2Q1211.3,1518.1 1212.4,1517.0Q1213.5,1515.9 1213.8,1514.6Q1214.2,1513.2 1215.1,1512.3Q1216.1,1511.4 1216.9,1512.7Q1217.6,1514.0 1218.4,1514.7Q1219.2,1515.4 1219.5,1516.8Z" fill="#bdb8b6" stroke="#cdc9c7" stroke-width="2.0" opacity="0.7" stroke-linejoin="round"/>
<path d="M1219.7,1516.6Q1219.8,1518.1 1219.4,1519.3Q1219.0,1520.6 1218.2,1521.1Q1217.4,1521.6 1216.8,1522.3Q1216.1,1523.0 1215.0,1523.1Q1214.0,1523.3 1213.4,1522.1Q1212.8,1520.9 1212.4,1519.5Q1212.0,1518.1 1213.0,1517.2Q1213.9,1516.3 1214.3,1515.6Q1214.8,1514.9 1215.4,1514.1Q1216.1,1513.3 1216.7,1514.1Q1217.3,1515.0 1218.4,1515.1Q1219.5,1515.2 1219.7,1516.6Z" fill="#868180" stroke="#57534f" stroke-width="0.9" stroke-linejoin="round"/>
<path d="M1213.8 1519.3h0m0 .5h0" fill="none" stroke="#66625f" stroke-width="1.8" stroke-linecap="round" stroke-opacity="0.8"/>
<path d="M1215.5 1521.2h0" fill="none" stroke="#a9a5a3" stroke-width="1.8" stroke-linecap="round" stroke-opacity="0.8"/>
<path d="M1262.8,1456.4Q1262.4,1459.2 1262.8,1462.0Q1263.3,1464.8 1261.0,1466.4Q1258.7,1468.0 1256.7,1470.0Q1254.6,1471.9 1251.9,1471.0Q1249.2,1470.0 1246.5,1469.6Q1243.7,1469.2 1243.0,1466.5Q1242.3,1463.7 1240.8,1461.5Q1239.4,1459.2 1239.6,1456.3Q1239.8,1453.5 1242.0,1451.6Q1244.1,1449.7 1246.6,1448.9Q1249.2,1448.1 1251.9,1447.2Q1254.7,1446.2 1257.3,1447.5Q1259.9,1448.8 1261.6,1451.3Q1263.2,1453.7 1262.8,1456.4Z" fill="#b9a7a2" stroke="#cfc8c5" stroke-width="1.2" opacity="0.8"/>
<path d="M1260.8,1456.8Q1261.6,1459.2 1260.8,1461.6Q1260.0,1464.0 1258.5,1466.2Q1257.0,1468.5 1254.4,1468.7Q1251.7,1468.9 1249.3,1468.2Q1246.9,1467.5 1244.7,1466.0Q1242.5,1464.5 1241.4,1461.8Q1240.3,1459.2 1241.7,1456.7Q1243.1,1454.2 1244.6,1451.9Q1246.1,1449.6 1248.9,1448.7Q1251.7,1447.8 1254.5,1448.6Q1257.4,1449.3 1258.7,1451.9Q1260.0,1454.4 1260.8,1456.8Z" fill="#ee3b1f"/>
<path d="M1248 1463h0m4.2-3.4h0m.5-.6h0m.9 4.2h0m0-.9h0m2.1 1.4h0" fill="none" stroke="#a8261a" stroke-width="2.0" stroke-linecap="round" stroke-opacity="0.7"/>
</g>
<g transform="translate(1246.0 1436.4) rotate(52)"><path d="M0,0 L-10.5,-6 L-10.5,-2.6 L-20.5,-2.6 L-20.5,2.6 L-10.5,2.6 L-10.5,6 Z" fill="#fff"/></g>
<rect x="1160.00" y="1560.00" width="20.60" height="2.90" fill="#fff"/>
<rect x="1246.20" y="1554.60" width="95.20" height="17.90" fill="#000"/>
<text x="1293.8" y="1567.9" font-size="14.9" text-anchor="middle" fill="#fff" stroke="#fff" stroke-width="0.25">1d 9h 0m</text>
</g>
<polygon points="1471.1,1529.1 1486.9,1526.0 1502.8,1527.0 1518.6,1523.0 1534.4,1516.6 1550.3,1507.5 1566.1,1503.0 1581.9,1492.1 1597.7,1499.8 1613.6,1494.4 1629.4,1490.7 1645.2,1491.4 1661.1,1489.8 1676.9,1496.7 1692.7,1491.2 1708.6,1489.6 1724.4,1494.0 1740.2,1495.3 1756.1,1489.8 1771.9,1489.9 1787.7,1489.7 1803.6,1491.1 1819.4,1486.6 1835.2,1491.4 1851.0,1482.5 1866.9,1476.7 1882.7,1481.2 1898.5,1474.3 1914.4,1470.6 1930.2,1469.2 1946.0,1454.3 1961.9,1446.3 1977.7,1440.7 1977.7,1465.0 1961.9,1498.5 1946.0,1488.3 1930.2,1488.8 1914.4,1490.7 1898.5,1494.4 1882.7,1500.9 1866.9,1504.5 1851.0,1504.4 1835.2,1512.7 1819.4,1509.8 1803.6,1512.1 1787.7,1519.5 1771.9,1527.7 1756.1,1525.4 1740.2,1515.9 1724.4,1517.7 1708.6,1517.0 1692.7,1519.7 1676.9,1521.2 1661.1,1528.0 1645.2,1526.6 1629.4,1526.2 1613.6,1516.7 1597.7,1516.2 1581.9,1526.2 1566.1,1525.4 1550.3,1532.4 1534.4,1532.1 1518.6,1533.4 1502.8,1537.7 1486.9,1544.8 1471.1,1542.3" fill="#d6d6d6"/>
<polyline points="1471.1,1535.3 1486.9,1534.5 1502.8,1532.8 1518.6,1528.7 1534.4,1525.3 1550.3,1521.1 1566.1,1514.5 1581.9,1508.6 1597.7,1508.6 1613.6,1504.4 1629.4,1506.9 1645.2,1507.8 1661.1,1507.4 1676.9,1507.8 1692.7,1504.4 1708.6,1503.6 1724.4,1506.1 1740.2,1506.9 1756.1,1506.1 1771.9,1507.8 1787.7,1503.6 1803.6,1501.1 1819.4,1499.4 1835.2,1501.9 1851.0,1493.6 1866.9,1491.1 1882.7,1491.1 1898.5,1485.2 1914.4,1481.1 1930.2,1478.5 1946.0,1471.9 1961.9,1469.4 1977.7,1454.3" fill="none" stroke="#000" stroke-width="8.0" stroke-linejoin="round" stroke-linecap="round"/>
<path d="M1471.1 1535.3h0m15.8-.8h0m15.9-1.7h0m15.8-4.1h0m15.8-3.4h0m15.9-4.2h0m15.8-6.6h0m15.8-5.9h0m15.8 0h0m15.9-4.2h0m15.8 2.5h0m15.8 .9h0m15.9-.4h0m15.8 .4h0m15.8-3.4h0m15.9-.8h0m15.8 2.5h0m15.8 .8h0m15.9-.8h0m15.8 1.7h0m15.8-4.2h0m15.9-2.5h0m15.8-1.7h0m15.8 2.5h0m15.8-8.3h0m15.9-2.5h0m15.8 0h0m15.8-5.9h0m15.9-4.1h0m15.8-2.6h0m15.8-6.6h0m15.9-2.5h0m15.8-15.1h0" fill="none" stroke="#000" stroke-width="9.5" stroke-linecap="round"/>
<path d="M1471.1 1535.3h0m15.8-.8h0m15.9-1.7h0m15.8-4.1h0m15.8-3.4h0m15.9-4.2h0m15.8-6.6h0m15.8-5.9h0m15.8 0h0m15.9-4.2h0m15.8 2.5h0m15.8 .9h0m15.9-.4h0m15.8 .4h0m15.8-3.4h0m15.9-.8h0m15.8 2.5h0m15.8 .8h0m15.9-.8h0m15.8 1.7h0m15.8-4.2h0m15.9-2.5h0m15.8-1.7h0m15.8 2.5h0m15.8-8.3h0m15.9-2.5h0m15.8 0h0m15.8-5.9h0m15.9-4.1h0m15.8-2.6h0m15.8-6.6h0m15.9-2.5h0m15.8-15.1h0" fill="none" stroke="#fff" stroke-width="3.3" stroke-linecap="round"/>
<polygon points="1471.1,1535.2 1486.9,1533.4 1502.8,1532.4 1518.6,1529.1 1534.4,1526.5 1550.3,1521.7 1566.1,1519.3 1581.9,1512.1 1597.7,1513.2 1613.6,1510.9 1629.4,1511.9 1645.2,1510.9 1661.1,1510.1 1676.9,1508.5 1692.7,1502.8 1708.6,1500.2 1724.4,1500.1 1740.2,1498.3 1756.1,1496.8 1771.9,1492.5 1787.7,1480.9 1803.6,1465.5 1819.4,1454.7 1835.2,1439.0 1851.0,1419.9 1866.9,1412.0 1882.7,1396.9 1898.5,1386.6 1914.4,1367.9 1930.2,1358.3 1946.0,1315.0 1961.9,1291.1 1977.7,1251.0 1977.7,1301.0 1961.9,1338.8 1946.0,1362.3 1930.2,1402.8 1914.4,1412.8 1898.5,1423.4 1882.7,1437.9 1866.9,1440.2 1851.0,1459.8 1835.2,1470.4 1819.4,1484.8 1803.6,1491.3 1787.7,1496.3 1771.9,1500.2 1756.1,1502.3 1740.2,1503.3 1724.4,1506.1 1708.6,1506.8 1692.7,1509.3 1676.9,1511.7 1661.1,1513.6 1645.2,1514.9 1629.4,1517.3 1613.6,1515.8 1597.7,1517.8 1581.9,1518.2 1566.1,1522.7 1550.3,1526.8 1534.4,1531.0 1518.6,1535.2 1502.8,1536.3 1486.9,1539.7 1471.1,1539.0" fill="#a5d6a8"/>
<polyline points="1471.1,1537.0 1486.9,1536.2 1502.8,1534.5 1518.6,1532.0 1534.4,1528.7 1550.3,1524.1 1566.1,1521.1 1581.9,1515.3 1597.7,1515.3 1613.6,1513.6 1629.4,1514.5 1645.2,1512.8 1661.1,1512.0 1676.9,1510.3 1692.7,1506.1 1708.6,1503.6 1724.4,1502.8 1740.2,1501.1 1756.1,1499.4 1771.9,1496.9 1787.7,1488.6 1803.6,1478.5 1819.4,1468.5 1835.2,1456.8 1851.0,1442.6 1866.9,1428.5 1882.7,1420.1 1898.5,1407.6 1914.4,1389.2 1930.2,1380.9 1946.0,1339.1 1961.9,1318.2 1977.7,1278.2" fill="none" stroke="#0aa84f" stroke-width="8.0" stroke-linejoin="round" stroke-linecap="round"/>
<path d="M1471.1 1537h0m15.8-.8h0m15.9-1.7h0m15.8-2.5h0m15.8-3.3h0m15.9-4.6h0m15.8-3h0m15.8-5.8h0m15.8 0h0m15.9-1.7h0m15.8 .9h0m15.8-1.7h0m15.9-.8h0m15.8-1.7h0m15.8-4.2h0m15.9-2.5h0m15.8-.8h0m15.8-1.7h0m15.9-1.7h0m15.8-2.5h0m15.8-8.3h0m15.9-10.1h0m15.8-10h0m15.8-11.7h0m15.8-14.2h0m15.9-14.1h0m15.8-8.4h0m15.8-12.5h0m15.9-18.4h0m15.8-8.3h0m15.8-41.8h0m15.9-20.9h0m15.8-40h0" fill="none" stroke="#0aa84f" stroke-width="9.5" stroke-linecap="round"/>
<path d="M1471.1 1537h0m15.8-.8h0m15.9-1.7h0m15.8-2.5h0m15.8-3.3h0m15.9-4.6h0m15.8-3h0m15.8-5.8h0m15.8 0h0m15.9-1.7h0m15.8 .9h0m15.8-1.7h0m15.9-.8h0m15.8-1.7h0m15.8-4.2h0m15.9-2.5h0m15.8-.8h0m15.8-1.7h0m15.9-1.7h0m15.8-2.5h0m15.8-8.3h0m15.9-10.1h0m15.8-10h0m15.8-11.7h0m15.8-14.2h0m15.9-14.1h0m15.8-8.4h0m15.8-12.5h0m15.9-18.4h0m15.8-8.3h0m15.8-41.8h0m15.9-20.9h0m15.8-40h0" fill="none" stroke="#fff" stroke-width="3.3" stroke-linecap="round"/>
<polygon points="1471.1,1537.9 1486.9,1539.1 1502.8,1536.1 1518.6,1535.5 1534.4,1532.2 1550.3,1531.6 1566.1,1527.4 1581.9,1518.2 1597.7,1517.2 1613.6,1514.8 1629.4,1517.1 1645.2,1515.8 1661.1,1514.6 1676.9,1513.5 1692.7,1509.3 1708.6,1505.8 1724.4,1503.0 1740.2,1500.3 1756.1,1496.1 1771.9,1491.6 1787.7,1480.7 1803.6,1458.6 1819.4,1439.9 1835.2,1433.4 1851.0,1409.3 1866.9,1394.6 1882.7,1380.2 1898.5,1357.1 1914.4,1350.7 1930.2,1318.2 1946.0,1275.9 1961.9,1262.6 1977.7,1193.9 1977.7,1286.4 1961.9,1311.6 1946.0,1343.7 1930.2,1376.7 1914.4,1387.1 1898.5,1413.7 1882.7,1419.1 1866.9,1436.0 1851.0,1451.6 1835.2,1456.6 1819.4,1478.5 1803.6,1486.7 1787.7,1486.8 1771.9,1496.0 1756.1,1499.1 1740.2,1505.9 1724.4,1510.2 1708.6,1511.2 1692.7,1515.3 1676.9,1518.5 1661.1,1518.7 1645.2,1519.8 1629.4,1523.6 1613.6,1520.3 1597.7,1524.1 1581.9,1522.0 1566.1,1532.8 1550.3,1535.5 1534.4,1539.4 1518.6,1542.2 1502.8,1541.9 1486.9,1544.3 1471.1,1543.5" fill="#9da3d4"/>
<polyline points="1471.1,1541.2 1486.9,1542.0 1502.8,1539.5 1518.6,1538.7 1534.4,1535.3 1550.3,1533.7 1566.1,1530.3 1581.9,1520.3 1597.7,1520.3 1613.6,1517.8 1629.4,1520.3 1645.2,1517.8 1661.1,1517.0 1676.9,1516.1 1692.7,1512.0 1708.6,1508.6 1724.4,1506.1 1740.2,1502.8 1756.1,1497.8 1771.9,1493.6 1787.7,1483.6 1803.6,1472.7 1819.4,1461.9 1835.2,1446.8 1851.0,1428.5 1866.9,1415.9 1882.7,1401.7 1898.5,1386.7 1914.4,1370.0 1930.2,1349.1 1946.0,1311.6 1961.9,1290.7 1977.7,1236.4" fill="none" stroke="#3f58a8" stroke-width="8.0" stroke-linejoin="round" stroke-linecap="round"/>
<path d="M1471.1 1541.2h0m15.8 .8h0m15.9-2.5h0m15.8-.8h0m15.8-3.4h0m15.9-1.6h0m15.8-3.4h0m15.8-10h0m15.8 0h0m15.9-2.5h0m15.8 2.5h0m15.8-2.5h0m15.9-.8h0m15.8-.9h0m15.8-4.1h0m15.9-3.4h0m15.8-2.5h0m15.8-3.3h0m15.9-5h0m15.8-4.2h0m15.8-10h0m15.9-10.9h0m15.8-10.8h0m15.8-15.1h0m15.8-18.3h0m15.9-12.6h0m15.8-14.2h0m15.8-15h0m15.9-16.7h0m15.8-20.9h0m15.8-37.5h0m15.9-20.9h0m15.8-54.3h0" fill="none" stroke="#3f58a8" stroke-width="9.5" stroke-linecap="round"/>
<path d="M1471.1 1541.2h0m15.8 .8h0m15.9-2.5h0m15.8-.8h0m15.8-3.4h0m15.9-1.6h0m15.8-3.4h0m15.8-10h0m15.8 0h0m15.9-2.5h0m15.8 2.5h0m15.8-2.5h0m15.9-.8h0m15.8-.9h0m15.8-4.1h0m15.9-3.4h0m15.8-2.5h0m15.8-3.3h0m15.9-5h0m15.8-4.2h0m15.8-10h0m15.9-10.9h0m15.8-10.8h0m15.8-15.1h0m15.8-18.3h0m15.9-12.6h0m15.8-14.2h0m15.8-15h0m15.9-16.7h0m15.8-20.9h0m15.8-37.5h0m15.9-20.9h0m15.8-54.3h0" fill="none" stroke="#fff" stroke-width="3.3" stroke-linecap="round"/>
<polygon points="1471.1,1536.4 1486.9,1537.1 1502.8,1534.7 1518.6,1534.1 1534.4,1530.3 1550.3,1528.9 1566.1,1524.5 1581.9,1508.5 1597.7,1509.5 1613.6,1504.3 1629.4,1498.4 1645.2,1491.6 1661.1,1487.0 1676.9,1490.0 1692.7,1476.6 1708.6,1471.4 1724.4,1474.6 1740.2,1457.8 1756.1,1459.1 1771.9,1462.7 1787.7,1452.8 1803.6,1444.2 1819.4,1431.1 1835.2,1410.7 1851.0,1389.8 1866.9,1384.4 1882.7,1372.9 1898.5,1361.7 1914.4,1346.1 1930.2,1324.6 1946.0,1278.3 1961.9,1257.5 1977.7,1201.1 1977.7,1266.9 1961.9,1295.5 1946.0,1323.4 1930.2,1360.8 1914.4,1376.3 1898.5,1384.0 1882.7,1412.2 1866.9,1426.8 1851.0,1435.0 1835.2,1452.8 1819.4,1463.7 1803.6,1468.3 1787.7,1475.6 1771.9,1482.2 1756.1,1491.5 1740.2,1497.0 1724.4,1494.4 1708.6,1504.7 1692.7,1500.0 1676.9,1514.1 1661.1,1507.3 1645.2,1518.9 1629.4,1516.1 1613.6,1510.7 1597.7,1514.1 1581.9,1515.4 1566.1,1530.0 1550.3,1532.9 1534.4,1533.4 1518.6,1538.4 1502.8,1539.6 1486.9,1541.8 1471.1,1540.9" fill="#f5977a"/>
<polyline points="1471.1,1538.7 1486.9,1539.5 1502.8,1537.0 1518.6,1536.2 1534.4,1532.0 1550.3,1531.2 1566.1,1527.4 1581.9,1511.5 1597.7,1511.5 1613.6,1507.4 1629.4,1507.4 1645.2,1506.1 1661.1,1497.8 1676.9,1501.1 1692.7,1488.6 1708.6,1486.1 1724.4,1486.1 1740.2,1475.6 1756.1,1475.2 1771.9,1473.5 1787.7,1464.4 1803.6,1455.6 1819.4,1450.2 1835.2,1431.8 1851.0,1412.6 1866.9,1405.9 1882.7,1392.5 1898.5,1374.2 1914.4,1361.7 1930.2,1342.4 1946.0,1301.5 1961.9,1276.5 1977.7,1231.4" fill="none" stroke="#ed1c24" stroke-width="8.0" stroke-linejoin="round" stroke-linecap="round"/>
<path d="M1471.1 1538.7h0m15.8 .8h0m15.9-2.5h0m15.8-.8h0m15.8-4.2h0m15.9-.8h0m15.8-3.8h0m15.8-15.9h0m15.8 0h0m15.9-4.1h0m15.8 0h0m15.8-1.3h0m15.9-8.3h0m15.8 3.3h0m15.8-12.5h0m15.9-2.5h0m15.8 0h0m15.8-10.5h0m15.9-.4h0m15.8-1.7h0m15.8-9.1h0m15.9-8.8h0m15.8-5.4h0m15.8-18.4h0m15.8-19.2h0m15.9-6.7h0m15.8-13.4h0m15.8-18.3h0m15.9-12.5h0m15.8-19.3h0m15.8-40.9h0m15.9-25h0m15.8-45.1h0" fill="none" stroke="#ed1c24" stroke-width="9.5" stroke-linecap="round"/>
<path d="M1471.1 1538.7h0m15.8 .8h0m15.9-2.5h0m15.8-.8h0m15.8-4.2h0m15.9-.8h0m15.8-3.8h0m15.8-15.9h0m15.8 0h0m15.9-4.1h0m15.8 0h0m15.8-1.3h0m15.9-8.3h0m15.8 3.3h0m15.8-12.5h0m15.9-2.5h0m15.8 0h0m15.8-10.5h0m15.9-.4h0m15.8-1.7h0m15.8-9.1h0m15.9-8.8h0m15.8-5.4h0m15.8-18.4h0m15.8-19.2h0m15.9-6.7h0m15.8-13.4h0m15.8-18.3h0m15.9-12.5h0m15.8-19.3h0m15.8-40.9h0m15.9-25h0m15.8-45.1h0" fill="none" stroke="#fff" stroke-width="3.3" stroke-linecap="round"/>
<rect x="1460.60" y="1176.00" width="6.40" height="381.00" fill="#000"/>
<rect x="1454.90" y="1550.50" width="532.40" height="6.60" fill="#000"/>
<rect x="1454.90" y="1550.90" width="8.00" height="5.60" fill="#000"/>
<text x="1436" y="1562.9" font-size="30.6" text-anchor="end" letter-spacing="-0.6">0</text>
<rect x="1454.90" y="1509.15" width="8.00" height="5.60" fill="#000"/>
<text x="1436" y="1521.2" font-size="30.6" text-anchor="end" letter-spacing="-0.6">5</text>
<rect x="1454.90" y="1467.40" width="8.00" height="5.60" fill="#000"/>
<text x="1436" y="1479.4" font-size="30.6" text-anchor="end" letter-spacing="-0.6">10</text>
<rect x="1454.90" y="1425.65" width="8.00" height="5.60" fill="#000"/>
<text x="1436" y="1437.7" font-size="30.6" text-anchor="end" letter-spacing="-0.6">15</text>
<rect x="1454.90" y="1383.90" width="8.00" height="5.60" fill="#000"/>
<text x="1436" y="1395.9" font-size="30.6" text-anchor="end" letter-spacing="-0.6">20</text>
<rect x="1454.90" y="1342.15" width="8.00" height="5.60" fill="#000"/>
<text x="1436" y="1354.2" font-size="30.6" text-anchor="end" letter-spacing="-0.6">25</text>
<rect x="1454.90" y="1300.40" width="8.00" height="5.60" fill="#000"/>
<text x="1436" y="1312.4" font-size="30.6" text-anchor="end" letter-spacing="-0.6">30</text>
<rect x="1454.90" y="1258.65" width="8.00" height="5.60" fill="#000"/>
<text x="1436" y="1270.7" font-size="30.6" text-anchor="end" letter-spacing="-0.6">35</text>
<rect x="1454.90" y="1216.90" width="8.00" height="5.60" fill="#000"/>
<text x="1436" y="1228.9" font-size="30.6" text-anchor="end" letter-spacing="-0.6">40</text>
<rect x="1454.90" y="1175.95" width="8.00" height="5.60" fill="#000"/>
<text x="1436" y="1187.2" font-size="30.6" text-anchor="end" letter-spacing="-0.6">45</text>
<rect x="1460.60" y="1557.00" width="5.80" height="5.90" fill="#000"/>
<rect x="1476.43" y="1557.00" width="5.80" height="5.90" fill="#000"/>
<rect x="1492.26" y="1557.00" width="5.80" height="5.90" fill="#000"/>
<rect x="1508.09" y="1557.00" width="5.80" height="5.90" fill="#000"/>
<rect x="1523.92" y="1557.00" width="5.80" height="5.90" fill="#000"/>
<rect x="1539.75" y="1557.00" width="5.80" height="5.90" fill="#000"/>
<rect x="1555.58" y="1557.00" width="5.80" height="5.90" fill="#000"/>
<rect x="1571.41" y="1557.00" width="5.80" height="5.90" fill="#000"/>
<rect x="1587.24" y="1557.00" width="5.80" height="5.90" fill="#000"/>
<rect x="1603.07" y="1557.00" width="5.80" height="5.90" fill="#000"/>
<rect x="1618.90" y="1557.00" width="5.80" height="5.90" fill="#000"/>
<rect x="1634.73" y="1557.00" width="5.80" height="5.90" fill="#000"/>
<rect x="1650.56" y="1557.00" width="5.80" height="5.90" fill="#000"/>
<rect x="1666.39" y="1557.00" width="5.80" height="5.90" fill="#000"/>
<rect x="1682.22" y="1557.00" width="5.80" height="5.90" fill="#000"/>
<rect x="1698.05" y="1557.00" width="5.80" height="5.90" fill="#000"/>
<rect x="1713.88" y="1557.00" width="5.80" height="5.90" fill="#000"/>
<rect x="1729.71" y="1557.00" width="5.80" height="5.90" fill="#000"/>
<rect x="1745.54" y="1557.00" width="5.80" height="5.90" fill="#000"/>
<rect x="1761.37" y="1557.00" width="5.80" height="5.90" fill="#000"/>
<rect x="1777.20" y="1557.00" width="5.80" height="5.90" fill="#000"/>
<rect x="1793.03" y="1557.00" width="5.80" height="5.90" fill="#000"/>
<rect x="1808.86" y="1557.00" width="5.80" height="5.90" fill="#000"/>
<rect x="1824.69" y="1557.00" width="5.80" height="5.90" fill="#000"/>
<rect x="1840.52" y="1557.00" width="5.80" height="5.90" fill="#000"/>
<rect x="1856.35" y="1557.00" width="5.80" height="5.90" fill="#000"/>
<rect x="1872.18" y="1557.00" width="5.80" height="5.90" fill="#000"/>
<rect x="1888.01" y="1557.00" width="5.80" height="5.90" fill="#000"/>
<rect x="1903.84" y="1557.00" width="5.80" height="5.90" fill="#000"/>
<rect x="1919.67" y="1557.00" width="5.80" height="5.90" fill="#000"/>
<rect x="1935.50" y="1557.00" width="5.80" height="5.90" fill="#000"/>
<rect x="1951.33" y="1557.00" width="5.80" height="5.90" fill="#000"/>
<rect x="1967.16" y="1557.00" width="5.80" height="5.90" fill="#000"/>
<rect x="1982.99" y="1557.00" width="5.80" height="5.90" fill="#000"/>
<text x="1471.1" y="1600" font-size="30.6" text-anchor="middle" letter-spacing="-0.6">0</text>
<text x="1518.4" y="1600" font-size="30.6" text-anchor="middle" letter-spacing="-0.6">9</text>
<text x="1565.2" y="1600" font-size="30.6" text-anchor="middle" letter-spacing="-0.6">18</text>
<text x="1612.5" y="1600" font-size="30.6" text-anchor="middle" letter-spacing="-0.6">27</text>
<text x="1659.8" y="1600" font-size="30.6" text-anchor="middle" letter-spacing="-0.6">36</text>
<text x="1707.1" y="1600" font-size="30.6" text-anchor="middle" letter-spacing="-0.6">45</text>
<text x="1754.4" y="1600" font-size="30.6" text-anchor="middle" letter-spacing="-0.6">54</text>
<text x="1801.7" y="1600" font-size="30.6" text-anchor="middle" letter-spacing="-0.6">63</text>
<text x="1849.0" y="1600" font-size="30.6" text-anchor="middle" letter-spacing="-0.6">72</text>
<text x="1896.3" y="1600" font-size="30.6" text-anchor="middle" letter-spacing="-0.6">81</text>
<text x="1943.6" y="1600" font-size="30.6" text-anchor="middle" letter-spacing="-0.6">90</text>
<text x="1385.6" y="1365.6" font-size="31.4" text-anchor="middle" transform="rotate(-90 1385.6 1365.6)">NesHI cells (%)</text>
<text x="1724.7" y="1636.5" font-size="31.3" text-anchor="middle">hours of treatment</text>
<text x="1479" y="1200.3" font-size="31.9" fill="#3f5fb0">Nes<tspan font-size="20" dy="-9.5">LO</tspan><tspan dy="9.5"> sorted MGG4</tspan></text>
<text x="1479.5" y="1238.6" font-size="31.5" fill="#3f5fb0">(timelapse)</text>
<text x="1479" y="1275.8" font-size="31.5" font-style="italic" fill="#3f5fb0">p&lt;0,0001</text>
<text x="1685" y="1275.8" font-size="31.5" text-anchor="end" font-style="italic" fill="#3f5fb0">n=3</text>
<text x="1752" y="1292.5" font-size="31.5" fill="#ed1c24">100uM TMZ</text>
<text x="1741.5" y="1338.8" font-size="31.5" fill="#3f58a8">50uM TMZ</text>
<text x="1699.5" y="1383.7" font-size="31.5" fill="#0aa84f">25uM TMZ</text>
<text x="1904" y="1517.2" font-size="31.5">naïve</text>
</g>
<g id="pG">
<text x="14.5" y="1763" font-size="51" font-weight="bold" transform="translate(14.5 0) scale(1.1 1) translate(-14.5 0)">G</text>
<rect x="168.90" y="2039.70" width="55.30" height="117.90" fill="#000"/>
<rect x="254.55" y="1883.25" width="49.80" height="274.35" fill="#b1b0b5" stroke="#000" stroke-width="5.5"/>
<rect x="336.45" y="1882.75" width="49.70" height="274.85" fill="#959595" stroke="#000" stroke-width="5.5"/>
<line x1="196.55" y1="2031.80" x2="196.55" y2="2042.70" stroke="#000" stroke-width="5.3"/>
<line x1="183.05" y1="2031.80" x2="210.05" y2="2031.80" stroke="#000" stroke-width="5.7" stroke-linecap="round"/>
<circle cx="185.5" cy="2027.4" r="6.0" fill="#fff" stroke="#000" stroke-width="5.2"/>
<circle cx="207.9" cy="2035.8" r="6.0" fill="#fff" stroke="#000" stroke-width="5.2"/>
<circle cx="196.6" cy="2054.2" r="6.0" fill="#fff" stroke="#000" stroke-width="5.2"/>
<circle cx="257.9" cy="1885.0" r="6.0" fill="#fff" stroke="#000" stroke-width="5.2"/>
<circle cx="279.5" cy="1875.3" r="6.0" fill="#fff" stroke="#000" stroke-width="5.2"/>
<circle cx="301.3" cy="1877.4" r="6.0" fill="#fff" stroke="#000" stroke-width="5.2"/>
<circle cx="340.0" cy="1879.2" r="6.0" fill="#fff" stroke="#000" stroke-width="5.2"/>
<circle cx="361.3" cy="1875.3" r="6.0" fill="#fff" stroke="#000" stroke-width="5.2"/>
<circle cx="382.9" cy="1877.1" r="6.0" fill="#fff" stroke="#000" stroke-width="5.2"/>
<text x="296.9" y="2139.1" font-size="31.9" fill="#ed1c24" transform="rotate(-90 296.9 2139.1)" stroke="#ed1c24" stroke-width="0.45">****</text>
<text x="378.7" y="2139.1" font-size="31.9" fill="#ed1c24" transform="rotate(-90 378.7 2139.1)" stroke="#ed1c24" stroke-width="0.45">****</text>
<rect x="139.10" y="1770.50" width="5.80" height="390.10" fill="#000"/>
<rect x="118.40" y="2154.50" width="297.90" height="6.20" fill="#000"/>
<rect x="118.40" y="2154.85" width="23.60" height="5.50" fill="#000"/>
<text x="114.6" y="2167.1" font-size="30.8" text-anchor="end">0</text>
<rect x="118.40" y="2058.75" width="23.60" height="5.50" fill="#000"/>
<text x="114.6" y="2071.0" font-size="30.8" text-anchor="end">20</text>
<rect x="118.40" y="1962.65" width="23.60" height="5.50" fill="#000"/>
<text x="114.6" y="1974.9" font-size="30.8" text-anchor="end">40</text>
<rect x="118.40" y="1866.55" width="23.60" height="5.50" fill="#000"/>
<text x="114.6" y="1878.8" font-size="30.8" text-anchor="end">60</text>
<rect x="118.40" y="1770.45" width="23.60" height="5.50" fill="#000"/>
<text x="114.6" y="1782.7" font-size="30.8" text-anchor="end">80</text>
<rect x="193.75" y="2157.60" width="5.60" height="23.60" fill="#000"/>
<text x="196.6" y="2210.8" font-size="30.8" text-anchor="middle">0</text>
<rect x="276.65" y="2157.60" width="5.60" height="23.60" fill="#000"/>
<text x="279.5" y="2210.8" font-size="30.8" text-anchor="middle">25</text>
<rect x="358.50" y="2157.60" width="5.60" height="23.60" fill="#000"/>
<text x="361.3" y="2210.8" font-size="30.8" text-anchor="middle">50</text>
<text x="279.9" y="2247.5" font-size="29.8" text-anchor="middle">TMZ concentration (uM)</text>
<text x="67.1" y="1971" font-size="29.8" text-anchor="middle" transform="rotate(-90 67.1 1971)">NesHI cells (%)</text>
<text x="155" y="1787.3" font-size="31.8" fill="#3f5fb0">Nes<tspan font-size="20" dy="-9.5">LO</tspan><tspan dy="9.5"> sorted MGG4</tspan></text>
<text x="155" y="1823.3" font-size="31.8" fill="#3f5fb0">day3</text>
<text x="462.6" y="1764.2" font-size="54" font-weight="bold" transform="translate(462.6 0) scale(1.04 1) translate(-462.6 0)">H</text>
<rect x="621.10" y="2057.10" width="51.30" height="100.90" fill="#000"/>
<rect x="700.85" y="1997.85" width="46.40" height="160.15" fill="#b1b0b5" stroke="#000" stroke-width="5.5"/>
<rect x="778.05" y="1968.85" width="46.20" height="189.15" fill="#959595" stroke="#000" stroke-width="5.5"/>
<rect x="855.05" y="1911.25" width="46.70" height="246.75" fill="#dededc" stroke="#000" stroke-width="5.5"/>
<rect x="932.65" y="1875.45" width="46.10" height="282.55" fill="#777877" stroke="#000" stroke-width="5.5"/>
<line x1="724.05" y1="1990.00" x2="724.05" y2="1998.10" stroke="#000" stroke-width="5.3"/>
<line x1="713.85" y1="1990.00" x2="734.25" y2="1990.00" stroke="#000" stroke-width="5.7" stroke-linecap="round"/>
<line x1="955.70" y1="1858.10" x2="955.70" y2="1875.70" stroke="#000" stroke-width="5.3"/>
<line x1="942.20" y1="1858.10" x2="969.20" y2="1858.10" stroke="#000" stroke-width="5.7" stroke-linecap="round"/>
<circle cx="635.4" cy="2051.8" r="6.0" fill="#fff" stroke="#000" stroke-width="5.2"/>
<circle cx="658.4" cy="2055.6" r="6.0" fill="#fff" stroke="#000" stroke-width="5.2"/>
<circle cx="635.4" cy="2064.6" r="6.0" fill="#fff" stroke="#000" stroke-width="5.2"/>
<circle cx="724.0" cy="1984.0" r="6.0" fill="#fff" stroke="#000" stroke-width="5.2"/>
<circle cx="736.0" cy="1998.4" r="6.0" fill="#fff" stroke="#000" stroke-width="5.2"/>
<circle cx="712.7" cy="2007.0" r="6.0" fill="#fff" stroke="#000" stroke-width="5.2"/>
<circle cx="781.6" cy="1967.0" r="6.0" fill="#fff" stroke="#000" stroke-width="5.2"/>
<circle cx="801.6" cy="1962.2" r="6.0" fill="#fff" stroke="#000" stroke-width="5.2"/>
<circle cx="821.0" cy="1963.7" r="6.0" fill="#fff" stroke="#000" stroke-width="5.2"/>
<circle cx="859.8" cy="1908.0" r="6.0" fill="#fff" stroke="#000" stroke-width="5.2"/>
<circle cx="879.2" cy="1902.9" r="6.0" fill="#fff" stroke="#000" stroke-width="5.2"/>
<circle cx="898.6" cy="1907.0" r="6.0" fill="#fff" stroke="#000" stroke-width="5.2"/>
<circle cx="955.8" cy="1842.9" r="6.0" fill="#fff" stroke="#000" stroke-width="5.2"/>
<circle cx="944.2" cy="1889.2" r="6.0" fill="#fff" stroke="#000" stroke-width="5.2"/>
<circle cx="967.2" cy="1889.2" r="6.0" fill="#fff" stroke="#000" stroke-width="5.2"/>
<text x="741.5" y="2138.5" font-size="31.9" fill="#ed1c24" transform="rotate(-90 741.5 2138.5)" stroke="#ed1c24" stroke-width="0.45">***</text>
<text x="818.6" y="2138.5" font-size="31.9" fill="#ed1c24" transform="rotate(-90 818.6 2138.5)" stroke="#ed1c24" stroke-width="0.45">****</text>
<text x="895.8" y="2138.5" font-size="31.9" fill="#ed1c24" transform="rotate(-90 895.8 2138.5)" stroke="#ed1c24" stroke-width="0.45">****</text>
<text x="973.1" y="2138.5" font-size="31.9" fill="#ed1c24" transform="rotate(-90 973.1 2138.5)" stroke="#ed1c24" stroke-width="0.45">****</text>
<rect x="591.80" y="1770.98" width="5.80" height="390.02" fill="#000"/>
<rect x="571.90" y="2154.90" width="436.10" height="6.20" fill="#000"/>
<rect x="571.90" y="2155.25" width="22.80" height="5.50" fill="#000"/>
<text x="568.1" y="2167.5" font-size="30.8" text-anchor="end">0</text>
<rect x="571.90" y="2059.17" width="22.80" height="5.50" fill="#000"/>
<text x="568.1" y="2071.4" font-size="30.8" text-anchor="end">20</text>
<rect x="571.90" y="1963.09" width="22.80" height="5.50" fill="#000"/>
<text x="568.1" y="1975.3" font-size="30.8" text-anchor="end">40</text>
<rect x="571.90" y="1867.01" width="22.80" height="5.50" fill="#000"/>
<text x="568.1" y="1879.3" font-size="30.8" text-anchor="end">60</text>
<rect x="571.90" y="1770.93" width="22.80" height="5.50" fill="#000"/>
<text x="568.1" y="1783.2" font-size="30.8" text-anchor="end">80</text>
<rect x="643.95" y="2158.00" width="5.60" height="23.60" fill="#000"/>
<text x="646.8" y="2210.8" font-size="30.8" text-anchor="middle">0</text>
<rect x="721.25" y="2158.00" width="5.60" height="23.60" fill="#000"/>
<text x="724.0" y="2210.8" font-size="30.8" text-anchor="middle">25</text>
<rect x="798.35" y="2158.00" width="5.60" height="23.60" fill="#000"/>
<text x="801.1" y="2210.8" font-size="30.8" text-anchor="middle">50</text>
<rect x="875.60" y="2158.00" width="5.60" height="23.60" fill="#000"/>
<text x="878.4" y="2210.8" font-size="30.8" text-anchor="middle">100</text>
<rect x="952.90" y="2158.00" width="5.60" height="23.60" fill="#000"/>
<text x="955.7" y="2210.8" font-size="30.8" text-anchor="middle">150</text>
<text x="802.3" y="2247.5" font-size="29.8" text-anchor="middle">TMZ concentration (uM)</text>
<text x="519.7" y="1971.4" font-size="29.8" text-anchor="middle" transform="rotate(-90 519.7 1971.4)">NesHI cells (%)</text>
<text x="610.7" y="1787.1" font-size="31.8" fill="#3f5fb0">Nes<tspan font-size="20" dy="-9.5">LO</tspan><tspan dy="9.5"> sorted MGG18</tspan></text>
<text x="610.7" y="1823.3" font-size="31.8" fill="#3f5fb0">day3</text>
<rect x="1125.00" y="2100.30" width="54.70" height="54.40" fill="#000"/>
<rect x="1210.15" y="1883.75" width="48.90" height="270.95" fill="#b1b0b5" stroke="#000" stroke-width="5.5"/>
<rect x="1291.75" y="1870.65" width="48.90" height="284.05" fill="#959595" stroke="#000" stroke-width="5.5"/>
<line x1="1152.35" y1="2092.40" x2="1152.35" y2="2103.30" stroke="#000" stroke-width="5.3"/>
<line x1="1138.85" y1="2092.40" x2="1165.85" y2="2092.40" stroke="#000" stroke-width="5.7" stroke-linecap="round"/>
<line x1="1234.60" y1="1815.30" x2="1234.60" y2="1884.00" stroke="#000" stroke-width="5.3"/>
<line x1="1221.10" y1="1815.30" x2="1248.10" y2="1815.30" stroke="#000" stroke-width="5.7" stroke-linecap="round"/>
<line x1="1316.20" y1="1848.40" x2="1316.20" y2="1870.90" stroke="#000" stroke-width="5.3"/>
<line x1="1302.70" y1="1848.40" x2="1329.70" y2="1848.40" stroke="#000" stroke-width="5.7" stroke-linecap="round"/>
<circle cx="1152.6" cy="2084.5" r="6.0" fill="#fff" stroke="#000" stroke-width="5.2"/>
<circle cx="1141.3" cy="2107.4" r="6.0" fill="#fff" stroke="#000" stroke-width="5.2"/>
<circle cx="1163.7" cy="2106.8" r="6.0" fill="#fff" stroke="#000" stroke-width="5.2"/>
<circle cx="1223.2" cy="1815.3" r="6.0" fill="#fff" stroke="#000" stroke-width="5.2"/>
<circle cx="1246.0" cy="1815.3" r="6.0" fill="#fff" stroke="#000" stroke-width="5.2"/>
<circle cx="1234.2" cy="2013.4" r="6.0" fill="#fff" stroke="#000" stroke-width="5.2"/>
<circle cx="1316.3" cy="1827.9" r="6.0" fill="#fff" stroke="#000" stroke-width="5.2"/>
<circle cx="1316.3" cy="1881.0" r="6.0" fill="#fff" stroke="#000" stroke-width="5.2"/>
<circle cx="1316.3" cy="1894.2" r="6.0" fill="#fff" stroke="#000" stroke-width="5.2"/>
<text x="1252.0" y="2134.9" font-size="31.9" fill="#ed1c24" transform="rotate(-90 1252.0 2134.9)" stroke="#ed1c24" stroke-width="0.45">*</text>
<text x="1333.6" y="2134.9" font-size="31.9" fill="#ed1c24" transform="rotate(-90 1333.6 2134.9)" stroke="#ed1c24" stroke-width="0.45">*</text>
<rect x="1094.90" y="1770.00" width="5.80" height="387.70" fill="#000"/>
<rect x="1075.00" y="2151.60" width="296.00" height="6.20" fill="#000"/>
<rect x="1075.00" y="2151.95" width="22.80" height="5.50" fill="#000"/>
<text x="1071.1" y="2164.2" font-size="30.8" text-anchor="end">0</text>
<rect x="1075.00" y="2075.55" width="22.80" height="5.50" fill="#000"/>
<text x="1071.1" y="2087.8" font-size="30.8" text-anchor="end">20</text>
<rect x="1075.00" y="1999.15" width="22.80" height="5.50" fill="#000"/>
<text x="1071.1" y="2011.4" font-size="30.8" text-anchor="end">40</text>
<rect x="1075.00" y="1922.75" width="22.80" height="5.50" fill="#000"/>
<text x="1071.1" y="1935.0" font-size="30.8" text-anchor="end">60</text>
<rect x="1075.00" y="1846.35" width="22.80" height="5.50" fill="#000"/>
<text x="1071.1" y="1858.6" font-size="30.8" text-anchor="end">80</text>
<rect x="1075.00" y="1769.95" width="22.80" height="5.50" fill="#000"/>
<text x="1071.1" y="1782.2" font-size="30.8" text-anchor="end">100</text>
<rect x="1149.55" y="2154.70" width="5.60" height="23.60" fill="#000"/>
<text x="1152.3" y="2206.8" font-size="30.8" text-anchor="middle">0</text>
<rect x="1231.80" y="2154.70" width="5.60" height="23.60" fill="#000"/>
<text x="1234.6" y="2206.8" font-size="30.8" text-anchor="middle">25</text>
<rect x="1313.40" y="2154.70" width="5.60" height="23.60" fill="#000"/>
<text x="1316.2" y="2206.8" font-size="30.8" text-anchor="middle">50</text>
<text x="1235.5" y="2244" font-size="29.8" text-anchor="middle">TMZ concentration (uM)</text>
<text x="1114.3" y="1787.3" font-size="31.8" fill="#3f5fb0">Nes<tspan font-size="20" dy="-9.5">LO</tspan><tspan dy="9.5"> sorted GL261</tspan></text>
<text x="1114.3" y="1823.3" font-size="31.8" fill="#3f5fb0">day3</text>
</g>
<g id="pI">
<text x="1434.6" y="1762.6" font-size="53" font-weight="bold">I</text>
<line x1="1595.30" y1="1869.00" x2="1894.90" y2="1832.20" stroke="#000" stroke-width="2.3"/>
<line x1="1595.30" y1="2019.60" x2="1894.90" y2="1901.00" stroke="#ee3a2c" stroke-width="2.3"/>
<line x1="1595.30" y1="1850.70" x2="1595.30" y2="1882.50" stroke="#000" stroke-width="2.3"/>
<line x1="1588.70" y1="1850.70" x2="1601.90" y2="1850.70" stroke="#000" stroke-width="2.3"/>
<line x1="1588.70" y1="1882.50" x2="1601.90" y2="1882.50" stroke="#000" stroke-width="2.3"/>
<line x1="1670.20" y1="1848.20" x2="1670.20" y2="1877.70" stroke="#000" stroke-width="2.3"/>
<line x1="1663.60" y1="1848.20" x2="1676.80" y2="1848.20" stroke="#000" stroke-width="2.3"/>
<line x1="1663.60" y1="1877.70" x2="1676.80" y2="1877.70" stroke="#000" stroke-width="2.3"/>
<line x1="1782.15" y1="1830.60" x2="1782.15" y2="1865.80" stroke="#000" stroke-width="2.3"/>
<line x1="1775.55" y1="1830.60" x2="1788.75" y2="1830.60" stroke="#000" stroke-width="2.3"/>
<line x1="1775.55" y1="1865.80" x2="1788.75" y2="1865.80" stroke="#000" stroke-width="2.3"/>
<line x1="1782.15" y1="1949.10" x2="1782.15" y2="1966.10" stroke="#000" stroke-width="2.3"/>
<line x1="1775.55" y1="1949.10" x2="1788.75" y2="1949.10" stroke="#000" stroke-width="2.3"/>
<line x1="1775.55" y1="1966.10" x2="1788.75" y2="1966.10" stroke="#000" stroke-width="2.3"/>
<line x1="1894.90" y1="1886.00" x2="1894.90" y2="1900.00" stroke="#000" stroke-width="2.3"/>
<line x1="1888.30" y1="1886.00" x2="1901.50" y2="1886.00" stroke="#000" stroke-width="2.3"/>
<line x1="1888.30" y1="1900.00" x2="1901.50" y2="1900.00" stroke="#000" stroke-width="2.3"/>
<polygon points="1595.3,1861.1 1601.9,1872.0 1588.7,1872.0" fill="#000"/>
<polygon points="1670.2,1856.9 1676.8,1867.8 1663.6,1867.8" fill="#000"/>
<polygon points="1782.1,1842.8 1788.7,1853.7 1775.5,1853.7" fill="#000"/>
<polygon points="1894.9,1825.9 1901.5,1836.8 1888.3,1836.8" fill="#000"/>
<circle cx="1595.3" cy="2018.0" r="5.6" fill="#000"/>
<circle cx="1670.2" cy="1989.2" r="5.6" fill="#000"/>
<circle cx="1782.1" cy="1957.8" r="5.6" fill="#000"/>
<circle cx="1894.9" cy="1893.0" r="5.6" fill="#000"/>
<rect x="1554.30" y="1767.80" width="6.80" height="383.00" fill="#000"/>
<rect x="1534.70" y="2143.80" width="363.30" height="6.60" fill="#000"/>
<rect x="1534.70" y="2144.30" width="22.00" height="5.60" fill="#000"/>
<text x="1531.8" y="2156.6" font-size="30.8" text-anchor="end">0</text>
<rect x="1534.70" y="2050.18" width="22.00" height="5.60" fill="#000"/>
<text x="1531.8" y="2062.5" font-size="30.8" text-anchor="end">20</text>
<rect x="1534.70" y="1956.06" width="22.00" height="5.60" fill="#000"/>
<text x="1531.8" y="1968.4" font-size="30.8" text-anchor="end">40</text>
<rect x="1534.70" y="1861.94" width="22.00" height="5.60" fill="#000"/>
<text x="1531.8" y="1874.2" font-size="30.8" text-anchor="end">60</text>
<rect x="1534.70" y="1767.82" width="22.00" height="5.60" fill="#000"/>
<text x="1531.8" y="1780.1" font-size="30.8" text-anchor="end">80</text>
<rect x="1592.20" y="2147.00" width="6.20" height="23.20" fill="#000"/>
<text x="1595.3" y="2202" font-size="30.5" text-anchor="middle">0</text>
<rect x="1667.10" y="2147.00" width="6.20" height="23.20" fill="#000"/>
<text x="1670.2" y="2202" font-size="30.5" text-anchor="middle">2</text>
<rect x="1742.00" y="2147.00" width="6.20" height="23.20" fill="#000"/>
<text x="1745.1" y="2202" font-size="30.5" text-anchor="middle">4</text>
<rect x="1816.90" y="2147.00" width="6.20" height="23.20" fill="#000"/>
<text x="1820.0" y="2202" font-size="30.5" text-anchor="middle">6</text>
<rect x="1891.80" y="2147.00" width="6.20" height="23.20" fill="#000"/>
<text x="1894.9" y="2202" font-size="30.5" text-anchor="middle">8</text>
<text x="1727.6" y="2245.5" font-size="29.6" text-anchor="middle">irradatiation dose (Gy)</text>
<text x="1468.1" y="1964.3" font-size="30" text-anchor="middle" transform="rotate(-90 1468.1 1964.3)">NesHI cells (%)</text>
<text x="1574" y="1788.3" font-size="31.3" fill="#3f5fb0">MGG4</text>
<text x="1595.3" y="1844.0" font-size="37" text-anchor="middle" stroke="#000" stroke-width="0.5">****</text>
<text x="1671.5" y="1841.5" font-size="37" text-anchor="middle" stroke="#000" stroke-width="0.5">***</text>
<text x="1780.5" y="1824.2" font-size="37" text-anchor="middle" stroke="#000" stroke-width="0.5">***</text>
<text x="1894.9" y="1824.2" font-size="37" text-anchor="middle" stroke="#000" stroke-width="0.5">**</text>
<text x="1707.5" y="2035.6" font-size="31.8" font-style="italic" fill="#3f5fb0">p&lt;0,0001</text>
<text x="1913.8" y="2035.6" font-size="31.8" text-anchor="end" font-style="italic" fill="#3f5fb0">n=3</text>
<line x1="1719.60" y1="2071.80" x2="1782.10" y2="2071.80" stroke="#ee3a2c" stroke-width="2.3"/>
<circle cx="1751.0" cy="2071.8" r="5.6" fill="#000"/>
<line x1="1719.60" y1="2109.30" x2="1782.10" y2="2109.30" stroke="#000" stroke-width="2.3"/>
<polygon points="1751.0,2103.0 1757.6,2113.9 1744.4,2113.9" fill="#000"/>
<text x="1793.5" y="2080.5" font-size="30">IR</text>
<text x="1793.5" y="2119" font-size="29.5">IR+TMZ</text>
<text x="2000.5" y="2119" font-size="29.5" text-anchor="end">(25uM)</text>
</g>
</svg>
</body></html>
